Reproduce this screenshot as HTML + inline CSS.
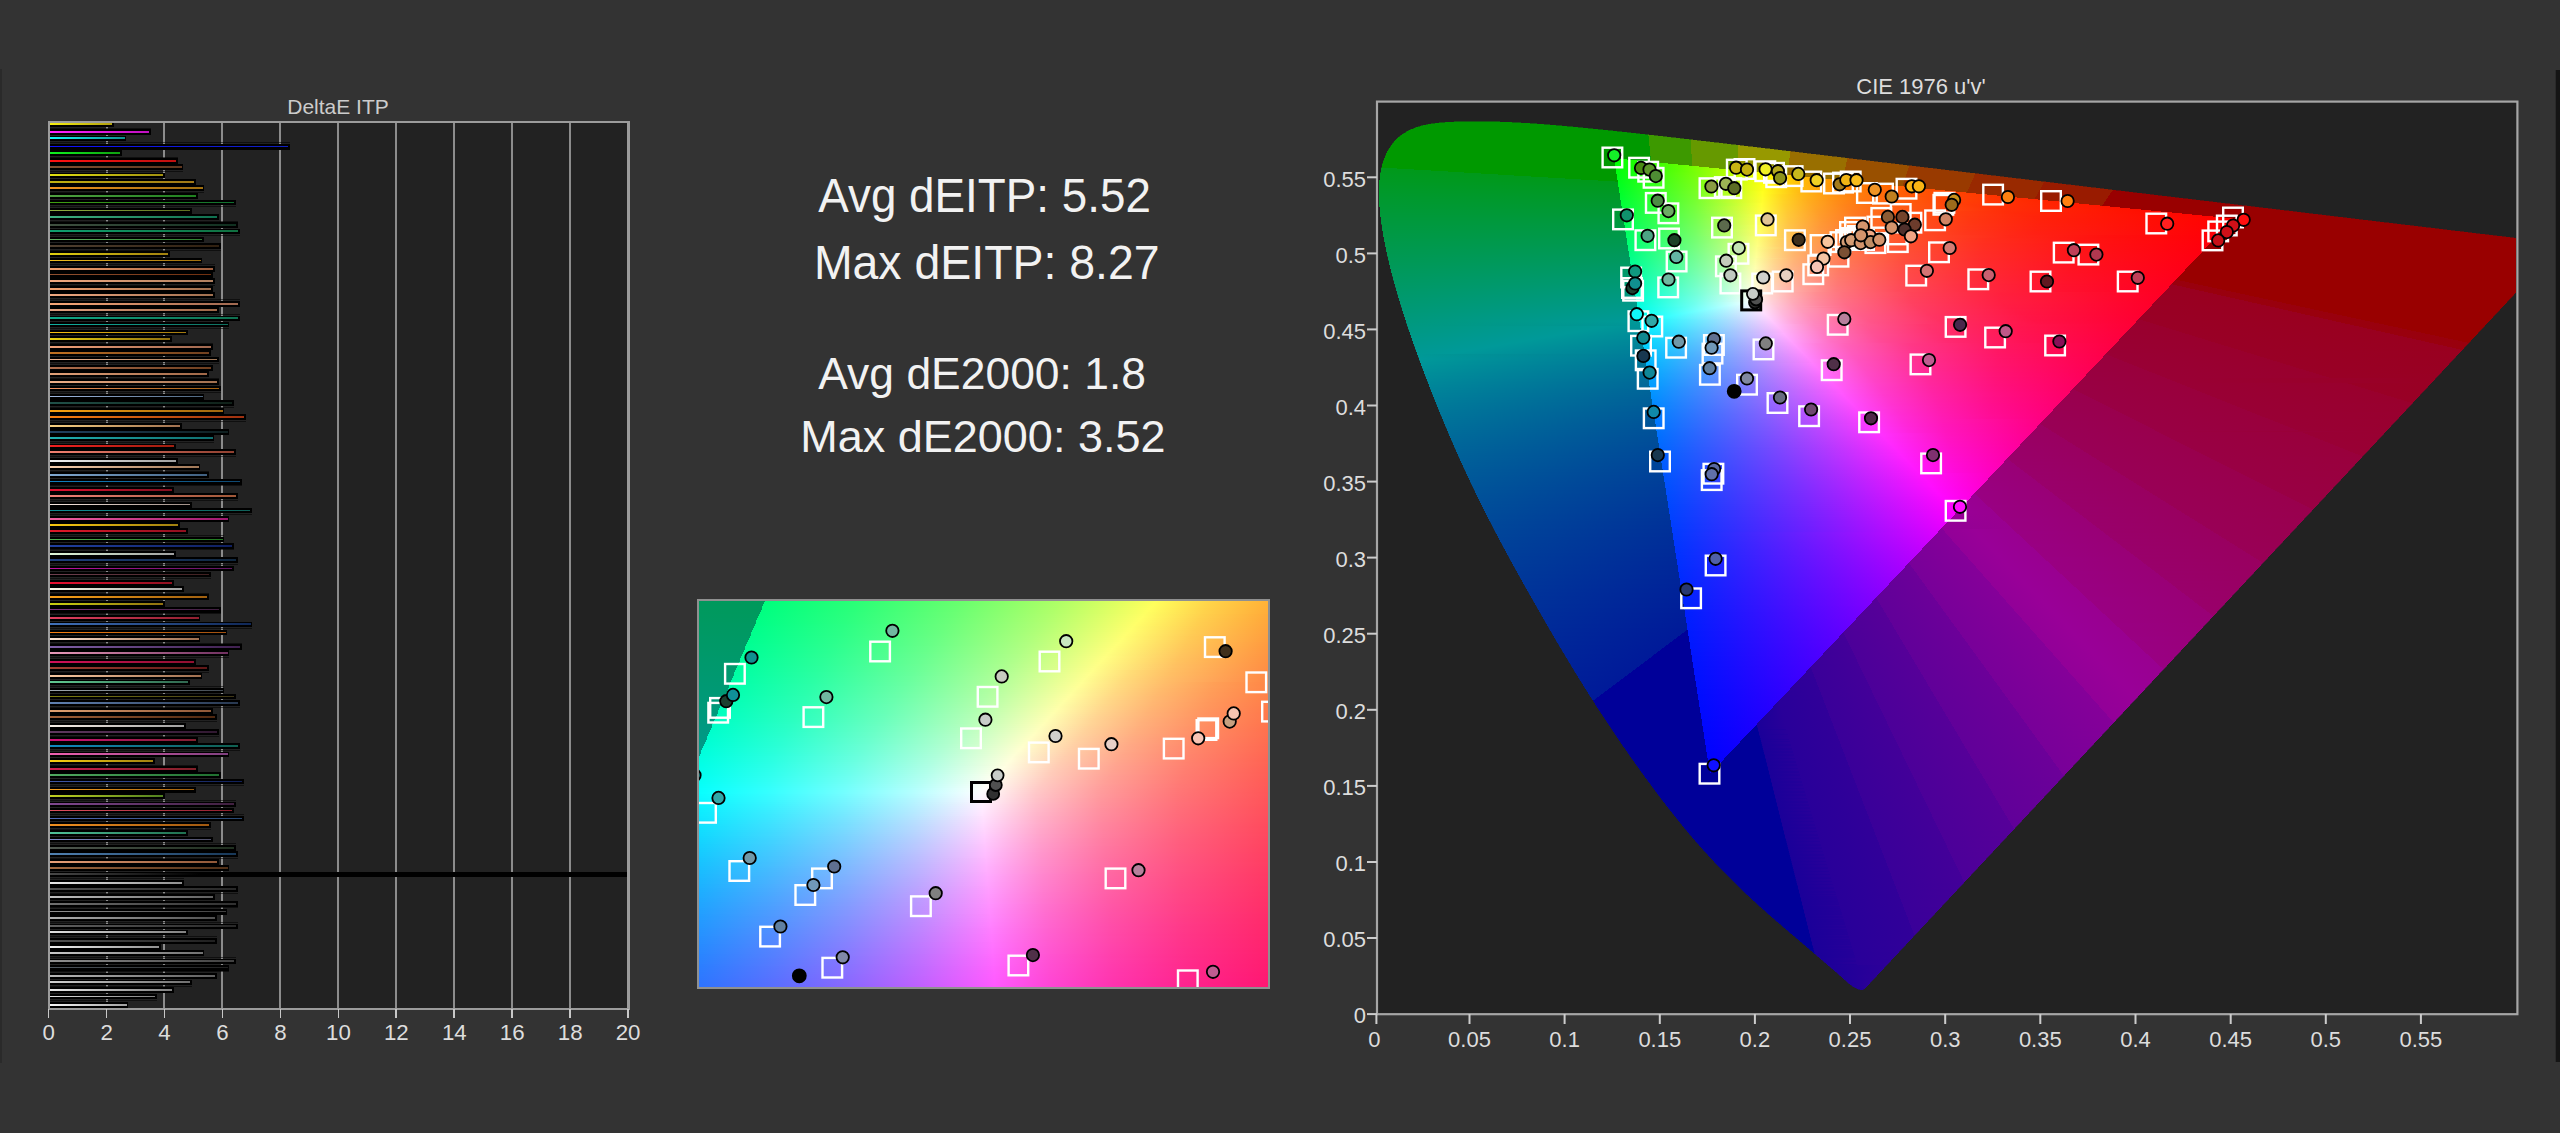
<!DOCTYPE html><html><head><meta charset="utf-8"><title>ColorChecker dEITP</title><style>
html,body{margin:0;padding:0;background:#333}
body{width:2560px;height:1133px;position:relative;overflow:hidden;font-family:"Liberation Sans",sans-serif;color:#ddd}
.a{position:absolute}
#cie i{display:block;height:1px}#ins i{display:block;height:2px}
.t{position:absolute;font-size:22px;line-height:22px;white-space:nowrap;color:#ddd}
#bars b{position:absolute;left:49px;height:5.8px;background:#000}
#bars u{position:absolute;left:49px;height:1px;background:rgba(0,0,0,.55)}
#bars i{position:absolute;left:50px;height:1.8px}
#bars s{position:absolute;top:122px;width:2px;height:886px;background:#8c8c8c}
</style></head><body>
<div class="a" style="left:0;top:69px;width:2px;height:994px;background:#2a2a2a"></div>
<div class="a" style="left:2555px;top:70px;width:5px;height:992px;background:#151515;border-left:1.5px solid #2a2a2a;box-sizing:border-box"></div>
<div id="bars" class="a" style="left:0;top:0;width:700px;height:1133px">
<div class="a" style="left:49px;top:122px;width:580px;height:886px;background:#222"></div>
<s style="left:105.5px"></s>
<s style="left:163.4px"></s>
<s style="left:221.4px"></s>
<s style="left:279.3px"></s>
<s style="left:337.2px"></s>
<s style="left:395.2px"></s>
<s style="left:453.2px"></s>
<s style="left:511.1px"></s>
<s style="left:569.1px"></s>
<b style="top:121.2px;width:64.6px"></b>
<u style="top:127.5px;width:101.7px"></u>
<b style="top:128.9px;width:101.7px"></b>
<b style="top:135.5px;width:77.3px"></b>
<u style="top:142.1px;width:240.9px"></u>
<b style="top:143.8px;width:240.9px"></b>
<b style="top:149.9px;width:72.8px"></b>
<u style="top:156.5px;width:128.6px"></u>
<b style="top:158.3px;width:128.6px"></b>
<b style="top:164.4px;width:134.2px"></b>
<u style="top:170.9px;width:134.2px"></u>
<b style="top:172.5px;width:115.9px"></b>
<b style="top:178.9px;width:146.9px"></b>
<b style="top:185.0px;width:155.0px"></b>
<u style="top:191.6px;width:155.0px"></u>
<b style="top:193.4px;width:148.9px"></b>
<b style="top:199.7px;width:186.5px"></b>
<u style="top:206.1px;width:186.5px"></u>
<b style="top:207.8px;width:142.8px"></b>
<b style="top:214.0px;width:169.8px"></b>
<u style="top:220.6px;width:188.5px"></u>
<b style="top:222.4px;width:188.5px"></b>
<b style="top:228.5px;width:190.6px"></b>
<u style="top:234.9px;width:190.6px"></u>
<b style="top:236.6px;width:154.5px"></b>
<b style="top:243.2px;width:171.8px"></b>
<u style="top:249.6px;width:171.8px"></u>
<b style="top:251.2px;width:120.5px"></b>
<b style="top:257.7px;width:153.0px"></b>
<u style="top:264.2px;width:165.7px"></u>
<b style="top:265.9px;width:165.7px"></b>
<b style="top:271.8px;width:163.7px"></b>
<b style="top:278.3px;width:165.7px"></b>
<u style="top:284.8px;width:165.7px"></u>
<b style="top:286.4px;width:163.7px"></b>
<b style="top:292.4px;width:165.7px"></b>
<u style="top:299.1px;width:190.6px"></u>
<b style="top:300.9px;width:190.6px"></b>
<b style="top:307.1px;width:169.8px"></b>
<u style="top:313.7px;width:190.6px"></u>
<b style="top:315.5px;width:190.6px"></b>
<b style="top:321.6px;width:180.4px"></b>
<u style="top:328.1px;width:180.4px"></u>
<b style="top:329.7px;width:138.8px"></b>
<b style="top:336.0px;width:122.5px"></b>
<u style="top:342.6px;width:163.7px"></u>
<b style="top:344.4px;width:163.7px"></b>
<b style="top:350.3px;width:161.6px"></b>
<b style="top:356.6px;width:169.8px"></b>
<u style="top:363.1px;width:169.8px"></u>
<b style="top:364.9px;width:163.7px"></b>
<b style="top:371.0px;width:159.6px"></b>
<u style="top:377.6px;width:169.8px"></u>
<b style="top:379.4px;width:169.8px"></b>
<b style="top:385.7px;width:171.8px"></b>
<u style="top:392.1px;width:171.8px"></u>
<b style="top:393.8px;width:155.0px"></b>
<b style="top:400.2px;width:184.5px"></b>
<u style="top:406.6px;width:184.5px"></u>
<b style="top:408.3px;width:175.3px"></b>
<b style="top:414.4px;width:196.7px"></b>
<u style="top:421.1px;width:196.7px"></u>
<b style="top:422.9px;width:132.7px"></b>
<b style="top:429.0px;width:180.4px"></b>
<b style="top:435.4px;width:165.2px"></b>
<u style="top:441.9px;width:165.2px"></u>
<b style="top:443.5px;width:126.6px"></b>
<b style="top:449.4px;width:186.5px"></b>
<u style="top:456.1px;width:186.5px"></u>
<b style="top:458.1px;width:128.6px"></b>
<b style="top:464.2px;width:151.0px"></b>
<u style="top:470.6px;width:159.6px"></u>
<b style="top:472.3px;width:159.6px"></b>
<b style="top:478.8px;width:192.6px"></b>
<u style="top:485.4px;width:192.6px"></u>
<b style="top:487.1px;width:124.6px"></b>
<b style="top:493.2px;width:188.5px"></b>
<u style="top:499.9px;width:188.5px"></u>
<b style="top:501.8px;width:142.8px"></b>
<b style="top:507.6px;width:202.8px"></b>
<u style="top:514.2px;width:202.8px"></u>
<b style="top:516.0px;width:180.4px"></b>
<b style="top:522.2px;width:130.7px"></b>
<b style="top:528.2px;width:138.8px"></b>
<u style="top:534.8px;width:175.3px"></u>
<b style="top:536.6px;width:175.3px"></b>
<b style="top:542.9px;width:184.5px"></b>
<u style="top:549.3px;width:184.5px"></u>
<b style="top:551.0px;width:126.6px"></b>
<b style="top:557.4px;width:188.5px"></b>
<u style="top:563.9px;width:188.5px"></u>
<b style="top:565.6px;width:184.5px"></b>
<b style="top:571.7px;width:161.6px"></b>
<u style="top:578.4px;width:161.6px"></u>
<b style="top:580.2px;width:124.6px"></b>
<b style="top:586.3px;width:134.7px"></b>
<u style="top:592.8px;width:159.6px"></u>
<b style="top:594.4px;width:159.6px"></b>
<b style="top:601.0px;width:115.9px"></b>
<b style="top:606.8px;width:171.8px"></b>
<u style="top:613.4px;width:171.8px"></u>
<b style="top:615.2px;width:151.0px"></b>
<b style="top:621.5px;width:203.3px"></b>
<u style="top:628.0px;width:203.3px"></u>
<b style="top:629.6px;width:178.4px"></b>
<b style="top:635.9px;width:151.0px"></b>
<u style="top:642.5px;width:192.6px"></u>
<b style="top:644.2px;width:192.6px"></b>
<b style="top:650.3px;width:180.4px"></b>
<u style="top:657.0px;width:180.4px"></u>
<b style="top:658.9px;width:146.9px"></b>
<b style="top:665.1px;width:159.6px"></b>
<u style="top:671.5px;width:159.6px"></u>
<b style="top:673.1px;width:153.0px"></b>
<b style="top:679.5px;width:140.8px"></b>
<u style="top:686.0px;width:175.3px"></u>
<b style="top:687.6px;width:175.3px"></b>
<b style="top:693.7px;width:186.5px"></b>
<b style="top:700.1px;width:190.6px"></b>
<u style="top:706.5px;width:190.6px"></u>
<b style="top:708.2px;width:163.7px"></b>
<b style="top:714.3px;width:167.7px"></b>
<u style="top:721.0px;width:167.7px"></u>
<b style="top:722.9px;width:136.7px"></b>
<b style="top:729.0px;width:169.8px"></b>
<u style="top:735.5px;width:169.8px"></u>
<b style="top:737.2px;width:148.9px"></b>
<b style="top:743.4px;width:190.6px"></b>
<u style="top:749.8px;width:190.6px"></u>
<b style="top:751.5px;width:180.4px"></b>
<b style="top:758.0px;width:105.8px"></b>
<u style="top:764.5px;width:148.9px"></u>
<b style="top:766.2px;width:148.9px"></b>
<b style="top:772.3px;width:171.8px"></b>
<b style="top:778.7px;width:194.6px"></b>
<u style="top:785.2px;width:194.6px"></u>
<b style="top:786.8px;width:146.9px"></b>
<b style="top:792.9px;width:115.9px"></b>
<u style="top:799.6px;width:186.5px"></u>
<b style="top:801.5px;width:186.5px"></b>
<b style="top:807.6px;width:184.5px"></b>
<u style="top:814.0px;width:194.6px"></u>
<b style="top:815.7px;width:194.6px"></b>
<b style="top:822.1px;width:161.6px"></b>
<u style="top:828.5px;width:161.6px"></u>
<b style="top:830.2px;width:138.8px"></b>
<b style="top:836.6px;width:163.7px"></b>
<u style="top:843.2px;width:186.5px"></u>
<b style="top:845.0px;width:186.5px"></b>
<b style="top:850.9px;width:188.5px"></b>
<u style="top:857.5px;width:188.5px"></u>
<b style="top:859.3px;width:169.8px"></b>
<b style="top:865.4px;width:180.4px"></b>
<b style="top:871.5px;width:580.0px"></b>
<u style="top:878.1px;width:134.7px"></u>
<b style="top:880.0px;width:134.7px"></b>
<b style="top:886.2px;width:188.5px"></b>
<u style="top:892.7px;width:188.5px"></u>
<b style="top:894.3px;width:165.7px"></b>
<b style="top:901.0px;width:188.5px"></b>
<u style="top:907.3px;width:188.5px"></u>
<b style="top:908.8px;width:178.4px"></b>
<b style="top:914.9px;width:167.7px"></b>
<u style="top:921.6px;width:188.5px"></u>
<b style="top:923.5px;width:188.5px"></b>
<b style="top:929.5px;width:138.8px"></b>
<u style="top:936.1px;width:167.7px"></u>
<b style="top:938.0px;width:167.7px"></b>
<b style="top:944.1px;width:111.9px"></b>
<b style="top:950.2px;width:155.0px"></b>
<u style="top:956.8px;width:186.5px"></u>
<b style="top:958.5px;width:186.5px"></b>
<b style="top:964.8px;width:180.4px"></b>
<u style="top:971.2px;width:180.4px"></u>
<b style="top:972.9px;width:167.7px"></b>
<b style="top:979.5px;width:142.8px"></b>
<u style="top:985.8px;width:142.8px"></u>
<b style="top:987.4px;width:124.6px"></b>
<b style="top:993.7px;width:107.8px"></b>
<u style="top:1000.4px;width:107.8px"></u>
<b style="top:1002.3px;width:79.2px"></b>
<i style="top:123.1px;width:62.1px;background:linear-gradient(90deg,#f8f010,#b0a010)"></i>
<i style="top:130.8px;width:99.2px;background:linear-gradient(90deg,#ff20ff,#c010c0)"></i>
<i style="top:137.4px;width:74.8px;background:linear-gradient(90deg,#10f8f8,#109090)"></i>
<i style="top:145.7px;width:238.4px;background:linear-gradient(90deg,#1010ff,#1020c0)"></i>
<i style="top:151.8px;width:70.3px;background:linear-gradient(90deg,#10f020,#10a010)"></i>
<i style="top:160.2px;width:126.1px;background:linear-gradient(90deg,#ff1010,#c01010)"></i>
<i style="top:166.3px;width:131.7px;background:linear-gradient(90deg,#805030,#603820)"></i>
<i style="top:174.4px;width:113.4px;background:linear-gradient(90deg,#e0e010,#a09010)"></i>
<i style="top:180.8px;width:144.4px;background:linear-gradient(90deg,#c0b010,#a07818)"></i>
<i style="top:186.9px;width:152.5px;background:linear-gradient(90deg,#f09020,#a07010)"></i>
<i style="top:195.3px;width:146.4px;background:linear-gradient(90deg,#50a040,#208020)"></i>
<i style="top:201.6px;width:184.0px;background:linear-gradient(90deg,#40a010,#107030)"></i>
<i style="top:209.7px;width:140.3px;background:linear-gradient(90deg,#90b040,#607020)"></i>
<i style="top:215.9px;width:167.3px;background:linear-gradient(90deg,#40b080,#107050)"></i>
<i style="top:224.3px;width:186.0px;background:linear-gradient(90deg,#405040,#103020)"></i>
<i style="top:230.4px;width:188.1px;background:linear-gradient(90deg,#10a070,#107040)"></i>
<i style="top:238.5px;width:152.0px;background:linear-gradient(90deg,#60b060,#308030)"></i>
<i style="top:245.1px;width:169.3px;background:linear-gradient(90deg,#504030,#302010)"></i>
<i style="top:253.1px;width:118.0px;background:linear-gradient(90deg,#e0d010,#a08010)"></i>
<i style="top:259.6px;width:150.5px;background:linear-gradient(90deg,#f0c020,#a07010)"></i>
<i style="top:267.8px;width:163.2px;background:linear-gradient(90deg,#f0a070,#a06040)"></i>
<i style="top:273.7px;width:161.2px;background:linear-gradient(90deg,#905030,#703010)"></i>
<i style="top:280.2px;width:163.2px;background:linear-gradient(90deg,#f0a880,#b08060)"></i>
<i style="top:288.3px;width:161.2px;background:linear-gradient(90deg,#f0a070,#a07050)"></i>
<i style="top:294.3px;width:163.2px;background:linear-gradient(90deg,#f0a880,#a07050)"></i>
<i style="top:302.8px;width:188.1px;background:linear-gradient(90deg,#f8a878,#a06850)"></i>
<i style="top:309.0px;width:167.3px;background:linear-gradient(90deg,#e0a080,#a06848)"></i>
<i style="top:317.4px;width:188.1px;background:linear-gradient(90deg,#10a888,#107050)"></i>
<i style="top:323.5px;width:177.9px;background:linear-gradient(90deg,#10b0a0,#107060)"></i>
<i style="top:331.6px;width:136.3px;background:linear-gradient(90deg,#f8c010,#a07810)"></i>
<i style="top:337.9px;width:120.0px;background:linear-gradient(90deg,#e8d010,#907010)"></i>
<i style="top:346.3px;width:161.2px;background:linear-gradient(90deg,#f0a078,#a06850)"></i>
<i style="top:352.2px;width:159.1px;background:linear-gradient(90deg,#c07020,#704020)"></i>
<i style="top:358.5px;width:167.3px;background:linear-gradient(90deg,#e8b090,#a07858)"></i>
<i style="top:366.8px;width:161.2px;background:linear-gradient(90deg,#b07050,#704020)"></i>
<i style="top:372.9px;width:157.1px;background:linear-gradient(90deg,#e0a078,#a06848)"></i>
<i style="top:381.3px;width:167.3px;background:linear-gradient(90deg,#f0b088,#a07050)"></i>
<i style="top:387.6px;width:169.3px;background:linear-gradient(90deg,#f09060,#a06010)"></i>
<i style="top:395.7px;width:152.5px;background:linear-gradient(90deg,#a0b8e0,#506880)"></i>
<i style="top:402.1px;width:182.0px;background:linear-gradient(90deg,#205048,#102018)"></i>
<i style="top:410.2px;width:172.8px;background:linear-gradient(90deg,#f8a010,#a06810)"></i>
<i style="top:416.3px;width:194.2px;background:linear-gradient(90deg,#f88010,#a03010)"></i>
<i style="top:424.8px;width:130.2px;background:linear-gradient(90deg,#f8d080,#a07050)"></i>
<i style="top:430.9px;width:177.9px;background:linear-gradient(90deg,#204060,#102020)"></i>
<i style="top:437.3px;width:162.7px;background:linear-gradient(90deg,#20b0b0,#107070)"></i>
<i style="top:445.4px;width:124.1px;background:linear-gradient(90deg,#f02020,#a02010)"></i>
<i style="top:451.3px;width:184.0px;background:linear-gradient(90deg,#f08070,#904030)"></i>
<i style="top:460.0px;width:126.1px;background:linear-gradient(90deg,#f0f0f0,#a0a0a0)"></i>
<i style="top:466.1px;width:148.5px;background:linear-gradient(90deg,#f8d0b0,#a07858)"></i>
<i style="top:474.2px;width:157.1px;background:linear-gradient(90deg,#80a8d0,#406080)"></i>
<i style="top:480.7px;width:190.1px;background:linear-gradient(90deg,#1080c0,#104870)"></i>
<i style="top:489.0px;width:122.1px;background:linear-gradient(90deg,#e01030,#801020)"></i>
<i style="top:495.1px;width:186.0px;background:linear-gradient(90deg,#f08078,#a05838)"></i>
<i style="top:503.7px;width:140.3px;background:linear-gradient(90deg,#f8e8e0,#a09088)"></i>
<i style="top:509.5px;width:200.3px;background:linear-gradient(90deg,#109098,#106058)"></i>
<i style="top:517.9px;width:177.9px;background:linear-gradient(90deg,#f060a0,#a01870)"></i>
<i style="top:524.1px;width:128.2px;background:linear-gradient(90deg,#f8c810,#a08010)"></i>
<i style="top:530.1px;width:136.3px;background:linear-gradient(90deg,#e01828,#901020)"></i>
<i style="top:538.5px;width:172.8px;background:linear-gradient(90deg,#50b050,#207820)"></i>
<i style="top:544.8px;width:182.0px;background:linear-gradient(90deg,#2040a0,#102060)"></i>
<i style="top:552.9px;width:124.1px;background:linear-gradient(90deg,#e0f8d8,#a0a0a0)"></i>
<i style="top:559.3px;width:186.0px;background:linear-gradient(90deg,#204080,#102840)"></i>
<i style="top:567.5px;width:182.0px;background:linear-gradient(90deg,#c010a0,#601860)"></i>
<i style="top:573.6px;width:159.1px;background:linear-gradient(90deg,#704050,#402020)"></i>
<i style="top:582.1px;width:122.1px;background:linear-gradient(90deg,#e81030,#901020)"></i>
<i style="top:588.2px;width:132.2px;background:linear-gradient(90deg,#f8f8e8,#a0a0a0)"></i>
<i style="top:596.3px;width:157.1px;background:linear-gradient(90deg,#f8a018,#a06010)"></i>
<i style="top:602.9px;width:113.4px;background:linear-gradient(90deg,#c8d010,#907010)"></i>
<i style="top:608.7px;width:169.3px;background:linear-gradient(90deg,#803880,#402040)"></i>
<i style="top:617.1px;width:148.5px;background:linear-gradient(90deg,#e04060,#902030)"></i>
<i style="top:623.4px;width:200.8px;background:linear-gradient(90deg,#4070b8,#102858)"></i>
<i style="top:631.5px;width:175.9px;background:linear-gradient(90deg,#f88010,#a05010)"></i>
<i style="top:637.8px;width:148.5px;background:linear-gradient(90deg,#f8e0d0,#a07050)"></i>
<i style="top:646.1px;width:190.1px;background:linear-gradient(90deg,#8060a8,#402050)"></i>
<i style="top:652.2px;width:177.9px;background:linear-gradient(90deg,#e898b8,#703060)"></i>
<i style="top:660.8px;width:144.4px;background:linear-gradient(90deg,#d01058,#901030)"></i>
<i style="top:667.0px;width:157.1px;background:linear-gradient(90deg,#a04030,#601818)"></i>
<i style="top:675.0px;width:150.5px;background:linear-gradient(90deg,#f8c8a0,#a07050)"></i>
<i style="top:681.4px;width:138.3px;background:linear-gradient(90deg,#60c890,#306850)"></i>
<i style="top:689.5px;width:172.8px;background:linear-gradient(90deg,#a0a8b0,#404850)"></i>
<i style="top:695.6px;width:184.0px;background:linear-gradient(90deg,#808010,#403818)"></i>
<i style="top:702.0px;width:188.1px;background:linear-gradient(90deg,#6080b0,#283850)"></i>
<i style="top:710.1px;width:161.2px;background:linear-gradient(90deg,#e0a070,#905838)"></i>
<i style="top:716.2px;width:165.2px;background:linear-gradient(90deg,#a06038,#502810)"></i>
<i style="top:724.8px;width:134.2px;background:linear-gradient(90deg,#f8f0e8,#a0a0a0)"></i>
<i style="top:730.9px;width:167.3px;background:linear-gradient(90deg,#603860,#301830)"></i>
<i style="top:739.1px;width:146.4px;background:linear-gradient(90deg,#d01078,#802030)"></i>
<i style="top:745.3px;width:188.1px;background:linear-gradient(90deg,#1088c0,#106050)"></i>
<i style="top:753.4px;width:177.9px;background:linear-gradient(90deg,#f060b0,#804080)"></i>
<i style="top:759.9px;width:103.3px;background:linear-gradient(90deg,#f8d010,#a08010)"></i>
<i style="top:768.1px;width:146.4px;background:linear-gradient(90deg,#d02050,#802028)"></i>
<i style="top:774.2px;width:169.3px;background:linear-gradient(90deg,#50a860,#207030)"></i>
<i style="top:780.6px;width:192.1px;background:linear-gradient(90deg,#4058a8,#102058)"></i>
<i style="top:788.7px;width:144.4px;background:linear-gradient(90deg,#f8a020,#a06010)"></i>
<i style="top:794.8px;width:113.4px;background:linear-gradient(90deg,#c0d020,#508020)"></i>
<i style="top:803.4px;width:184.0px;background:linear-gradient(90deg,#804890,#402040)"></i>
<i style="top:809.5px;width:182.0px;background:linear-gradient(90deg,#e05060,#902030)"></i>
<i style="top:817.6px;width:192.1px;background:linear-gradient(90deg,#5068b8,#284870)"></i>
<i style="top:824.0px;width:159.1px;background:linear-gradient(90deg,#f09020,#a05810)"></i>
<i style="top:832.1px;width:136.3px;background:linear-gradient(90deg,#50c098,#207050)"></i>
<i style="top:838.5px;width:161.2px;background:linear-gradient(90deg,#8088c8,#505068)"></i>
<i style="top:846.9px;width:184.0px;background:linear-gradient(90deg,#505850,#203020)"></i>
<i style="top:852.8px;width:186.0px;background:linear-gradient(90deg,#5080b0,#183858)"></i>
<i style="top:861.2px;width:167.3px;background:linear-gradient(90deg,#e8a078,#905838)"></i>
<i style="top:867.3px;width:177.9px;background:linear-gradient(90deg,#a06840,#503018)"></i>
<i style="top:873.4px;width:150.0px;background:linear-gradient(90deg,#484848,#000000)"></i>
<i style="top:881.9px;width:132.2px;background:linear-gradient(90deg,#e8e8e8,#909090)"></i>
<i style="top:888.1px;width:186.0px;background:linear-gradient(90deg,#505050,#282828)"></i>
<i style="top:896.2px;width:163.2px;background:linear-gradient(90deg,#c0c0c0,#606060)"></i>
<i style="top:902.9px;width:186.0px;background:linear-gradient(90deg,#707070,#303030)"></i>
<i style="top:910.7px;width:175.9px;background:linear-gradient(90deg,#909090,#404040)"></i>
<i style="top:916.8px;width:165.2px;background:linear-gradient(90deg,#b0b0b0,#505050)"></i>
<i style="top:925.4px;width:186.0px;background:linear-gradient(90deg,#606060,#282828)"></i>
<i style="top:931.4px;width:136.3px;background:linear-gradient(90deg,#e0e0e0,#808080)"></i>
<i style="top:939.9px;width:165.2px;background:linear-gradient(90deg,#505050,#202020)"></i>
<i style="top:946.0px;width:109.4px;background:linear-gradient(90deg,#f0f0f0,#909090)"></i>
<i style="top:952.1px;width:152.5px;background:linear-gradient(90deg,#c8c8c8,#707070)"></i>
<i style="top:960.4px;width:184.0px;background:linear-gradient(90deg,#909090,#404040)"></i>
<i style="top:966.7px;width:177.9px;background:linear-gradient(90deg,#505860,#202020)"></i>
<i style="top:974.8px;width:165.2px;background:linear-gradient(90deg,#b8b8b8,#606060)"></i>
<i style="top:981.4px;width:140.3px;background:linear-gradient(90deg,#d0d0d0,#707070)"></i>
<i style="top:989.3px;width:122.1px;background:linear-gradient(90deg,#e8e8e8,#808080)"></i>
<i style="top:995.6px;width:105.3px;background:linear-gradient(90deg,#e0e0e0,#808080)"></i>
<i style="top:1004.2px;width:76.7px;background:linear-gradient(90deg,#f8f8f8,#a0a0a0)"></i>
<div class="a" style="left:47.6px;top:121px;width:577.3px;height:884.6px;border:2px solid #9c9c9c;border-right-width:3.2px;box-sizing:content-box"></div>
<div class="a" style="left:47.7px;top:1009px;width:1.8px;height:9px;background:#c8c8c8"></div>
<div class="a" style="left:105.7px;top:1009px;width:1.8px;height:9px;background:#c8c8c8"></div>
<div class="a" style="left:163.6px;top:1009px;width:1.8px;height:9px;background:#c8c8c8"></div>
<div class="a" style="left:221.6px;top:1009px;width:1.8px;height:9px;background:#c8c8c8"></div>
<div class="a" style="left:279.5px;top:1009px;width:1.8px;height:9px;background:#c8c8c8"></div>
<div class="a" style="left:337.5px;top:1009px;width:1.8px;height:9px;background:#c8c8c8"></div>
<div class="a" style="left:395.4px;top:1009px;width:1.8px;height:9px;background:#c8c8c8"></div>
<div class="a" style="left:453.4px;top:1009px;width:1.8px;height:9px;background:#c8c8c8"></div>
<div class="a" style="left:511.3px;top:1009px;width:1.8px;height:9px;background:#c8c8c8"></div>
<div class="a" style="left:569.3px;top:1009px;width:1.8px;height:9px;background:#c8c8c8"></div>
<div class="a" style="left:627.2px;top:1009px;width:1.8px;height:9px;background:#c8c8c8"></div>
</div>
<div class="t" style="left:18.6px;top:1021.5px;width:60px;text-align:center;font-size:22.3px">0</div>
<div class="t" style="left:76.6px;top:1021.5px;width:60px;text-align:center;font-size:22.3px">2</div>
<div class="t" style="left:134.5px;top:1021.5px;width:60px;text-align:center;font-size:22.3px">4</div>
<div class="t" style="left:192.5px;top:1021.5px;width:60px;text-align:center;font-size:22.3px">6</div>
<div class="t" style="left:250.4px;top:1021.5px;width:60px;text-align:center;font-size:22.3px">8</div>
<div class="t" style="left:308.4px;top:1021.5px;width:60px;text-align:center;font-size:22.3px">10</div>
<div class="t" style="left:366.3px;top:1021.5px;width:60px;text-align:center;font-size:22.3px">12</div>
<div class="t" style="left:424.3px;top:1021.5px;width:60px;text-align:center;font-size:22.3px">14</div>
<div class="t" style="left:482.2px;top:1021.5px;width:60px;text-align:center;font-size:22.3px">16</div>
<div class="t" style="left:540.2px;top:1021.5px;width:60px;text-align:center;font-size:22.3px">18</div>
<div class="t" style="left:598.1px;top:1021.5px;width:60px;text-align:center;font-size:22.3px">20</div>
<div class="t" style="left:238px;top:95.5px;width:200px;text-align:center;font-size:21px;color:#ccc">DeltaE ITP</div>
<svg class="a" style="left:816px;top:151px" width="340" height="80"><text x="2.3" y="60.8" textLength="332.6" lengthAdjust="spacingAndGlyphs" font-family='Liberation Sans,sans-serif' font-size="47.5" fill="#f2f2f2">Avg dEITP: 5.52</text></svg>
<svg class="a" style="left:811px;top:219px" width="353" height="80"><text x="2.9" y="60.0" textLength="345.7" lengthAdjust="spacingAndGlyphs" font-family='Liberation Sans,sans-serif' font-size="47.5" fill="#f2f2f2">Max dEITP: 8.27</text></svg>
<svg class="a" style="left:816px;top:329px" width="335" height="80"><text x="2.3" y="60.4" textLength="327.7" lengthAdjust="spacingAndGlyphs" font-family='Liberation Sans,sans-serif' font-size="44.8" fill="#f2f2f2">Avg dE2000: 1.8</text></svg>
<svg class="a" style="left:798px;top:392px" width="373" height="80"><text x="2.2" y="60.0" textLength="365.3" lengthAdjust="spacingAndGlyphs" font-family='Liberation Sans,sans-serif' font-size="44.8" fill="#f2f2f2">Max dE2000: 3.52</text></svg>
<div id="ins" class="a" style="left:698px;top:600px;width:571px;height:388px;background:#ccc;overflow:hidden">
<i style="background:linear-gradient(90deg,#00995c 0.5px,#00995a 66.5px,#00ff7c 67.5px,#2bff75 159.5px,#6aff6d 264.5px,#b0ff64 363.5px,#feff5b 458.5px,#ffd547 512.5px,#ffb237 570.5px)"></i>
<i style="background:linear-gradient(90deg,#00995d 0.5px,#00995b 65.5px,#00ff7d 66.5px,#2bff77 157.5px,#69ff6e 262.5px,#afff66 361.5px,#feff5c 456.5px,#ffd448 511.5px,#ffb137 570.5px)"></i>
<i style="background:linear-gradient(90deg,#00995d 0.5px,#00995b 64.5px,#00ff7e 65.5px,#2bff78 156.5px,#69ff6f 261.5px,#b0ff67 360.5px,#ffff5d 455.5px,#ffd449 509.5px,#ffb037 570.5px)"></i>
<i style="background:linear-gradient(90deg,#00995e 0.5px,#00995c 63.5px,#00ff7f 64.5px,#2bff79 155.5px,#6aff71 260.5px,#b0ff68 359.5px,#ffff5f 453.5px,#ffd44a 508.5px,#ffaf38 570.5px)"></i>
<i style="background:linear-gradient(90deg,#00995e 0.5px,#00995c 63.5px,#00ff80 64.5px,#2bff7a 155.5px,#6aff72 259.5px,#b0ff69 357.5px,#ffff60 451.5px,#ffd34a 507.5px,#ffae38 570.5px)"></i>
<i style="background:linear-gradient(90deg,#00995f 0.5px,#00995d 62.5px,#00ff81 63.5px,#2bff7b 154.5px,#69ff73 257.5px,#b0ff6a 355.5px,#ffff61 449.5px,#ffd24b 506.5px,#ffad39 570.5px)"></i>
<i style="background:linear-gradient(90deg,#00995f 0.5px,#00995d 61.5px,#00ff82 62.5px,#2bff7c 152.5px,#6aff74 256.5px,#b0ff6b 354.5px,#feff62 447.5px,#ffd24c 505.5px,#ffac39 570.5px)"></i>
<i style="background:linear-gradient(90deg,#009960 0.5px,#00995e 60.5px,#00ff83 61.5px,#2bff7d 151.5px,#69ff75 254.5px,#b0ff6d 352.5px,#feff64 445.5px,#ffd04c 505.5px,#ffaa39 570.5px)"></i>
<i style="background:linear-gradient(90deg,#009960 0.5px,#00995e 59.5px,#00ff84 60.5px,#2bff7e 150.5px,#69ff76 253.5px,#b0ff6e 351.5px,#ffff65 444.5px,#ffd14e 502.5px,#ffa93a 570.5px)"></i>
<i style="background:linear-gradient(90deg,#009961 0.5px,#00995f 58.5px,#00ff85 59.5px,#2bff7f 149.5px,#6aff77 252.5px,#b0ff6f 349.5px,#ff6 442.5px,#ffd04e 501.5px,#ffa83a 570.5px)"></i>
<i style="background:linear-gradient(90deg,#009961 0.5px,#00995f 57.5px,#00ff86 58.5px,#2bff80 147.5px,#69ff79 250.5px,#b0ff70 347.5px,#ffff68 440.5px,#ffcf4f 501.5px,#ffa73a 570.5px)"></i>
<i style="background:linear-gradient(90deg,#009962 0.5px,#009960 57.5px,#00ff87 58.5px,#2bff81 147.5px,#69ff7a 249.5px,#b0ff72 346.5px,#ffff69 438.5px,#ffce50 500.5px,#ffa63b 570.5px)"></i>
<i style="background:linear-gradient(90deg,#009962 0.5px,#009961 56.5px,#0f8 57.5px,#2bff83 146.5px,#6aff7b 248.5px,#b0ff73 344.5px,#ffff6a 436.5px,#ffce50 499.5px,#ffa53b 570.5px)"></i>
<i style="background:linear-gradient(90deg,#009963 0.5px,#009961 55.5px,#00ff8a 56.5px,#2bff84 145.5px,#69ff7c 246.5px,#afff74 342.5px,#feff6c 434.5px,#ffcd51 498.5px,#ffa43c 570.5px)"></i>
<i style="background:linear-gradient(90deg,#009963 0.5px,#009962 54.5px,#00ff8b 55.5px,#2bff85 143.5px,#69ff7d 245.5px,#b0ff75 341.5px,#ffff6d 433.5px,#ffcd52 496.5px,#ffa33c 570.5px)"></i>
<i style="background:linear-gradient(90deg,#009964 0.5px,#009962 53.5px,#00ff8c 54.5px,#2bff86 142.5px,#6aff7f 244.5px,#b0ff77 340.5px,#ffff6e 431.5px,#ffcc53 495.5px,#ffa23c 570.5px)"></i>
<i style="background:linear-gradient(90deg,#009964 0.5px,#009963 52.5px,#00ff8d 53.5px,#2bff87 141.5px,#69ff80 242.5px,#b0ff78 338.5px,#ffff70 429.5px,#ffcc54 494.5px,#ffa13d 570.5px)"></i>
<i style="background:linear-gradient(90deg,#009965 0.5px,#009963 52.5px,#00ff8e 53.5px,#2bff88 141.5px,#6aff81 242.5px,#b1ff79 337.5px,#ffff71 427.5px,#ffcb55 493.5px,#ffa03d 570.5px)"></i>
<i style="background:linear-gradient(90deg,#096 0.5px,#009964 51.5px,#00ff8f 52.5px,#2cff89 140.5px,#6aff82 240.5px,#b0ff7b 335.5px,#ffff72 425.5px,#ffca55 492.5px,#ff9f3e 570.5px)"></i>
<i style="background:linear-gradient(90deg,#096 0.5px,#009965 50.5px,#00ff90 51.5px,#2bff8b 138.5px,#69ff84 238.5px,#afff7c 332.5px,#ffff74 424.5px,#ffca56 491.5px,#ff9e3e 570.5px)"></i>
<i style="background:linear-gradient(90deg,#009967 0.5px,#009965 49.5px,#00ff91 50.5px,#2bff8c 137.5px,#6aff85 237.5px,#b0ff7d 331.5px,#ffff75 422.5px,#ffc957 490.5px,#ff9d3e 570.5px)"></i>
<i style="background:linear-gradient(90deg,#009967 0.5px,#096 48.5px,#00ff92 49.5px,#2bff8d 136.5px,#6aff86 236.5px,#b0ff7f 330.5px,#ff7 420.5px,#ffc958 488.5px,#ff9b3f 570.5px)"></i>
<i style="background:linear-gradient(90deg,#009968 0.5px,#096 47.5px,#00ff94 48.5px,#2bff8e 134.5px,#69ff87 234.5px,#b0ff80 328.5px,#ffff78 418.5px,#ffc859 487.5px,#ff9a3f 570.5px)"></i>
<i style="background:linear-gradient(90deg,#009968 0.5px,#009967 46.5px,#00ff95 47.5px,#2bff8f 133.5px,#6aff89 233.5px,#b0ff81 327.5px,#ffff79 416.5px,#ffc759 487.5px,#ff993f 570.5px)"></i>
<i style="background:linear-gradient(90deg,#009969 0.5px,#009967 46.5px,#00ff96 47.5px,#2bff91 133.5px,#6aff8a 232.5px,#b0ff83 325.5px,#ffff7b 414.5px,#ffc65a 486.5px,#ff9840 570.5px)"></i>
<i style="background:linear-gradient(90deg,#009969 0.5px,#009968 45.5px,#00ff97 46.5px,#2bff92 132.5px,#69ff8b 230.5px,#b0ff84 323.5px,#feff7c 412.5px,#ffc65b 485.5px,#ff9740 570.5px)"></i>
<i style="background:linear-gradient(90deg,#00996a 0.5px,#009969 44.5px,#00ff98 45.5px,#2bff93 131.5px,#6aff8c 229.5px,#b0ff85 322.5px,#feff7e 410.5px,#ffc55c 484.5px,#ff9641 570.5px)"></i>
<i style="background:linear-gradient(90deg,#00996a 0.5px,#009969 43.5px,#0f9 44.5px,#2bff94 129.5px,#69ff8e 227.5px,#b0ff87 320.5px,#feff7f 408.5px,#ffc45d 483.5px,#ff9541 570.5px)"></i>
<i style="background:linear-gradient(90deg,#00996b 0.5px,#00996a 42.5px,#00ff9a 43.5px,#2bff95 128.5px,#69ff8f 226.5px,#b0ff88 319.5px,#ffff81 407.5px,#ffc45e 481.5px,#ff9441 570.5px)"></i>
<i style="background:linear-gradient(90deg,#00996c 0.5px,#00996a 41.5px,#00ff9c 42.5px,#2bff97 127.5px,#6aff90 225.5px,#b0ff8a 317.5px,#ffff82 405.5px,#ffc35e 480.5px,#ff9342 570.5px)"></i>
<i style="background:linear-gradient(90deg,#00996c 0.5px,#00996b 41.5px,#00ff9d 42.5px,#2cff98 127.5px,#6aff92 224.5px,#b0ff8b 316.5px,#ffff84 403.5px,#ffc35f 479.5px,#ff9242 570.5px)"></i>
<i style="background:linear-gradient(90deg,#00996d 0.5px,#00996c 40.5px,#00ff9e 41.5px,#2bff99 125.5px,#69ff93 222.5px,#b0ff8c 314.5px,#ffff85 401.5px,#ffc260 478.5px,#ff9142 570.5px)"></i>
<i style="background:linear-gradient(90deg,#00996d 0.5px,#00996c 39.5px,#00ff9f 40.5px,#2bff9a 124.5px,#6aff94 221.5px,#b0ff8e 312.5px,#feff87 399.5px,#ffc161 477.5px,#ff9043 570.5px)"></i>
<i style="background:linear-gradient(90deg,#00996e 0.5px,#00996d 38.5px,#00ffa0 39.5px,#2bff9c 123.5px,#69ff96 219.5px,#afff8f 310.5px,#feff88 397.5px,#ffc162 476.5px,#ff8f43 570.5px)"></i>
<i style="background:linear-gradient(90deg,#00996e 0.5px,#00996d 37.5px,#00ffa2 38.5px,#2bff9d 122.5px,#69ff97 218.5px,#b0ff91 309.5px,#feff8a 395.5px,#ffc062 475.5px,#ff8e44 570.5px)"></i>
<i style="background:linear-gradient(90deg,#00996f 0.5px,#00996e 36.5px,#00ffa3 37.5px,#2bff9e 121.5px,#6aff98 217.5px,#b0ff92 308.5px,#ffff8b 394.5px,#ffdd76 432.5px,#ffc064 473.5px,#ff8d44 570.5px)"></i>
<i style="background:linear-gradient(90deg,#009970 0.5px,#00996f 35.5px,#00ffa4 36.5px,#2bffa0 119.5px,#69ff9a 215.5px,#b0ff94 306.5px,#ffff8d 392.5px,#fd7 431.5px,#ffbf64 472.5px,#ff8c44 570.5px)"></i>
<i style="background:linear-gradient(90deg,#009970 0.5px,#00996f 35.5px,#00ffa5 36.5px,#2bffa1 119.5px,#69ff9b 214.5px,#b0ff95 304.5px,#ffff8f 390.5px,#ffdc78 430.5px,#ffbf65 471.5px,#ff8b45 570.5px)"></i>
<i style="background:linear-gradient(90deg,#009971 0.5px,#009970 34.5px,#00ffa7 35.5px,#2bffa2 118.5px,#6aff9d 213.5px,#b0ff97 303.5px,#feff90 388.5px,#ffdc79 428.5px,#ffbe66 470.5px,#ff8a45 570.5px)"></i>
<i style="background:linear-gradient(90deg,#009971 0.5px,#009971 33.5px,#00ffa8 34.5px,#2bffa4 117.5px,#69ff9e 211.5px,#b0ff98 301.5px,#feff92 386.5px,#ffdb7a 427.5px,#ffbd67 469.5px,#ff8945 570.5px)"></i>
<i style="background:linear-gradient(90deg,#009972 0.5px,#009971 32.5px,#00ffa9 33.5px,#2bffa5 115.5px,#6aff9f 210.5px,#b0ff9a 299.5px,#feff93 384.5px,#ffda7b 426.5px,#ffbd68 468.5px,#ff8846 570.5px)"></i>
<i style="background:linear-gradient(90deg,#009973 0.5px,#009972 31.5px,#0fa 32.5px,#2bffa6 114.5px,#6affa1 209.5px,#b0ff9b 298.5px,#ffff95 383.5px,#ffdc7e 422.5px,#ffbd69 466.5px,#ffa056 515.5px,#ff8746 570.5px)"></i>
<i style="background:linear-gradient(90deg,#009973 0.5px,#009972 30.5px,#00ffac 31.5px,#2bffa8 113.5px,#69ffa2 207.5px,#b0ff9d 296.5px,#ffff96 381.5px,#ffdb7f 421.5px,#ffbc6a 465.5px,#ff9f57 515.5px,#ff8646 570.5px)"></i>
<i style="background:linear-gradient(90deg,#009974 0.5px,#009973 30.5px,#00ffad 31.5px,#2cffa9 113.5px,#6affa4 206.5px,#b0ff9e 295.5px,#ffff98 379.5px,#ffdb80 420.5px,#ffbb6b 464.5px,#ff9f58 514.5px,#ff8647 570.5px)"></i>
<i style="background:linear-gradient(90deg,#009974 0.5px,#009974 29.5px,#00ffae 30.5px,#2cffaa 112.5px,#6affa5 205.5px,#b0ffa0 293.5px,#feff9a 377.5px,#ffda81 419.5px,#ffba6b 463.5px,#ff9e58 513.5px,#ff8547 570.5px)"></i>
<i style="background:linear-gradient(90deg,#009975 0.5px,#009974 28.5px,#00ffb0 29.5px,#2bffac 110.5px,#69ffa7 203.5px,#b0ffa1 291.5px,#feff9b 375.5px,#ffd981 418.5px,#ffba6c 462.5px,#ff9d59 513.5px,#ff8447 570.5px)"></i>
<i style="background:linear-gradient(90deg,#009976 0.5px,#009975 27.5px,#00ffb1 28.5px,#2bffad 109.5px,#6affa8 202.5px,#b0ffa3 290.5px,#feff9d 373.5px,#ffd882 417.5px,#ffb96d 461.5px,#ff9c59 512.5px,#ff8348 570.5px)"></i>
<i style="background:linear-gradient(90deg,#009976 0.5px,#009976 26.5px,#00ffb2 27.5px,#2bffae 108.5px,#6affaa 201.5px,#b1ffa4 289.5px,#ffff9f 372.5px,#ffda85 413.5px,#ffb96e 459.5px,#ff9c5a 511.5px,#ff8248 570.5px)"></i>
<i style="background:linear-gradient(90deg,#097 0.5px,#009976 25.5px,#00ffb4 26.5px,#2bffb0 106.5px,#69ffab 199.5px,#b0ffa6 287.5px,#ffffa0 370.5px,#ffd986 412.5px,#ffb86f 458.5px,#ff9b5a 511.5px,#ff8149 570.5px)"></i>
<i style="background:linear-gradient(90deg,#097 0.5px,#097 24.5px,#00ffb5 25.5px,#2bffb1 105.5px,#6affad 198.5px,#b0ffa8 285.5px,#ffffa2 368.5px,#ffd887 411.5px,#ffb870 457.5px,#ff9a5b 510.5px,#ff8049 570.5px)"></i>
<i style="background:linear-gradient(90deg,#009978 0.5px,#009978 24.5px,#00ffb6 25.5px,#2bffb3 105.5px,#6affae 197.5px,#b0ffa9 284.5px,#ffffa4 366.5px,#ffd888 409.5px,#ffb771 456.5px,#ff995c 510.5px,#ff7f49 570.5px)"></i>
<i style="background:linear-gradient(90deg,#009979 0.5px,#009978 23.5px,#00ffb8 24.5px,#2bffb4 104.5px,#69ffb0 195.5px,#b0ffab 282.5px,#feffa6 364.5px,#ffd889 408.5px,#ffb672 455.5px,#ff985c 509.5px,#ff7e4a 570.5px)"></i>
<i style="background:linear-gradient(90deg,#009979 0.5px,#009979 22.5px,#00ffb9 23.5px,#2bffb6 103.5px,#6affb1 194.5px,#b0ffac 280.5px,#feffa7 362.5px,#ffd78a 407.5px,#ffb672 454.5px,#ff985d 508.5px,#ff7d4a 570.5px)"></i>
<i style="background:linear-gradient(90deg,#00997a 0.5px,#00997a 21.5px,#00ffba 22.5px,#2bffb7 101.5px,#69ffb3 192.5px,#afffae 278.5px,#feffa9 360.5px,#ffd68b 406.5px,#ffb573 453.5px,#ff975d 508.5px,#ff7c4a 570.5px)"></i>
<i style="background:linear-gradient(90deg,#00997b 0.5px,#00997a 20.5px,#00ffbc 21.5px,#2bffb9 100.5px,#69ffb4 191.5px,#b0ffb0 277.5px,#ffffab 359.5px,#ffd88e 402.5px,#ffb574 451.5px,#ff965e 507.5px,#ff7b4b 570.5px)"></i>
<i style="background:linear-gradient(90deg,#00997b 0.5px,#00997b 19.5px,#00ffbd 20.5px,#2bffba 99.5px,#6affb6 190.5px,#b0ffb1 276.5px,#ffffac 357.5px,#ffd78f 401.5px,#ffb475 450.5px,#ff955f 506.5px,#ff7a4b 570.5px)"></i>
<i style="background:linear-gradient(90deg,#00997c 0.5px,#00997c 19.5px,#00ffbf 20.5px,#2cffbb 99.5px,#6affb7 189.5px,#b0ffb3 274.5px,#ffffae 355.5px,#ffd690 400.5px,#ffb376 449.5px,#ff945f 506.5px,#ff794b 570.5px)"></i>
<i style="background:linear-gradient(90deg,#00997d 0.5px,#00997c 18.5px,#00ffc0 19.5px,#2bffbd 97.5px,#69ffb9 187.5px,#b0ffb5 272.5px,#feffb0 353.5px,#ffd591 399.5px,#ffb377 448.5px,#ff9460 505.5px,#ff784c 570.5px)"></i>
<i style="background:linear-gradient(90deg,#00997d 0.5px,#00997d 17.5px,#00ffc1 18.5px,#2bffbe 96.5px,#6affba 186.5px,#b0ffb6 271.5px,#feffb2 351.5px,#ffd492 398.5px,#ffb278 447.5px,#ff9360 505.5px,#ff784c 570.5px)"></i>
<i style="background:linear-gradient(90deg,#00997e 0.5px,#00997e 16.5px,#00ffc3 17.5px,#2bffc0 95.5px,#69ffbc 184.5px,#b0ffb8 269.5px,#feffb4 349.5px,#ffd493 396.5px,#ffb179 446.5px,#ff9261 504.5px,#ff774c 570.5px)"></i>
<i style="background:linear-gradient(90deg,#00997e 0.5px,#00997e 15.5px,#00ffc4 16.5px,#2bffc1 94.5px,#69ffbe 183.5px,#b1ffba 268.5px,#ffffb5 348.5px,#ffd596 393.5px,#ffb17a 444.5px,#ff9162 503.5px,#ff764d 570.5px)"></i>
<i style="background:linear-gradient(90deg,#00997f 0.5px,#00997f 14.5px,#00ffc6 15.5px,#2bffc3 93.5px,#6affbf 182.5px,#b0ffbb 266.5px,#ffffb7 346.5px,#ffd597 392.5px,#ffb07b 443.5px,#ff9162 502.5px,#ff754d 570.5px)"></i>
<i style="background:linear-gradient(90deg,#009980 0.5px,#009980 13.5px,#00ffc7 14.5px,#2bffc5 91.5px,#69ffc1 180.5px,#b0ffbd 264.5px,#ffffb9 344.5px,#ffd598 390.5px,#ffb07c 442.5px,#ff9063 502.5px,#ff744d 570.5px)"></i>
<i style="background:linear-gradient(90deg,#009981 0.5px,#009980 13.5px,#00ffc9 14.5px,#2bffc6 91.5px,#6affc3 179.5px,#b0ffbf 263.5px,#feffbb 342.5px,#ffd499 389.5px,#ffaf7c 441.5px,#ff8f63 501.5px,#ff734e 570.5px)"></i>
<i style="background:linear-gradient(90deg,#009981 0.5px,#009981 12.5px,#00ffca 13.5px,#2bffc8 90.5px,#6affc4 178.5px,#b0ffc1 261.5px,#feffbd 340.5px,#ffd39a 388.5px,#ffae7d 440.5px,#ff8e64 501.5px,#ff724e 570.5px)"></i>
<i style="background:linear-gradient(90deg,#009982 0.5px,#009982 11.5px,#0fc 12.5px,#2bffc9 88.5px,#69ffc6 176.5px,#b0ffc2 259.5px,#feffbf 338.5px,#ffd29b 387.5px,#ffae7e 439.5px,#ff8d64 500.5px,#ff714e 570.5px)"></i>
<i style="background:linear-gradient(90deg,#009983 0.5px,#009982 10.5px,#00ffcd 11.5px,#2bffcb 87.5px,#6affc8 175.5px,#b0ffc4 258.5px,#ffffc1 337.5px,#ffd39d 384.5px,#ffae7f 437.5px,#ff8d65 499.5px,#ff704f 570.5px)"></i>
<i style="background:linear-gradient(90deg,#009983 0.5px,#009983 9.5px,#00ffcf 10.5px,#2bffcc 86.5px,#6affc9 174.5px,#b1ffc6 257.5px,#ffffc3 335.5px,#ffd39f 382.5px,#ffad80 436.5px,#ff8c66 498.5px,#ff704f 570.5px)"></i>
<i style="background:linear-gradient(90deg,#009984 0.5px,#009984 8.5px,#00ffd0 9.5px,#2bffce 85.5px,#69ffcb 172.5px,#b0ffc8 255.5px,#ffffc4 333.5px,#ffd2a0 381.5px,#ffac81 435.5px,#ff8b66 498.5px,#ff6f4f 570.5px)"></i>
<i style="background:linear-gradient(90deg,#009985 0.5px,#009985 8.5px,#00ffd2 9.5px,#2cffd0 85.5px,#6affcd 171.5px,#b0ffca 253.5px,#ffffc6 331.5px,#ffd1a1 380.5px,#ffab82 434.5px,#ff8a67 497.5px,#ff6e50 570.5px)"></i>
<i style="background:linear-gradient(90deg,#009985 0.5px,#009985 7.5px,#00ffd3 8.5px,#2cffd1 84.5px,#6affce 170.5px,#b0ffcc 251.5px,#feffc8 329.5px,#ffd1a2 379.5px,#ffab83 433.5px,#ff8967 497.5px,#ff6d50 570.5px)"></i>
<i style="background:linear-gradient(90deg,#009986 0.5px,#009986 6.5px,#00ffd5 7.5px,#2bffd3 82.5px,#69ffd0 168.5px,#afffcd 249.5px,#feffca 327.5px,#ffd1a4 377.5px,#ffaa84 432.5px,#ff8968 496.5px,#ff6c50 570.5px)"></i>
<i style="background:linear-gradient(90deg,#009987 0.5px,#009987 5.5px,#00ffd6 6.5px,#2bffd4 81.5px,#6affd2 167.5px,#b0ffcf 248.5px,#feffcc 325.5px,#ffd0a5 376.5px,#ffa985 431.5px,#ff8869 495.5px,#ff6b51 570.5px)"></i>
<i style="background:linear-gradient(90deg,#009987 0.5px,#009987 4.5px,#00ffd8 5.5px,#2bffd6 80.5px,#6affd4 166.5px,#b0ffd1 247.5px,#ffffce 324.5px,#ffd1a7 373.5px,#ffa986 429.5px,#ff8769 494.5px,#ff6a51 570.5px)"></i>
<i style="background:linear-gradient(90deg,#098 0.5px,#098 3.5px,#00ffda 4.5px,#2bffd8 78.5px,#69ffd5 164.5px,#b0ffd3 245.5px,#ffffd0 322.5px,#ffd1a9 371.5px,#ffa987 428.5px,#ff866a 494.5px,#ff6a51 570.5px)"></i>
<i style="background:linear-gradient(90deg,#009989 0.5px,#009989 2.5px,#00ffdb 3.5px,#2bffd9 77.5px,#6affd7 163.5px,#b0ffd5 243.5px,#ffffd2 320.5px,#ffd0aa 370.5px,#ffa888 427.5px,#ff866b 493.5px,#ff6952 570.5px)"></i>
<i style="background:linear-gradient(90deg,#00998a 0.5px,#00998a 2.5px,#0fd 3.5px,#2bffdb 77.5px,#6affd9 162.5px,#b0ffd7 242.5px,#feffd4 318.5px,#ffcfab 369.5px,#ffa788 426.5px,#ff856b 493.5px,#ff6852 570.5px)"></i>
<i style="background:linear-gradient(90deg,#00998a 0.5px,#00998a 1.5px,#00ffde 2.5px,#2bffdd 76.5px,#69ffdb 160.5px,#b0ffd9 240.5px,#feffd6 316.5px,#ffceac 368.5px,#ffa689 425.5px,#ff846c 492.5px,#ff6752 570.5px)"></i>
<i style="background:linear-gradient(90deg,#00998b 0.5px,#00ffe0 1.5px,#2cffdf 75.5px,#6affdd 159.5px,#afffdb 238.5px,#feffd8 314.5px,#ffcdad 367.5px,#ffa68a 424.5px,#ff846c 491.5px,#ff6653 570.5px)"></i>
<i style="background:linear-gradient(90deg,#00ffe2 0.5px,#2cffe0 74.5px,#6affde 158.5px,#b0ffdd 237.5px,#ffffda 313.5px,#ffcfb0 363.5px,#ffa68c 422.5px,#ff836d 490.5px,#ff6553 570.5px)"></i>
<i style="background:linear-gradient(90deg,#01ffe3 0.5px,#2cffe2 74.5px,#6affe0 157.5px,#b1ffdf 236.5px,#ffd 311.5px,#ffceb1 362.5px,#ffa58c 421.5px,#ff826d 490.5px,#ff6453 570.5px)"></i>
<i style="background:linear-gradient(90deg,#01ffe5 0.5px,#2cffe4 73.5px,#6bffe2 156.5px,#b0ffe1 234.5px,#ffffdf 309.5px,#ffcdb2 361.5px,#ffa48d 420.5px,#ff816e 489.5px,#ff6454 570.5px)"></i>
<i style="background:linear-gradient(90deg,#01ffe7 0.5px,#2dffe6 73.5px,#6bffe4 155.5px,#afffe3 231.5px,#fffee0 308.5px,#ffcdb4 359.5px,#ffa48f 418.5px,#ff816f 488.5px,#ff6354 570.5px)"></i>
<i style="background:linear-gradient(90deg,#02ffe8 0.5px,#2effe7 73.5px,#6bffe6 154.5px,#afffe5 230.5px,#ffffe3 306.5px,#ffcdb6 357.5px,#ffa390 417.5px,#ff8070 487.5px,#ff6254 570.5px)"></i>
<i style="background:linear-gradient(90deg,#02ffea 0.5px,#2fffe9 73.5px,#6bffe8 153.5px,#b0ffe7 229.5px,#ffffe5 304.5px,#ffccb7 356.5px,#ffa390 416.5px,#ff7f70 487.5px,#ff6155 570.5px)"></i>
<i style="background:linear-gradient(90deg,#03ffec 0.5px,#2fffeb 73.5px,#6dffea 153.5px,#b2ffe9 229.5px,#ffffe7 302.5px,#ffccb9 354.5px,#ffa291 415.5px,#ff7e71 486.5px,#ff6055 570.5px)"></i>
<i style="background:linear-gradient(90deg,#03ffed 0.5px,#30ffed 73.5px,#6dffec 152.5px,#b2ffeb 228.5px,#ffffe9 300.5px,#ffccba 352.5px,#ffa293 413.5px,#ff7e71 485.5px,#ff5f55 570.5px)"></i>
<i style="background:linear-gradient(90deg,#03ffef 0.5px,#30ffee 72.5px,#6dffee 151.5px,#b2ffed 226.5px,#ffffec 298.5px,#fcb 351.5px,#ffa194 412.5px,#ff7d72 484.5px,#ff5f56 570.5px)"></i>
<i style="background:linear-gradient(90deg,#04fff1 0.5px,#31fff0 72.5px,#6efff0 150.5px,#b2ffef 225.5px,#ffe 296.5px,#ffcbbd 350.5px,#ffa095 411.5px,#ff7c72 484.5px,#ff5e56 570.5px)"></i>
<i style="background:linear-gradient(90deg,#04fff3 0.5px,#32fff2 72.5px,#6efff2 149.5px,#b1fff1 222.5px,#fffef0 295.5px,#ffcbbe 348.5px,#ffa095 410.5px,#ff7c73 483.5px,#ff5d56 570.5px)"></i>
<i style="background:linear-gradient(90deg,#05fff4 0.5px,#32fff4 71.5px,#6efff4 148.5px,#b2fff3 221.5px,#fffff2 293.5px,#ffcbc0 346.5px,#ff9f97 408.5px,#ff7b74 482.5px,#ff5c56 570.5px)"></i>
<i style="background:linear-gradient(90deg,#05fff6 0.5px,#33fff6 71.5px,#6ffff6 148.5px,#b3fff5 221.5px,#fffff4 291.5px,#ffcbc2 344.5px,#ff9f98 407.5px,#ff7a74 482.5px,#ff5b57 570.5px)"></i>
<i style="background:linear-gradient(90deg,#06fff8 0.5px,#33fff8 71.5px,#70fff8 147.5px,#b4fff7 220.5px,#fffff7 289.5px,#ffcac3 343.5px,#ff9e99 406.5px,#ff7975 481.5px,#ff5b57 570.5px)"></i>
<i style="background:linear-gradient(90deg,#06fffa 0.5px,#34fffa 71.5px,#70fffa 146.5px,#b3fff9 218.5px,#fffff9 287.5px,#ffcac5 341.5px,#ff9d9a 405.5px,#ff7976 480.5px,#ff5a57 570.5px)"></i>
<i style="background:linear-gradient(90deg,#07fffc 0.5px,#34fffc 70.5px,#70fffc 145.5px,#b4fffc 217.5px,#fffffc 285.5px,#ffc9c6 340.5px,#ff9d9b 403.5px,#ff7876 479.5px,#ff5958 570.5px)"></i>
<i style="background:linear-gradient(90deg,#07fffe 0.5px,#35fffe 70.5px,#71fffe 144.5px,#b3fffe 214.5px,#fffefd 284.5px,#ffc9c8 338.5px,#ff9c9c 402.5px,#f77 479.5px,#ff5858 570.5px)"></i>
<i style="background:linear-gradient(90deg,#08ffff 0.5px,#35feff 69.5px,#71feff 143.5px,#b3feff 213.5px,#fffdff 283.5px,#ffc8c9 337.5px,#ff9b9c 402.5px,#ff7677 479.5px,#ff5758 570.5px)"></i>
<i style="background:linear-gradient(90deg,#08fdff 0.5px,#36fcff 70.5px,#72fcff 144.5px,#b4fcff 214.5px,#fffbff 283.5px,#ffc6c9 337.5px,#ff9a9d 402.5px,#ff7577 479.5px,#ff5759 570.5px)"></i>
<i style="background:linear-gradient(90deg,#09fbff 0.5px,#37faff 70.5px,#72faff 144.5px,#b5faff 215.5px,#fff9ff 283.5px,#ffc5ca 337.5px,#ff999d 402.5px,#ff7478 479.5px,#ff5659 570.5px)"></i>
<i style="background:linear-gradient(90deg,#09f9ff 0.5px,#37f9ff 70.5px,#72f8ff 144.5px,#b5f7ff 215.5px,#fff7ff 283.5px,#ffc2c9 338.5px,#ff979d 402.5px,#ff7378 479.5px,#ff5559 570.5px)"></i>
<i style="background:linear-gradient(90deg,#09f7ff 0.5px,#38f7ff 70.5px,#73f6ff 144.5px,#b5f5ff 215.5px,#fff5ff 283.5px,#ffc1c9 338.5px,#ff969d 402.5px,#ff7278 479.5px,#ff545a 570.5px)"></i>
<i style="background:linear-gradient(90deg,#0af5ff 0.5px,#38f5ff 70.5px,#73f4ff 144.5px,#b3f3ff 213.5px,#fff2fe 284.5px,#ffbfca 338.5px,#ff949d 403.5px,#ff7179 479.5px,#ff545a 570.5px)"></i>
<i style="background:linear-gradient(90deg,#0af3ff 0.5px,#38f3ff 70.5px,#73f2ff 144.5px,#b4f1ff 214.5px,#ffeffe 284.5px,#ffbdca 338.5px,#ff939d 403.5px,#ff7079 479.5px,#ff535a 570.5px)"></i>
<i style="background:linear-gradient(90deg,#0bf2ff 0.5px,#39f1ff 70.5px,#73f0ff 144.5px,#b4efff 214.5px,#ffedff 284.5px,#ffbcca 338.5px,#ff929e 403.5px,#ff6f79 479.5px,#ff525a 570.5px)"></i>
<i style="background:linear-gradient(90deg,#0bf0ff 0.5px,#3aefff 71.5px,#74eeff 145.5px,#b5edff 215.5px,#ffebff 284.5px,#ffbacb 338.5px,#ff909e 403.5px,#ff6e7a 479.5px,#ff515b 570.5px)"></i>
<i style="background:linear-gradient(90deg,#0ceeff 0.5px,#3aedff 71.5px,#75ecff 145.5px,#b6ebff 216.5px,#ffe9ff 284.5px,#ffb9cb 338.5px,#ff8f9e 403.5px,#ff6d7a 479.5px,#ff505b 570.5px)"></i>
<i style="background:linear-gradient(90deg,#0cecff 0.5px,#3bebff 71.5px,#75eaff 145.5px,#b6e9ff 216.5px,#ffe7ff 284.5px,#ffb6ca 339.5px,#ff8e9f 403.5px,#ff6c7a 479.5px,#ff505b 570.5px)"></i>
<i style="background:linear-gradient(90deg,#0debff 0.5px,#3be9ff 71.5px,#75e8ff 145.5px,#b7e7ff 216.5px,#ffe5ff 284.5px,#ffb5ca 339.5px,#ff8d9f 403.5px,#ff6b7a 479.5px,#ff4f5c 570.5px)"></i>
<i style="background:linear-gradient(90deg,#0de9ff 0.5px,#3be8ff 71.5px,#75e6ff 144.5px,#b5e5ff 214.5px,#ffe2fe 285.5px,#ffb2ca 340.5px,#ff8b9f 404.5px,#ff6a7a 480.5px,#ff4e5c 570.5px)"></i>
<i style="background:linear-gradient(90deg,#0de7ff 0.5px,#3ce6ff 71.5px,#76e4ff 145.5px,#b6e3ff 215.5px,#ffe0fe 285.5px,#ffb1ca 340.5px,#ff8a9f 404.5px,#ff697b 480.5px,#ff4d5c 570.5px)"></i>
<i style="background:linear-gradient(90deg,#0ee5ff 0.5px,#3ce4ff 71.5px,#76e2ff 145.5px,#b6e0ff 215.5px,#ffdeff 285.5px,#ffafca 340.5px,#ff899f 404.5px,#ff687b 480.5px,#ff4d5d 570.5px)"></i>
<i style="background:linear-gradient(90deg,#0ee4ff 0.5px,#3de2ff 71.5px,#76e0ff 145.5px,#b7deff 216.5px,#ffdcff 285.5px,#ffaecb 340.5px,#ff87a0 404.5px,#ff677b 480.5px,#ff4c5d 570.5px)"></i>
<i style="background:linear-gradient(90deg,#0fe2ff 0.5px,#3ee0ff 72.5px,#77deff 146.5px,#b8dcff 217.5px,#ffdaff 285.5px,#ffaccb 340.5px,#ff86a0 404.5px,#ff667c 480.5px,#ff4b5d 570.5px)"></i>
<i style="background:linear-gradient(90deg,#0fe0ff 0.5px,#3edfff 72.5px,#78ddff 146.5px,#b8daff 217.5px,#ffd8ff 285.5px,#ffabcb 340.5px,#ff85a0 404.5px,#ff657c 480.5px,#ff4a5d 570.5px)"></i>
<i style="background:linear-gradient(90deg,#10dfff 0.5px,#3eddff 72.5px,#78dbff 146.5px,#b8d9ff 217.5px,#ffd6ff 285.5px,#ffa9cb 340.5px,#ff84a0 404.5px,#ff647c 480.5px,#ff4a5e 570.5px)"></i>
<i style="background:linear-gradient(90deg,#10ddff 0.5px,#3edbff 71.5px,#77d9ff 145.5px,#b6d7ff 215.5px,#ffd4fe 286.5px,#ffa7cb 341.5px,#ff82a0 405.5px,#ff637c 481.5px,#ff495e 570.5px)"></i>
<i style="background:linear-gradient(90deg,#11dbff 0.5px,#3fd9ff 72.5px,#78d7ff 145.5px,#b6d5ff 215.5px,#ffd2fe 286.5px,#ffa6cb 341.5px,#ff81a1 405.5px,#ff627c 481.5px,#ff485e 570.5px)"></i>
<i style="background:linear-gradient(90deg,#11daff 0.5px,#40d8ff 72.5px,#79d5ff 146.5px,#b7d3ff 216.5px,#ffd0ff 286.5px,#ffa4cb 341.5px,#ff80a1 405.5px,#ff617d 481.5px,#ff485f 570.5px)"></i>
<i style="background:linear-gradient(90deg,#11d8ff 0.5px,#40d6ff 72.5px,#79d3ff 146.5px,#b8d1ff 217.5px,#ffceff 286.5px,#ffa3cc 341.5px,#ff7fa1 405.5px,#ff607d 481.5px,#ff475f 570.5px)"></i>
<i style="background:linear-gradient(90deg,#12d6ff 0.5px,#40d4ff 72.5px,#79d2ff 146.5px,#b8cfff 217.5px,#fcf 286.5px,#ffa1cc 341.5px,#ff7da1 405.5px,#ff5f7d 481.5px,#ff465f 570.5px)"></i>
<i style="background:linear-gradient(90deg,#12d5ff 0.5px,#41d2ff 73.5px,#7ad0ff 147.5px,#b9cdff 218.5px,#ffcaff 286.5px,#ffa0cc 341.5px,#ff7ca2 405.5px,#ff5e7e 481.5px,#ff4560 570.5px)"></i>
<i style="background:linear-gradient(90deg,#13d3ff 0.5px,#42d1ff 73.5px,#7aceff 147.5px,#b9cbff 218.5px,#ffc8ff 286.5px,#ff9ecc 341.5px,#ff7ba2 405.5px,#ff5d7e 481.5px,#ff4560 570.5px)"></i>
<i style="background:linear-gradient(90deg,#13d1ff 0.5px,#41cfff 72.5px,#7accff 146.5px,#b8c9ff 216.5px,#ffc6fe 287.5px,#ff9ccc 342.5px,#ff7aa2 406.5px,#ff5c7e 481.5px,#ff4460 570.5px)"></i>
<i style="background:linear-gradient(90deg,#14d0ff 0.5px,#42cdff 72.5px,#7acbff 146.5px,#b8c8ff 216.5px,#ffc4fe 287.5px,#ff9bcc 342.5px,#ff78a2 406.5px,#ff5c7e 481.5px,#ff4360 570.5px)"></i>
<i style="background:linear-gradient(90deg,#14ceff 0.5px,#42ccff 72.5px,#7ac9ff 146.5px,#b9c6ff 217.5px,#ffc2ff 287.5px,#f9c 342.5px,#ff77a2 406.5px,#ff5b7f 481.5px,#ff4261 570.5px)"></i>
<i style="background:linear-gradient(90deg,#14cdff 0.5px,#43caff 73.5px,#7bc7ff 147.5px,#bac4ff 218.5px,#ffc0ff 287.5px,#ff98cd 342.5px,#ff76a3 406.5px,#ff5a7f 481.5px,#ff4261 570.5px)"></i>
<i style="background:linear-gradient(90deg,#15cbff 0.5px,#44c8ff 73.5px,#7cc5ff 147.5px,#bac2ff 218.5px,#ffbeff 287.5px,#ff96cd 342.5px,#ff75a3 406.5px,#ff597f 481.5px,#ff4161 570.5px)"></i>
<i style="background:linear-gradient(90deg,#15caff 0.5px,#44c7ff 73.5px,#7cc4ff 147.5px,#bbc0ff 219.5px,#ffbdff 287.5px,#ff95cd 342.5px,#ff74a3 406.5px,#ff5880 481.5px,#ff4062 570.5px)"></i>
<i style="background:linear-gradient(90deg,#16c8ff 0.5px,#44c5ff 73.5px,#7cc2ff 147.5px,#bbbeff 219.5px,#fbf 287.5px,#ff94cd 342.5px,#ff73a3 406.5px,#ff5780 481.5px,#ff4062 570.5px)"></i>
<i style="background:linear-gradient(90deg,#16c6ff 0.5px,#44c4ff 72.5px,#7bc0ff 146.5px,#b8bdff 216.5px,#ffb8fe 288.5px,#ff92cd 343.5px,#ff71a3 407.5px,#ff5680 482.5px,#ff3f62 570.5px)"></i>
<i style="background:linear-gradient(90deg,#16c5ff 0.5px,#45c2ff 73.5px,#7cbeff 147.5px,#b9bbff 217.5px,#ffb7ff 288.5px,#ff90cd 343.5px,#ff70a3 407.5px,#ff5580 482.5px,#ff3e62 570.5px)"></i>
<i style="background:linear-gradient(90deg,#17c3ff 0.5px,#45c0ff 73.5px,#7dbdff 147.5px,#bab9ff 218.5px,#ffb5ff 288.5px,#ff8fcd 343.5px,#ff6fa4 407.5px,#ff5480 482.5px,#ff3e63 570.5px)"></i>
<i style="background:linear-gradient(90deg,#17c2ff 0.5px,#46bfff 73.5px,#7dbbff 147.5px,#bab7ff 218.5px,#ffb3ff 288.5px,#ff8ecd 343.5px,#ff6ea4 407.5px,#ff5381 482.5px,#ff3d63 570.5px)"></i>
<i style="background:linear-gradient(90deg,#18c0ff 0.5px,#47bdff 74.5px,#7eb9ff 148.5px,#bbb6ff 219.5px,#ffb1ff 288.5px,#ff8cce 343.5px,#ff6da4 407.5px,#ff5281 482.5px,#ff3c63 570.5px)"></i>
<i style="background:linear-gradient(90deg,#18bfff 0.5px,#47bbff 74.5px,#7eb8ff 148.5px,#bcb4ff 220.5px,#ffb0ff 288.5px,#ff8bce 343.5px,#ff6ca4 407.5px,#ff5281 482.5px,#ff3b64 570.5px)"></i>
<i style="background:linear-gradient(90deg,#18bdff 0.5px,#47baff 74.5px,#7eb6ff 148.5px,#bcb2ff 220.5px,#ffaeff 288.5px,#ff8ace 343.5px,#ff6ba5 407.5px,#ff5182 482.5px,#ff3b64 570.5px)"></i>
<i style="background:linear-gradient(90deg,#19bcff 0.5px,#47b8ff 73.5px,#7eb5ff 147.5px,#b9b1ff 217.5px,#ffacfe 289.5px,#ff88ce 344.5px,#ff69a4 408.5px,#ff5081 483.5px,#ff3a64 570.5px)"></i>
<i style="background:linear-gradient(90deg,#19baff 0.5px,#47b7ff 73.5px,#7eb3ff 147.5px,#baafff 218.5px,#faf 289.5px,#ff86ce 344.5px,#ff68a5 408.5px,#ff4f82 483.5px,#ff3964 570.5px)"></i>
<i style="background:linear-gradient(90deg,#1ab9ff 0.5px,#48b5ff 74.5px,#7fb1ff 148.5px,#bbadff 219.5px,#ffa8ff 289.5px,#ff85ce 344.5px,#ff67a5 408.5px,#ff4e82 483.5px,#ff3965 570.5px)"></i>
<i style="background:linear-gradient(90deg,#1ab7ff 0.5px,#49b4ff 74.5px,#7fb0ff 148.5px,#bbabff 219.5px,#ffa7ff 289.5px,#ff84ce 344.5px,#ff66a5 408.5px,#ff4d82 483.5px,#ff3865 570.5px)"></i>
<i style="background:linear-gradient(90deg,#1ab6ff 0.5px,#49b2ff 74.5px,#7faeff 148.5px,#bcaaff 220.5px,#ffa5ff 289.5px,#ff82cf 344.5px,#ff65a6 408.5px,#ff4c83 483.5px,#ff3765 570.5px)"></i>
<i style="background:linear-gradient(90deg,#1bb5ff 0.5px,#49b1ff 74.5px,#80adff 148.5px,#bca8ff 220.5px,#ffa3ff 289.5px,#ff81cf 344.5px,#ff64a6 408.5px,#ff4b83 483.5px,#ff3765 570.5px)"></i>
<i style="background:linear-gradient(90deg,#1bb3ff 0.5px,#4aafff 74.5px,#80abff 148.5px,#bca7ff 220.5px,#ffa2ff 289.5px,#ff80cf 344.5px,#ff63a6 408.5px,#ff4b83 483.5px,#ff3666 570.5px)"></i>
<i style="background:linear-gradient(90deg,#1cb2ff 0.5px,#4aaeff 74.5px,#80a9ff 148.5px,#bba5ff 218.5px,#ffa0fe 290.5px,#ff7ecf 345.5px,#ff62a6 409.5px,#ff4a83 483.5px,#ff3566 570.5px)"></i>
<i style="background:linear-gradient(90deg,#1cb0ff 0.5px,#4aacff 74.5px,#80a8ff 148.5px,#bca3ff 219.5px,#ff9eff 290.5px,#ff7dcf 345.5px,#ff61a6 409.5px,#ff4984 483.5px,#ff3566 570.5px)"></i>
<i style="background:linear-gradient(90deg,#1cafff 0.5px,#4babff 74.5px,#80a6ff 148.5px,#bca2ff 219.5px,#ff9cff 290.5px,#ff7ccf 345.5px,#ff60a6 409.5px,#ff4884 483.5px,#ff3467 570.5px)"></i>
<i style="background:linear-gradient(90deg,#1dadff 0.5px,#4ba9ff 74.5px,#81a5ff 149.5px,#bda0ff 220.5px,#ff9bff 290.5px,#ff7acf 345.5px,#ff5fa7 409.5px,#ff4784 483.5px,#ff3367 570.5px)"></i>
<i style="background:linear-gradient(90deg,#1dacff 0.5px,#4ba8ff 74.5px,#82a3ff 149.5px,#be9eff 221.5px,#f9f 290.5px,#ff79cf 345.5px,#ff5ea7 409.5px,#ff4685 483.5px,#ff3367 570.5px)"></i>
<i style="background:linear-gradient(90deg,#1eabff 0.5px,#4ca6ff 74.5px,#82a2ff 149.5px,#be9dff 221.5px,#ff98ff 290.5px,#ff78d0 345.5px,#ff5da7 409.5px,#ff4685 483.5px,#ff3267 570.5px)"></i>
<i style="background:linear-gradient(90deg,#1ea9ff 0.5px,#4ca5ff 74.5px,#82a0ff 149.5px,#be9bff 221.5px,#ff96ff 290.5px,#ff76cf 346.5px,#ff5ca7 409.5px,#ff4585 483.5px,#ff3168 570.5px)"></i>
<i style="background:linear-gradient(90deg,#1ea8ff 0.5px,#4ca4ff 74.5px,#819fff 148.5px,#bb9aff 218.5px,#ff94fe 291.5px,#ff75cf 346.5px,#ff5aa7 410.5px,#ff4485 484.5px,#ff3168 570.5px)"></i>
<i style="background:linear-gradient(90deg,#1fa6ff 0.5px,#4ca2ff 74.5px,#829dff 149.5px,#bc98ff 219.5px,#ff93ff 291.5px,#ff74d0 346.5px,#ff59a7 410.5px,#ff4385 484.5px,#ff3068 570.5px)"></i>
<i style="background:linear-gradient(90deg,#1fa5ff 0.5px,#4da1ff 74.5px,#839cff 149.5px,#bd97ff 220.5px,#ff91ff 291.5px,#ff72d0 346.5px,#ff58a8 410.5px,#ff4285 484.5px,#ff3068 570.5px)"></i>
<i style="background:linear-gradient(90deg,#20a4ff 0.5px,#4d9fff 74.5px,#839aff 149.5px,#be95ff 221.5px,#ff90ff 291.5px,#ff71d0 346.5px,#ff57a8 410.5px,#ff4186 484.5px,#ff2f69 570.5px)"></i>
<i style="background:linear-gradient(90deg,#20a2ff 0.5px,#4e9eff 75.5px,#8499ff 150.5px,#bf94ff 222.5px,#ff8eff 291.5px,#ff70d0 346.5px,#ff56a8 410.5px,#ff4186 484.5px,#ff2e69 570.5px)"></i>
<i style="background:linear-gradient(90deg,#20a1ff 0.5px,#4e9cff 75.5px,#8497ff 150.5px,#bf92ff 222.5px,#ff8cff 291.5px,#ff6fd0 346.5px,#ff55a8 410.5px,#ff4086 484.5px,#ff2e69 570.5px)"></i>
<i style="background:linear-gradient(90deg,#21a0ff 0.5px,#4f9bff 75.5px,#8496ff 150.5px,#bf91ff 222.5px,#ff8bff 291.5px,#ff6dd0 347.5px,#ff54a9 410.5px,#ff3f87 484.5px,#ff2d6a 570.5px)"></i>
<i style="background:linear-gradient(90deg,#219eff 0.5px,#4f9aff 75.5px,#8495ff 149.5px,#bc8fff 219.5px,#ff89fe 292.5px,#ff6cd0 347.5px,#ff53a8 411.5px,#ff3e86 485.5px,#ff2c6a 570.5px)"></i>
<i style="background:linear-gradient(90deg,#219dff 0.5px,#4f98ff 75.5px,#8493ff 149.5px,#bd8eff 220.5px,#f8f 292.5px,#ff6bd0 347.5px,#ff52a9 411.5px,#ff3d87 485.5px,#ff2c6a 570.5px)"></i>
<i style="background:linear-gradient(90deg,#229cff 0.5px,#5097ff 75.5px,#8492ff 149.5px,#be8cff 221.5px,#ff86ff 292.5px,#ff6ad1 347.5px,#ff51a9 411.5px,#ff3c87 485.5px,#ff2b6a 570.5px)"></i>
<i style="background:linear-gradient(90deg,#229aff 0.5px,#5096ff 75.5px,#8590ff 150.5px,#bf8bff 222.5px,#ff85ff 292.5px,#ff68d1 347.5px,#ff50a9 411.5px,#ff3c87 485.5px,#ff2a6b 570.5px)"></i>
<i style="background:linear-gradient(90deg,#2399ff 0.5px,#5094ff 75.5px,#858fff 150.5px,#bf89ff 222.5px,#ff83ff 292.5px,#ff67d1 347.5px,#ff4fa9 411.5px,#ff3b88 485.5px,#ff2a6b 570.5px)"></i>
<i style="background:linear-gradient(90deg,#2398ff 0.5px,#5093ff 75.5px,#858eff 150.5px,#bf88ff 222.5px,#ff82ff 292.5px,#ff66d1 347.5px,#ff4eaa 411.5px,#ff3a88 485.5px,#ff296b 570.5px)"></i>
<i style="background:linear-gradient(90deg,#2397ff 0.5px,#5192ff 75.5px,#858cff 150.5px,#bf86ff 222.5px,#ff80ff 292.5px,#ff65d1 348.5px,#ff4daa 411.5px,#ff3988 485.5px,#ff296b 570.5px)"></i>
<i style="background:linear-gradient(90deg,#2495ff 0.5px,#5190ff 75.5px,#858bff 149.5px,#be85ff 220.5px,#ff7efe 293.5px,#ff63d1 348.5px,#ff4daa 411.5px,#ff3988 485.5px,#ff286c 570.5px)"></i>
<i style="background:linear-gradient(90deg,#2494ff 0.5px,#518fff 75.5px,#8689ff 150.5px,#be84ff 221.5px,#ff7dff 293.5px,#ff62d1 348.5px,#ff4baa 412.5px,#ff3889 485.5px,#ff276c 570.5px)"></i>
<i style="background:linear-gradient(90deg,#2493ff 0.5px,#528eff 75.5px,#8688ff 150.5px,#bf82ff 222.5px,#ff7cff 293.5px,#ff61d1 348.5px,#ff4aaa 412.5px,#ff3789 485.5px,#ff276c 570.5px)"></i>
<i style="background:linear-gradient(90deg,#2592ff 0.5px,#528cff 75.5px,#8687ff 150.5px,#bf81ff 222.5px,#ff7aff 293.5px,#ff60d2 348.5px,#ff49aa 412.5px,#ff3689 485.5px,#ff266c 570.5px)"></i>
<i style="background:linear-gradient(90deg,#2590ff 0.5px,#538bff 76.5px,#8785ff 151.5px,#c07fff 223.5px,#ff79ff 293.5px,#ff5fd2 348.5px,#ff49ab 412.5px,#ff3689 485.5px,#ff266d 570.5px)"></i>
<i style="background:linear-gradient(90deg,#258fff 0.5px,#538aff 76.5px,#8784ff 151.5px,#c07eff 223.5px,#ff78ff 293.5px,#ff5ed2 348.5px,#ff48ab 412.5px,#ff358a 485.5px,#ff256d 570.5px)"></i>
<i style="background:linear-gradient(90deg,#268eff 0.5px,#5388ff 76.5px,#8783ff 151.5px,#c07dff 223.5px,#ff76ff 293.5px,#ff5cd1 349.5px,#ff47ab 412.5px,#ff348a 485.5px,#ff246d 570.5px)"></i>
<i style="background:linear-gradient(90deg,#268dff 0.5px,#5387ff 75.5px,#8781ff 150.5px,#bf7bff 221.5px,#ff74fe 294.5px,#ff5bd2 349.5px,#ff46ab 412.5px,#ff338a 485.5px,#ff246d 570.5px)"></i>
<i style="background:linear-gradient(90deg,#268bff 0.5px,#5386ff 75.5px,#8780ff 150.5px,#bf7aff 221.5px,#ff73ff 294.5px,#ff5ad2 349.5px,#ff45ac 412.5px,#ff338a 485.5px,#ff236e 570.5px)"></i>
<i style="background:linear-gradient(90deg,#278aff 0.5px,#5485ff 76.5px,#887fff 151.5px,#c079ff 223.5px,#ff72ff 294.5px,#ff59d2 349.5px,#ff44ac 412.5px,#ff328b 485.5px,#ff236e 570.5px)"></i>
<i style="background:linear-gradient(90deg,#2789ff 0.5px,#5583ff 76.5px,#887dff 151.5px,#c077ff 223.5px,#ff70ff 294.5px,#ff58d2 349.5px,#ff43ac 412.5px,#ff318b 485.5px,#ff226e 570.5px)"></i>
<i style="background:linear-gradient(90deg,#2888ff 0.5px,#5582ff 76.5px,#887cff 151.5px,#c176ff 224.5px,#ff6fff 294.5px,#ff57d2 349.5px,#ff42ac 413.5px,#ff308b 486.5px,#ff216e 570.5px)"></i>
<i style="background:linear-gradient(90deg,#2887ff 0.5px,#5581ff 76.5px,#897bff 151.5px,#c175ff 224.5px,#ff6eff 294.5px,#ff56d2 350.5px,#ff41ac 413.5px,#ff308b 486.5px,#ff216f 570.5px)"></i>
<i style="background:linear-gradient(90deg,#2885ff 0.5px,#5580ff 76.5px,#897aff 151.5px,#c173ff 224.5px,#ff6cff 294.5px,#ff54d2 350.5px,#ff40ac 413.5px,#ff2f8b 486.5px,#ff206f 570.5px)"></i>
<i style="background:linear-gradient(90deg,#2984ff 0.5px,#557fff 75.5px,#8878ff 150.5px,#bf72ff 221.5px,#ff6bfe 295.5px,#ff53d2 350.5px,#ff3fac 413.5px,#ff2e8b 486.5px,#ff206f 570.5px)"></i>
<i style="background:linear-gradient(90deg,#2983ff 0.5px,#567dff 76.5px,#8977ff 151.5px,#c071ff 222.5px,#ff69ff 295.5px,#ff52d3 350.5px,#ff3fad 413.5px,#ff2e8c 486.5px,#ff1f6f 570.5px)"></i>
<i style="background:linear-gradient(90deg,#2982ff 0.5px,#567cff 76.5px,#8976ff 151.5px,#c16fff 223.5px,#ff68ff 295.5px,#ff51d3 350.5px,#ff3ead 413.5px,#ff2d8c 486.5px,#ff1e70 570.5px)"></i>
<i style="background:linear-gradient(90deg,#2a81ff 0.5px,#567bff 76.5px,#8975ff 151.5px,#c26eff 224.5px,#ff67ff 295.5px,#ff50d3 350.5px,#ff3dad 413.5px,#ff2c8c 486.5px,#ff1e70 570.5px)"></i>
<i style="background:linear-gradient(90deg,#2a7fff 0.5px,#577aff 76.5px,#8a73ff 152.5px,#c26dff 225.5px,#f6f 295.5px,#ff4fd3 350.5px,#ff3cad 413.5px,#ff2b8c 486.5px,#ff1d70 570.5px)"></i>
<i style="background:linear-gradient(90deg,#2a7eff 0.5px,#5778ff 76.5px,#8a72ff 152.5px,#c26bff 225.5px,#ff64ff 295.5px,#ff4ed3 351.5px,#ff3bad 414.5px,#ff2b8c 487.5px,#ff1d70 570.5px)"></i>
<i style="background:linear-gradient(90deg,#2b7dff 0.5px,#5777ff 76.5px,#8b71ff 152.5px,#c26aff 225.5px,#ff63ff 295.5px,#ff4dd3 351.5px,#ff3aad 414.5px,#ff2a8d 487.5px,#ff1c71 570.5px)"></i>
<i style="background:linear-gradient(90deg,#2b7cff 0.5px,#5876ff 76.5px,#8a70ff 151.5px,#c069ff 222.5px,#ff61fe 296.5px,#ff4cd3 351.5px,#ff39ae 414.5px,#ff298d 487.5px,#ff1c71 570.5px)"></i>
<i style="background:linear-gradient(90deg,#2b7bff 0.5px,#5875ff 76.5px,#8a6fff 151.5px,#c168ff 223.5px,#ff60ff 296.5px,#ff4bd3 351.5px,#ff38ae 414.5px,#ff288d 487.5px,#ff1b71 570.5px)"></i>
<i style="background:linear-gradient(90deg,#2c7aff 0.5px,#5874ff 76.5px,#8b6dff 152.5px,#c267ff 224.5px,#ff5fff 296.5px,#ff4ad3 351.5px,#ff38ae 414.5px,#ff288d 487.5px,#ff1a71 570.5px)"></i>
<i style="background:linear-gradient(90deg,#2c79ff 0.5px,#5873ff 76.5px,#8b6cff 152.5px,#c365ff 225.5px,#ff5eff 296.5px,#ff49d4 351.5px,#ff37ae 414.5px,#ff278e 487.5px,#ff1a72 570.5px)"></i>
<i style="background:linear-gradient(90deg,#2c78ff 0.5px,#5971ff 76.5px,#8b6bff 152.5px,#c364ff 225.5px,#ff5dff 296.5px,#ff48d4 351.5px,#ff36ae 414.5px,#ff268e 487.5px,#ff1972 570.5px)"></i>
<i style="background:linear-gradient(90deg,#2d76ff 0.5px,#5970ff 76.5px,#8c6aff 152.5px,#c363ff 225.5px,#ff5bff 296.5px,#ff47d3 352.5px,#ff35ae 415.5px,#ff268e 487.5px,#ff1972 570.5px)"></i>
<i style="background:linear-gradient(90deg,#2d75ff 0.5px,#596fff 76.5px,#8c69ff 152.5px,#c362ff 225.5px,#ff5aff 296.5px,#ff46d4 352.5px,#ff34ae 415.5px,#ff258e 487.5px,#ff1872 570.5px)"></i>
<i style="background:linear-gradient(90deg,#2d74ff 0.5px,#596eff 76.5px,#8c67ff 152.5px,#c360ff 225.5px,#ff59ff 296.5px,#ff45d4 352.5px,#ff33af 415.5px,#ff248f 487.5px,#ff1873 570.5px)"></i>
<i style="background:linear-gradient(90deg,#2e73ff 0.5px,#5a6dff 76.5px,#8c66ff 152.5px,#c25fff 224.5px,#ff57ff 297.5px,#ff44d4 352.5px,#ff32af 415.5px,#ff248f 487.5px,#ff1773 570.5px)"></i>
</div>
<svg class="a" style="left:698px;top:600px" width="571" height="388" viewBox="698 600 571 388">
<g fill="none" stroke="#fff" stroke-width="2.4">
<rect x="725.1" y="664.0" width="19.6" height="19.6"/>
<rect x="710.2" y="698.1" width="19.6" height="19.6"/>
<rect x="708.4" y="702.9" width="19.6" height="19.6"/>
<rect x="870.3" y="641.7" width="19.6" height="19.6"/>
<rect x="803.6" y="707.3" width="19.6" height="19.6"/>
<rect x="1039.7" y="651.7" width="19.6" height="19.6"/>
<rect x="977.8" y="687.0" width="19.6" height="19.6"/>
<rect x="961.2" y="728.5" width="19.6" height="19.6"/>
<rect x="1029.0" y="742.6" width="19.6" height="19.6"/>
<rect x="1079.0" y="748.9" width="19.6" height="19.6"/>
<rect x="1163.9" y="738.8" width="19.6" height="19.6"/>
<rect x="1198.4" y="718.5" width="19.6" height="19.6"/>
<rect x="1196.7" y="720.2" width="19.6" height="19.6"/>
<rect x="1205.0" y="637.3" width="19.6" height="19.6"/>
<rect x="1246.5" y="672.5" width="19.6" height="19.6"/>
<rect x="1262.2" y="701.8" width="19.6" height="19.6"/>
<rect x="696.2" y="803.0" width="19.6" height="19.6"/>
<rect x="729.5" y="861.2" width="19.6" height="19.6"/>
<rect x="812.2" y="868.6" width="19.6" height="19.6"/>
<rect x="795.5" y="885.2" width="19.6" height="19.6"/>
<rect x="911.1" y="896.4" width="19.6" height="19.6"/>
<rect x="1105.7" y="868.6" width="19.6" height="19.6"/>
<rect x="760.3" y="926.8" width="19.6" height="19.6"/>
<rect x="822.5" y="957.9" width="19.6" height="19.6"/>
<rect x="1008.6" y="955.7" width="19.6" height="19.6"/>
<rect x="1178.0" y="970.5" width="19.6" height="19.6"/>
</g>
<rect x="971.5" y="782.5" width="19" height="19" fill="none" stroke="#000" stroke-width="3"/>
<g stroke="#000" stroke-width="1.8">
<circle cx="993.2" cy="793.9" r="6" fill="#303030"/>
<circle cx="995.8" cy="785.0" r="6" fill="#505050"/>
<circle cx="997.6" cy="775.3" r="6" fill="#c8ccc8"/>
<circle cx="751.5" cy="657.5" r="6.2" fill="#109090"/>
<circle cx="726.3" cy="701.2" r="6.2" fill="#1c4030"/>
<circle cx="733.0" cy="694.9" r="6.2" fill="#109098"/>
<circle cx="892.4" cy="630.8" r="6.2" fill="#70b8a0"/>
<circle cx="826.4" cy="697.1" r="6.2" fill="#70b8a0"/>
<circle cx="1066.2" cy="641.2" r="6.2" fill="#c8e8c0"/>
<circle cx="1001.7" cy="676.4" r="6.2" fill="#c8ccc0"/>
<circle cx="985.4" cy="719.7" r="6.2" fill="#c8ccc8"/>
<circle cx="1055.5" cy="736.0" r="6.2" fill="#d0d0cc"/>
<circle cx="1111.4" cy="744.2" r="6.2" fill="#e8d0c8"/>
<circle cx="1198.2" cy="738.3" r="6.2" fill="#f8c4b4"/>
<circle cx="1229.7" cy="721.6" r="6.2" fill="#c8a080"/>
<circle cx="1233.7" cy="713.4" r="6.2" fill="#f8c4b0"/>
<circle cx="1225.6" cy="651.2" r="6.2" fill="#40301c"/>
<circle cx="694.5" cy="775.3" r="6.2" fill="#109090"/>
<circle cx="718.5" cy="797.9" r="6.2" fill="#30a8a8"/>
<circle cx="749.7" cy="858.0" r="6.2" fill="#7098a8"/>
<circle cx="834.2" cy="866.5" r="6.2" fill="#607090"/>
<circle cx="813.4" cy="885.0" r="6.2" fill="#7098b8"/>
<circle cx="935.7" cy="893.2" r="6.2" fill="#808080"/>
<circle cx="1138.5" cy="870.2" r="6.2" fill="#b8809c"/>
<circle cx="780.4" cy="926.5" r="6.2" fill="#6080a0"/>
<circle cx="842.7" cy="957.3" r="6.2" fill="#8088a8"/>
<circle cx="1032.9" cy="955.1" r="6.2" fill="#503048"/>
<circle cx="1213.0" cy="971.8" r="6.2" fill="#c05c90"/>
<circle cx="799.3" cy="975.8" r="6.5" fill="#000"/>
</g></svg>
<div class="a" style="left:697.3px;top:599px;width:568.7px;height:385.8px;border:2px solid #8f9090"></div>
<div id="cie" class="a" style="left:1377px;top:102px;width:1140px;height:912px;background:#222;overflow:hidden">
<i></i>
<i></i>
<i></i>
<i></i>
<i></i>
<i></i>
<i></i>
<i></i>
<i></i>
<i></i>
<i></i>
<i></i>
<i></i>
<i></i>
<i></i>
<i></i>
<i></i>
<i></i>
<i></i>
<i style="background:linear-gradient(90deg,#222 76.5px,#222 76.5px,#115e11 77.5px,#115e11 122.5px,#222 123.5px,#222 123.5px)"></i>
<i style="background:linear-gradient(90deg,#222 61.5px,#222 61.5px,#115e11 62.5px,#115e11 67.5px,#090 68.5px,#090 134.5px,#115e11 135.5px,#115e11 143.5px,#222 144.5px,#222 144.5px)"></i>
<i style="background:linear-gradient(90deg,#222 53.5px,#222 53.5px,#115e11 54.5px,#115e11 57.5px,#090 58.5px,#090 152.5px,#115e11 153.5px,#115e11 159.5px,#222 160.5px,#222 160.5px)"></i>
<i style="background:linear-gradient(90deg,#222 48.5px,#222 48.5px,#115e11 49.5px,#115e11 50.5px,#090 51.5px,#090 166.5px,#115e11 167.5px,#115e11 172.5px,#222 173.5px,#222 173.5px)"></i>
<i style="background:linear-gradient(90deg,#222 43.5px,#222 43.5px,#115e11 44.5px,#115e11 45.5px,#090 46.5px,#090 178.5px,#115e11 179.5px,#115e11 184.5px,#222 185.5px,#222 185.5px)"></i>
<i style="background:linear-gradient(90deg,#222 40.5px,#222 40.5px,#115e11 41.5px,#115e11 42.5px,#090 43.5px,#090 189.5px,#115e11 190.5px,#115e11 195.5px,#222 196.5px,#222 196.5px)"></i>
<i style="background:linear-gradient(90deg,#222 37.5px,#222 37.5px,#090 39.5px,#090 200.5px,#115e11 201.5px,#115e11 205.5px,#222 206.5px,#222 206.5px)"></i>
<i style="background:linear-gradient(90deg,#222 35.5px,#222 35.5px,#090 37.5px,#090 210.5px,#115e11 211.5px,#115e11 215.5px,#222 216.5px,#222 216.5px)"></i>
<i style="background:linear-gradient(90deg,#222 32.5px,#222 32.5px,#090 34.5px,#090 220.5px,#115e11 221.5px,#115e11 225.5px,#222 226.5px,#222 226.5px)"></i>
<i style="background:linear-gradient(90deg,#222 30.5px,#222 30.5px,#090 32.5px,#090 230.5px,#115e11 231.5px,#115e11 235.5px,#222 236.5px,#222 236.5px)"></i>
<i style="background:linear-gradient(90deg,#222 28.5px,#222 28.5px,#090 30.5px,#090 239.5px,#115e11 240.5px,#115e11 244.5px,#222 245.5px,#222 245.5px)"></i>
<i style="background:linear-gradient(90deg,#222 27.5px,#222 27.5px,#090 29.5px,#090 249.5px,#115e11 250.5px,#115e11 253.5px,#222 254.5px,#222 254.5px)"></i>
<i style="background:linear-gradient(90deg,#222 25.5px,#222 25.5px,#090 27.5px,#090 258.5px,#115e11 259.5px,#115e11 262.5px,#222 263.5px,#222 263.5px)"></i>
<i style="background:linear-gradient(90deg,#222 24.5px,#222 24.5px,#090 25.5px,#090 267.5px,#115e11 268.5px,#115e11 270.5px,#305e11 271.5px,#222 272.5px,#222 272.5px)"></i>
<i style="background:linear-gradient(90deg,#222 22.5px,#222 22.5px,#090 24.5px,#090 270.5px,#3d9900 271.5px,#3d9900 276.5px,#305e11 277.5px,#305e11 280.5px,#222 281.5px,#222 281.5px)"></i>
<i style="background:linear-gradient(90deg,#222 21.5px,#222 21.5px,#090 23.5px,#090 271.5px,#3d9900 272.5px,#3d9900 285.5px,#305e11 286.5px,#305e11 289.5px,#222 290.5px,#222 290.5px)"></i>
<i style="background:linear-gradient(90deg,#222 20.5px,#222 20.5px,#090 21.5px,#090 271.5px,#3d9900 272.5px,#3d9900 293.5px,#305e11 294.5px,#305e11 298.5px,#222 299.5px,#222 299.5px)"></i>
<i style="background:linear-gradient(90deg,#222 19.5px,#222 19.5px,#090 20.5px,#090 271.5px,#3d9900 272.5px,#3d9900 302.5px,#305e11 303.5px,#305e11 306.5px,#222 307.5px,#222 307.5px)"></i>
<i style="background:linear-gradient(90deg,#222 18.5px,#222 18.5px,#090 19.5px,#090 271.5px,#3d9900 272.5px,#3d9900 311.5px,#305e11 312.5px,#305e11 313.5px,#445e11 314.5px,#445e11 315.5px,#222 316.5px,#222 316.5px)"></i>
<i style="background:linear-gradient(90deg,#222 17.5px,#222 17.5px,#090 18.5px,#090 271.5px,#3d9900 272.5px,#3d9900 313.5px,#690 314.5px,#690 319.5px,#445e11 320.5px,#445e11 323.5px,#222 324.5px,#222 324.5px)"></i>
<i style="background:linear-gradient(90deg,#222 16.5px,#222 16.5px,#090 17.5px,#090 271.5px,#3d9900 272.5px,#3d9900 313.5px,#690 314.5px,#690 328.5px,#445e11 329.5px,#445e11 332.5px,#222 333.5px,#222 333.5px)"></i>
<i style="background:linear-gradient(90deg,#222 15.5px,#222 15.5px,#090 17.5px,#090 271.5px,#3d9900 272.5px,#3d9900 313.5px,#690 314.5px,#690 336.5px,#445e11 337.5px,#445e11 341.5px,#222 342.5px,#222 342.5px)"></i>
<i style="background:linear-gradient(90deg,#222 14.5px,#222 14.5px,#090 16.5px,#090 271.5px,#3d9900 272.5px,#3d9900 313.5px,#690 314.5px,#690 345.5px,#445e11 346.5px,#445e11 349.5px,#222 350.5px,#222 350.5px)"></i>
<i style="background:linear-gradient(90deg,#222 14.5px,#222 14.5px,#090 15.5px,#090 271.5px,#3d9900 272.5px,#3d9900 313.5px,#690 314.5px,#690 353.5px,#445e11 354.5px,#445e11 358.5px,#222 359.5px,#222 359.5px)"></i>
<i style="background:linear-gradient(90deg,#222 13.5px,#222 13.5px,#090 14.5px,#090 271.5px,#3d9900 272.5px,#3d9900 313.5px,#690 314.5px,#690 360.5px,#979900 361.5px,#979900 362.5px,#5c5e11 363.5px,#5c5e11 366.5px,#222 367.5px,#222 367.5px)"></i>
<i style="background:linear-gradient(90deg,#222 12.5px,#222 12.5px,#090 14.5px,#090 272.5px,#3d9900 273.5px,#3d9900 313.5px,#690 314.5px,#690 360.5px,#979900 361.5px,#979900 370.5px,#5c5e11 371.5px,#5c5e11 375.5px,#222 376.5px,#222 376.5px)"></i>
<i style="background:linear-gradient(90deg,#222 12.5px,#222 12.5px,#090 13.5px,#090 272.5px,#3d9900 273.5px,#3d9900 313.5px,#690 314.5px,#690 360.5px,#979900 361.5px,#979900 379.5px,#5c5e11 380.5px,#5c5e11 383.5px,#222 384.5px,#222 384.5px)"></i>
<i style="background:linear-gradient(90deg,#222 11.5px,#222 11.5px,#090 12.5px,#090 272.5px,#3d9900 273.5px,#3d9900 313.5px,#690 314.5px,#690 360.5px,#979900 361.5px,#979900 387.5px,#5c5e11 388.5px,#5c5e11 392.5px,#222 393.5px,#222 393.5px)"></i>
<i style="background:linear-gradient(90deg,#222 10.5px,#222 10.5px,#090 12.5px,#090 272.5px,#3d9900 273.5px,#3d9900 313.5px,#690 314.5px,#690 360.5px,#979900 361.5px,#979900 396.5px,#5c5e11 397.5px,#5c5e11 400.5px,#222 401.5px,#222 401.5px)"></i>
<i style="background:linear-gradient(90deg,#222 10.5px,#222 10.5px,#090 11.5px,#090 272.5px,#3d9900 273.5px,#3d9900 313.5px,#690 314.5px,#690 360.5px,#979900 361.5px,#979900 404.5px,#5c5e11 405.5px,#5c5e11 408.5px,#222 409.5px,#222 409.5px)"></i>
<i style="background:linear-gradient(90deg,#222 9.5px,#222 9.5px,#090 10.5px,#090 272.5px,#3d9900 273.5px,#3d9900 313.5px,#690 314.5px,#690 360.5px,#979900 361.5px,#979900 412.5px,#996f00 413.5px,#5e4811 414.5px,#5e4811 417.5px,#222 418.5px,#222 418.5px)"></i>
<i style="background:linear-gradient(90deg,#222 9.5px,#222 9.5px,#090 10.5px,#090 272.5px,#3d9900 273.5px,#3d9900 313.5px,#690 314.5px,#690 360.5px,#979900 361.5px,#979900 412.5px,#996f00 413.5px,#996f00 421.5px,#5e4811 422.5px,#5e4811 425.5px,#222 426.5px,#222 426.5px)"></i>
<i style="background:linear-gradient(90deg,#222 8.5px,#222 8.5px,#090 9.5px,#090 272.5px,#3d9900 273.5px,#3d9900 313.5px,#690 314.5px,#690 360.5px,#979900 361.5px,#979900 412.5px,#996f00 413.5px,#996f00 429.5px,#5e4811 430.5px,#5e4811 433.5px,#222 434.5px,#222 434.5px)"></i>
<i style="background:linear-gradient(90deg,#222 8.5px,#222 8.5px,#090 9.5px,#090 272.5px,#3d9900 273.5px,#3d9900 314.5px,#690 315.5px,#690 360.5px,#979900 361.5px,#979900 412.5px,#996f00 413.5px,#996f00 438.5px,#5e4811 439.5px,#5e4811 442.5px,#222 443.5px,#222 443.5px)"></i>
<i style="background:linear-gradient(90deg,#222 7.5px,#222 7.5px,#090 9.5px,#090 272.5px,#3d9900 273.5px,#3d9900 314.5px,#690 315.5px,#690 360.5px,#979900 361.5px,#979900 412.5px,#996f00 413.5px,#996f00 446.5px,#5e4811 447.5px,#5e4811 450.5px,#222 451.5px,#222 451.5px)"></i>
<i style="background:linear-gradient(90deg,#222 7.5px,#222 7.5px,#090 8.5px,#090 273.5px,#3d9900 274.5px,#3d9900 314.5px,#690 315.5px,#690 360.5px,#979900 361.5px,#979900 412.5px,#996f00 413.5px,#996f00 454.5px,#5e4811 455.5px,#5e4811 459.5px,#222 460.5px,#222 460.5px)"></i>
<i style="background:linear-gradient(90deg,#222 7.5px,#222 7.5px,#090 8.5px,#090 273.5px,#3d9900 274.5px,#3d9900 314.5px,#690 315.5px,#690 360.5px,#979900 361.5px,#979900 412.5px,#996f00 413.5px,#996f00 463.5px,#5e4811 464.5px,#5e4811 467.5px,#222 468.5px,#222 468.5px)"></i>
<i style="background:linear-gradient(90deg,#222 6.5px,#222 6.5px,#090 7.5px,#090 236.5px,#01ff00 237.5px,#03ff00 239.5px,#090 240.5px,#090 273.5px,#3d9900 274.5px,#3d9900 314.5px,#690 315.5px,#690 360.5px,#979900 361.5px,#979900 411.5px,#996f00 412.5px,#996f00 469.5px,#995000 470.5px,#995000 471.5px,#5e3911 472.5px,#5e3911 475.5px,#222 476.5px,#222 476.5px)"></i>
<i style="background:linear-gradient(90deg,#222 6.5px,#222 6.5px,#090 7.5px,#090 236.5px,#00ff01 237.5px,#10ff00 249.5px,#090 250.5px,#090 273.5px,#3d9900 274.5px,#3d9900 314.5px,#690 315.5px,#690 360.5px,#979900 361.5px,#979900 411.5px,#996f00 412.5px,#996f00 469.5px,#995000 470.5px,#995000 479.5px,#5e3911 480.5px,#5e3911 484.5px,#222 485.5px,#222 485.5px)"></i>
<i style="background:linear-gradient(90deg,#222 5.5px,#222 5.5px,#090 7.5px,#090 236.5px,#00ff03 237.5px,#1eff00 259.5px,#090 260.5px,#090 273.5px,#3d9900 274.5px,#3d9900 314.5px,#690 315.5px,#690 360.5px,#979900 361.5px,#979900 411.5px,#996f00 412.5px,#996f00 469.5px,#995000 470.5px,#995000 488.5px,#5e3911 489.5px,#5e3911 492.5px,#222 493.5px,#222 493.5px)"></i>
<i style="background:linear-gradient(90deg,#222 5.5px,#222 5.5px,#090 6.5px,#090 237.5px,#01ff04 238.5px,#2cff00 269.5px,#090 270.5px,#090 273.5px,#3d9900 274.5px,#3d9900 314.5px,#690 315.5px,#690 360.5px,#979900 361.5px,#979900 411.5px,#996f00 412.5px,#996f00 469.5px,#995000 470.5px,#995000 496.5px,#5e3911 497.5px,#5e3911 500.5px,#222 501.5px,#222 501.5px)"></i>
<i style="background:linear-gradient(90deg,#222 5.5px,#222 5.5px,#090 6.5px,#090 237.5px,#01ff05 238.5px,#3cff00 280.5px,#3d9900 281.5px,#3d9900 314.5px,#690 315.5px,#690 359.5px,#979900 360.5px,#979900 411.5px,#996f00 412.5px,#996f00 468.5px,#995000 469.5px,#995000 504.5px,#5e3911 505.5px,#5e3911 509.5px,#222 510.5px,#222 510.5px)"></i>
<i style="background:linear-gradient(90deg,#222 4.5px,#222 4.5px,#090 6.5px,#090 237.5px,#01ff06 238.5px,#4bff00 290.5px,#3d9900 291.5px,#3d9900 314.5px,#690 315.5px,#690 359.5px,#979900 360.5px,#979900 411.5px,#996f00 412.5px,#996f00 468.5px,#995000 469.5px,#995000 513.5px,#5e3911 514.5px,#5e3911 517.5px,#222 518.5px,#222 518.5px)"></i>
<i style="background:linear-gradient(90deg,#222 4.5px,#222 4.5px,#090 5.5px,#090 237.5px,#01ff07 238.5px,#5bff00 300.5px,#3d9900 301.5px,#3d9900 314.5px,#690 315.5px,#690 359.5px,#979900 360.5px,#979900 411.5px,#996f00 412.5px,#996f00 468.5px,#995000 469.5px,#995000 521.5px,#5e3911 522.5px,#5e3911 525.5px,#222 526.5px,#222 526.5px)"></i>
<i style="background:linear-gradient(90deg,#222 4.5px,#222 4.5px,#090 5.5px,#090 237.5px,#00ff08 238.5px,#6dff00 311.5px,#3d9900 312.5px,#3d9900 314.5px,#690 315.5px,#690 359.5px,#979900 360.5px,#979900 411.5px,#996f00 412.5px,#996f00 468.5px,#995000 469.5px,#995000 529.5px,#5e3911 530.5px,#5e3911 531.5px,#5e2e11 532.5px,#5e2e11 534.5px,#222 535.5px,#222 535.5px)"></i>
<i style="background:linear-gradient(90deg,#222 4.5px,#222 4.5px,#090 5.5px,#090 237.5px,#00ff0a 238.5px,#3dff05 281.5px,#7eff00 321.5px,#690 322.5px,#690 359.5px,#979900 360.5px,#979900 410.5px,#996f00 411.5px,#996f00 468.5px,#995000 469.5px,#995000 531.5px,#993a00 532.5px,#993a00 538.5px,#5e2e11 539.5px,#5e2e11 542.5px,#222 543.5px,#222 543.5px)"></i>
<i style="background:linear-gradient(90deg,#222 3.5px,#222 3.5px,#090 5.5px,#090 237.5px,#00ff0b 238.5px,#45ff06 286.5px,#8fff00 331.5px,#690 332.5px,#690 359.5px,#979900 360.5px,#979900 410.5px,#996f00 411.5px,#996f00 467.5px,#995000 468.5px,#995000 531.5px,#993a00 532.5px,#993a00 546.5px,#5e2e11 547.5px,#5e2e11 550.5px,#222 551.5px,#222 551.5px)"></i>
<i style="background:linear-gradient(90deg,#222 3.5px,#222 3.5px,#00991b 4.5px,#00991a 19.5px,#090 20.5px,#090 238.5px,#01ff0c 239.5px,#4eff06 292.5px,#a2ff00 341.5px,#690 342.5px,#690 359.5px,#979900 360.5px,#979900 410.5px,#996f00 411.5px,#996f00 467.5px,#995000 468.5px,#995000 530.5px,#993a00 531.5px,#993a00 555.5px,#5e2e11 556.5px,#5e2e11 559.5px,#222 560.5px,#222 560.5px)"></i>
<i style="background:linear-gradient(90deg,#222 3.5px,#222 3.5px,#00991b 4.5px,#00991a 36.5px,#090 37.5px,#090 238.5px,#01ff0d 239.5px,#57ff07 298.5px,#b7ff00 352.5px,#690 353.5px,#690 359.5px,#979900 360.5px,#979900 410.5px,#996f00 411.5px,#996f00 467.5px,#995000 468.5px,#995000 530.5px,#993a00 531.5px,#993a00 563.5px,#5e2e11 564.5px,#5e2e11 567.5px,#222 568.5px,#222 568.5px)"></i>
<i style="background:linear-gradient(90deg,#222 3.5px,#222 3.5px,#00991c 4.5px,#00991a 53.5px,#090 54.5px,#090 238.5px,#01ff0e 239.5px,#61ff08 304.5px,#caff00 362.5px,#979900 363.5px,#979900 410.5px,#996f00 411.5px,#996f00 467.5px,#995000 468.5px,#995000 530.5px,#993a00 531.5px,#993a00 571.5px,#5e2e11 572.5px,#5e2e11 576.5px,#222 577.5px,#222 577.5px)"></i>
<i style="background:linear-gradient(90deg,#222 3.5px,#222 3.5px,#00991d 4.5px,#00991a 70.5px,#090 71.5px,#090 238.5px,#01ff10 239.5px,#69ff08 309.5px,#dfff00 372.5px,#979900 373.5px,#979900 410.5px,#996f00 411.5px,#996f00 466.5px,#995000 467.5px,#995000 529.5px,#993a00 530.5px,#993a00 580.5px,#5e2e11 581.5px,#5e2e11 584.5px,#222 585.5px,#222 585.5px)"></i>
<i style="background:linear-gradient(90deg,#222 2.5px,#222 2.5px,#00991d 4.5px,#00991a 86.5px,#090 87.5px,#090 238.5px,#0f1 239.5px,#73ff09 315.5px,#f5ff00 382.5px,#979900 383.5px,#979900 410.5px,#996f00 411.5px,#996f00 466.5px,#995000 467.5px,#995000 529.5px,#993a00 530.5px,#993a00 588.5px,#5e2e11 589.5px,#5e2e11 592.5px,#222 593.5px,#222 593.5px)"></i>
<i style="background:linear-gradient(90deg,#222 2.5px,#222 2.5px,#00991e 3.5px,#00991a 103.5px,#090 104.5px,#090 238.5px,#00ff12 239.5px,#77ff0a 317.5px,#fffe01 387.5px,#fff100 393.5px,#979900 394.5px,#979900 409.5px,#996f00 410.5px,#996f00 466.5px,#995000 467.5px,#995000 529.5px,#993a00 530.5px,#993a00 597.5px,#5e2611 598.5px,#5e2611 601.5px,#222 602.5px,#222 602.5px)"></i>
<i style="background:linear-gradient(90deg,#222 2.5px,#222 2.5px,#00991f 3.5px,#00991a 120.5px,#090 121.5px,#090 239.5px,#01ff13 240.5px,#77ff0b 317.5px,#fffe02 387.5px,#ffde00 403.5px,#979900 404.5px,#979900 409.5px,#996f00 410.5px,#996f00 466.5px,#995000 467.5px,#995000 528.5px,#993a00 529.5px,#993a00 597.5px,#992900 598.5px,#992900 605.5px,#5e2611 606.5px,#5e2611 609.5px,#222 610.5px,#222 610.5px)"></i>
<i style="background:linear-gradient(90deg,#222 2.5px,#222 2.5px,#009920 3.5px,#00991a 136.5px,#090 137.5px,#090 239.5px,#01ff14 240.5px,#77ff0d 317.5px,#fffe04 387.5px,#ffcd00 413.5px,#996f00 414.5px,#996f00 466.5px,#995000 467.5px,#995000 528.5px,#993a00 529.5px,#993a00 596.5px,#992900 597.5px,#992900 613.5px,#5e2611 614.5px,#5e2611 618.5px,#222 619.5px,#222 619.5px)"></i>
<i style="background:linear-gradient(90deg,#222 2.5px,#222 2.5px,#009920 3.5px,#00991a 153.5px,#090 154.5px,#090 239.5px,#01ff16 240.5px,#77ff0e 317.5px,#fffe06 387.5px,#ffbc00 424.5px,#996f00 425.5px,#996f00 465.5px,#995000 466.5px,#995000 528.5px,#993a00 529.5px,#993a00 596.5px,#992900 597.5px,#992900 622.5px,#5e2611 623.5px,#5e2611 626.5px,#222 627.5px,#222 627.5px)"></i>
<i style="background:linear-gradient(90deg,#222 2.5px,#222 2.5px,#009921 3.5px,#00991a 170.5px,#090 171.5px,#090 239.5px,#01ff17 240.5px,#75ff10 316.5px,#fffd07 387.5px,#ffd303 409.5px,#ffae00 434.5px,#996f00 435.5px,#996f00 465.5px,#995000 466.5px,#995000 527.5px,#993a00 528.5px,#993a00 596.5px,#992900 597.5px,#992900 630.5px,#5e2611 631.5px,#5e2611 634.5px,#222 635.5px,#222 635.5px)"></i>
<i style="background:linear-gradient(90deg,#222 2.5px,#222 2.5px,#009921 3.5px,#00991a 187.5px,#090 188.5px,#090 239.5px,#00ff18 240.5px,#75ff11 316.5px,#fffd09 387.5px,#ffcc04 413.5px,#ffa200 444.5px,#996f00 445.5px,#996f00 465.5px,#995000 466.5px,#995000 527.5px,#993a00 528.5px,#993a00 595.5px,#992900 596.5px,#992900 638.5px,#5e2611 639.5px,#5e2611 643.5px,#222 644.5px,#222 644.5px)"></i>
<i style="background:linear-gradient(90deg,#222 2.5px,#222 2.5px,#092 3.5px,#00991a 203.5px,#090 204.5px,#090 239.5px,#00ff19 240.5px,#75ff13 316.5px,#fffd0a 387.5px,#ffc605 417.5px,#ff9700 454.5px,#996f00 455.5px,#996f00 465.5px,#995000 466.5px,#995000 527.5px,#993a00 528.5px,#993a00 595.5px,#992900 596.5px,#992900 647.5px,#5e2611 648.5px,#5e2611 651.5px,#222 652.5px,#222 652.5px)"></i>
<i style="background:linear-gradient(90deg,#222 1.5px,#222 1.5px,#009923 2.5px,#00991a 220.5px,#090 221.5px,#090 240.5px,#01ff1b 241.5px,#78ff14 318.5px,#b9ff10 353.5px,#ffff0c 386.5px,#ffbf05 421.5px,#ff8c00 465.5px,#995000 466.5px,#995000 526.5px,#993a00 527.5px,#993a00 594.5px,#992900 595.5px,#992900 655.5px,#5e2611 656.5px,#5e2611 659.5px,#222 660.5px,#222 660.5px)"></i>
<i style="background:linear-gradient(90deg,#222 1.5px,#222 1.5px,#009923 2.5px,#00991a 237.5px,#090 238.5px,#090 240.5px,#01ff1c 241.5px,#78ff15 318.5px,#b9ff12 353.5px,#ffff0e 386.5px,#ffdb0a 404.5px,#ffba06 425.5px,#ff8200 475.5px,#995000 476.5px,#995000 526.5px,#993a00 527.5px,#993a00 594.5px,#992900 595.5px,#992900 663.5px,#5e2611 664.5px,#5e1f11 668.5px,#222 669.5px,#222 669.5px)"></i>
<i style="background:linear-gradient(90deg,#222 1.5px,#222 1.5px,#009924 2.5px,#00991b 240.5px,#01ff1d 241.5px,#78ff17 318.5px,#b7ff13 352.5px,#ffff0f 386.5px,#ffd70b 406.5px,#ffb407 429.5px,#ff7a00 485.5px,#995000 486.5px,#995000 526.5px,#993a00 527.5px,#993a00 593.5px,#992900 594.5px,#992900 666.5px,#991b00 667.5px,#991b00 672.5px,#5e1f11 673.5px,#5e1f11 676.5px,#222 677.5px,#222 677.5px)"></i>
<i style="background:linear-gradient(90deg,#222 1.5px,#222 1.5px,#009925 2.5px,#00991c 240.5px,#01ff1e 241.5px,#76ff18 317.5px,#b5ff15 351.5px,#fffe11 386.5px,#ffd30c 408.5px,#ffae07 433.5px,#ff8e03 462.5px,#ff7100 496.5px,#995000 497.5px,#995000 525.5px,#993a00 526.5px,#993a00 593.5px,#992900 594.5px,#992900 665.5px,#991b00 666.5px,#991b00 680.5px,#5e1f11 681.5px,#5e1f11 684.5px,#222 685.5px,#222 685.5px)"></i>
<i style="background:linear-gradient(90deg,#222 1.5px,#222 1.5px,#009925 2.5px,#00991d 240.5px,#00ff20 241.5px,#76ff1a 317.5px,#b6ff16 351.5px,#fffe12 386.5px,#ffd00d 410.5px,#ffa908 437.5px,#ff8704 469.5px,#ff6a00 506.5px,#995000 507.5px,#995000 525.5px,#993a00 526.5px,#993a00 592.5px,#992900 593.5px,#992900 665.5px,#991b00 666.5px,#991b00 688.5px,#5e1f11 689.5px,#5e1f11 693.5px,#222 694.5px,#222 694.5px)"></i>
<i style="background:linear-gradient(90deg,#222 1.5px,#222 1.5px,#009926 2.5px,#00991e 240.5px,#00ff21 241.5px,#76ff1b 317.5px,#fffe14 386.5px,#ffce0e 411.5px,#ffa408 441.5px,#ff8104 476.5px,#ff6300 516.5px,#995000 517.5px,#995000 525.5px,#993a00 526.5px,#993a00 592.5px,#992900 593.5px,#992900 664.5px,#991b00 665.5px,#991b00 697.5px,#5e1f11 698.5px,#5e1f11 701.5px,#222 702.5px,#222 702.5px)"></i>
<i style="background:linear-gradient(90deg,#222 1.5px,#222 1.5px,#009927 2.5px,#00991f 240.5px,#0f2 241.5px,#76ff1c 317.5px,#fffe16 386.5px,#ffca0f 413.5px,#ffa009 444.5px,#ff7b04 482.5px,#ff5d00 526.5px,#993a00 527.5px,#993a00 592.5px,#992900 593.5px,#992900 664.5px,#991b00 665.5px,#991b00 705.5px,#5e1f11 706.5px,#5e1f11 709.5px,#222 710.5px,#222 710.5px)"></i>
<i style="background:linear-gradient(90deg,#222 1.5px,#222 1.5px,#009927 2.5px,#009920 241.5px,#01ff23 242.5px,#76ff1e 317.5px,#fffe17 386.5px,#ffc910 414.5px,#ff9c0a 448.5px,#ff7604 489.5px,#ff5700 537.5px,#993a00 538.5px,#993a00 591.5px,#992900 592.5px,#992900 663.5px,#991b00 664.5px,#991b00 713.5px,#5e1f11 714.5px,#5e1f11 718.5px,#222 719.5px,#222 719.5px)"></i>
<i style="background:linear-gradient(90deg,#222 1.5px,#222 1.5px,#009928 2.5px,#009920 241.5px,#01ff25 242.5px,#76ff1f 317.5px,#fffd19 386.5px,#ffc511 416.5px,#ff970a 452.5px,#ff7105 495.5px,#ff5100 547.5px,#993a00 548.5px,#993a00 591.5px,#992900 592.5px,#992900 663.5px,#991b00 664.5px,#991b00 722.5px,#5e1f11 723.5px,#5e1f11 726.5px,#222 727.5px,#222 727.5px)"></i>
<i style="background:linear-gradient(90deg,#222 1.5px,#222 1.5px,#009929 2.5px,#009921 241.5px,#01ff26 242.5px,#76ff21 317.5px,#fffd1a 386.5px,#ffc312 417.5px,#ff940b 455.5px,#ff6c05 501.5px,#ff4c00 557.5px,#993a00 558.5px,#993a00 590.5px,#992900 591.5px,#992900 662.5px,#991b00 663.5px,#991b00 730.5px,#5e1f11 731.5px,#5e1f11 734.5px,#222 735.5px,#222 735.5px)"></i>
<i style="background:linear-gradient(90deg,#222 1.5px,#222 1.5px,#009929 2.5px,#092 241.5px,#01ff27 242.5px,#74ff22 316.5px,#fffd1c 386.5px,#ffc213 418.5px,#ff900b 458.5px,#ff6805 507.5px,#ff4700 567.5px,#993a00 568.5px,#993a00 590.5px,#992900 591.5px,#992900 661.5px,#991b00 662.5px,#991b00 735.5px,#900 736.5px,#900 738.5px,#5e1111 739.5px,#5e1111 743.5px,#222 744.5px,#222 744.5px)"></i>
<i style="background:linear-gradient(90deg,#222 1.5px,#222 1.5px,#00992a 2.5px,#009923 241.5px,#00ff28 242.5px,#78ff24 318.5px,#baff21 353.5px,#ffff1e 385.5px,#ffc014 419.5px,#ff8d0c 461.5px,#ff6405 513.5px,#ff4200 578.5px,#993a00 579.5px,#993a00 589.5px,#992900 590.5px,#992900 661.5px,#991b00 662.5px,#991b00 734.5px,#900 735.5px,#900 747.5px,#5e1111 748.5px,#5e1111 751.5px,#222 752.5px,#222 752.5px)"></i>
<i style="background:linear-gradient(90deg,#222 1.5px,#222 1.5px,#00992a 2.5px,#009924 241.5px,#00ff2a 242.5px,#78ff25 318.5px,#b8ff22 352.5px,#ffff20 385.5px,#ffbe15 420.5px,#ff8a0c 464.5px,#ff6006 519.5px,#ff3e00 588.5px,#993a00 589.5px,#992900 590.5px,#992900 660.5px,#991b00 661.5px,#991b00 733.5px,#900 734.5px,#900 755.5px,#5e1111 756.5px,#5e1111 759.5px,#222 760.5px,#222 760.5px)"></i>
<i style="background:linear-gradient(90deg,#222 1.5px,#222 1.5px,#00992b 2.5px,#009925 242.5px,#01ff2b 243.5px,#78ff26 318.5px,#b8ff24 352.5px,#ffff21 385.5px,#ffbb16 422.5px,#ff860d 468.5px,#ff5c06 526.5px,#ff3a00 598.5px,#992900 599.5px,#992900 660.5px,#991b00 661.5px,#991b00 732.5px,#900 733.5px,#900 764.5px,#5e1111 765.5px,#5e1111 768.5px,#222 769.5px,#222 769.5px)"></i>
<i style="background:linear-gradient(90deg,#222 1.5px,#222 1.5px,#00992c 2.5px,#009926 242.5px,#01ff2c 243.5px,#77ff28 318.5px,#b6ff26 351.5px,#fffe23 385.5px,#ffda1c 403.5px,#ffb917 423.5px,#ff830d 471.5px,#ff5806 532.5px,#ff3600 609.5px,#992900 610.5px,#992900 659.5px,#991b00 660.5px,#991b00 732.5px,#900 733.5px,#900 772.5px,#5e1111 773.5px,#5e1111 776.5px,#222 777.5px,#222 777.5px)"></i>
<i style="background:linear-gradient(90deg,#222 1.5px,#222 1.5px,#00992c 2.5px,#009927 242.5px,#01ff2e 243.5px,#77ff29 318.5px,#fffe24 385.5px,#ffd91e 403.5px,#ffb818 424.5px,#ff800e 474.5px,#ff5506 538.5px,#f30 619.5px,#992900 620.5px,#992900 659.5px,#991b00 660.5px,#991b00 731.5px,#900 732.5px,#900 780.5px,#5e1111 781.5px,#5e1111 784.5px,#222 785.5px,#222 785.5px)"></i>
<i style="background:linear-gradient(90deg,#222 1.5px,#222 1.5px,#00992d 2.5px,#009928 242.5px,#01ff2f 243.5px,#76ff2b 317.5px,#fffe26 385.5px,#ffd71f 404.5px,#ffb619 425.5px,#ff7d0e 477.5px,#ff5106 544.5px,#ff2f00 629.5px,#992900 630.5px,#992900 658.5px,#991b00 659.5px,#991b00 730.5px,#900 731.5px,#900 789.5px,#5e1111 790.5px,#5e1111 793.5px,#222 794.5px,#222 794.5px)"></i>
<i style="background:linear-gradient(90deg,#222 1.5px,#222 1.5px,#00992e 2.5px,#009928 242.5px,#00ff30 243.5px,#76ff2c 317.5px,#fffe28 385.5px,#ffd720 404.5px,#ffb51a 426.5px,#ff7b0f 480.5px,#ff4f07 549.5px,#ff2c00 639.5px,#992900 640.5px,#992900 657.5px,#991b00 658.5px,#991b00 730.5px,#900 731.5px,#900 797.5px,#5e1111 798.5px,#5e1111 801.5px,#222 802.5px,#222 802.5px)"></i>
<i style="background:linear-gradient(90deg,#222 1.5px,#222 1.5px,#00992e 2.5px,#009929 242.5px,#00ff32 243.5px,#75ff2e 317.5px,#fffe29 385.5px,#ffd522 405.5px,#ffb21b 428.5px,#ff780f 483.5px,#ff4b07 556.5px,#ff2900 650.5px,#992900 651.5px,#992900 657.5px,#991b00 658.5px,#991b00 729.5px,#900 730.5px,#900 805.5px,#5e1111 806.5px,#5e1111 810.5px,#222 811.5px,#222 811.5px)"></i>
<i style="background:linear-gradient(90deg,#222 1.5px,#222 1.5px,#00992f 2.5px,#00992a 242.5px,#0f3 243.5px,#75ff2f 317.5px,#fffd2b 385.5px,#ffd323 406.5px,#ffb01c 429.5px,#ff7510 486.5px,#ff4807 561.5px,#ff2600 660.5px,#991b00 661.5px,#991b00 728.5px,#900 729.5px,#900 814.5px,#5e1111 815.5px,#5e1111 818.5px,#222 819.5px,#222 819.5px)"></i>
<i style="background:linear-gradient(90deg,#222 1.5px,#222 1.5px,#009930 2.5px,#00992b 243.5px,#01ff34 244.5px,#75ff31 317.5px,#fffd2d 385.5px,#ffd324 406.5px,#ffae1d 430.5px,#ff8f16 457.5px,#ff7310 489.5px,#ff4607 567.5px,#ff2300 670.5px,#991b00 671.5px,#991b00 728.5px,#900 729.5px,#900 822.5px,#5e1111 823.5px,#5e1111 826.5px,#222 827.5px,#222 827.5px)"></i>
<i style="background:linear-gradient(90deg,#222 1.5px,#222 1.5px,#009930 2.5px,#00992c 243.5px,#01ff36 244.5px,#75ff32 317.5px,#fffd2e 385.5px,#ffd326 406.5px,#ffad1e 431.5px,#ff8d17 459.5px,#ff7011 492.5px,#ff4307 573.5px,#ff2000 681.5px,#991b00 682.5px,#991b00 727.5px,#900 728.5px,#900 831.5px,#5e1111 832.5px,#5e1111 835.5px,#222 836.5px,#222 836.5px)"></i>
<i style="background:linear-gradient(90deg,#222 1.5px,#222 1.5px,#009931 2.5px,#00992d 243.5px,#01ff37 244.5px,#75ff34 317.5px,#fffd30 385.5px,#ffd127 407.5px,#ffab1f 432.5px,#ff8b18 461.5px,#ff6e11 495.5px,#ff4007 579.5px,#ff1e00 691.5px,#991b00 692.5px,#991b00 726.5px,#900 727.5px,#900 839.5px,#5e1111 840.5px,#5e1111 843.5px,#222 844.5px,#222 844.5px)"></i>
<i style="background:linear-gradient(90deg,#222 1.5px,#222 1.5px,#009931 2.5px,#00992e 243.5px,#01ff38 244.5px,#77ff35 318.5px,#b9ff34 352.5px,#ffff32 384.5px,#ffd228 406.5px,#ffab20 432.5px,#ff8a18 462.5px,#ff6c12 497.5px,#ff3e08 584.5px,#ff1b00 701.5px,#991b00 702.5px,#991b00 726.5px,#900 727.5px,#900 847.5px,#5e1111 848.5px,#5e1111 852.5px,#222 853.5px,#222 853.5px)"></i>
<i style="background:linear-gradient(90deg,#222 1.5px,#222 1.5px,#009932 2.5px,#00992f 243.5px,#00ff3a 244.5px,#77ff37 318.5px,#b7ff36 351.5px,#ffff34 384.5px,#ffd029 407.5px,#ffaa21 433.5px,#ff8719 464.5px,#ff6a12 500.5px,#ff3b08 590.5px,#ff1900 711.5px,#991b00 712.5px,#991b00 725.5px,#900 726.5px,#900 856.5px,#5e1111 857.5px,#5e1111 860.5px,#222 861.5px,#222 861.5px)"></i>
<i style="background:linear-gradient(90deg,#222 1.5px,#222 1.5px,#093 2.5px,#00992f 243.5px,#00ff3b 244.5px,#77ff39 318.5px,#b7ff37 351.5px,#fffe36 384.5px,#ffd02b 407.5px,#ffa822 434.5px,#ff851a 466.5px,#ff6813 503.5px,#ff3908 596.5px,#ff1700 722.5px,#991b00 723.5px,#991b00 724.5px,#900 725.5px,#900 864.5px,#5e1111 865.5px,#5e1111 869.5px,#222 870.5px,#222 870.5px)"></i>
<i style="background:linear-gradient(90deg,#222 1.5px,#222 1.5px,#093 2.5px,#009930 244.5px,#01ff3c 245.5px,#77ff3a 318.5px,#fffe37 384.5px,#ffce2c 408.5px,#ffa723 435.5px,#ff841a 467.5px,#ff6613 505.5px,#ff3708 601.5px,#ff1400 732.5px,#900 733.5px,#900 873.5px,#5e1111 874.5px,#5e1111 877.5px,#222 878.5px,#222 878.5px)"></i>
<i style="background:linear-gradient(90deg,#222 2.5px,#222 2.5px,#009934 3.5px,#009931 244.5px,#01ff3e 245.5px,#77ff3c 318.5px,#fffe39 384.5px,#ffce2d 408.5px,#ffa524 436.5px,#ff821b 469.5px,#ff6414 508.5px,#ff3508 607.5px,#ff1200 742.5px,#900 743.5px,#900 881.5px,#5e1111 882.5px,#5e1111 885.5px,#222 886.5px,#222 886.5px)"></i>
<i style="background:linear-gradient(90deg,#222 2.5px,#222 2.5px,#009934 3.5px,#009932 244.5px,#01ff3f 245.5px,#77ff3d 318.5px,#fffe3b 384.5px,#ffce2f 408.5px,#ffa424 437.5px,#ff801c 471.5px,#ff6214 511.5px,#ff3309 612.5px,#ff1000 752.5px,#900 753.5px,#900 890.5px,#5e1111 891.5px,#5e1111 894.5px,#222 895.5px,#222 895.5px)"></i>
<i style="background:linear-gradient(90deg,#222 2.5px,#222 2.5px,#009935 3.5px,#093 244.5px,#01ff40 245.5px,#75ff3f 317.5px,#fffe3c 384.5px,#ffcc30 409.5px,#ffa225 438.5px,#ff7f1c 472.5px,#ff6015 513.5px,#ff3109 618.5px,#ff0e00 763.5px,#900 764.5px,#900 898.5px,#5e1111 899.5px,#5e1111 902.5px,#222 903.5px,#222 903.5px)"></i>
<i style="background:linear-gradient(90deg,#222 2.5px,#222 2.5px,#009936 3.5px,#009934 244.5px,#00ff42 245.5px,#75ff40 317.5px,#fffd3e 384.5px,#ffcc31 409.5px,#ffa126 439.5px,#ff7d1d 474.5px,#ff5e15 516.5px,#ff2f09 623.5px,#ff0d00 773.5px,#900 774.5px,#900 906.5px,#5e1111 907.5px,#5e1111 911.5px,#222 912.5px,#222 912.5px)"></i>
<i style="background:linear-gradient(90deg,#222 2.5px,#222 2.5px,#009936 3.5px,#009935 244.5px,#00ff43 245.5px,#75ff42 317.5px,#fffd40 384.5px,#ffca32 410.5px,#ff9f27 440.5px,#ff7b1e 476.5px,#ff5d16 518.5px,#ff430f 568.5px,#ff2d09 628.5px,#ff0b00 783.5px,#900 784.5px,#900 915.5px,#5e1111 916.5px,#5e1111 919.5px,#222 920.5px,#222 920.5px)"></i>
<i style="background:linear-gradient(90deg,#222 2.5px,#222 2.5px,#009937 3.5px,#009935 245.5px,#01ff45 246.5px,#75ff43 317.5px,#fffd42 384.5px,#ffc934 410.5px,#ff9e28 441.5px,#ff791e 478.5px,#ff5b16 521.5px,#ff410f 573.5px,#ff2b09 634.5px,#ff0900 794.5px,#900 795.5px,#900 923.5px,#5e1111 924.5px,#5e1111 927.5px,#222 928.5px,#222 928.5px)"></i>
<i style="background:linear-gradient(90deg,#222 2.5px,#222 2.5px,#009938 3.5px,#009936 245.5px,#01ff46 246.5px,#75ff45 317.5px,#fffd43 384.5px,#ffc935 410.5px,#ff9d29 442.5px,#ff781f 479.5px,#ff5916 524.5px,#ff3f0f 577.5px,#ff2909 640.5px,#ff0700 804.5px,#900 805.5px,#900 931.5px,#5e1111 932.5px,#5e1111 935.5px,#222 936.5px,#222 936.5px)"></i>
<i style="background:linear-gradient(90deg,#222 2.5px,#222 2.5px,#009938 3.5px,#009937 245.5px,#01ff47 246.5px,#78ff47 319.5px,#baff46 352.5px,#ffff46 383.5px,#ffc937 410.5px,#ff9c2a 442.5px,#ff7720 480.5px,#ff5817 525.5px,#ff3e10 579.5px,#ff280a 644.5px,#ff0600 814.5px,#900 815.5px,#900 940.5px,#5e1111 941.5px,#5e1111 944.5px,#222 945.5px,#222 945.5px)"></i>
<i style="background:linear-gradient(90deg,#222 2.5px,#222 2.5px,#009939 3.5px,#009938 245.5px,#01ff49 246.5px,#76ff48 318.5px,#b8ff48 351.5px,#ffff47 383.5px,#ffc938 410.5px,#ff9b2b 443.5px,#ff7520 482.5px,#ff5617 528.5px,#ff3c10 584.5px,#ff260a 650.5px,#ff0400 824.5px,#900 825.5px,#900 948.5px,#5e1111 949.5px,#5e1111 952.5px,#222 953.5px,#222 953.5px)"></i>
<i style="background:linear-gradient(90deg,#222 2.5px,#222 2.5px,#009939 3.5px,#009939 245.5px,#01ff4a 246.5px,#76ff4a 318.5px,#b6ff4a 350.5px,#fffe49 383.5px,#ffc939 410.5px,#ff9b2c 443.5px,#ff7421 483.5px,#ff5518 530.5px,#ff3a10 587.5px,#ff240a 655.5px,#ff0300 835.5px,#900 836.5px,#900 956.5px,#5e1111 957.5px,#5e1111 960.5px,#222 961.5px,#222 961.5px)"></i>
<i style="background:linear-gradient(90deg,#222 3.5px,#222 3.5px,#00993a 4.5px,#00993a 245.5px,#00ff4c 246.5px,#76ff4b 318.5px,#b6ff4b 350.5px,#fffe4b 383.5px,#ffc73a 411.5px,#ff992d 444.5px,#ff7322 484.5px,#ff5318 533.5px,#ff3910 591.5px,#ff230a 661.5px,#ff0100 845.5px,#900 846.5px,#900 965.5px,#5e1111 966.5px,#5e1111 969.5px,#222 970.5px,#222 970.5px)"></i>
<i style="background:linear-gradient(90deg,#222 3.5px,#222 3.5px,#00993b 4.5px,#00993b 245.5px,#00ff4d 246.5px,#76ff4d 318.5px,#fffe4d 383.5px,#ffc63c 411.5px,#ff982e 445.5px,#ff7122 486.5px,#ff5219 535.5px,#ff3711 594.5px,#ff210a 666.5px,#f00 855.5px,#900 856.5px,#900 973.5px,#5e1111 974.5px,#5e1111 977.5px,#222 978.5px,#222 978.5px)"></i>
<i style="background:linear-gradient(90deg,#222 3.5px,#222 3.5px,#00993b 4.5px,#00993c 246.5px,#01ff4e 247.5px,#76ff4f 318.5px,#fffe4e 383.5px,#ffc63d 411.5px,#ff982f 445.5px,#ff7123 486.5px,#ff5219 535.5px,#ff3711 594.5px,#ff210b 666.5px,#f00 855.5px,#900 856.5px,#900 981.5px,#5e1111 982.5px,#5e1111 985.5px,#222 986.5px,#222 986.5px)"></i>
<i style="background:linear-gradient(90deg,#222 3.5px,#222 3.5px,#00993c 4.5px,#00993c 246.5px,#01ff50 247.5px,#76ff50 318.5px,#fffe50 383.5px,#ffc63f 411.5px,#ff9830 445.5px,#ff7124 486.5px,#ff511a 535.5px,#ff3712 594.5px,#ff210b 665.5px,#ff0001 854.5px,#900 855.5px,#900 990.5px,#5e1111 991.5px,#5e1111 994.5px,#222 995.5px,#222 995.5px)"></i>
<i style="background:linear-gradient(90deg,#222 3.5px,#222 3.5px,#00993d 4.5px,#00993d 246.5px,#01ff51 247.5px,#76ff52 318.5px,#fffd52 383.5px,#ffc640 411.5px,#ff9731 445.5px,#ff7225 485.5px,#ff521b 534.5px,#ff3713 593.5px,#ff210c 664.5px,#ff0001 853.5px,#900 854.5px,#900 998.5px,#5e1111 999.5px,#5e1111 1002.5px,#222 1003.5px,#222 1003.5px)"></i>
<i style="background:linear-gradient(90deg,#222 3.5px,#222 3.5px,#00993d 4.5px,#00993e 246.5px,#01ff53 247.5px,#74ff53 317.5px,#fffd54 383.5px,#ffc542 411.5px,#ff9733 445.5px,#ff7126 485.5px,#ff511c 534.5px,#ff3713 593.5px,#ff210c 664.5px,#ff0002 852.5px,#900 853.5px,#900 1006.5px,#5e1111 1007.5px,#5e1111 1011.5px,#222 1012.5px,#222 1012.5px)"></i>
<i style="background:linear-gradient(90deg,#222 3.5px,#222 3.5px,#00993e 4.5px,#00993f 246.5px,#00ff54 247.5px,#74ff55 317.5px,#fffd55 383.5px,#ffc543 411.5px,#ff9734 445.5px,#ff7127 485.5px,#ff511d 534.5px,#ff3714 593.5px,#ff210d 663.5px,#ff0002 851.5px,#900 852.5px,#900 1015.5px,#5e1111 1016.5px,#5e1111 1019.5px,#222 1020.5px,#222 1020.5px)"></i>
<i style="background:linear-gradient(90deg,#222 3.5px,#222 3.5px,#00993e 5.5px,#009940 246.5px,#00ff56 247.5px,#74ff57 317.5px,#fffd57 383.5px,#ffc545 411.5px,#ff9835 444.5px,#ff7229 484.5px,#ff521e 533.5px,#ff3715 592.5px,#ff210e 662.5px,#ff0002 850.5px,#900 851.5px,#900 1023.5px,#5e1111 1024.5px,#5e1111 1027.5px,#222 1028.5px,#222 1028.5px)"></i>
<i style="background:linear-gradient(90deg,#222 4.5px,#222 4.5px,#00993f 5.5px,#009941 247.5px,#01ff57 248.5px,#78ff58 319.5px,#b8ff59 351.5px,#ffff5a 382.5px,#ffc647 410.5px,#ff9937 443.5px,#ff722a 483.5px,#ff521f 532.5px,#ff3816 590.5px,#ff220e 661.5px,#ff0003 849.5px,#900 850.5px,#900 1032.5px,#5e1111 1033.5px,#5e1111 1036.5px,#222 1037.5px,#222 1037.5px)"></i>
<i style="background:linear-gradient(90deg,#222 4.5px,#222 4.5px,#009940 5.5px,#009942 247.5px,#01ff58 248.5px,#78ff5a 319.5px,#b8ff5b 351.5px,#ffff5c 382.5px,#ffc648 410.5px,#ff9838 443.5px,#ff722b 483.5px,#ff5220 532.5px,#ff3717 590.5px,#ff210f 661.5px,#ff0003 848.5px,#900 849.5px,#900 1040.5px,#5e1111 1041.5px,#5e1111 1044.5px,#222 1045.5px,#222 1045.5px)"></i>
<i style="background:linear-gradient(90deg,#222 4.5px,#222 4.5px,#009940 5.5px,#009942 247.5px,#01ff5a 248.5px,#78ff5c 319.5px,#b6ff5d 350.5px,#fffe5d 382.5px,#ffc64a 410.5px,#ff9839 443.5px,#ff722c 483.5px,#ff5220 532.5px,#ff3717 590.5px,#ff2110 660.5px,#ff0004 847.5px,#900 848.5px,#900 1048.5px,#5e1111 1049.5px,#5e1111 1053.5px,#222 1054.5px,#222 1054.5px)"></i>
<i style="background:linear-gradient(90deg,#222 4.5px,#222 4.5px,#009941 5.5px,#009943 247.5px,#01ff5b 248.5px,#76ff5d 318.5px,#b6ff5e 350.5px,#fffe5f 382.5px,#ffc64b 410.5px,#ff983b 443.5px,#ff722d 483.5px,#ff5222 531.5px,#ff3818 589.5px,#ff2210 659.5px,#ff0004 846.5px,#900 847.5px,#900 1057.5px,#5e1111 1058.5px,#5e1111 1061.5px,#222 1062.5px,#222 1062.5px)"></i>
<i style="background:linear-gradient(90deg,#222 4.5px,#222 4.5px,#009941 5.5px,#094 247.5px,#01ff5d 248.5px,#76ff5f 318.5px,#fffe61 382.5px,#ffc54c 410.5px,#ff983c 443.5px,#ff712e 483.5px,#ff5222 531.5px,#ff3719 589.5px,#ff2111 659.5px,#ff0005 845.5px,#900 846.5px,#900 1065.5px,#5e1111 1066.5px,#5e1111 1069.5px,#222 1070.5px,#222 1070.5px)"></i>
<i style="background:linear-gradient(90deg,#222 4.5px,#222 4.5px,#009942 5.5px,#009945 247.5px,#00ff5e 248.5px,#76ff61 318.5px,#fffe63 382.5px,#ffc54e 410.5px,#ff973d 443.5px,#ff712f 483.5px,#ff5223 531.5px,#ff3719 589.5px,#ff2111 659.5px,#ff0005 844.5px,#900 845.5px,#900 1073.5px,#5e1111 1074.5px,#5e1111 1077.5px,#222 1078.5px,#222 1078.5px)"></i>
<i style="background:linear-gradient(90deg,#222 5.5px,#222 5.5px,#009943 6.5px,#009946 247.5px,#00ff60 248.5px,#76ff62 318.5px,#fffe65 382.5px,#ffc750 409.5px,#ff983f 442.5px,#ff7230 482.5px,#ff5224 530.5px,#ff371a 588.5px,#ff2112 658.5px,#ff0005 843.5px,#900 844.5px,#900 1082.5px,#5e1111 1083.5px,#5e1111 1086.5px,#222 1087.5px,#222 1087.5px)"></i>
<i style="background:linear-gradient(90deg,#222 5.5px,#222 5.5px,#009943 6.5px,#009947 248.5px,#01ff61 249.5px,#76ff64 318.5px,#fffd66 382.5px,#ffc652 409.5px,#ff9840 442.5px,#ff7231 482.5px,#ff5225 530.5px,#ff371b 588.5px,#ff2113 657.5px,#ff0006 842.5px,#900 843.5px,#900 1090.5px,#5e1111 1091.5px,#5e1111 1094.5px,#222 1095.5px,#222 1095.5px)"></i>
<i style="background:linear-gradient(90deg,#222 5.5px,#222 5.5px,#094 6.5px,#009948 248.5px,#01ff63 249.5px,#76ff66 318.5px,#fffd68 382.5px,#ffc653 409.5px,#ff9841 442.5px,#ff7132 482.5px,#ff5126 530.5px,#ff371c 588.5px,#ff2113 657.5px,#ff0006 841.5px,#900 842.5px,#900 1098.5px,#5e1111 1099.5px,#5e1111 1102.5px,#222 1103.5px,#222 1103.5px)"></i>
<i style="background:linear-gradient(90deg,#222 5.5px,#222 5.5px,#009945 6.5px,#009948 248.5px,#01ff64 249.5px,#76ff67 318.5px,#fffd6a 382.5px,#ffc655 409.5px,#ff9842 442.5px,#ff7133 482.5px,#ff5127 530.5px,#ff371c 588.5px,#ff2114 657.5px,#ff0007 840.5px,#900 841.5px,#900 1107.5px,#5e1111 1108.5px,#5e1111 1111.5px,#222 1112.5px,#222 1112.5px)"></i>
<i style="background:linear-gradient(90deg,#222 5.5px,#222 5.5px,#009945 6.5px,#009949 248.5px,#01ff66 249.5px,#74ff69 317.5px,#fffd6c 382.5px,#ffd45c 401.5px,#ffb14e 422.5px,#ff7737 475.5px,#ff4a25 543.5px,#ff2817 632.5px,#ff120e 725.5px,#ff0007 840.5px,#900 841.5px,#900 1115.5px,#5e1111 1116.5px,#5e1111 1119.5px,#222 1120.5px,#222 1120.5px)"></i>
<i style="background:linear-gradient(90deg,#222 5.5px,#222 5.5px,#009946 6.5px,#00994a 248.5px,#00ff67 249.5px,#77ff6b 319.5px,#b9ff6d 351.5px,#ffff6f 381.5px,#ffd65e 400.5px,#ffb350 421.5px,#ff7738 474.5px,#ff4a26 543.5px,#ff2818 632.5px,#ff120f 724.5px,#ff0008 839.5px,#900 840.5px,#900 1124.5px,#5e1111 1125.5px,#5e1111 1128.5px,#222 1129.5px,#222 1129.5px)"></i>
<i style="background:linear-gradient(90deg,#222 6.5px,#222 6.5px,#009946 7.5px,#00994b 248.5px,#00ff69 249.5px,#77ff6d 319.5px,#b7ff6f 350.5px,#ffff71 381.5px,#ffd560 400.5px,#ffb251 421.5px,#ff7739 474.5px,#ff4a26 543.5px,#ff2718 634.5px,#ff110f 725.5px,#ff0008 838.5px,#900 839.5px,#900 1132.5px,#5e1111 1133.5px,#5e1111 1136.5px,#222 1137.5px,#222 1137.5px)"></i>
<i style="background:linear-gradient(90deg,#222 6.5px,#222 6.5px,#009947 7.5px,#00994c 249.5px,#01ff6a 250.5px,#77ff6e 319.5px,#b7ff70 350.5px,#fdff73 380.5px,#ffb554 419.5px,#ff7d3d 467.5px,#ff512a 529.5px,#ff2f1c 608.5px,#ff1511 708.5px,#ff0008 837.5px,#900 838.5px,#900 1139.5px,#222 1139.5px)"></i>
<i style="background:linear-gradient(90deg,#222 6.5px,#222 6.5px,#009948 7.5px,#00994d 249.5px,#01ff6c 250.5px,#77ff70 319.5px,#b7ff72 350.5px,#fdff75 380.5px,#ffd563 400.5px,#ffb555 419.5px,#ff7d3e 467.5px,#ff512b 529.5px,#ff2f1d 608.5px,#ff1512 708.5px,#ff0009 836.5px,#900 837.5px,#900 1139.5px,#222 1139.5px)"></i>
<i style="background:linear-gradient(90deg,#222 6.5px,#222 6.5px,#009948 7.5px,#00994e 249.5px,#01ff6d 250.5px,#77ff72 319.5px,#b7ff74 350.5px,#feff77 380.5px,#ffd565 400.5px,#ffb557 419.5px,#ff7d3f 467.5px,#ff512c 529.5px,#ff2f1d 608.5px,#ff1412 708.5px,#ff0009 835.5px,#900 836.5px,#900 1139.5px,#222 1139.5px)"></i>
<i style="background:linear-gradient(90deg,#222 6.5px,#222 6.5px,#009949 7.5px,#00994f 249.5px,#01ff6f 250.5px,#77ff73 319.5px,#b7ff76 350.5px,#feff79 380.5px,#ffd667 399.5px,#ffb659 418.5px,#ff7d40 466.5px,#ff512d 528.5px,#ff2f1e 607.5px,#ff1413 707.5px,#ff000a 834.5px,#900 835.5px,#900 1139.5px,#222 1139.5px)"></i>
<i style="background:linear-gradient(90deg,#222 7.5px,#222 7.5px,#00994a 8.5px,#00994f 249.5px,#00ff70 250.5px,#77ff75 319.5px,#b7ff78 350.5px,#feff7b 380.5px,#ffd669 399.5px,#ffb65a 418.5px,#ff7d41 466.5px,#ff512e 528.5px,#ff2f1f 607.5px,#ff1513 706.5px,#ff000a 833.5px,#900 834.5px,#900 1139.5px,#222 1139.5px)"></i>
<i style="background:linear-gradient(90deg,#222 7.5px,#222 7.5px,#00994a 8.5px,#009950 249.5px,#00ff72 250.5px,#7f7 319.5px,#b7ff7a 350.5px,#feff7d 380.5px,#ffd66a 399.5px,#ffb55c 418.5px,#ff7d42 466.5px,#ff512f 528.5px,#ff2e1f 607.5px,#ff1414 706.5px,#ff000b 832.5px,#900 833.5px,#900 1139.5px,#222 1139.5px)"></i>
<i style="background:linear-gradient(90deg,#222 7.5px,#222 7.5px,#00994b 8.5px,#009951 249.5px,#00ff74 250.5px,#77ff79 319.5px,#b8ff7c 350.5px,#feff7f 380.5px,#ffd86d 398.5px,#ffb55d 418.5px,#ff7d44 466.5px,#ff5030 528.5px,#ff2e20 607.5px,#ff1414 705.5px,#ff000b 831.5px,#900 832.5px,#900 1139.5px,#222 1139.5px)"></i>
<i style="background:linear-gradient(90deg,#222 7.5px,#222 7.5px,#00994b 8.5px,#009952 250.5px,#01ff75 251.5px,#79ff7b 320.5px,#baff7e 351.5px,#ffff81 380.5px,#ffd76e 398.5px,#ffb55f 418.5px,#ff7c45 466.5px,#ff5030 528.5px,#ff2e21 607.5px,#ff1415 705.5px,#ff000c 830.5px,#900 831.5px,#900 1139.5px,#222 1139.5px)"></i>
<i style="background:linear-gradient(90deg,#222 7.5px,#222 7.5px,#00994c 8.5px,#009953 250.5px,#01ff77 251.5px,#79ff7c 320.5px,#baff7f 351.5px,#ffff83 380.5px,#ffd971 397.5px,#ffb661 417.5px,#ff7d46 465.5px,#ff5031 527.5px,#ff2e21 607.5px,#ff1415 705.5px,#ff000c 829.5px,#900 830.5px,#900 1139.5px,#222 1139.5px)"></i>
<i style="background:linear-gradient(90deg,#222 8.5px,#222 8.5px,#00994d 9.5px,#009954 250.5px,#01ff78 251.5px,#77ff7e 319.5px,#b8ff81 350.5px,#fdff85 379.5px,#ffb462 418.5px,#ff7c47 466.5px,#ff5032 528.5px,#ff2e22 607.5px,#ff1416 704.5px,#ff000d 828.5px,#900 829.5px,#900 1139.5px,#222 1139.5px)"></i>
<i style="background:linear-gradient(90deg,#222 8.5px,#222 8.5px,#00994d 9.5px,#095 250.5px,#01ff7a 251.5px,#77ff80 319.5px,#b8ff83 350.5px,#fdff87 379.5px,#ffb463 418.5px,#ff7d48 465.5px,#ff5033 527.5px,#ff2e23 606.5px,#ff1417 703.5px,#ff000d 827.5px,#900 828.5px,#900 1139.5px,#222 1139.5px)"></i>
<i style="background:linear-gradient(90deg,#222 8.5px,#222 8.5px,#00994e 9.5px,#009956 250.5px,#00ff7b 251.5px,#77ff82 319.5px,#b8ff85 350.5px,#fdff89 379.5px,#ffd474 399.5px,#ffb464 418.5px,#ff7c4a 465.5px,#ff5034 527.5px,#ff2e24 606.5px,#ff1417 703.5px,#ff000d 826.5px,#900 827.5px,#900 1139.5px,#222 1139.5px)"></i>
<i style="background:linear-gradient(90deg,#222 8.5px,#222 8.5px,#00994f 9.5px,#009956 250.5px,#00ff7d 251.5px,#77ff83 319.5px,#b8ff87 350.5px,#fdff8b 379.5px,#ffd476 399.5px,#ffb466 418.5px,#ff7c4b 465.5px,#ff5035 527.5px,#ff2e24 606.5px,#ff1418 702.5px,#ff000e 825.5px,#900 826.5px,#900 1139.5px,#222 1139.5px)"></i>
<i style="background:linear-gradient(90deg,#222 8.5px,#222 8.5px,#00994f 9.5px,#009957 251.5px,#01ff7f 252.5px,#77ff85 319.5px,#b8ff89 350.5px,#fdff8d 379.5px,#ffd678 398.5px,#ffb568 417.5px,#ff7c4c 465.5px,#ff4f36 527.5px,#ff2d25 606.5px,#ff1418 702.5px,#ff000e 824.5px,#900 825.5px,#900 1139.5px,#222 1139.5px)"></i>
<i style="background:linear-gradient(90deg,#222 9.5px,#222 9.5px,#009950 10.5px,#009958 251.5px,#01ff80 252.5px,#77ff87 319.5px,#b8ff8b 350.5px,#feff8f 379.5px,#ffd67a 398.5px,#ffb56a 417.5px,#ff7c4d 465.5px,#ff4f37 527.5px,#ff2d26 606.5px,#ff1419 702.5px,#ff000f 824.5px,#900 825.5px,#900 1139.5px,#222 1139.5px)"></i>
<i style="background:linear-gradient(90deg,#222 9.5px,#222 9.5px,#009950 10.5px,#009959 251.5px,#01ff82 252.5px,#77ff89 319.5px,#b8ff8d 350.5px,#feff91 379.5px,#ffd57c 398.5px,#ffb46b 417.5px,#ff7c4f 464.5px,#ff5038 526.5px,#ff2d26 605.5px,#ff1419 701.5px,#ff000f 823.5px,#900 824.5px,#900 1139.5px,#222 1139.5px)"></i>
<i style="background:linear-gradient(90deg,#222 9.5px,#222 9.5px,#009951 10.5px,#00995a 251.5px,#01ff83 252.5px,#76ff8b 319.5px,#b8ff8f 350.5px,#feff93 379.5px,#ffd57e 398.5px,#ffb46d 417.5px,#ff7c50 464.5px,#ff4f39 526.5px,#ff2d27 605.5px,#ff141a 701.5px,#ff0010 822.5px,#900 823.5px,#900 1139.5px,#222 1139.5px)"></i>
<i style="background:linear-gradient(90deg,#222 9.5px,#222 9.5px,#009952 10.5px,#00995b 251.5px,#00ff85 252.5px,#78ff8d 320.5px,#b8ff91 350.5px,#feff95 379.5px,#ffd780 397.5px,#ffb56f 416.5px,#ff7c51 464.5px,#ff4f3a 526.5px,#ff2d28 605.5px,#ff141b 700.5px,#ff0010 821.5px,#900 822.5px,#900 1139.5px,#222 1139.5px)"></i>
<i style="background:linear-gradient(90deg,#222 9.5px,#222 9.5px,#009952 11.5px,#00995c 251.5px,#00ff87 252.5px,#78ff8f 320.5px,#b8ff93 350.5px,#ffff97 379.5px,#ffd782 397.5px,#ffb570 416.5px,#ff7c52 464.5px,#ff4f3a 526.5px,#ff2d28 605.5px,#ff141b 700.5px,#f01 820.5px,#900 821.5px,#900 1139.5px,#222 1139.5px)"></i>
<i style="background:linear-gradient(90deg,#222 10.5px,#222 10.5px,#009953 11.5px,#00995d 252.5px,#02ff88 253.5px,#78ff90 320.5px,#b8ff95 350.5px,#ff9 379.5px,#ffd885 396.5px,#ffb572 416.5px,#ff7b53 464.5px,#ff4f3b 526.5px,#ff2d29 605.5px,#ff141c 699.5px,#f01 819.5px,#900 820.5px,#900 1139.5px,#222 1139.5px)"></i>
<i style="background:linear-gradient(90deg,#222 10.5px,#222 10.5px,#009954 11.5px,#00995e 252.5px,#01ff8a 253.5px,#76ff92 319.5px,#b6ff97 349.5px,#fcff9b 378.5px,#ffb373 417.5px,#ff7b54 464.5px,#ff4f3c 526.5px,#ff2c2a 605.5px,#ff141c 699.5px,#ff0012 818.5px,#900 819.5px,#900 1139.5px,#222 1139.5px)"></i>
<i style="background:linear-gradient(90deg,#222 10.5px,#222 10.5px,#009954 11.5px,#00995e 252.5px,#01ff8c 253.5px,#76ff94 319.5px,#b6ff99 349.5px,#fdff9e 378.5px,#ffd486 398.5px,#ffb374 417.5px,#ff7b55 464.5px,#ff4e3d 526.5px,#ff2c2a 605.5px,#ff141d 699.5px,#ff0012 817.5px,#900 818.5px,#900 1139.5px,#222 1139.5px)"></i>
<i style="background:linear-gradient(90deg,#222 10.5px,#222 10.5px,#095 12.5px,#00995f 252.5px,#01ff8d 253.5px,#76ff96 319.5px,#b6ff9b 349.5px,#fdffa0 378.5px,#ffd488 398.5px,#ffb376 417.5px,#ff7b56 464.5px,#ff4f3e 525.5px,#ff2c2b 604.5px,#ff141d 698.5px,#ff0013 816.5px,#900 817.5px,#900 1139.5px,#222 1139.5px)"></i>
<i style="background:linear-gradient(90deg,#222 11.5px,#222 11.5px,#095 12.5px,#009960 252.5px,#01ff8f 253.5px,#76ff98 319.5px,#b7ff9d 349.5px,#fdffa2 378.5px,#ffd58b 397.5px,#ffb478 416.5px,#ff7b58 463.5px,#ff4e3f 525.5px,#ff2c2c 604.5px,#ff141e 697.5px,#ff0013 815.5px,#900 816.5px,#900 1139.5px,#222 1139.5px)"></i>
<i style="background:linear-gradient(90deg,#222 11.5px,#222 11.5px,#009956 12.5px,#009961 252.5px,#00ff91 253.5px,#76ff9a 319.5px,#b7ff9f 349.5px,#fdffa4 378.5px,#ffd58c 397.5px,#ffb479 416.5px,#ff7b59 463.5px,#ff4e40 525.5px,#ff2c2d 604.5px,#ff131f 697.5px,#ff0014 814.5px,#900 815.5px,#900 1139.5px,#222 1139.5px)"></i>
<i style="background:linear-gradient(90deg,#222 11.5px,#222 11.5px,#009957 12.5px,#009962 252.5px,#00ff92 253.5px,#76ff9c 319.5px,#b7ffa1 349.5px,#feffa6 378.5px,#ffd58e 397.5px,#ffb37b 416.5px,#ff7b5a 463.5px,#ff4f41 524.5px,#ff2c2d 604.5px,#ff141f 696.5px,#ff0014 813.5px,#900 814.5px,#900 1139.5px,#222 1139.5px)"></i>
<i style="background:linear-gradient(90deg,#222 11.5px,#222 11.5px,#009957 12.5px,#009963 253.5px,#01ff94 254.5px,#78ff9e 320.5px,#b9ffa3 350.5px,#feffa8 378.5px,#ffd590 397.5px,#ffb37c 416.5px,#ff7b5c 463.5px,#ff4e42 524.5px,#ff2c2e 604.5px,#ff1320 696.5px,#ff0015 812.5px,#900 813.5px,#900 1139.5px,#222 1139.5px)"></i>
<i style="background:linear-gradient(90deg,#222 12.5px,#222 12.5px,#009958 13.5px,#009964 253.5px,#01ff96 254.5px,#78ff9f 320.5px,#b9ffa5 350.5px,#feffab 378.5px,#ffd492 397.5px,#ffb37e 416.5px,#ff7a5d 463.5px,#ff4e43 524.5px,#ff2c2f 603.5px,#ff1320 695.5px,#ff0015 811.5px,#900 812.5px,#900 1139.5px,#222 1139.5px)"></i>
<i style="background:linear-gradient(90deg,#222 12.5px,#222 12.5px,#009959 13.5px,#009965 253.5px,#01ff97 254.5px,#78ffa1 320.5px,#b9ffa7 350.5px,#feffad 378.5px,#ffd694 396.5px,#ffb480 415.5px,#ff7b5e 462.5px,#ff4f44 523.5px,#ff2c2f 603.5px,#ff1321 695.5px,#ff0016 810.5px,#900 811.5px,#900 1139.5px,#222 1139.5px)"></i>
<i style="background:linear-gradient(90deg,#222 12.5px,#222 12.5px,#009959 13.5px,#096 253.5px,#01ff99 254.5px,#78ffa3 320.5px,#b9ffa9 350.5px,#ffffaf 378.5px,#ffd696 396.5px,#ffb482 415.5px,#ff7b60 462.5px,#ff4e45 523.5px,#ff2c30 603.5px,#ff1322 694.5px,#ff0016 809.5px,#900 810.5px,#900 1139.5px,#222 1139.5px)"></i>
<i style="background:linear-gradient(90deg,#222 12.5px,#222 12.5px,#00995a 13.5px,#009967 253.5px,#00ff9b 254.5px,#78ffa5 320.5px,#b9ffab 350.5px,#ffffb1 378.5px,#ffd899 395.5px,#ffb484 415.5px,#ff7b61 462.5px,#ff4e46 523.5px,#ff2b31 603.5px,#ff1322 694.5px,#ff0017 808.5px,#900 809.5px,#900 1139.5px,#222 1139.5px)"></i>
<i style="background:linear-gradient(90deg,#222 13.5px,#222 13.5px,#00995b 14.5px,#009967 253.5px,#00ff9c 254.5px,#76ffa7 319.5px,#b7ffad 349.5px,#fcffb3 377.5px,#ffd197 398.5px,#ffb284 416.5px,#ff7a62 462.5px,#ff4e47 523.5px,#ff2b31 603.5px,#ff1323 693.5px,#ff0017 807.5px,#900 808.5px,#900 1139.5px,#222 1139.5px)"></i>
<i style="background:linear-gradient(90deg,#222 13.5px,#222 13.5px,#00995b 14.5px,#009968 254.5px,#02ff9e 255.5px,#78ffa9 320.5px,#b7ffaf 349.5px,#fdffb5 377.5px,#ffd39a 397.5px,#ffb387 415.5px,#ff7a63 462.5px,#ff4e48 523.5px,#ff2b32 603.5px,#ff1323 693.5px,#ff0017 807.5px,#900 808.5px,#900 1139.5px,#222 1139.5px)"></i>
<i style="background:linear-gradient(90deg,#222 13.5px,#222 13.5px,#00995c 14.5px,#009969 254.5px,#01ffa0 255.5px,#78ffab 320.5px,#b7ffb1 349.5px,#fdffb8 377.5px,#ffd39c 397.5px,#ffb388 415.5px,#ff7a64 462.5px,#ff4e49 523.5px,#ff2b33 603.5px,#ff1324 693.5px,#ff0018 806.5px,#900 807.5px,#900 1139.5px,#222 1139.5px)"></i>
<i style="background:linear-gradient(90deg,#222 13.5px,#222 13.5px,#00995c 14.5px,#00996a 254.5px,#01ffa2 255.5px,#78ffad 320.5px,#b7ffb3 349.5px,#fdffba 377.5px,#ffd59f 396.5px,#ffb38a 415.5px,#ff7a66 462.5px,#ff4d49 523.5px,#ff2b34 602.5px,#ff1324 692.5px,#ff0018 805.5px,#900 806.5px,#900 1139.5px,#222 1139.5px)"></i>
<i style="background:linear-gradient(90deg,#222 14.5px,#222 14.5px,#00995d 15.5px,#00996b 254.5px,#01ffa3 255.5px,#78ffaf 320.5px,#b7ffb5 349.5px,#fdffbc 377.5px,#ffd4a1 396.5px,#ffb28b 415.5px,#ff7967 462.5px,#ff4d4a 523.5px,#ff2b34 602.5px,#ff1325 691.5px,#ff0019 804.5px,#900 805.5px,#900 1139.5px,#222 1139.5px)"></i>
<i style="background:linear-gradient(90deg,#222 14.5px,#222 14.5px,#00995e 15.5px,#00996c 254.5px,#01ffa5 255.5px,#77ffb1 320.5px,#b7ffb7 349.5px,#feffbe 377.5px,#ffd4a3 396.5px,#ffb48e 414.5px,#ff7a68 461.5px,#ff4d4c 522.5px,#ff2b35 602.5px,#ff1326 691.5px,#ff0019 803.5px,#900 804.5px,#900 1139.5px,#222 1139.5px)"></i>
<i style="background:linear-gradient(90deg,#222 14.5px,#222 14.5px,#00995e 15.5px,#00996d 254.5px,#00ffa7 255.5px,#77ffb3 320.5px,#b8ffba 349.5px,#feffc1 377.5px,#ffd6a6 395.5px,#ffb48f 414.5px,#ff7a6a 461.5px,#ff4d4c 522.5px,#ff2a36 602.5px,#ff1326 691.5px,#ff001a 802.5px,#900 803.5px,#900 1139.5px,#222 1139.5px)"></i>
<i style="background:linear-gradient(90deg,#222 14.5px,#222 14.5px,#00995f 16.5px,#00996e 254.5px,#00ffa9 255.5px,#77ffb5 320.5px,#b8ffbc 349.5px,#feffc3 377.5px,#ffd6a8 395.5px,#ffb391 414.5px,#ff7a6b 461.5px,#ff4d4d 522.5px,#ff2a36 602.5px,#ff1327 690.5px,#ff001a 801.5px,#900 802.5px,#900 1139.5px,#222 1139.5px)"></i>
<i style="background:linear-gradient(90deg,#222 15.5px,#222 15.5px,#009960 16.5px,#00996f 255.5px,#01ffab 256.5px,#77ffb7 320.5px,#b8ffbe 349.5px,#feffc5 377.5px,#ffd5a9 395.5px,#ffb393 414.5px,#ff796c 461.5px,#ff4d4e 522.5px,#ff2a37 601.5px,#ff1328 689.5px,#ff001b 800.5px,#900 801.5px,#900 1139.5px,#222 1139.5px)"></i>
<i style="background:linear-gradient(90deg,#222 15.5px,#222 15.5px,#009960 16.5px,#009970 255.5px,#01ffac 256.5px,#77ffb9 320.5px,#b8ffc0 349.5px,#ffffc8 377.5px,#ffd5ab 395.5px,#ffb394 414.5px,#ff796d 461.5px,#ff4d4f 522.5px,#ff2a38 601.5px,#ff1328 689.5px,#ff001c 799.5px,#900 800.5px,#900 1139.5px,#222 1139.5px)"></i>
<i style="background:linear-gradient(90deg,#222 15.5px,#222 15.5px,#009961 16.5px,#009971 255.5px,#01ffae 256.5px,#7fb 320.5px,#b8ffc2 349.5px,#ffffca 377.5px,#ffd7af 394.5px,#ffb497 413.5px,#ff7a6f 460.5px,#ff4d50 521.5px,#ff2a39 601.5px,#ff1329 688.5px,#ff001c 798.5px,#900 799.5px,#900 1139.5px,#222 1139.5px)"></i>
<i style="background:linear-gradient(90deg,#222 15.5px,#222 15.5px,#009962 17.5px,#009972 255.5px,#01ffb0 256.5px,#77ffbd 320.5px,#b8ffc4 349.5px,#fcffcc 376.5px,#ffd3ae 396.5px,#ffb297 414.5px,#ff7970 461.5px,#ff4c51 522.5px,#ff2a39 601.5px,#ff1329 688.5px,#ff001d 797.5px,#99000d 798.5px,#99000d 802.5px,#900 803.5px,#900 1139.5px,#222 1139.5px)"></i>
<i style="background:linear-gradient(90deg,#222 16.5px,#222 16.5px,#009962 17.5px,#009972 255.5px,#00ffb2 256.5px,#77ffbf 320.5px,#b8ffc6 349.5px,#fdffce 376.5px,#ffd2af 396.5px,#ffb299 414.5px,#ff7871 461.5px,#ff4c52 522.5px,#ff2a3a 601.5px,#ff132a 688.5px,#ff001d 796.5px,#99000d 797.5px,#99000d 807.5px,#900 808.5px,#900 1139.5px,#222 1139.5px)"></i>
<i style="background:linear-gradient(90deg,#222 16.5px,#222 16.5px,#009963 17.5px,#009973 255.5px,#00ffb3 256.5px,#77ffc1 320.5px,#b8ffc9 349.5px,#fdffd1 376.5px,#ffd2b1 396.5px,#ffb29b 414.5px,#ff7872 461.5px,#ff4c53 522.5px,#ff2a3b 601.5px,#ff132b 687.5px,#ff001e 795.5px,#99000e 796.5px,#99000d 811.5px,#900 812.5px,#900 1139.5px,#222 1139.5px)"></i>
<i style="background:linear-gradient(90deg,#222 16.5px,#222 16.5px,#009964 17.5px,#009974 256.5px,#02ffb5 257.5px,#77ffc3 320.5px,#b8ffcb 349.5px,#fdffd3 376.5px,#ffd4b4 395.5px,#ffb19c 414.5px,#ff7974 460.5px,#ff4c54 521.5px,#ff2a3c 600.5px,#ff132b 686.5px,#ff001e 794.5px,#99000e 795.5px,#99000d 816.5px,#900 817.5px,#900 1139.5px,#222 1139.5px)"></i>
<i style="background:linear-gradient(90deg,#222 17.5px,#222 17.5px,#009964 18.5px,#009975 256.5px,#01ffb7 257.5px,#77ffc5 320.5px,#b8ffcd 349.5px,#fdffd5 376.5px,#ffd3b6 395.5px,#ffb39f 413.5px,#ff7975 460.5px,#ff4c55 521.5px,#ff293c 600.5px,#ff122c 686.5px,#ff001f 793.5px,#99001f 794.5px,#99001f 795.5px,#99000e 796.5px,#99000d 820.5px,#900 821.5px,#900 1139.5px,#222 1139.5px)"></i>
<i style="background:linear-gradient(90deg,#222 17.5px,#222 17.5px,#009965 18.5px,#009976 256.5px,#01ffb9 257.5px,#77ffc7 320.5px,#b8ffcf 349.5px,#feffd8 376.5px,#ffd3b8 395.5px,#ffb3a0 413.5px,#ff7876 460.5px,#ff4c56 521.5px,#ff293d 600.5px,#ff132d 685.5px,#ff001f 792.5px,#990020 793.5px,#99001f 799.5px,#99000e 800.5px,#99000d 825.5px,#900 826.5px,#900 1139.5px,#222 1139.5px)"></i>
<i style="background:linear-gradient(90deg,#222 17.5px,#222 17.5px,#096 18.5px,#097 256.5px,#01ffbb 257.5px,#77ffc9 320.5px,#b8ffd2 349.5px,#feffda 376.5px,#ffd5bc 394.5px,#ffb2a2 413.5px,#ff7878 460.5px,#ff4b57 521.5px,#ff293e 600.5px,#ff122d 685.5px,#ff0020 791.5px,#990020 792.5px,#99001f 804.5px,#99000e 805.5px,#99000d 830.5px,#900 831.5px,#900 1139.5px,#222 1139.5px)"></i>
<i style="background:linear-gradient(90deg,#222 17.5px,#222 17.5px,#096 19.5px,#009978 256.5px,#01ffbd 257.5px,#77ffcb 320.5px,#b9ffd4 349.5px,#feffdd 376.5px,#ffd5bd 394.5px,#ffb2a4 413.5px,#ff7879 460.5px,#ff4b58 521.5px,#ff293e 600.5px,#ff122e 685.5px,#ff0020 791.5px,#990020 792.5px,#99001f 808.5px,#99000e 809.5px,#99000d 834.5px,#900 835.5px,#900 1139.5px,#222 1139.5px)"></i>
<i style="background:linear-gradient(90deg,#222 18.5px,#222 18.5px,#009967 19.5px,#009979 256.5px,#00ffbe 257.5px,#77ffce 320.5px,#b9ffd6 349.5px,#feffdf 376.5px,#ffd7c1 393.5px,#ffb3a7 412.5px,#ff797b 459.5px,#ff4c59 520.5px,#ff293f 600.5px,#ff122e 685.5px,#ff0021 790.5px,#990020 791.5px,#99001f 812.5px,#99000e 813.5px,#99000d 839.5px,#900 840.5px,#900 1139.5px,#222 1139.5px)"></i>
<i style="background:linear-gradient(90deg,#222 18.5px,#222 18.5px,#009968 19.5px,#00997a 257.5px,#02ffc0 258.5px,#79ffd0 321.5px,#b9ffd8 349.5px,#ffffe1 376.5px,#ffd6c3 393.5px,#ffb3a8 412.5px,#ff787c 459.5px,#ff4b5a 520.5px,#ff2940 599.5px,#ff122f 684.5px,#ff0021 789.5px,#990020 790.5px,#99001f 817.5px,#99000e 818.5px,#99000d 844.5px,#900 845.5px,#900 1139.5px,#222 1139.5px)"></i>
<i style="background:linear-gradient(90deg,#222 18.5px,#222 18.5px,#009968 19.5px,#00997b 257.5px,#01ffc2 258.5px,#79ffd2 321.5px,#b9ffdb 349.5px,#ffffe4 376.5px,#ffd6c5 393.5px,#ffb3aa 412.5px,#ff787d 459.5px,#ff4b5b 520.5px,#ff2941 599.5px,#ff1230 683.5px,#f02 788.5px,#990021 789.5px,#99001f 821.5px,#99000e 822.5px,#99000d 848.5px,#900 849.5px,#900 1139.5px,#222 1139.5px)"></i>
<i style="background:linear-gradient(90deg,#222 19.5px,#222 19.5px,#009969 20.5px,#00997c 257.5px,#01ffc4 258.5px,#79ffd4 321.5px,#b9ffdd 349.5px,#ffffe6 376.5px,#ffd6c7 393.5px,#ffb3ab 412.5px,#ff787e 459.5px,#ff4b5c 520.5px,#ff2941 599.5px,#ff1230 683.5px,#f02 787.5px,#990021 788.5px,#99001f 826.5px,#99000e 827.5px,#99000d 853.5px,#900 854.5px,#900 1139.5px,#222 1139.5px)"></i>
<i style="background:linear-gradient(90deg,#222 19.5px,#222 19.5px,#00996a 20.5px,#00997d 257.5px,#01ffc6 258.5px,#76ffd6 320.5px,#b7ffdf 348.5px,#ffffe8 376.5px,#ffd3c7 394.5px,#ffada9 415.5px,#ff8d90 439.5px,#ff717b 466.5px,#ff4357 534.5px,#ff213c 624.5px,#ff0023 786.5px,#990021 787.5px,#99001f 830.5px,#99000e 831.5px,#99000d 858.5px,#900 859.5px,#900 1138.5px,#222 1139.5px,#222 1139.5px)"></i>
<i style="background:linear-gradient(90deg,#222 19.5px,#222 19.5px,#00996a 20.5px,#00997e 257.5px,#01ffc8 258.5px,#76ffd8 320.5px,#b7ffe1 348.5px,#fffeeb 376.5px,#ffd3c9 394.5px,#ffadab 415.5px,#ff8d91 439.5px,#ff717c 466.5px,#ff4358 534.5px,#ff203d 624.5px,#ff0023 785.5px,#990021 786.5px,#99001f 835.5px,#99000e 836.5px,#99000d 862.5px,#900 863.5px,#900 1137.5px,#222 1138.5px,#222 1138.5px)"></i>
<i style="background:linear-gradient(90deg,#222 19.5px,#222 19.5px,#00996b 21.5px,#00997f 257.5px,#00ffca 258.5px,#76ffda 320.5px,#b7ffe3 348.5px,#fffeed 376.5px,#ffd3cb 394.5px,#ffadad 415.5px,#ff8c93 439.5px,#ff717d 466.5px,#ff4359 534.5px,#ff203d 624.5px,#ff0024 784.5px,#990021 785.5px,#99001f 839.5px,#99000e 840.5px,#99000d 867.5px,#900 868.5px,#900 1136.5px,#222 1137.5px,#222 1137.5px)"></i>
<i style="background:linear-gradient(90deg,#222 20.5px,#222 20.5px,#00996c 21.5px,#009980 257.5px,#00ffcb 258.5px,#76ffdc 320.5px,#fffeef 376.5px,#ffd3cd 394.5px,#ffadae 415.5px,#ff8c94 439.5px,#ff707e 466.5px,#ff435a 534.5px,#ff203e 624.5px,#ff0025 783.5px,#902 784.5px,#99001f 843.5px,#99000e 844.5px,#99000d 871.5px,#900 872.5px,#900 1135.5px,#222 1137.5px,#222 1137.5px)"></i>
<i style="background:linear-gradient(90deg,#222 20.5px,#222 20.5px,#00996c 21.5px,#009981 258.5px,#02ffce 259.5px,#76ffdf 320.5px,#fffef1 376.5px,#ffd2cf 394.5px,#ffacb0 415.5px,#ff8c96 439.5px,#ff707f 466.5px,#ff425a 534.5px,#ff203f 623.5px,#ff0025 782.5px,#902 783.5px,#99001f 848.5px,#99000e 849.5px,#99000d 876.5px,#900 877.5px,#900 1134.5px,#222 1136.5px,#222 1136.5px)"></i>
<i style="background:linear-gradient(90deg,#222 20.5px,#222 20.5px,#00996d 21.5px,#009982 258.5px,#01ffd0 259.5px,#76ffe1 320.5px,#fffdf4 376.5px,#ffd2d0 394.5px,#ffaeb3 414.5px,#ff8d98 438.5px,#ff7181 465.5px,#ff435c 533.5px,#ff2040 623.5px,#ff0026 781.5px,#902 782.5px,#99001f 852.5px,#99000e 853.5px,#99000d 881.5px,#900 882.5px,#900 1133.5px,#222 1135.5px,#222 1135.5px)"></i>
<i style="background:linear-gradient(90deg,#222 21.5px,#222 21.5px,#00996e 22.5px,#009983 258.5px,#01ffd1 259.5px,#76ffe3 320.5px,#fffdf6 376.5px,#ffd2d2 394.5px,#ffadb4 414.5px,#ff8c99 438.5px,#ff7082 465.5px,#ff425d 533.5px,#ff2040 623.5px,#ff0026 780.5px,#902 781.5px,#99001f 857.5px,#99000e 858.5px,#99000d 885.5px,#900 886.5px,#900 1132.5px,#222 1134.5px,#222 1134.5px)"></i>
<i style="background:linear-gradient(90deg,#222 21.5px,#222 21.5px,#00996e 22.5px,#009984 258.5px,#01ffd3 259.5px,#74ffe5 319.5px,#fffdf8 376.5px,#ffd2d4 394.5px,#ffadb6 414.5px,#ff8c9b 438.5px,#ff7084 465.5px,#ff425e 533.5px,#ff2041 623.5px,#ff0027 779.5px,#902 780.5px,#99001f 861.5px,#99000e 862.5px,#99000d 890.5px,#900 891.5px,#900 1131.5px,#222 1133.5px,#222 1133.5px)"></i>
<i style="background:linear-gradient(90deg,#222 21.5px,#222 21.5px,#00996f 22.5px,#009984 258.5px,#00ffd5 259.5px,#74ffe7 319.5px,#fffdfb 376.5px,#ffd1d6 394.5px,#ffadb8 414.5px,#ff8c9c 438.5px,#ff7085 465.5px,#ff425f 532.5px,#ff2042 622.5px,#ff0027 778.5px,#990023 779.5px,#99001f 866.5px,#99000e 867.5px,#99000d 895.5px,#900 896.5px,#900 1130.5px,#222 1132.5px,#222 1132.5px)"></i>
<i style="background:linear-gradient(90deg,#222 22.5px,#222 22.5px,#009970 23.5px,#009985 258.5px,#00ffd7 259.5px,#74ffe9 319.5px,#fffcfd 376.5px,#ffd1d8 394.5px,#ffadb9 414.5px,#ff8c9e 438.5px,#ff7086 465.5px,#ff4260 532.5px,#ff2042 622.5px,#ff0028 777.5px,#990023 778.5px,#99001f 870.5px,#99000e 871.5px,#99000d 899.5px,#900 900.5px,#900 1129.5px,#222 1131.5px,#222 1131.5px)"></i>
<i style="background:linear-gradient(90deg,#222 22.5px,#222 22.5px,#009970 23.5px,#009986 259.5px,#02ffd9 260.5px,#6fffeb 317.5px,#eff 369.5px,#fff9fd 377.5px,#ffcfd8 395.5px,#ffa9b8 416.5px,#ff899d 440.5px,#ff6e86 467.5px,#ff405f 535.5px,#ff1f43 624.5px,#ff0029 776.5px,#990023 777.5px,#99001f 874.5px,#99000e 875.5px,#99000d 904.5px,#900 905.5px,#900 1129.5px,#222 1130.5px,#222 1130.5px)"></i>
<i style="background:linear-gradient(90deg,#222 22.5px,#222 22.5px,#009971 23.5px,#009987 259.5px,#01ffdb 260.5px,#6fffed 317.5px,#deffff 363.5px,#fff9ff 377.5px,#ffceda 395.5px,#ffa9ba 416.5px,#ff899e 440.5px,#ff6d87 467.5px,#ff4060 535.5px,#ff1f43 624.5px,#ff0029 775.5px,#990023 776.5px,#99001f 879.5px,#99000e 880.5px,#99000d 908.5px,#900 909.5px,#900 1128.5px,#222 1129.5px,#222 1129.5px)"></i>
<i style="background:linear-gradient(90deg,#222 22.5px,#222 22.5px,#009972 24.5px,#098 259.5px,#01ffdd 260.5px,#6bffee 315.5px,#d1ffff 358.5px,#fff6ff 378.5px,#ffccda 396.5px,#ffa7ba 417.5px,#ff879f 441.5px,#ff6c87 468.5px,#ff4061 536.5px,#ff1e43 626.5px,#ff002a 774.5px,#990023 775.5px,#99001f 883.5px,#99000e 884.5px,#99000d 913.5px,#900 914.5px,#900 1127.5px,#222 1128.5px,#222 1128.5px)"></i>
<i style="background:linear-gradient(90deg,#222 23.5px,#222 23.5px,#009972 24.5px,#009989 259.5px,#01ffdf 260.5px,#67fff0 313.5px,#c2ffff 352.5px,#fff3ff 379.5px,#ffcadb 397.5px,#ffa5bb 418.5px,#ff869f 442.5px,#ff6b88 469.5px,#ff3f61 537.5px,#ff1d44 627.5px,#ff002a 774.5px,#990024 775.5px,#99001f 888.5px,#99000e 889.5px,#99000d 918.5px,#900 919.5px,#900 1126.5px,#222 1127.5px,#222 1127.5px)"></i>
<i style="background:linear-gradient(90deg,#222 23.5px,#222 23.5px,#009973 24.5px,#00998a 259.5px,#01ffe1 260.5px,#60fff1 310.5px,#b3ffff 346.5px,#fff0ff 380.5px,#ffc8db 398.5px,#ffa4bb 419.5px,#ff6a88 470.5px,#ff3e62 538.5px,#ff1d44 629.5px,#ff002b 773.5px,#990024 774.5px,#99001f 892.5px,#99000e 893.5px,#99000d 922.5px,#900 923.5px,#900 1125.5px,#222 1126.5px,#222 1126.5px)"></i>
<i style="background:linear-gradient(90deg,#222 23.5px,#222 23.5px,#009974 25.5px,#00998b 259.5px,#00ffe3 260.5px,#4ffff0 302.5px,#a4ffff 340.5px,#fef 381.5px,#ffc5db 399.5px,#ffa2bb 420.5px,#ff83a0 444.5px,#ff6888 472.5px,#ff3d62 540.5px,#ff1c44 631.5px,#ff002b 772.5px,#990024 773.5px,#99001f 897.5px,#99000e 898.5px,#99000d 927.5px,#900 928.5px,#900 1124.5px,#222 1125.5px,#222 1125.5px)"></i>
<i style="background:linear-gradient(90deg,#222 24.5px,#222 24.5px,#009974 25.5px,#00998c 259.5px,#00ffe5 260.5px,#49fff2 299.5px,#98ffff 335.5px,#ffebff 382.5px,#ffc3db 400.5px,#ffa0bc 421.5px,#ff6788 473.5px,#ff3c62 542.5px,#ff1b44 633.5px,#ff002c 771.5px,#990024 772.5px,#99001f 901.5px,#99000e 902.5px,#99000d 932.5px,#900 933.5px,#900 1123.5px,#222 1124.5px,#222 1124.5px)"></i>
<i style="background:linear-gradient(90deg,#222 24.5px,#222 24.5px,#009975 25.5px,#00998d 260.5px,#02ffe7 261.5px,#43fff3 296.5px,#8affff 329.5px,#ffe8ff 383.5px,#ffbfd9 402.5px,#ff9dbb 423.5px,#ff6588 475.5px,#ff3b62 544.5px,#ff1b45 635.5px,#ff002c 770.5px,#990024 771.5px,#99001f 905.5px,#99000e 906.5px,#99000d 936.5px,#900 937.5px,#900 1122.5px,#222 1123.5px,#222 1123.5px)"></i>
<i style="background:linear-gradient(90deg,#222 24.5px,#222 24.5px,#009976 25.5px,#00998e 260.5px,#01ffe9 261.5px,#7cffff 323.5px,#ffe5fe 384.5px,#ffbdda 403.5px,#ff9bbb 424.5px,#ff6488 476.5px,#ff3a62 545.5px,#ff1a45 637.5px,#ff002d 769.5px,#990025 770.5px,#99001f 910.5px,#99000e 911.5px,#99000d 941.5px,#900 942.5px,#900 1121.5px,#222 1123.5px,#222 1123.5px)"></i>
<i style="background:linear-gradient(90deg,#222 25.5px,#222 25.5px,#009976 26.5px,#00998f 260.5px,#01ffeb 261.5px,#6fffff 317.5px,#ffe2fe 385.5px,#ffbbda 404.5px,#ff9abb 425.5px,#ff6288 478.5px,#ff3962 547.5px,#ff1945 639.5px,#ff002e 768.5px,#990025 769.5px,#99001f 914.5px,#99000e 915.5px,#99000d 945.5px,#900 946.5px,#900 1120.5px,#222 1122.5px,#222 1122.5px)"></i>
<i style="background:linear-gradient(90deg,#222 25.5px,#222 25.5px,#097 26.5px,#009990 260.5px,#01ffed 261.5px,#64ffff 312.5px,#ffe0fe 386.5px,#ffb9da 405.5px,#ff98bb 426.5px,#ff6189 479.5px,#ff3862 549.5px,#ff1845 641.5px,#ff002e 767.5px,#990025 768.5px,#99001f 919.5px,#99000e 920.5px,#99000d 950.5px,#900 951.5px,#900 1119.5px,#222 1121.5px,#222 1121.5px)"></i>
<i style="background:linear-gradient(90deg,#222 25.5px,#222 25.5px,#009978 26.5px,#009991 260.5px,#00ffef 261.5px,#57ffff 306.5px,#ffddfe 387.5px,#ffb7da 406.5px,#ff96bc 427.5px,#ff6089 480.5px,#ff3762 550.5px,#ff1845 642.5px,#ff002f 766.5px,#990025 767.5px,#99001f 923.5px,#99000e 924.5px,#99000d 955.5px,#900 956.5px,#900 1118.5px,#222 1120.5px,#222 1120.5px)"></i>
<i style="background:linear-gradient(90deg,#222 26.5px,#222 26.5px,#009979 27.5px,#009992 260.5px,#00fff1 261.5px,#4affff 300.5px,#ffdbfe 388.5px,#ffb5da 407.5px,#ff93bb 429.5px,#ff5e89 482.5px,#ff3662 552.5px,#ff1745 644.5px,#ff002f 765.5px,#990025 766.5px,#99001f 927.5px,#99000e 928.5px,#99000d 959.5px,#900 960.5px,#900 1117.5px,#222 1119.5px,#222 1119.5px)"></i>
<i style="background:linear-gradient(90deg,#222 26.5px,#222 26.5px,#009979 27.5px,#009993 261.5px,#02fff4 262.5px,#3effff 294.5px,#ffd8fe 389.5px,#ffb3da 408.5px,#ff92bb 430.5px,#ff5d89 483.5px,#ff3563 553.5px,#ff1746 646.5px,#ff0030 764.5px,#990026 765.5px,#99001f 932.5px,#99000e 933.5px,#99000d 964.5px,#900 965.5px,#900 1116.5px,#222 1118.5px,#222 1118.5px)"></i>
<i style="background:linear-gradient(90deg,#222 26.5px,#222 26.5px,#00997a 27.5px,#009994 261.5px,#01fff6 262.5px,#34ffff 289.5px,#ffd6fe 390.5px,#ffb1db 409.5px,#ff90bb 431.5px,#ff5c8a 484.5px,#ff3463 555.5px,#ff1646 648.5px,#ff0031 763.5px,#990026 764.5px,#99001f 936.5px,#99000e 937.5px,#99000d 969.5px,#900 970.5px,#900 1115.5px,#222 1117.5px,#222 1117.5px)"></i>
<i style="background:linear-gradient(90deg,#222 27.5px,#222 27.5px,#00997b 28.5px,#009995 261.5px,#01fff8 262.5px,#28ffff 283.5px,#ffd3fe 391.5px,#ffafdb 410.5px,#ff8fbc 432.5px,#ff5b89 486.5px,#ff3363 557.5px,#ff1546 650.5px,#ff0031 762.5px,#990026 763.5px,#99001f 941.5px,#99000e 942.5px,#99000d 973.5px,#900 974.5px,#900 1115.5px,#222 1116.5px,#222 1116.5px)"></i>
<i style="background:linear-gradient(90deg,#222 27.5px,#222 27.5px,#00997b 28.5px,#009996 261.5px,#01fffa 262.5px,#1cffff 277.5px,#ffd1fe 392.5px,#ffaddb 411.5px,#ff8dbc 433.5px,#ff5a8a 487.5px,#ff3363 558.5px,#ff1546 652.5px,#ff0032 761.5px,#990026 762.5px,#99001f 945.5px,#99000e 946.5px,#99000d 978.5px,#900 979.5px,#900 1114.5px,#222 1115.5px,#222 1115.5px)"></i>
<i style="background:linear-gradient(90deg,#222 27.5px,#222 27.5px,#00997c 28.5px,#009997 261.5px,#01fffc 262.5px,#76ebff 325.5px,#ffcefe 393.5px,#ffabdb 412.5px,#ff8cbc 434.5px,#ff5889 489.5px,#ff3263 560.5px,#ff1446 654.5px,#f03 760.5px,#99002d 761.5px,#990026 763.5px,#99001f 950.5px,#99000e 951.5px,#99000d 983.5px,#900 984.5px,#900 1113.5px,#222 1114.5px,#222 1114.5px)"></i>
<i style="background:linear-gradient(90deg,#222 28.5px,#222 28.5px,#00997d 29.5px,#009998 261.5px,#00fffe 262.5px,#77e8ff 326.5px,#ffccfe 394.5px,#ffa9db 413.5px,#ff8abc 435.5px,#ff578a 490.5px,#ff3163 562.5px,#ff1346 656.5px,#f03 759.5px,#99002e 760.5px,#99002d 765.5px,#990026 766.5px,#99001f 954.5px,#99000e 955.5px,#99000d 987.5px,#900 988.5px,#900 1112.5px,#222 1113.5px,#222 1113.5px)"></i>
<i style="background:linear-gradient(90deg,#222 28.5px,#222 28.5px,#00997d 29.5px,#099 261.5px,#00feff 262.5px,#76e6ff 326.5px,#ffc9fe 395.5px,#ffa5da 415.5px,#ff87bc 437.5px,#ff568a 491.5px,#ff3064 563.5px,#ff1346 658.5px,#ff0034 758.5px,#99002e 759.5px,#99002d 768.5px,#990026 769.5px,#99001f 958.5px,#99000e 959.5px,#99000d 992.5px,#900 993.5px,#900 1111.5px,#222 1112.5px,#222 1112.5px)"></i>
<i style="background:linear-gradient(90deg,#222 28.5px,#222 28.5px,#00997e 29.5px,#009899 262.5px,#02fcff 263.5px,#77e4ff 327.5px,#ffc7fe 396.5px,#ffa4da 416.5px,#ff86bc 438.5px,#ff548a 493.5px,#ff2f64 565.5px,#ff1247 660.5px,#ff0034 758.5px,#99002e 759.5px,#99002d 772.5px,#990026 773.5px,#99001f 963.5px,#99000e 964.5px,#99000d 996.5px,#900 997.5px,#900 1110.5px,#222 1111.5px,#222 1111.5px)"></i>
<i style="background:linear-gradient(90deg,#222 28.5px,#222 28.5px,#00997f 30.5px,#009799 262.5px,#01faff 263.5px,#76e2ff 327.5px,#ffc5fe 397.5px,#ffa2da 417.5px,#ff84bc 439.5px,#ff548a 494.5px,#ff2e64 567.5px,#ff1247 662.5px,#ff0035 757.5px,#99002e 758.5px,#99002d 775.5px,#990026 776.5px,#99001f 967.5px,#99000e 968.5px,#99000d 1001.5px,#900 1002.5px,#900 1109.5px,#222 1110.5px,#222 1110.5px)"></i>
<i style="background:linear-gradient(90deg,#222 29.5px,#222 29.5px,#009980 30.5px,#009699 262.5px,#01f8ff 263.5px,#75e0ff 327.5px,#ffc2fe 398.5px,#ff88c1 436.5px,#ff5a92 485.5px,#ff366d 547.5px,#ff1a50 627.5px,#ff0036 756.5px,#99002e 757.5px,#99002d 778.5px,#990026 779.5px,#99001f 972.5px,#99000e 973.5px,#99000d 1006.5px,#900 1007.5px,#900 1108.5px,#222 1109.5px,#222 1109.5px)"></i>
<i style="background:linear-gradient(90deg,#222 29.5px,#222 29.5px,#009980 30.5px,#009599 262.5px,#01f6ff 263.5px,#76deff 328.5px,#ffc0fe 399.5px,#ff86c1 437.5px,#ff5992 486.5px,#ff356e 548.5px,#ff1a51 628.5px,#ff0036 755.5px,#99002f 756.5px,#99002d 781.5px,#990026 782.5px,#99001f 976.5px,#99000e 977.5px,#99000d 1010.5px,#900 1011.5px,#900 1107.5px,#222 1108.5px,#222 1108.5px)"></i>
<i style="background:linear-gradient(90deg,#222 29.5px,#222 29.5px,#009981 31.5px,#099 230.5px,#009499 262.5px,#00f4ff 263.5px,#75dcff 328.5px,#ffbefd 400.5px,#ff85c2 438.5px,#ff5893 487.5px,#ff356e 549.5px,#ff1951 629.5px,#ff0037 754.5px,#99002f 755.5px,#99002d 785.5px,#990026 786.5px,#99001f 981.5px,#99000e 982.5px,#99000d 1015.5px,#900 1016.5px,#900 1106.5px,#222 1108.5px,#222 1108.5px)"></i>
<i style="background:linear-gradient(90deg,#222 30.5px,#222 30.5px,#009982 31.5px,#099 224.5px,#009399 262.5px,#00f2ff 263.5px,#74daff 328.5px,#ffbcfd 401.5px,#ff83c2 439.5px,#ff5793 488.5px,#ff346e 551.5px,#ff1851 631.5px,#ff0037 753.5px,#99002f 754.5px,#99002d 788.5px,#990026 789.5px,#99001f 985.5px,#99000e 986.5px,#99000d 1020.5px,#900 1021.5px,#900 1105.5px,#222 1107.5px,#222 1107.5px)"></i>
<i style="background:linear-gradient(90deg,#222 30.5px,#222 30.5px,#009982 31.5px,#099 218.5px,#009299 263.5px,#02f0ff 264.5px,#74d8ff 329.5px,#ffbafd 402.5px,#ff82c2 440.5px,#ff5693 489.5px,#ff336e 552.5px,#ff1852 632.5px,#ff0038 752.5px,#99002f 753.5px,#99002d 791.5px,#990026 792.5px,#99001f 989.5px,#99000e 990.5px,#99000d 1024.5px,#900 1025.5px,#900 1104.5px,#222 1106.5px,#222 1106.5px)"></i>
<i style="background:linear-gradient(90deg,#222 30.5px,#222 30.5px,#009983 32.5px,#099 213.5px,#009199 263.5px,#01eeff 264.5px,#73d6ff 329.5px,#ffb7fd 403.5px,#ff7fc1 442.5px,#ff5493 491.5px,#ff326f 553.5px,#ff1852 633.5px,#ff0039 751.5px,#99002f 752.5px,#99002d 794.5px,#990026 795.5px,#99001f 994.5px,#99000e 995.5px,#99000d 1029.5px,#900 1030.5px,#900 1103.5px,#222 1105.5px,#222 1105.5px)"></i>
<i style="background:linear-gradient(90deg,#222 31.5px,#222 31.5px,#009984 32.5px,#099 207.5px,#009099 263.5px,#01ecff 264.5px,#74d4ff 330.5px,#ffb5fd 404.5px,#ff7ec1 443.5px,#ff5393 492.5px,#ff316f 555.5px,#ff1752 635.5px,#ff0039 750.5px,#990030 751.5px,#99002d 798.5px,#990026 799.5px,#99001f 998.5px,#99000e 999.5px,#99000d 1033.5px,#900 1034.5px,#900 1102.5px,#222 1104.5px,#222 1104.5px)"></i>
<i style="background:linear-gradient(90deg,#222 31.5px,#222 31.5px,#009984 32.5px,#099 201.5px,#008f99 263.5px,#01eaff 264.5px,#73d2ff 330.5px,#ffb3fd 405.5px,#ff7dc2 444.5px,#ff5294 493.5px,#ff316f 556.5px,#ff1652 636.5px,#ff003a 749.5px,#990030 750.5px,#99002d 801.5px,#990026 802.5px,#99001f 1003.5px,#99000e 1004.5px,#99000d 1038.5px,#900 1039.5px,#900 1101.5px,#222 1103.5px,#222 1103.5px)"></i>
<i style="background:linear-gradient(90deg,#222 32.5px,#222 32.5px,#009985 33.5px,#099 195.5px,#008e99 263.5px,#00e8ff 264.5px,#72d0ff 330.5px,#ffb1fd 406.5px,#ff7bc2 445.5px,#ff5194 494.5px,#ff306f 557.5px,#ff1652 638.5px,#ff003b 748.5px,#990030 749.5px,#99002d 804.5px,#990026 805.5px,#99001f 1007.5px,#99000e 1008.5px,#99000d 1043.5px,#900 1044.5px,#900 1100.5px,#222 1102.5px,#222 1102.5px)"></i>
<i style="background:linear-gradient(90deg,#222 32.5px,#222 32.5px,#009986 33.5px,#099 190.5px,#008d99 263.5px,#00e6ff 264.5px,#7cccff 336.5px,#ffb1ff 406.5px,#ff7bc3 445.5px,#ff5195 494.5px,#ff3070 557.5px,#ff1653 638.5px,#ff003b 747.5px,#990030 748.5px,#99002d 807.5px,#990026 808.5px,#99001f 1012.5px,#99000e 1013.5px,#99000d 1047.5px,#900 1048.5px,#900 1100.5px,#222 1101.5px,#222 1101.5px)"></i>
<i style="background:linear-gradient(90deg,#222 32.5px,#222 32.5px,#009987 33.5px,#099 184.5px,#008c99 264.5px,#02e4ff 265.5px,#7dcaff 337.5px,#ffafff 407.5px,#ff7ac4 446.5px,#ff5095 496.5px,#ff2f70 559.5px,#ff1553 639.5px,#ff003c 746.5px,#990030 747.5px,#99002d 811.5px,#990026 812.5px,#99001f 1016.5px,#99000e 1017.5px,#99000d 1052.5px,#900 1053.5px,#900 1099.5px,#222 1100.5px,#222 1100.5px)"></i>
<i style="background:linear-gradient(90deg,#222 33.5px,#222 33.5px,#009987 34.5px,#099 178.5px,#008b99 264.5px,#01e2ff 265.5px,#7ec8ff 338.5px,#ffadff 408.5px,#ff78c4 447.5px,#ff4f95 497.5px,#ff2e71 560.5px,#ff1554 640.5px,#ff003d 745.5px,#990031 746.5px,#99002d 814.5px,#990026 815.5px,#99001f 1020.5px,#99000e 1021.5px,#99000d 1057.5px,#900 1058.5px,#900 1098.5px,#222 1099.5px,#222 1099.5px)"></i>
<i style="background:linear-gradient(90deg,#222 33.5px,#222 33.5px,#098 34.5px,#099 172.5px,#008a99 264.5px,#01e1ff 265.5px,#7dc7ff 338.5px,#ffabff 409.5px,#ff77c4 448.5px,#ff4e95 498.5px,#ff2e71 561.5px,#ff1454 642.5px,#ff003d 744.5px,#990031 745.5px,#99002d 817.5px,#990026 818.5px,#99001f 1025.5px,#99000e 1026.5px,#99000d 1061.5px,#900 1062.5px,#900 1097.5px,#222 1098.5px,#222 1098.5px)"></i>
<i style="background:linear-gradient(90deg,#222 33.5px,#222 33.5px,#009989 34.5px,#099 167.5px,#008a99 264.5px,#01dfff 265.5px,#7cc5ff 338.5px,#ffa9ff 410.5px,#ff76c4 449.5px,#ff4d96 499.5px,#ff2d71 562.5px,#ff1454 643.5px,#ff003e 743.5px,#990031 744.5px,#99002d 820.5px,#990026 821.5px,#99001f 1029.5px,#99000e 1030.5px,#99000d 1066.5px,#900 1067.5px,#900 1096.5px,#222 1097.5px,#222 1097.5px)"></i>
<i style="background:linear-gradient(90deg,#222 34.5px,#222 34.5px,#00998a 35.5px,#099 161.5px,#008999 264.5px,#01ddff 265.5px,#7cc3ff 339.5px,#ffa7ff 411.5px,#ff74c4 450.5px,#ff4c96 500.5px,#ff2c72 563.5px,#ff1355 644.5px,#ff003f 742.5px,#990031 743.5px,#99002d 824.5px,#990026 825.5px,#99001f 1034.5px,#99000e 1035.5px,#99000d 1070.5px,#900 1071.5px,#900 1095.5px,#222 1096.5px,#222 1096.5px)"></i>
<i style="background:linear-gradient(90deg,#222 34.5px,#222 34.5px,#00998a 35.5px,#099 155.5px,#089 264.5px,#00dcff 265.5px,#7bc1ff 339.5px,#ffa5ff 412.5px,#ff72c3 452.5px,#ff4a96 502.5px,#ff2b71 566.5px,#ff1355 646.5px,#ff003f 741.5px,#990032 742.5px,#99002d 827.5px,#990026 828.5px,#99001f 1038.5px,#99000e 1039.5px,#99000d 1075.5px,#900 1076.5px,#900 1094.5px,#222 1095.5px,#222 1095.5px)"></i>
<i style="background:linear-gradient(90deg,#222 34.5px,#222 34.5px,#00998b 35.5px,#099 149.5px,#008799 264.5px,#00daff 265.5px,#7ac0ff 339.5px,#ffa3ff 413.5px,#ff71c4 453.5px,#ff4a96 503.5px,#ff2a71 567.5px,#ff1255 647.5px,#ff0040 741.5px,#990032 742.5px,#99002d 830.5px,#990026 831.5px,#99001f 1043.5px,#99000e 1044.5px,#99000d 1080.5px,#900 1081.5px,#900 1093.5px,#222 1094.5px,#222 1094.5px)"></i>
<i style="background:linear-gradient(90deg,#222 35.5px,#222 35.5px,#00998c 36.5px,#099 144.5px,#008699 265.5px,#01d8ff 266.5px,#7bbeff 340.5px,#ffa1ff 414.5px,#ff6fc4 454.5px,#ff4996 504.5px,#ff2a72 568.5px,#f15 649.5px,#ff0041 740.5px,#990032 741.5px,#99002d 833.5px,#990026 834.5px,#99001f 1047.5px,#99000e 1048.5px,#99000d 1084.5px,#900 1085.5px,#900 1092.5px,#222 1094.5px,#222 1094.5px)"></i>
<i style="background:linear-gradient(90deg,#222 35.5px,#222 35.5px,#00998d 36.5px,#099 138.5px,#008599 265.5px,#01d6ff 266.5px,#7abcff 340.5px,#ff9ffe 415.5px,#ff6ec4 455.5px,#ff4897 505.5px,#ff2972 569.5px,#f15 650.5px,#ff0041 739.5px,#990032 740.5px,#99002d 837.5px,#990026 838.5px,#99001f 1051.5px,#99000e 1052.5px,#99000d 1089.5px,#900 1090.5px,#900 1091.5px,#222 1093.5px,#222 1093.5px)"></i>
<i style="background:linear-gradient(90deg,#222 35.5px,#222 35.5px,#00998d 36.5px,#099 132.5px,#008599 265.5px,#01d5ff 266.5px,#79bbff 340.5px,#ff9dfe 416.5px,#ff7fda 439.5px,#ff64b9 466.5px,#ff3986 532.5px,#ff195f 620.5px,#ff0042 738.5px,#990032 739.5px,#99002d 840.5px,#990026 841.5px,#99001f 1056.5px,#99000e 1057.5px,#99000d 1090.5px,#222 1092.5px,#222 1092.5px)"></i>
<i style="background:linear-gradient(90deg,#222 36.5px,#222 36.5px,#00998e 37.5px,#099 126.5px,#008499 265.5px,#01d3ff 266.5px,#7ab9ff 341.5px,#ff9cfe 417.5px,#ff7dda 440.5px,#ff63ba 467.5px,#ff3886 533.5px,#ff1860 621.5px,#ff0043 737.5px,#903 738.5px,#99002d 843.5px,#990026 844.5px,#99001f 1060.5px,#99000e 1061.5px,#99000d 1089.5px,#222 1091.5px,#222 1091.5px)"></i>
<i style="background:linear-gradient(90deg,#222 36.5px,#222 36.5px,#00998f 37.5px,#099 120.5px,#008399 265.5px,#00d2ff 266.5px,#79b7ff 341.5px,#ff9afe 418.5px,#ff7cda 441.5px,#ff62bb 467.5px,#ff3887 533.5px,#ff1861 620.5px,#ff0043 736.5px,#903 737.5px,#99002d 846.5px,#990026 847.5px,#99001f 1065.5px,#99000e 1066.5px,#99000d 1088.5px,#222 1090.5px,#222 1090.5px)"></i>
<i style="background:linear-gradient(90deg,#222 36.5px,#222 36.5px,#009990 38.5px,#099 115.5px,#008299 265.5px,#00d0ff 266.5px,#78b6ff 341.5px,#ff98fe 419.5px,#ff7bda 442.5px,#ff61bb 468.5px,#ff3788 534.5px,#ff1861 621.5px,#f04 735.5px,#903 736.5px,#99002d 850.5px,#990026 851.5px,#99001f 1069.5px,#99000e 1070.5px,#99000e 1087.5px,#222 1089.5px,#222 1089.5px)"></i>
<i style="background:linear-gradient(90deg,#222 37.5px,#222 37.5px,#009990 38.5px,#099 109.5px,#008199 266.5px,#01ceff 267.5px,#79b4ff 342.5px,#ff96fe 420.5px,#ff79da 443.5px,#ff60bb 469.5px,#ff3789 534.5px,#ff1862 620.5px,#ff0045 734.5px,#903 735.5px,#99002d 853.5px,#990026 854.5px,#99001f 1074.5px,#99000e 1075.5px,#99000e 1086.5px,#222 1088.5px,#222 1088.5px)"></i>
<i style="background:linear-gradient(90deg,#222 37.5px,#222 37.5px,#009991 38.5px,#099 103.5px,#008199 266.5px,#01cdff 267.5px,#78b3ff 342.5px,#ff95fe 421.5px,#ff78da 444.5px,#ff5fbc 470.5px,#ff3689 535.5px,#ff1863 620.5px,#ff0045 733.5px,#903 734.5px,#99002d 856.5px,#990026 857.5px,#99001f 1078.5px,#99000e 1079.5px,#99000e 1086.5px,#222 1087.5px,#222 1087.5px)"></i>
<i style="background:linear-gradient(90deg,#222 37.5px,#222 37.5px,#009992 39.5px,#099 97.5px,#008099 266.5px,#01cbff 267.5px,#79b1ff 343.5px,#ff93fe 422.5px,#ff76db 445.5px,#ff5ebc 471.5px,#ff3689 536.5px,#ff1763 621.5px,#ff0046 732.5px,#990034 733.5px,#99002d 860.5px,#990026 861.5px,#99001f 1082.5px,#99000e 1083.5px,#99000e 1085.5px,#222 1086.5px,#222 1086.5px)"></i>
<i style="background:linear-gradient(90deg,#222 38.5px,#222 38.5px,#009993 39.5px,#099 92.5px,#007f99 266.5px,#01caff 267.5px,#78b0ff 343.5px,#ff91fe 423.5px,#ff75db 446.5px,#ff5dbc 472.5px,#ff358a 536.5px,#ff1764 620.5px,#ff0047 731.5px,#990034 732.5px,#99002d 863.5px,#990026 864.5px,#99001f 1084.5px,#222 1085.5px,#222 1085.5px)"></i>
<i style="background:linear-gradient(90deg,#222 38.5px,#222 38.5px,#009993 39.5px,#099 86.5px,#007e99 266.5px,#01c8ff 267.5px,#77aeff 343.5px,#ff8ffe 424.5px,#ff74db 447.5px,#ff5cbc 473.5px,#ff358b 537.5px,#ff1764 621.5px,#ff0048 730.5px,#990034 731.5px,#99002d 866.5px,#990026 867.5px,#990020 1083.5px,#222 1084.5px,#222 1084.5px)"></i>
<i style="background:linear-gradient(90deg,#222 39.5px,#222 39.5px,#009994 40.5px,#099 80.5px,#007e99 266.5px,#00c7ff 267.5px,#78acff 344.5px,#ff8efe 425.5px,#ff72db 448.5px,#ff5bbd 474.5px,#ff348b 537.5px,#ff1765 620.5px,#ff0048 729.5px,#990034 730.5px,#99002d 869.5px,#990026 870.5px,#990020 1082.5px,#222 1083.5px,#222 1083.5px)"></i>
<i style="background:linear-gradient(90deg,#222 39.5px,#222 39.5px,#009995 40.5px,#099 74.5px,#007d99 266.5px,#00c5ff 267.5px,#77abff 344.5px,#ff8cfe 426.5px,#ff71db 449.5px,#ff5abd 475.5px,#ff348c 538.5px,#ff1766 620.5px,#ff0049 728.5px,#990035 729.5px,#99002d 873.5px,#990026 874.5px,#990020 1081.5px,#222 1082.5px,#222 1082.5px)"></i>
<i style="background:linear-gradient(90deg,#222 39.5px,#222 39.5px,#009995 40.5px,#007c99 267.5px,#01c4ff 268.5px,#77a9ff 345.5px,#ff8afe 427.5px,#ff71dc 449.5px,#ff5abe 475.5px,#ff348d 538.5px,#ff1667 620.5px,#ff004a 727.5px,#99003c 728.5px,#990035 730.5px,#99002d 876.5px,#990026 877.5px,#990020 1080.5px,#222 1081.5px,#222 1081.5px)"></i>
<i style="background:linear-gradient(90deg,#222 40.5px,#222 40.5px,#009996 41.5px,#007b99 267.5px,#01c2ff 268.5px,#77a8ff 345.5px,#ff89fe 428.5px,#ff70dd 450.5px,#ff58be 476.5px,#ff338d 539.5px,#ff1668 620.5px,#ff004a 726.5px,#99003d 727.5px,#99003c 731.5px,#990035 732.5px,#99002d 879.5px,#990026 880.5px,#990020 1079.5px,#222 1080.5px,#222 1080.5px)"></i>
<i style="background:linear-gradient(90deg,#222 40.5px,#222 40.5px,#009997 41.5px,#007b99 267.5px,#01c1ff 268.5px,#76a7ff 345.5px,#ff87fe 429.5px,#ff6edd 451.5px,#ff57bf 477.5px,#ff338e 539.5px,#ff1668 620.5px,#ff004b 725.5px,#99003d 726.5px,#99003c 734.5px,#990035 735.5px,#99002d 882.5px,#990026 883.5px,#990020 1078.5px,#222 1079.5px,#222 1079.5px)"></i>
<i style="background:linear-gradient(90deg,#222 40.5px,#222 40.5px,#009998 42.5px,#007a99 267.5px,#01bfff 268.5px,#76a5ff 346.5px,#ff86fe 430.5px,#ff6ddd 452.5px,#ff56bf 478.5px,#ff328e 540.5px,#ff1669 621.5px,#ff004c 725.5px,#99003d 726.5px,#99003c 736.5px,#990035 737.5px,#99002d 886.5px,#990026 887.5px,#990020 1077.5px,#222 1079.5px,#222 1079.5px)"></i>
<i style="background:linear-gradient(90deg,#222 41.5px,#222 41.5px,#099 42.5px,#007999 267.5px,#00beff 268.5px,#76a4ff 346.5px,#ff84fe 431.5px,#ff6cdd 453.5px,#ff55bf 479.5px,#ff318f 541.5px,#ff1569 621.5px,#ff004c 724.5px,#99003d 725.5px,#99003c 739.5px,#990035 740.5px,#99002d 889.5px,#990026 890.5px,#990021 1076.5px,#222 1078.5px,#222 1078.5px)"></i>
<i style="background:linear-gradient(90deg,#222 41.5px,#222 41.5px,#099 42.5px,#007899 267.5px,#00bdff 268.5px,#75a3ff 346.5px,#ff83fe 432.5px,#ff54bf 480.5px,#ff318f 541.5px,#ff166a 620.5px,#ff004d 723.5px,#99003e 724.5px,#99003c 741.5px,#990035 742.5px,#99002d 892.5px,#990026 893.5px,#990021 1075.5px,#222 1077.5px,#222 1077.5px)"></i>
<i style="background:linear-gradient(90deg,#222 41.5px,#222 41.5px,#009899 43.5px,#007899 268.5px,#01bbff 269.5px,#75a1ff 347.5px,#ff81fe 433.5px,#ff53bf 481.5px,#ff3090 542.5px,#ff156b 621.5px,#ff004e 722.5px,#99003e 723.5px,#99003c 744.5px,#990035 745.5px,#99002d 895.5px,#990026 896.5px,#990021 1074.5px,#222 1076.5px,#222 1076.5px)"></i>
<i style="background:linear-gradient(90deg,#222 42.5px,#222 42.5px,#009799 43.5px,#079 268.5px,#01baff 269.5px,#75a0ff 347.5px,#ff80fd 434.5px,#ff53c1 481.5px,#ff3091 542.5px,#ff156c 620.5px,#ff004f 721.5px,#99003e 722.5px,#99003c 746.5px,#990035 747.5px,#99002d 899.5px,#990026 900.5px,#990021 1073.5px,#222 1075.5px,#222 1075.5px)"></i>
<i style="background:linear-gradient(90deg,#222 42.5px,#222 42.5px,#009699 43.5px,#007699 268.5px,#01b8ff 269.5px,#759eff 348.5px,#ff7efd 435.5px,#ff52c1 482.5px,#ff3091 543.5px,#ff156c 621.5px,#ff004f 720.5px,#99003e 721.5px,#99003c 749.5px,#990035 750.5px,#99002d 902.5px,#990026 903.5px,#990021 1072.5px,#222 1074.5px,#222 1074.5px)"></i>
<i style="background:linear-gradient(90deg,#222 43.5px,#222 43.5px,#009699 44.5px,#007699 268.5px,#01b7ff 269.5px,#7e9bff 354.5px,#ff7eff 435.5px,#ff52c2 482.5px,#ff3093 542.5px,#ff156d 620.5px,#ff0050 719.5px,#99003e 720.5px,#99003c 751.5px,#990035 752.5px,#99002d 905.5px,#990026 906.5px,#990021 1071.5px,#222 1073.5px,#222 1073.5px)"></i>
<i style="background:linear-gradient(90deg,#222 43.5px,#222 43.5px,#009599 44.5px,#007599 268.5px,#00b6ff 269.5px,#7d9aff 354.5px,#ff7cff 436.5px,#ff51c2 483.5px,#ff2f93 543.5px,#ff156e 620.5px,#ff0051 718.5px,#99003f 719.5px,#99003c 754.5px,#990035 755.5px,#99002d 908.5px,#990026 909.5px,#990021 1071.5px,#222 1072.5px,#222 1072.5px)"></i>
<i style="background:linear-gradient(90deg,#222 43.5px,#222 43.5px,#009499 44.5px,#007499 268.5px,#00b5ff 269.5px,#7c99ff 354.5px,#ff7bff 437.5px,#ff50c2 484.5px,#ff2f94 543.5px,#ff156f 619.5px,#ff0052 717.5px,#99003f 718.5px,#99003c 756.5px,#990035 757.5px,#99002d 912.5px,#990026 913.5px,#990021 1070.5px,#222 1071.5px,#222 1071.5px)"></i>
<i style="background:linear-gradient(90deg,#222 44.5px,#222 44.5px,#009399 45.5px,#007399 269.5px,#01b3ff 270.5px,#7c97ff 355.5px,#ff79ff 438.5px,#ff4fc3 485.5px,#ff2e94 544.5px,#ff146f 620.5px,#ff0053 716.5px,#99003f 717.5px,#99003c 759.5px,#990035 760.5px,#99002d 915.5px,#990026 916.5px,#902 1069.5px,#222 1070.5px,#222 1070.5px)"></i>
<i style="background:linear-gradient(90deg,#222 44.5px,#222 44.5px,#009399 45.5px,#007399 269.5px,#01b2ff 270.5px,#7d96ff 356.5px,#ff78ff 439.5px,#ff4fc4 485.5px,#ff2e95 544.5px,#ff1470 619.5px,#ff0053 715.5px,#99003f 716.5px,#99003c 761.5px,#990035 762.5px,#99002d 918.5px,#990026 919.5px,#902 1068.5px,#222 1069.5px,#222 1069.5px)"></i>
<i style="background:linear-gradient(90deg,#222 44.5px,#222 44.5px,#009299 46.5px,#007299 269.5px,#01b1ff 270.5px,#7c94ff 356.5px,#ff76ff 440.5px,#ff4ec4 486.5px,#ff2d95 545.5px,#ff1471 619.5px,#ff0054 714.5px,#990040 715.5px,#99003c 764.5px,#990035 765.5px,#99002d 921.5px,#990026 922.5px,#902 1067.5px,#222 1068.5px,#222 1068.5px)"></i>
<i style="background:linear-gradient(90deg,#222 45.5px,#222 45.5px,#009199 46.5px,#007299 269.5px,#01afff 270.5px,#7b93ff 356.5px,#ff75ff 441.5px,#ff4dc4 487.5px,#ff2d96 545.5px,#ff1472 619.5px,#f05 713.5px,#990040 714.5px,#99003c 766.5px,#990035 767.5px,#99002d 925.5px,#990026 926.5px,#902 1066.5px,#222 1067.5px,#222 1067.5px)"></i>
<i style="background:linear-gradient(90deg,#222 45.5px,#222 45.5px,#009199 46.5px,#007199 269.5px,#01aeff 270.5px,#7b92ff 356.5px,#ff74ff 442.5px,#ff4cc4 488.5px,#ff2c96 546.5px,#ff1472 619.5px,#ff0056 712.5px,#990040 713.5px,#99003c 769.5px,#990035 770.5px,#99002d 928.5px,#990026 929.5px,#902 1065.5px,#222 1066.5px,#222 1066.5px)"></i>
<i style="background:linear-gradient(90deg,#222 46.5px,#222 46.5px,#009099 47.5px,#007099 269.5px,#00adff 270.5px,#7b91ff 357.5px,#ff72ff 443.5px,#ff4bc5 489.5px,#ff2c97 546.5px,#ff1473 619.5px,#ff0056 711.5px,#990040 712.5px,#99003c 771.5px,#990035 772.5px,#99002d 931.5px,#990026 932.5px,#902 1064.5px,#222 1065.5px,#222 1065.5px)"></i>
<i style="background:linear-gradient(90deg,#222 46.5px,#222 46.5px,#008f99 47.5px,#007099 269.5px,#00acff 270.5px,#7a90ff 357.5px,#ff71ff 444.5px,#ff4ac5 490.5px,#ff2c98 547.5px,#ff1374 619.5px,#ff0057 710.5px,#990041 711.5px,#99003c 774.5px,#990035 775.5px,#99002d 935.5px,#990026 936.5px,#902 1063.5px,#222 1065.5px,#222 1065.5px)"></i>
<i style="background:linear-gradient(90deg,#222 46.5px,#222 46.5px,#008e99 47.5px,#006f99 270.5px,#01aaff 271.5px,#7b8eff 358.5px,#ff6fff 445.5px,#ff4ac6 490.5px,#ff2b99 547.5px,#ff1375 619.5px,#ff0058 709.5px,#990041 710.5px,#99003c 777.5px,#990035 778.5px,#99002d 938.5px,#990026 939.5px,#902 1062.5px,#222 1064.5px,#222 1064.5px)"></i>
<i style="background:linear-gradient(90deg,#222 47.5px,#222 47.5px,#008e99 48.5px,#006e99 270.5px,#01a9ff 271.5px,#7a8dff 358.5px,#ff6efe 446.5px,#ff49c6 491.5px,#ff2b99 548.5px,#ff1375 619.5px,#ff0059 708.5px,#990041 709.5px,#99003c 779.5px,#990035 780.5px,#99002d 941.5px,#990026 942.5px,#990023 1061.5px,#222 1063.5px,#222 1063.5px)"></i>
<i style="background:linear-gradient(90deg,#222 47.5px,#222 47.5px,#008d99 48.5px,#006e99 270.5px,#01a8ff 271.5px,#798cff 358.5px,#ff6dfe 447.5px,#ff48c6 492.5px,#ff2a9a 548.5px,#ff1376 619.5px,#ff0059 708.5px,#990041 709.5px,#99003c 782.5px,#990035 783.5px,#99002d 944.5px,#990026 945.5px,#990023 1060.5px,#222 1062.5px,#222 1062.5px)"></i>
<i style="background:linear-gradient(90deg,#222 47.5px,#222 47.5px,#008c99 49.5px,#006d99 270.5px,#01a7ff 271.5px,#7a8bff 359.5px,#ff6bfe 448.5px,#ff47c6 493.5px,#ff2a9a 549.5px,#ff1377 619.5px,#ff005a 707.5px,#990041 708.5px,#99003c 784.5px,#990035 785.5px,#99002d 948.5px,#990026 949.5px,#990023 1059.5px,#222 1061.5px,#222 1061.5px)"></i>
<i style="background:linear-gradient(90deg,#222 48.5px,#222 48.5px,#008c99 49.5px,#006d99 270.5px,#00a6ff 271.5px,#798aff 359.5px,#ff6afe 449.5px,#ff47c8 493.5px,#ff2a9b 549.5px,#ff1277 619.5px,#ff005b 706.5px,#990042 707.5px,#99003c 787.5px,#990035 788.5px,#99002d 951.5px,#990026 952.5px,#990023 1058.5px,#222 1060.5px,#222 1060.5px)"></i>
<i style="background:linear-gradient(90deg,#222 48.5px,#222 48.5px,#008b99 49.5px,#006c99 270.5px,#00a5ff 271.5px,#7889ff 359.5px,#ff69fe 450.5px,#ff46c8 494.5px,#ff299b 550.5px,#ff1278 619.5px,#ff005c 705.5px,#990042 706.5px,#99003c 789.5px,#990035 790.5px,#990023 1057.5px,#222 1059.5px,#222 1059.5px)"></i>
<i style="background:linear-gradient(90deg,#222 49.5px,#222 49.5px,#008a99 50.5px,#006b99 271.5px,#01a3ff 272.5px,#7987ff 360.5px,#ff68fe 451.5px,#ff45c8 495.5px,#ff299c 550.5px,#ff1279 619.5px,#ff005d 704.5px,#990042 705.5px,#99003c 792.5px,#990035 793.5px,#990023 1057.5px,#222 1058.5px,#222 1058.5px)"></i>
<i style="background:linear-gradient(90deg,#222 49.5px,#222 49.5px,#008a99 50.5px,#006b99 271.5px,#01a2ff 272.5px,#7886ff 360.5px,#ff66fe 452.5px,#ff44c8 496.5px,#ff289c 551.5px,#ff1279 619.5px,#ff005e 703.5px,#990042 704.5px,#99003c 794.5px,#990035 795.5px,#990023 1056.5px,#222 1057.5px,#222 1057.5px)"></i>
<i style="background:linear-gradient(90deg,#222 49.5px,#222 49.5px,#008999 51.5px,#006a99 271.5px,#01a1ff 272.5px,#7985ff 361.5px,#ff65fe 453.5px,#ff43c8 497.5px,#ff289d 551.5px,#ff127b 618.5px,#ff005e 702.5px,#990043 703.5px,#99003c 797.5px,#990035 798.5px,#990023 1055.5px,#222 1056.5px,#222 1056.5px)"></i>
<i style="background:linear-gradient(90deg,#222 50.5px,#222 50.5px,#089 51.5px,#006999 271.5px,#01a0ff 272.5px,#7884ff 361.5px,#ff64fe 454.5px,#ff43c9 497.5px,#ff289e 551.5px,#ff127b 618.5px,#ff005f 701.5px,#990043 702.5px,#99003c 799.5px,#990035 800.5px,#990024 1054.5px,#222 1055.5px,#222 1055.5px)"></i>
<i style="background:linear-gradient(90deg,#222 50.5px,#222 50.5px,#089 51.5px,#006999 271.5px,#009fff 272.5px,#7783ff 361.5px,#ff63fe 455.5px,#ff42ca 498.5px,#ff279e 552.5px,#ff127c 618.5px,#ff0060 700.5px,#990043 701.5px,#99003c 802.5px,#990035 803.5px,#99002d 970.5px,#990026 971.5px,#990024 1053.5px,#222 1054.5px,#222 1054.5px)"></i>
<i style="background:linear-gradient(90deg,#222 51.5px,#222 51.5px,#008799 52.5px,#006899 271.5px,#009eff 272.5px,#7882ff 362.5px,#ff61fe 456.5px,#ff41ca 499.5px,#ff279f 552.5px,#ff117d 618.5px,#ff0061 699.5px,#990043 700.5px,#99003c 804.5px,#990035 805.5px,#99002d 974.5px,#990026 975.5px,#990024 1052.5px,#222 1053.5px,#222 1053.5px)"></i>
<i style="background:linear-gradient(90deg,#222 51.5px,#222 51.5px,#008699 52.5px,#006899 271.5px,#009dff 272.5px,#7781ff 362.5px,#ff60fe 457.5px,#ff40ca 500.5px,#ff26a0 553.5px,#ff117d 618.5px,#ff0062 698.5px,#904 699.5px,#99003c 807.5px,#990035 808.5px,#99002d 977.5px,#990026 978.5px,#990024 1051.5px,#222 1052.5px,#222 1052.5px)"></i>
<i style="background:linear-gradient(90deg,#222 51.5px,#222 51.5px,#008699 52.5px,#006799 272.5px,#019bff 273.5px,#787fff 363.5px,#ff5ffe 458.5px,#ff3fca 501.5px,#ff26a1 553.5px,#ff117e 618.5px,#ff0063 697.5px,#904 698.5px,#99003c 809.5px,#990035 810.5px,#99002d 980.5px,#990026 981.5px,#990024 1050.5px,#222 1051.5px,#222 1051.5px)"></i>
<i style="background:linear-gradient(90deg,#222 52.5px,#222 52.5px,#008599 53.5px,#006799 272.5px,#019aff 273.5px,#777eff 363.5px,#ff5efe 459.5px,#ff3eca 502.5px,#ff25a1 554.5px,#ff117f 618.5px,#ff0063 696.5px,#904 697.5px,#99003c 812.5px,#990035 813.5px,#99002d 983.5px,#990026 984.5px,#990024 1049.5px,#222 1051.5px,#222 1051.5px)"></i>
<i style="background:linear-gradient(90deg,#222 52.5px,#222 52.5px,#008499 53.5px,#069 272.5px,#0199ff 273.5px,#767dff 363.5px,#ff5dfe 460.5px,#ff3ecb 502.5px,#ff25a2 554.5px,#ff1180 617.5px,#ff0064 695.5px,#904 696.5px,#99003c 814.5px,#990035 815.5px,#99002d 987.5px,#990026 988.5px,#990024 1048.5px,#222 1050.5px,#222 1050.5px)"></i>
<i style="background:linear-gradient(90deg,#222 52.5px,#222 52.5px,#008499 54.5px,#006599 272.5px,#0198ff 273.5px,#777cff 364.5px,#ff5bfe 461.5px,#ff3dcb 503.5px,#ff25a3 554.5px,#ff1181 617.5px,#ff0065 694.5px,#99004d 695.5px,#99004d 696.5px,#904 697.5px,#99003c 817.5px,#990035 818.5px,#99002d 990.5px,#990026 991.5px,#990024 1047.5px,#222 1049.5px,#222 1049.5px)"></i>
<i style="background:linear-gradient(90deg,#222 53.5px,#222 53.5px,#008399 54.5px,#006599 272.5px,#0097ff 273.5px,#767bff 364.5px,#ff5afe 462.5px,#ff3ccc 504.5px,#ff24a3 555.5px,#ff1081 617.5px,#f06 693.5px,#99004d 694.5px,#99004d 698.5px,#904 699.5px,#99003c 819.5px,#990035 820.5px,#99002d 993.5px,#990026 994.5px,#990025 1046.5px,#222 1048.5px,#222 1048.5px)"></i>
<i style="background:linear-gradient(90deg,#222 53.5px,#222 53.5px,#008399 54.5px,#006499 272.5px,#0096ff 273.5px,#757aff 364.5px,#ff59fe 463.5px,#ff3ccd 504.5px,#ff24a4 555.5px,#ff1082 617.5px,#ff0067 692.5px,#99004e 693.5px,#99004d 700.5px,#904 701.5px,#99003c 822.5px,#990035 823.5px,#99002d 996.5px,#990026 997.5px,#990025 1045.5px,#222 1047.5px,#222 1047.5px)"></i>
<i style="background:linear-gradient(90deg,#222 54.5px,#222 54.5px,#008299 55.5px,#006499 273.5px,#0195ff 274.5px,#7679ff 365.5px,#ff58fe 464.5px,#ff3bcd 505.5px,#ff23a4 556.5px,#ff1083 617.5px,#ff0068 692.5px,#99004e 693.5px,#99004d 702.5px,#904 703.5px,#99003c 824.5px,#990035 825.5px,#99002d 1000.5px,#990026 1001.5px,#990025 1044.5px,#222 1046.5px,#222 1046.5px)"></i>
<i style="background:linear-gradient(90deg,#222 54.5px,#222 54.5px,#008199 55.5px,#006399 273.5px,#0194ff 274.5px,#7d76ff 371.5px,#ff58ff 464.5px,#ff3bcd 506.5px,#ff23a5 556.5px,#ff1084 617.5px,#ff0068 691.5px,#99004e 692.5px,#99004d 704.5px,#904 705.5px,#99003c 827.5px,#990035 828.5px,#99002d 1003.5px,#990026 1004.5px,#990025 1043.5px,#222 1045.5px,#222 1045.5px)"></i>
<i style="background:linear-gradient(90deg,#222 54.5px,#222 54.5px,#008199 56.5px,#006399 273.5px,#0193ff 274.5px,#7d76ff 371.5px,#ff56ff 465.5px,#ff3ace 506.5px,#ff23a6 556.5px,#ff1084 617.5px,#ff0069 690.5px,#99004e 691.5px,#99004d 706.5px,#904 707.5px,#99003c 829.5px,#990035 830.5px,#99002d 1006.5px,#990026 1007.5px,#990025 1042.5px,#222 1044.5px,#222 1044.5px)"></i>
<i style="background:linear-gradient(90deg,#222 55.5px,#222 55.5px,#008099 56.5px,#006299 273.5px,#0192ff 274.5px,#7d74ff 372.5px,#f5f 466.5px,#ff39ce 507.5px,#ff23a7 556.5px,#ff1086 616.5px,#ff006a 689.5px,#99004f 690.5px,#99004d 708.5px,#904 709.5px,#99003c 832.5px,#990035 833.5px,#99002d 1009.5px,#990026 1010.5px,#990025 1042.5px,#222 1043.5px,#222 1043.5px)"></i>
<i style="background:linear-gradient(90deg,#222 55.5px,#222 55.5px,#008099 56.5px,#006299 273.5px,#0091ff 274.5px,#7c73ff 372.5px,#ff54ff 467.5px,#ff39ce 508.5px,#ff22a7 557.5px,#ff1086 616.5px,#ff006b 688.5px,#99004f 689.5px,#99004d 710.5px,#904 711.5px,#99003c 834.5px,#990035 835.5px,#99002d 1013.5px,#990026 1014.5px,#990025 1041.5px,#222 1042.5px,#222 1042.5px)"></i>
<i style="background:linear-gradient(90deg,#222 56.5px,#222 56.5px,#007f99 57.5px,#006199 273.5px,#0090ff 274.5px,#7c73ff 372.5px,#ff53ff 468.5px,#ff38d0 508.5px,#ff22a8 557.5px,#ff0f87 616.5px,#ff006c 687.5px,#99004f 688.5px,#99004d 712.5px,#904 713.5px,#99003c 837.5px,#990035 838.5px,#99002d 1016.5px,#990026 1017.5px,#990026 1040.5px,#222 1041.5px,#222 1041.5px)"></i>
<i style="background:linear-gradient(90deg,#222 56.5px,#222 56.5px,#007e99 57.5px,#006199 273.5px,#008fff 274.5px,#7c71ff 373.5px,#ff52ff 469.5px,#ff38d0 509.5px,#ff22a9 557.5px,#ff0f88 615.5px,#ff006d 686.5px,#99004f 687.5px,#99004d 714.5px,#904 715.5px,#99003c 839.5px,#990035 840.5px,#99002d 1019.5px,#990026 1020.5px,#990026 1039.5px,#222 1040.5px,#222 1040.5px)"></i>
<i style="background:linear-gradient(90deg,#222 56.5px,#222 56.5px,#007e99 58.5px,#006099 274.5px,#018eff 275.5px,#7b71ff 373.5px,#ff51ff 470.5px,#ff37d0 510.5px,#ff21a9 558.5px,#ff0f88 616.5px,#ff006e 685.5px,#990050 686.5px,#99004d 716.5px,#904 717.5px,#99003c 842.5px,#990035 843.5px,#99002d 1023.5px,#990026 1024.5px,#990026 1038.5px,#222 1039.5px,#222 1039.5px)"></i>
<i style="background:linear-gradient(90deg,#222 57.5px,#222 57.5px,#007d99 58.5px,#005f99 274.5px,#018dff 275.5px,#7c6fff 374.5px,#ff50ff 471.5px,#ff36d0 511.5px,#ff21aa 558.5px,#ff0f8a 615.5px,#ff006f 684.5px,#990050 685.5px,#99004d 718.5px,#904 719.5px,#99003c 844.5px,#990035 845.5px,#99002d 1026.5px,#990026 1027.5px,#990026 1037.5px,#222 1038.5px,#222 1038.5px)"></i>
<i style="background:linear-gradient(90deg,#222 57.5px,#222 57.5px,#007d99 58.5px,#005f99 274.5px,#018cff 275.5px,#7b6fff 374.5px,#ff4fff 472.5px,#ff35d0 512.5px,#ff20aa 559.5px,#ff0f8a 615.5px,#ff0070 683.5px,#990050 684.5px,#99004d 720.5px,#904 721.5px,#99003c 847.5px,#990035 848.5px,#99002d 1029.5px,#990026 1030.5px,#990026 1036.5px,#222 1037.5px,#222 1037.5px)"></i>
<i style="background:linear-gradient(90deg,#222 58.5px,#222 58.5px,#007c99 59.5px,#005e99 274.5px,#008bff 275.5px,#7b6eff 374.5px,#ff4eff 473.5px,#ff35d1 512.5px,#ff20ab 559.5px,#ff0f8b 615.5px,#ff0071 682.5px,#990050 683.5px,#99004d 722.5px,#904 723.5px,#99003c 849.5px,#990035 850.5px,#99002d 1032.5px,#990026 1033.5px,#990026 1035.5px,#222 1036.5px,#222 1036.5px)"></i>
<i style="background:linear-gradient(90deg,#222 58.5px,#222 58.5px,#007b99 59.5px,#005e99 274.5px,#008aff 275.5px,#7b6dff 375.5px,#ff4dff 474.5px,#ff34d1 513.5px,#ff20ac 559.5px,#ff0e8c 615.5px,#ff0072 681.5px,#990051 682.5px,#99004d 724.5px,#904 725.5px,#99003c 852.5px,#990035 853.5px,#99002d 1034.5px,#222 1036.5px,#222 1036.5px)"></i>
<i style="background:linear-gradient(90deg,#222 58.5px,#222 58.5px,#007b99 60.5px,#005e99 274.5px,#008aff 275.5px,#7a6cff 375.5px,#ff4cff 475.5px,#ff33d1 514.5px,#ff1fac 560.5px,#ff0e8d 615.5px,#ff0072 680.5px,#990051 681.5px,#99004d 726.5px,#904 727.5px,#99003c 854.5px,#990035 855.5px,#99002e 1033.5px,#222 1035.5px,#222 1035.5px)"></i>
<i style="background:linear-gradient(90deg,#222 59.5px,#222 59.5px,#007a99 60.5px,#005d99 275.5px,#0188ff 276.5px,#7b6bff 376.5px,#ff4bfe 476.5px,#ff33d2 514.5px,#ff1fad 560.5px,#ff0e8e 614.5px,#ff0073 679.5px,#990051 680.5px,#99004d 728.5px,#904 729.5px,#99003c 857.5px,#990035 858.5px,#99002e 1032.5px,#222 1034.5px,#222 1034.5px)"></i>
<i style="background:linear-gradient(90deg,#222 59.5px,#222 59.5px,#007a99 60.5px,#005c99 275.5px,#0187ff 276.5px,#7a6aff 376.5px,#ff4afe 477.5px,#ff32d3 515.5px,#ff1fae 560.5px,#ff0e8f 614.5px,#ff0074 678.5px,#990051 679.5px,#99004d 730.5px,#904 731.5px,#99003c 859.5px,#990035 860.5px,#99002e 1031.5px,#222 1033.5px,#222 1033.5px)"></i>
<i style="background:linear-gradient(90deg,#222 60.5px,#222 60.5px,#007999 61.5px,#005c99 275.5px,#0187ff 276.5px,#7a69ff 376.5px,#ff49fe 478.5px,#ff32d3 516.5px,#ff1eae 561.5px,#ff0e8f 614.5px,#ff0075 677.5px,#990052 678.5px,#99004d 732.5px,#904 733.5px,#99003c 862.5px,#990035 863.5px,#99002e 1030.5px,#222 1032.5px,#222 1032.5px)"></i>
<i style="background:linear-gradient(90deg,#222 60.5px,#222 60.5px,#007999 61.5px,#005b99 275.5px,#0186ff 276.5px,#7a68ff 377.5px,#ff48fe 479.5px,#ff31d3 517.5px,#ff1eaf 561.5px,#ff0e90 614.5px,#ff0076 676.5px,#990052 677.5px,#99004d 734.5px,#904 735.5px,#99003c 864.5px,#990035 865.5px,#99002e 1029.5px,#222 1031.5px,#222 1031.5px)"></i>
<i style="background:linear-gradient(90deg,#222 60.5px,#222 60.5px,#007899 62.5px,#005b99 275.5px,#0085ff 276.5px,#7967ff 377.5px,#ff47fe 480.5px,#ff30d4 517.5px,#ff1eb0 561.5px,#ff0e91 613.5px,#f07 675.5px,#990052 676.5px,#99004d 736.5px,#904 737.5px,#99003c 867.5px,#990035 868.5px,#99002e 1028.5px,#222 1030.5px,#222 1030.5px)"></i>
<i style="background:linear-gradient(90deg,#222 61.5px,#222 61.5px,#079 62.5px,#005b99 275.5px,#0084ff 276.5px,#7967ff 377.5px,#ff46fe 481.5px,#ff30d4 518.5px,#ff1db0 562.5px,#ff0d92 614.5px,#ff0078 675.5px,#990052 676.5px,#99004d 738.5px,#904 739.5px,#99003c 869.5px,#990035 870.5px,#99002e 1028.5px,#222 1029.5px,#222 1029.5px)"></i>
<i style="background:linear-gradient(90deg,#222 61.5px,#222 61.5px,#079 62.5px,#005a99 276.5px,#0183ff 277.5px,#7966ff 378.5px,#ff45fe 482.5px,#ff2fd4 519.5px,#ff1db1 562.5px,#ff0d93 613.5px,#ff0079 674.5px,#990053 675.5px,#99004d 740.5px,#904 741.5px,#99003c 872.5px,#990035 873.5px,#99002e 1027.5px,#222 1028.5px,#222 1028.5px)"></i>
<i style="background:linear-gradient(90deg,#222 62.5px,#222 62.5px,#007699 63.5px,#005999 276.5px,#0182ff 277.5px,#7965ff 378.5px,#ff44fe 483.5px,#ff2ed4 520.5px,#ff1cb1 563.5px,#ff0d93 614.5px,#ff007a 673.5px,#990053 674.5px,#99004d 742.5px,#904 743.5px,#99003c 874.5px,#990035 875.5px,#99002f 1026.5px,#222 1027.5px,#222 1027.5px)"></i>
<i style="background:linear-gradient(90deg,#222 62.5px,#222 62.5px,#007699 63.5px,#005999 276.5px,#0181ff 277.5px,#7964ff 379.5px,#ff43fe 484.5px,#ff2ed5 520.5px,#ff1cb2 563.5px,#ff0d94 613.5px,#ff007b 672.5px,#990053 673.5px,#99004d 744.5px,#904 745.5px,#99003c 877.5px,#990035 878.5px,#99002f 1025.5px,#222 1026.5px,#222 1026.5px)"></i>
<i style="background:linear-gradient(90deg,#222 62.5px,#222 62.5px,#007599 64.5px,#005999 276.5px,#0180ff 277.5px,#7863ff 379.5px,#ff42fe 485.5px,#ff2dd5 521.5px,#ff1cb3 563.5px,#ff0d95 613.5px,#ff007c 671.5px,#990054 672.5px,#99004d 746.5px,#904 747.5px,#99003c 879.5px,#990035 880.5px,#99002f 1024.5px,#222 1025.5px,#222 1025.5px)"></i>
<i style="background:linear-gradient(90deg,#222 63.5px,#222 63.5px,#007599 64.5px,#005899 276.5px,#0080ff 277.5px,#7862ff 379.5px,#ff41fe 486.5px,#ff2cd6 522.5px,#ff1bb3 564.5px,#ff0d96 613.5px,#ff007d 670.5px,#990054 671.5px,#99004d 748.5px,#904 749.5px,#99003c 882.5px,#990035 883.5px,#99002f 1023.5px,#222 1024.5px,#222 1024.5px)"></i>
<i style="background:linear-gradient(90deg,#222 63.5px,#222 63.5px,#007499 65.5px,#005899 276.5px,#007fff 277.5px,#7762ff 379.5px,#ff40fe 487.5px,#ff2cd6 523.5px,#ff1bb4 564.5px,#ff0d97 612.5px,#ff007e 669.5px,#990054 670.5px,#99004d 750.5px,#904 751.5px,#99003c 884.5px,#990035 885.5px,#99002f 1022.5px,#222 1023.5px,#222 1023.5px)"></i>
<i style="background:linear-gradient(90deg,#222 64.5px,#222 64.5px,#007499 65.5px,#005799 276.5px,#007eff 277.5px,#7861ff 380.5px,#ff3ffe 488.5px,#ff2cd7 523.5px,#ff1bb5 564.5px,#ff0c98 612.5px,#ff007f 668.5px,#990054 669.5px,#99004d 752.5px,#904 753.5px,#99003c 887.5px,#990035 888.5px,#99002f 1021.5px,#222 1022.5px,#222 1022.5px)"></i>
<i style="background:linear-gradient(90deg,#222 64.5px,#222 64.5px,#007399 65.5px,#005799 277.5px,#017dff 278.5px,#7860ff 381.5px,#ff3efe 489.5px,#ff2bd7 524.5px,#ff1ab5 565.5px,#ff0c99 612.5px,#ff0080 667.5px,#905 668.5px,#99004d 754.5px,#904 755.5px,#99003c 890.5px,#990035 891.5px,#99002f 1020.5px,#222 1022.5px,#222 1022.5px)"></i>
<i style="background:linear-gradient(90deg,#222 65.5px,#222 65.5px,#007399 66.5px,#005699 277.5px,#017cff 278.5px,#785fff 381.5px,#ff3dfe 490.5px,#ff2ad7 525.5px,#ff1ab6 565.5px,#ff0081 666.5px,#905 667.5px,#99004d 756.5px,#904 757.5px,#99003c 892.5px,#990035 893.5px,#990030 1019.5px,#222 1021.5px,#222 1021.5px)"></i>
<i style="background:linear-gradient(90deg,#222 65.5px,#222 65.5px,#007299 66.5px,#005699 277.5px,#017bff 278.5px,#775eff 381.5px,#ff3cfe 491.5px,#ff2ad8 525.5px,#ff1ab7 565.5px,#ff0082 665.5px,#905 666.5px,#99004d 758.5px,#904 759.5px,#99003c 895.5px,#990035 896.5px,#990030 1018.5px,#222 1020.5px,#222 1020.5px)"></i>
<i style="background:linear-gradient(90deg,#222 65.5px,#222 65.5px,#007299 67.5px,#059 277.5px,#007bff 278.5px,#765eff 381.5px,#ff3bfe 492.5px,#ff29d8 526.5px,#ff1ab8 565.5px,#ff0083 664.5px,#990056 665.5px,#99004d 760.5px,#904 761.5px,#99003c 897.5px,#990035 898.5px,#990030 1017.5px,#222 1019.5px,#222 1019.5px)"></i>
<i style="background:linear-gradient(90deg,#222 66.5px,#222 66.5px,#007199 67.5px,#059 277.5px,#007aff 278.5px,#775dff 382.5px,#ff3afe 493.5px,#ff28d8 527.5px,#ff19b8 566.5px,#ff0084 663.5px,#990056 664.5px,#99004d 762.5px,#904 763.5px,#99003c 900.5px,#990035 901.5px,#990030 1016.5px,#222 1018.5px,#222 1018.5px)"></i>
<i style="background:linear-gradient(90deg,#222 66.5px,#222 66.5px,#007199 67.5px,#005499 277.5px,#0079ff 278.5px,#765cff 382.5px,#ff39fe 494.5px,#ff28d9 527.5px,#ff19b9 566.5px,#ff0085 662.5px,#990056 663.5px,#99004d 764.5px,#904 765.5px,#99003c 902.5px,#990035 903.5px,#990030 1015.5px,#222 1017.5px,#222 1017.5px)"></i>
<i style="background:linear-gradient(90deg,#222 67.5px,#222 67.5px,#007099 68.5px,#005499 278.5px,#0178ff 279.5px,#7e59ff 389.5px,#ff39ff 494.5px,#ff28da 527.5px,#ff18ba 566.5px,#ff0086 661.5px,#990060 662.5px,#990060 663.5px,#990056 664.5px,#99004d 766.5px,#904 767.5px,#99003c 905.5px,#990035 906.5px,#990030 1014.5px,#222 1016.5px,#222 1016.5px)"></i>
<i style="background:linear-gradient(90deg,#222 67.5px,#222 67.5px,#007099 68.5px,#005399 278.5px,#0177ff 279.5px,#7d59ff 389.5px,#ff38ff 495.5px,#ff27da 528.5px,#ff18bb 566.5px,#ff0087 660.5px,#990060 661.5px,#990060 665.5px,#990056 666.5px,#99004d 768.5px,#904 769.5px,#99003c 907.5px,#990035 908.5px,#990030 1013.5px,#222 1015.5px,#222 1015.5px)"></i>
<i style="background:linear-gradient(90deg,#222 67.5px,#222 67.5px,#006f99 69.5px,#005399 278.5px,#0177ff 279.5px,#7c58ff 389.5px,#ff37ff 496.5px,#ff26da 529.5px,#ff18bb 566.5px,#f08 659.5px,#990061 660.5px,#990060 666.5px,#990056 667.5px,#99004d 770.5px,#904 771.5px,#99003c 910.5px,#990035 911.5px,#990030 1013.5px,#222 1014.5px,#222 1014.5px)"></i>
<i style="background:linear-gradient(90deg,#222 68.5px,#222 68.5px,#006f99 69.5px,#005399 278.5px,#0176ff 279.5px,#7d57ff 390.5px,#ff37ff 497.5px,#ff26db 530.5px,#ff17bc 567.5px,#ff0089 659.5px,#990061 660.5px,#990060 668.5px,#990056 669.5px,#99004d 772.5px,#904 773.5px,#99003c 912.5px,#990035 913.5px,#990031 1012.5px,#222 1013.5px,#222 1013.5px)"></i>
<i style="background:linear-gradient(90deg,#222 68.5px,#222 68.5px,#006e99 70.5px,#005299 278.5px,#0075ff 279.5px,#7c56ff 390.5px,#ff36ff 498.5px,#ff26dc 530.5px,#ff17bd 567.5px,#ff008a 658.5px,#990061 659.5px,#990060 670.5px,#990056 671.5px,#99004d 774.5px,#904 775.5px,#99003c 915.5px,#990035 916.5px,#990031 1011.5px,#222 1012.5px,#222 1012.5px)"></i>
<i style="background:linear-gradient(90deg,#222 69.5px,#222 69.5px,#006e99 70.5px,#005299 278.5px,#0074ff 279.5px,#7c56ff 390.5px,#ff35ff 499.5px,#ff25dc 531.5px,#ff17bd 567.5px,#ff008b 657.5px,#990062 658.5px,#990060 671.5px,#990056 672.5px,#99004d 776.5px,#904 777.5px,#99003c 917.5px,#990035 918.5px,#990031 1010.5px,#222 1011.5px,#222 1011.5px)"></i>
<i style="background:linear-gradient(90deg,#222 69.5px,#222 69.5px,#006d99 70.5px,#005199 278.5px,#0074ff 279.5px,#7c55ff 391.5px,#ff34ff 500.5px,#ff24dc 532.5px,#ff16be 568.5px,#ff008c 656.5px,#990062 657.5px,#990060 673.5px,#990056 674.5px,#99004d 777.5px,#904 778.5px,#99003c 920.5px,#990035 921.5px,#990031 1009.5px,#222 1010.5px,#222 1010.5px)"></i>
<i style="background:linear-gradient(90deg,#222 70.5px,#222 70.5px,#006d99 71.5px,#005199 279.5px,#0173ff 280.5px,#7b54ff 391.5px,#f3f 501.5px,#ff24dd 532.5px,#ff16be 568.5px,#ff008d 655.5px,#990062 656.5px,#990060 674.5px,#990056 675.5px,#99004d 779.5px,#904 780.5px,#990031 1008.5px,#222 1009.5px,#222 1009.5px)"></i>
<i style="background:linear-gradient(90deg,#222 70.5px,#222 70.5px,#006c99 71.5px,#005099 279.5px,#0172ff 280.5px,#7c53ff 392.5px,#ff32ff 502.5px,#ff23dd 533.5px,#ff16bf 568.5px,#ff008e 654.5px,#990062 655.5px,#990060 676.5px,#990056 677.5px,#99004d 781.5px,#904 782.5px,#99003c 925.5px,#990035 926.5px,#990031 1007.5px,#222 1008.5px,#222 1008.5px)"></i>
<i style="background:linear-gradient(90deg,#222 70.5px,#222 70.5px,#006c99 72.5px,#005099 279.5px,#0171ff 280.5px,#7b53ff 392.5px,#ff31ff 503.5px,#ff16c0 568.5px,#ff008f 653.5px,#990063 654.5px,#990060 678.5px,#990056 679.5px,#99004d 783.5px,#904 784.5px,#99003c 927.5px,#990035 928.5px,#990031 1006.5px,#222 1007.5px,#222 1007.5px)"></i>
<i style="background:linear-gradient(90deg,#222 71.5px,#222 71.5px,#006b99 72.5px,#005099 279.5px,#0071ff 280.5px,#7b52ff 392.5px,#ff31ff 504.5px,#ff15c0 569.5px,#ff0091 652.5px,#990063 653.5px,#990060 679.5px,#990056 680.5px,#99004d 785.5px,#904 786.5px,#99003c 930.5px,#990035 931.5px,#990032 1005.5px,#222 1007.5px,#222 1007.5px)"></i>
<i style="background:linear-gradient(90deg,#222 71.5px,#222 71.5px,#006b99 72.5px,#004f99 279.5px,#0070ff 280.5px,#7b51ff 393.5px,#ff30ff 505.5px,#ff15c1 569.5px,#ff0092 651.5px,#990063 652.5px,#990060 681.5px,#990056 682.5px,#99004d 787.5px,#904 788.5px,#99003c 932.5px,#990035 933.5px,#990032 1004.5px,#222 1006.5px,#222 1006.5px)"></i>
<i style="background:linear-gradient(90deg,#222 72.5px,#222 72.5px,#006a99 73.5px,#004f99 279.5px,#006fff 280.5px,#7a50ff 393.5px,#ff2fff 506.5px,#ff15c2 569.5px,#ff0093 650.5px,#990064 651.5px,#990060 682.5px,#990056 683.5px,#99004d 789.5px,#904 790.5px,#99003c 935.5px,#990035 936.5px,#990032 1003.5px,#222 1005.5px,#222 1005.5px)"></i>
<i style="background:linear-gradient(90deg,#222 72.5px,#222 72.5px,#006a99 73.5px,#004e99 280.5px,#016eff 281.5px,#7b50ff 394.5px,#ff2efe 507.5px,#ff15c3 569.5px,#ff0094 649.5px,#990064 650.5px,#990060 684.5px,#990056 685.5px,#99004d 791.5px,#904 792.5px,#99003c 937.5px,#990035 938.5px,#990032 1002.5px,#222 1004.5px,#222 1004.5px)"></i>
<i style="background:linear-gradient(90deg,#222 73.5px,#222 73.5px,#006999 74.5px,#004e99 280.5px,#016eff 281.5px,#7a4fff 394.5px,#ff2dfe 508.5px,#ff14c3 570.5px,#ff0095 648.5px,#990064 649.5px,#990060 686.5px,#990056 687.5px,#99004d 793.5px,#904 794.5px,#99003c 940.5px,#990035 941.5px,#990032 1001.5px,#222 1003.5px,#222 1003.5px)"></i>
<i style="background:linear-gradient(90deg,#222 73.5px,#222 73.5px,#006999 74.5px,#004e99 280.5px,#016dff 281.5px,#7a4eff 394.5px,#ff2dfe 509.5px,#ff14c4 570.5px,#ff0096 647.5px,#990065 648.5px,#990060 687.5px,#990056 688.5px,#99004d 795.5px,#904 796.5px,#99003c 942.5px,#990035 943.5px,#990032 1000.5px,#222 1002.5px,#222 1002.5px)"></i>
<i style="background:linear-gradient(90deg,#222 73.5px,#222 73.5px,#006899 75.5px,#004d99 280.5px,#006cff 281.5px,#794eff 394.5px,#ff2cfe 510.5px,#ff14c5 570.5px,#ff0097 646.5px,#990065 647.5px,#990060 689.5px,#990056 690.5px,#99004d 797.5px,#904 798.5px,#99003c 945.5px,#990035 946.5px,#990032 999.5px,#222 1001.5px,#222 1001.5px)"></i>
<i style="background:linear-gradient(90deg,#222 74.5px,#222 74.5px,#006899 75.5px,#004d99 280.5px,#006cff 281.5px,#7a4dff 395.5px,#ff2bfe 511.5px,#ff13c6 570.5px,#f09 645.5px,#990065 646.5px,#990060 690.5px,#990056 691.5px,#99004d 799.5px,#904 800.5px,#99003c 947.5px,#990035 948.5px,#903 999.5px,#222 1000.5px,#222 1000.5px)"></i>
<i style="background:linear-gradient(90deg,#222 74.5px,#222 74.5px,#006799 76.5px,#004c99 280.5px,#006bff 281.5px,#794cff 395.5px,#ff2afe 512.5px,#ff13c6 571.5px,#ff009a 644.5px,#990065 645.5px,#990060 692.5px,#990056 693.5px,#99004d 801.5px,#904 802.5px,#99003c 950.5px,#990035 951.5px,#903 998.5px,#222 999.5px,#222 999.5px)"></i>
<i style="background:linear-gradient(90deg,#222 75.5px,#222 75.5px,#006799 76.5px,#004c99 281.5px,#016aff 282.5px,#794cff 396.5px,#ff2afe 513.5px,#ff13c7 571.5px,#ff009b 643.5px,#906 644.5px,#990060 694.5px,#990056 695.5px,#99004d 803.5px,#904 804.5px,#99003c 952.5px,#990035 953.5px,#903 997.5px,#222 998.5px,#222 998.5px)"></i>
<i style="background:linear-gradient(90deg,#222 75.5px,#222 75.5px,#069 76.5px,#004c99 281.5px,#0169ff 282.5px,#794bff 396.5px,#ff29fe 514.5px,#ff12c8 571.5px,#ff009c 642.5px,#906 643.5px,#990060 695.5px,#990056 696.5px,#99004d 805.5px,#904 806.5px,#99003c 955.5px,#990035 956.5px,#903 996.5px,#222 997.5px,#222 997.5px)"></i>
<i style="background:linear-gradient(90deg,#222 76.5px,#222 76.5px,#069 77.5px,#004b99 281.5px,#0169ff 282.5px,#784aff 396.5px,#ff28fe 515.5px,#ff12c8 572.5px,#ff009d 642.5px,#906 643.5px,#990060 697.5px,#990056 698.5px,#99004d 807.5px,#904 808.5px,#99003c 957.5px,#990035 958.5px,#903 995.5px,#222 996.5px,#222 996.5px)"></i>
<i style="background:linear-gradient(90deg,#222 76.5px,#222 76.5px,#006599 77.5px,#004b99 281.5px,#0168ff 282.5px,#794aff 397.5px,#ff27fe 516.5px,#ff12c9 572.5px,#ff009e 641.5px,#990067 642.5px,#990060 698.5px,#990056 699.5px,#99004d 809.5px,#904 810.5px,#99003c 960.5px,#990035 961.5px,#903 994.5px,#222 995.5px,#222 995.5px)"></i>
<i style="background:linear-gradient(90deg,#222 76.5px,#222 76.5px,#006599 78.5px,#004a99 281.5px,#0067ff 282.5px,#7849ff 397.5px,#ff27fe 517.5px,#ff11ca 572.5px,#ff009f 640.5px,#990067 641.5px,#990060 700.5px,#990056 701.5px,#99004d 811.5px,#904 812.5px,#99003c 962.5px,#990035 963.5px,#903 993.5px,#222 994.5px,#222 994.5px)"></i>
<i style="background:linear-gradient(90deg,#222 77.5px,#222 77.5px,#006599 78.5px,#004a99 281.5px,#0067ff 282.5px,#7748ff 397.5px,#ff26fe 518.5px,#ff11cb 572.5px,#ff00a0 639.5px,#990067 640.5px,#990060 702.5px,#990056 703.5px,#99004d 813.5px,#904 814.5px,#99003c 965.5px,#990035 966.5px,#990034 992.5px,#222 993.5px,#222 993.5px)"></i>
<i style="background:linear-gradient(90deg,#222 77.5px,#222 77.5px,#006499 79.5px,#004a99 281.5px,#06f 282.5px,#7848ff 398.5px,#ff25fe 519.5px,#f1c 572.5px,#ff00a2 638.5px,#990068 639.5px,#990060 703.5px,#990056 704.5px,#99004d 815.5px,#904 816.5px,#99003c 967.5px,#990035 968.5px,#990034 991.5px,#222 993.5px,#222 993.5px)"></i>
<i style="background:linear-gradient(90deg,#222 78.5px,#222 78.5px,#006499 79.5px,#004999 282.5px,#0165ff 283.5px,#7747ff 398.5px,#ff24fe 520.5px,#ff10cc 573.5px,#ff00a3 637.5px,#990068 638.5px,#990060 705.5px,#990056 706.5px,#99004d 817.5px,#904 818.5px,#99003c 970.5px,#990035 971.5px,#990034 990.5px,#222 992.5px,#222 992.5px)"></i>
<i style="background:linear-gradient(90deg,#222 78.5px,#222 78.5px,#006399 79.5px,#004999 282.5px,#0165ff 283.5px,#7846ff 399.5px,#ff24fe 521.5px,#ff10cd 573.5px,#ff00a4 636.5px,#990068 637.5px,#990060 706.5px,#990056 707.5px,#99004d 819.5px,#904 820.5px,#99003c 972.5px,#990035 973.5px,#990034 989.5px,#222 991.5px,#222 991.5px)"></i>
<i style="background:linear-gradient(90deg,#222 79.5px,#222 79.5px,#006399 80.5px,#004899 282.5px,#0164ff 283.5px,#7746ff 399.5px,#ff23fe 522.5px,#ff10cd 573.5px,#ff00a5 635.5px,#990069 636.5px,#990060 708.5px,#990056 709.5px,#99004d 821.5px,#904 822.5px,#99003c 975.5px,#990035 976.5px,#990034 988.5px,#222 990.5px,#222 990.5px)"></i>
<i style="background:linear-gradient(90deg,#222 79.5px,#222 79.5px,#006299 80.5px,#004899 282.5px,#0063ff 283.5px,#7745ff 399.5px,#ff22fe 523.5px,#ff10ce 573.5px,#ff00a7 634.5px,#990069 635.5px,#990060 710.5px,#990056 711.5px,#99004d 823.5px,#904 824.5px,#99003c 977.5px,#990035 978.5px,#990034 987.5px,#222 989.5px,#222 989.5px)"></i>
<i style="background:linear-gradient(90deg,#222 80.5px,#222 80.5px,#006299 81.5px,#004899 282.5px,#0063ff 283.5px,#7e43ff 406.5px,#f2f 523.5px,#ff0fcf 573.5px,#ff00a8 633.5px,#990069 634.5px,#990060 711.5px,#990056 712.5px,#99004d 825.5px,#904 826.5px,#99003c 980.5px,#990035 981.5px,#990034 986.5px,#222 988.5px,#222 988.5px)"></i>
<i style="background:linear-gradient(90deg,#222 80.5px,#222 80.5px,#006199 81.5px,#004799 282.5px,#0062ff 283.5px,#7d42ff 406.5px,#ff21ff 524.5px,#ff0fd0 573.5px,#ff00a9 632.5px,#990069 633.5px,#990060 713.5px,#990056 714.5px,#99004d 827.5px,#904 828.5px,#99003c 982.5px,#990035 983.5px,#990035 985.5px,#222 987.5px,#222 987.5px)"></i>
<i style="background:linear-gradient(90deg,#222 80.5px,#222 80.5px,#006199 82.5px,#004799 283.5px,#0161ff 284.5px,#7d42ff 407.5px,#ff20ff 525.5px,#ff0fd1 573.5px,#ff00ab 631.5px,#99006a 632.5px,#990060 714.5px,#990056 715.5px,#99004d 829.5px,#904 830.5px,#99003c 984.5px,#222 986.5px,#222 986.5px)"></i>
<i style="background:linear-gradient(90deg,#222 81.5px,#222 81.5px,#006199 82.5px,#004799 283.5px,#0161ff 284.5px,#7d41ff 407.5px,#ff20ff 526.5px,#ff0fd2 573.5px,#ff00ac 630.5px,#99006a 631.5px,#990060 716.5px,#990056 717.5px,#99004d 831.5px,#904 832.5px,#99003d 984.5px,#222 985.5px,#222 985.5px)"></i>
<i style="background:linear-gradient(90deg,#222 81.5px,#222 81.5px,#006099 83.5px,#004699 283.5px,#0160ff 284.5px,#7c41ff 407.5px,#ff1fff 527.5px,#ff0ed2 574.5px,#ff00ad 629.5px,#99006a 630.5px,#990060 718.5px,#990056 719.5px,#99004d 833.5px,#904 834.5px,#99003d 983.5px,#222 984.5px,#222 984.5px)"></i>
<i style="background:linear-gradient(90deg,#222 82.5px,#222 82.5px,#006099 83.5px,#004699 283.5px,#0060ff 284.5px,#7d40ff 408.5px,#ff1eff 528.5px,#ff0ed3 574.5px,#ff00ae 628.5px,#990076 629.5px,#990076 630.5px,#99006b 631.5px,#990060 719.5px,#990056 720.5px,#99004d 835.5px,#904 836.5px,#99003d 982.5px,#222 983.5px,#222 983.5px)"></i>
<i style="background:linear-gradient(90deg,#222 82.5px,#222 82.5px,#005f99 83.5px,#004699 283.5px,#005fff 284.5px,#7c3fff 408.5px,#ff1eff 529.5px,#ff0ed4 574.5px,#ff00b0 627.5px,#907 628.5px,#990076 632.5px,#99006a 633.5px,#990060 721.5px,#990056 722.5px,#99004d 837.5px,#904 838.5px,#99003d 981.5px,#222 982.5px,#222 982.5px)"></i>
<i style="background:linear-gradient(90deg,#222 83.5px,#222 83.5px,#005f99 84.5px,#004599 283.5px,#005eff 284.5px,#7b3fff 408.5px,#ff1dff 530.5px,#ff0dd5 574.5px,#ff00b1 626.5px,#907 627.5px,#990076 633.5px,#99006a 634.5px,#990060 722.5px,#990056 723.5px,#99004d 839.5px,#904 840.5px,#99003d 980.5px,#222 981.5px,#222 981.5px)"></i>
<i style="background:linear-gradient(90deg,#222 83.5px,#222 83.5px,#005e99 84.5px,#004599 283.5px,#005eff 284.5px,#7b3eff 408.5px,#ff1cff 531.5px,#ff0dd5 575.5px,#ff00b2 626.5px,#907 627.5px,#990076 634.5px,#99006b 635.5px,#990060 724.5px,#990056 725.5px,#99004d 841.5px,#904 842.5px,#99003d 979.5px,#222 980.5px,#222 980.5px)"></i>
<i style="background:linear-gradient(90deg,#222 84.5px,#222 84.5px,#005e99 85.5px,#049 284.5px,#015dff 285.5px,#7b3eff 409.5px,#ff1cff 532.5px,#ff0dd6 575.5px,#ff00b3 625.5px,#907 626.5px,#990076 636.5px,#99006a 637.5px,#990060 726.5px,#990056 727.5px,#99004d 843.5px,#904 844.5px,#99003d 978.5px,#222 979.5px,#222 979.5px)"></i>
<i style="background:linear-gradient(90deg,#222 84.5px,#222 84.5px,#005e99 85.5px,#049 284.5px,#015cff 285.5px,#7c3dff 410.5px,#ff1bff 533.5px,#ff0cd7 575.5px,#ff00b4 624.5px,#990078 625.5px,#990076 637.5px,#99006a 638.5px,#990060 727.5px,#990056 728.5px,#99004d 845.5px,#904 846.5px,#99003e 977.5px,#222 978.5px,#222 978.5px)"></i>
<i style="background:linear-gradient(90deg,#222 85.5px,#222 85.5px,#005d99 86.5px,#049 284.5px,#015cff 285.5px,#7b3cff 410.5px,#ff1aff 534.5px,#ff0cd8 575.5px,#ff00b6 623.5px,#990078 624.5px,#990076 638.5px,#99006b 639.5px,#990060 729.5px,#990056 730.5px,#99004d 847.5px,#904 848.5px,#99003e 976.5px,#222 978.5px,#222 978.5px)"></i>
<i style="background:linear-gradient(90deg,#222 85.5px,#222 85.5px,#005d99 86.5px,#004399 284.5px,#005bff 285.5px,#7b3cff 410.5px,#ff1aff 535.5px,#ff0cd8 575.5px,#ff00b7 622.5px,#990079 623.5px,#990076 639.5px,#99006b 640.5px,#990060 731.5px,#990056 732.5px,#99004d 849.5px,#904 850.5px,#99003e 975.5px,#222 977.5px,#222 977.5px)"></i>
<i style="background:linear-gradient(90deg,#222 85.5px,#222 85.5px,#005c99 87.5px,#004399 284.5px,#005bff 285.5px,#7a3bff 410.5px,#ff19ff 536.5px,#ff0cd9 575.5px,#ff00b9 621.5px,#990079 622.5px,#990076 641.5px,#99006a 642.5px,#990060 732.5px,#990056 733.5px,#99004d 851.5px,#904 852.5px,#99003e 974.5px,#222 976.5px,#222 976.5px)"></i>
<i style="background:linear-gradient(90deg,#222 86.5px,#222 86.5px,#005c99 87.5px,#004399 284.5px,#005aff 285.5px,#7a3bff 411.5px,#ff18ff 537.5px,#ff0bd9 576.5px,#ff00ba 620.5px,#990079 621.5px,#990076 642.5px,#99006b 643.5px,#990060 734.5px,#990056 735.5px,#99004d 853.5px,#904 854.5px,#99003e 973.5px,#222 975.5px,#222 975.5px)"></i>
<i style="background:linear-gradient(90deg,#222 86.5px,#222 86.5px,#005b99 88.5px,#004299 285.5px,#0159ff 286.5px,#7b3aff 412.5px,#ff18fe 538.5px,#ff0bda 576.5px,#f0b 619.5px,#99007a 620.5px,#990076 643.5px,#99006b 644.5px,#990060 735.5px,#990056 736.5px,#99004d 855.5px,#904 856.5px,#99003e 972.5px,#222 974.5px,#222 974.5px)"></i>
<i style="background:linear-gradient(90deg,#222 87.5px,#222 87.5px,#005b99 88.5px,#004299 285.5px,#0159ff 286.5px,#7a39ff 412.5px,#ff17fe 539.5px,#ff0bdb 576.5px,#ff00bd 618.5px,#99007a 619.5px,#990076 645.5px,#99006a 646.5px,#990060 737.5px,#990056 738.5px,#99004d 857.5px,#904 858.5px,#99003e 971.5px,#222 973.5px,#222 973.5px)"></i>
<i style="background:linear-gradient(90deg,#222 87.5px,#222 87.5px,#005b99 89.5px,#004299 285.5px,#0158ff 286.5px,#7a39ff 412.5px,#ff16fe 540.5px,#ff0bdc 576.5px,#ff00be 617.5px,#99007a 618.5px,#990076 646.5px,#99006a 647.5px,#990060 739.5px,#990056 740.5px,#99004d 859.5px,#904 860.5px,#99003f 970.5px,#222 972.5px,#222 972.5px)"></i>
<i style="background:linear-gradient(90deg,#222 88.5px,#222 88.5px,#005a99 89.5px,#004199 285.5px,#0058ff 286.5px,#7939ff 412.5px,#ff16fe 541.5px,#ff0add 576.5px,#ff00c0 616.5px,#99007b 617.5px,#990076 647.5px,#99006b 648.5px,#990060 740.5px,#990056 741.5px,#99004d 861.5px,#904 862.5px,#99003f 970.5px,#222 971.5px,#222 971.5px)"></i>
<i style="background:linear-gradient(90deg,#222 88.5px,#222 88.5px,#005a99 89.5px,#004199 285.5px,#0057ff 286.5px,#7a38ff 413.5px,#ff15fe 542.5px,#ff00c1 615.5px,#99007b 616.5px,#990076 649.5px,#99006a 650.5px,#990060 742.5px,#990056 743.5px,#99004d 863.5px,#904 864.5px,#99003f 969.5px,#222 970.5px,#222 970.5px)"></i>
<i style="background:linear-gradient(90deg,#222 89.5px,#222 89.5px,#005a99 90.5px,#004199 285.5px,#0057ff 286.5px,#7937ff 413.5px,#ff15fe 543.5px,#ff00c2 614.5px,#99007b 615.5px,#990076 650.5px,#99006a 651.5px,#990060 743.5px,#990056 744.5px,#99004d 865.5px,#904 866.5px,#99003f 968.5px,#222 969.5px,#222 969.5px)"></i>
<i style="background:linear-gradient(90deg,#222 89.5px,#222 89.5px,#005999 90.5px,#004099 285.5px,#0056ff 286.5px,#7937ff 413.5px,#ff14fe 544.5px,#ff00c4 613.5px,#99007c 614.5px,#990076 651.5px,#99006b 652.5px,#990060 745.5px,#990056 746.5px,#99004d 867.5px,#904 868.5px,#99003f 967.5px,#222 968.5px,#222 968.5px)"></i>
<i style="background:linear-gradient(90deg,#222 90.5px,#222 90.5px,#005999 91.5px,#004099 286.5px,#0155ff 287.5px,#7936ff 414.5px,#ff13fe 545.5px,#ff00c5 612.5px,#99007c 613.5px,#990076 653.5px,#99006a 654.5px,#990060 747.5px,#990056 748.5px,#99004d 869.5px,#904 870.5px,#99003f 966.5px,#222 967.5px,#222 967.5px)"></i>
<i style="background:linear-gradient(90deg,#222 90.5px,#222 90.5px,#005899 91.5px,#004099 286.5px,#0155ff 287.5px,#7836ff 414.5px,#ff13fe 546.5px,#ff00c7 611.5px,#99007c 612.5px,#990076 654.5px,#99006a 655.5px,#990060 748.5px,#990056 749.5px,#99004d 871.5px,#904 872.5px,#990040 965.5px,#222 966.5px,#222 966.5px)"></i>
<i style="background:linear-gradient(90deg,#222 91.5px,#222 91.5px,#005899 92.5px,#003f99 286.5px,#0054ff 287.5px,#7935ff 415.5px,#ff12fe 547.5px,#ff00c8 610.5px,#99007d 611.5px,#990076 655.5px,#99006b 656.5px,#990060 750.5px,#990056 751.5px,#99004d 873.5px,#904 874.5px,#990040 964.5px,#222 965.5px,#222 965.5px)"></i>
<i style="background:linear-gradient(90deg,#222 91.5px,#222 91.5px,#005899 92.5px,#003f99 286.5px,#0054ff 287.5px,#7835ff 415.5px,#ff11fe 548.5px,#ff00c9 610.5px,#99007d 611.5px,#990076 657.5px,#99006a 658.5px,#990060 751.5px,#990056 752.5px,#99004d 875.5px,#904 876.5px,#990040 963.5px,#222 964.5px,#222 964.5px)"></i>
<i style="background:linear-gradient(90deg,#222 92.5px,#222 92.5px,#005799 93.5px,#003f99 286.5px,#0053ff 287.5px,#7834ff 415.5px,#ff11fe 549.5px,#ff00cb 609.5px,#99007d 610.5px,#990076 658.5px,#99006a 659.5px,#990060 753.5px,#990056 754.5px,#99004d 877.5px,#904 878.5px,#990040 962.5px,#222 964.5px,#222 964.5px)"></i>
<i style="background:linear-gradient(90deg,#222 92.5px,#222 92.5px,#005799 93.5px,#003e99 286.5px,#0053ff 287.5px,#7834ff 416.5px,#ff10fe 550.5px,#f0c 608.5px,#99007e 609.5px,#990076 659.5px,#99006b 660.5px,#990060 755.5px,#990056 756.5px,#99004d 879.5px,#904 880.5px,#990040 961.5px,#222 963.5px,#222 963.5px)"></i>
<i style="background:linear-gradient(90deg,#222 92.5px,#222 92.5px,#005699 94.5px,#003e99 287.5px,#0152ff 288.5px,#7833ff 416.5px,#ff10fe 551.5px,#ff00ce 607.5px,#99007e 608.5px,#990076 660.5px,#99006b 661.5px,#990060 756.5px,#990056 757.5px,#99004d 881.5px,#904 882.5px,#990040 960.5px,#222 962.5px,#222 962.5px)"></i>
<i style="background:linear-gradient(90deg,#222 93.5px,#222 93.5px,#005699 94.5px,#003e99 287.5px,#0152ff 288.5px,#7833ff 417.5px,#ff0ffe 552.5px,#ff00cf 606.5px,#99007f 607.5px,#990076 662.5px,#99006a 663.5px,#990060 758.5px,#990056 759.5px,#99004d 883.5px,#904 884.5px,#990040 959.5px,#222 961.5px,#222 961.5px)"></i>
<i style="background:linear-gradient(90deg,#222 93.5px,#222 93.5px,#005699 95.5px,#003d99 287.5px,#0151ff 288.5px,#7d31ff 423.5px,#ff0fff 552.5px,#ff00d1 605.5px,#99007f 606.5px,#990076 663.5px,#99006b 664.5px,#990060 759.5px,#990056 760.5px,#99004d 885.5px,#904 886.5px,#990041 958.5px,#222 960.5px,#222 960.5px)"></i>
<i style="background:linear-gradient(90deg,#222 94.5px,#222 94.5px,#059 95.5px,#003d99 287.5px,#0051ff 288.5px,#7d30ff 423.5px,#ff0eff 553.5px,#ff00d2 604.5px,#99007f 605.5px,#990076 664.5px,#99006b 665.5px,#990060 761.5px,#990056 762.5px,#99004d 887.5px,#904 888.5px,#990041 957.5px,#222 959.5px,#222 959.5px)"></i>
<i style="background:linear-gradient(90deg,#222 94.5px,#222 94.5px,#059 96.5px,#003d99 287.5px,#0050ff 288.5px,#7d30ff 424.5px,#ff0eff 554.5px,#ff00d4 603.5px,#990080 604.5px,#990076 666.5px,#99006a 667.5px,#990060 763.5px,#990056 764.5px,#99004d 889.5px,#904 890.5px,#990041 956.5px,#222 958.5px,#222 958.5px)"></i>
<i style="background:linear-gradient(90deg,#222 95.5px,#222 95.5px,#005499 96.5px,#003c99 287.5px,#0050ff 288.5px,#7d2fff 424.5px,#ff0dff 555.5px,#ff00d5 602.5px,#990080 603.5px,#990076 667.5px,#99006a 668.5px,#990060 764.5px,#990056 765.5px,#99004d 891.5px,#904 892.5px,#990041 955.5px,#222 957.5px,#222 957.5px)"></i>
<i style="background:linear-gradient(90deg,#222 95.5px,#222 95.5px,#005499 97.5px,#003c99 288.5px,#014fff 289.5px,#7d2fff 425.5px,#ff0cff 556.5px,#ff00d7 601.5px,#990081 602.5px,#990076 668.5px,#99006b 669.5px,#990060 766.5px,#990056 767.5px,#99004d 893.5px,#904 894.5px,#990041 955.5px,#222 956.5px,#222 956.5px)"></i>
<i style="background:linear-gradient(90deg,#222 96.5px,#222 96.5px,#005499 97.5px,#003c99 288.5px,#014fff 289.5px,#7d2eff 425.5px,#ff0cff 557.5px,#ff00d9 600.5px,#990081 601.5px,#990076 670.5px,#99006a 671.5px,#990060 767.5px,#990056 768.5px,#99004d 895.5px,#904 896.5px,#990041 954.5px,#222 955.5px,#222 955.5px)"></i>
<i style="background:linear-gradient(90deg,#222 96.5px,#222 96.5px,#005399 98.5px,#003b99 288.5px,#014eff 289.5px,#7c2eff 425.5px,#ff0bff 558.5px,#ff00da 599.5px,#990081 600.5px,#990076 671.5px,#99006a 672.5px,#990060 769.5px,#990056 770.5px,#99004d 897.5px,#904 898.5px,#990041 953.5px,#222 954.5px,#222 954.5px)"></i>
<i style="background:linear-gradient(90deg,#222 97.5px,#222 97.5px,#005399 98.5px,#003b99 288.5px,#004eff 289.5px,#7b2dff 425.5px,#ff0bff 559.5px,#ff00dc 598.5px,#990082 599.5px,#990076 672.5px,#99006b 673.5px,#990060 771.5px,#990056 772.5px,#99004d 899.5px,#904 900.5px,#990042 952.5px,#222 953.5px,#222 953.5px)"></i>
<i style="background:linear-gradient(90deg,#222 97.5px,#222 97.5px,#005399 98.5px,#003b99 288.5px,#004dff 289.5px,#7c2dff 426.5px,#ff0aff 560.5px,#ff00de 597.5px,#990082 598.5px,#990076 674.5px,#99006a 675.5px,#990060 772.5px,#990056 773.5px,#99004d 901.5px,#904 902.5px,#990042 951.5px,#222 952.5px,#222 952.5px)"></i>
<i style="background:linear-gradient(90deg,#222 98.5px,#222 98.5px,#005299 99.5px,#003b99 288.5px,#004dff 289.5px,#7b2cff 426.5px,#ff0aff 561.5px,#ff00df 596.5px,#990083 597.5px,#990076 675.5px,#99006a 676.5px,#990060 774.5px,#990056 775.5px,#99004d 903.5px,#904 904.5px,#990042 950.5px,#222 951.5px,#222 951.5px)"></i>
<i style="background:linear-gradient(90deg,#222 98.5px,#222 98.5px,#005299 99.5px,#003a99 288.5px,#004cff 289.5px,#7b2cff 426.5px,#ff09ff 562.5px,#ff00e1 595.5px,#990091 596.5px,#990090 598.5px,#990082 599.5px,#990076 676.5px,#99006b 677.5px,#990060 775.5px,#990056 776.5px,#99004d 905.5px,#904 906.5px,#990042 949.5px,#222 950.5px,#222 950.5px)"></i>
<i style="background:linear-gradient(90deg,#222 99.5px,#222 99.5px,#005199 100.5px,#003a99 289.5px,#014bff 290.5px,#7b2bff 427.5px,#ff09ff 563.5px,#ff00e3 594.5px,#990091 595.5px,#990090 599.5px,#990082 600.5px,#990076 677.5px,#99006b 678.5px,#990060 777.5px,#990056 778.5px,#99004d 907.5px,#904 908.5px,#990042 948.5px,#222 949.5px,#222 949.5px)"></i>
<i style="background:linear-gradient(90deg,#222 99.5px,#222 99.5px,#005199 100.5px,#003a99 289.5px,#014bff 290.5px,#7b2bff 427.5px,#ff08ff 564.5px,#ff00e4 593.5px,#990092 594.5px,#990090 600.5px,#990082 601.5px,#990076 679.5px,#99006a 680.5px,#990060 779.5px,#990056 780.5px,#99004d 909.5px,#904 910.5px,#990042 947.5px,#222 949.5px,#222 949.5px)"></i>
<i style="background:linear-gradient(90deg,#222 100.5px,#222 100.5px,#005199 101.5px,#003999 289.5px,#004bff 290.5px,#7b2aff 428.5px,#ff07ff 565.5px,#ff00e5 593.5px,#990092 594.5px,#990090 601.5px,#990082 602.5px,#990076 680.5px,#99006b 681.5px,#990060 780.5px,#990056 781.5px,#99004d 911.5px,#904 912.5px,#990043 946.5px,#222 948.5px,#222 948.5px)"></i>
<i style="background:linear-gradient(90deg,#222 100.5px,#222 100.5px,#005099 101.5px,#003999 289.5px,#004aff 290.5px,#7b2aff 428.5px,#ff07ff 566.5px,#ff00e7 592.5px,#990092 593.5px,#990090 602.5px,#990082 603.5px,#990076 681.5px,#99006b 682.5px,#990060 782.5px,#990056 783.5px,#99004d 913.5px,#904 914.5px,#990043 945.5px,#222 947.5px,#222 947.5px)"></i>
<i style="background:linear-gradient(90deg,#222 101.5px,#222 101.5px,#005099 102.5px,#003999 289.5px,#004aff 290.5px,#7a2aff 428.5px,#ff06ff 567.5px,#ff00e8 591.5px,#990093 592.5px,#990090 603.5px,#990082 604.5px,#990076 683.5px,#99006a 684.5px,#990060 783.5px,#990056 784.5px,#99004d 915.5px,#904 916.5px,#990043 944.5px,#222 946.5px,#222 946.5px)"></i>
<i style="background:linear-gradient(90deg,#222 101.5px,#222 101.5px,#005099 102.5px,#003999 289.5px,#0049ff 290.5px,#7a29ff 429.5px,#ff06fe 568.5px,#ff00ea 590.5px,#990093 591.5px,#990090 604.5px,#990082 605.5px,#990076 684.5px,#99006a 685.5px,#990060 785.5px,#990056 786.5px,#99004d 917.5px,#904 918.5px,#990043 943.5px,#222 945.5px,#222 945.5px)"></i>
<i style="background:linear-gradient(90deg,#222 102.5px,#222 102.5px,#004f99 103.5px,#003899 290.5px,#0149ff 291.5px,#7a29ff 429.5px,#ff05fe 569.5px,#ff00ec 589.5px,#990093 590.5px,#990090 605.5px,#990082 606.5px,#990076 685.5px,#99006b 686.5px,#990060 787.5px,#990056 788.5px,#99004d 919.5px,#904 920.5px,#990043 942.5px,#222 944.5px,#222 944.5px)"></i>
<i style="background:linear-gradient(90deg,#222 102.5px,#222 102.5px,#004f99 103.5px,#003899 290.5px,#0148ff 291.5px,#7a28ff 430.5px,#ff05fe 570.5px,#f0e 588.5px,#990094 589.5px,#990090 606.5px,#990082 607.5px,#990076 687.5px,#99006a 688.5px,#990060 788.5px,#990056 789.5px,#99004d 921.5px,#904 922.5px,#990043 941.5px,#222 943.5px,#222 943.5px)"></i>
<i style="background:linear-gradient(90deg,#222 103.5px,#222 103.5px,#004f99 104.5px,#003899 290.5px,#0148ff 291.5px,#7a28ff 430.5px,#ff04fe 571.5px,#ff00ef 587.5px,#990094 588.5px,#990090 607.5px,#990082 608.5px,#990076 688.5px,#99006a 689.5px,#990060 790.5px,#990056 791.5px,#99004d 923.5px,#904 924.5px,#904 941.5px,#222 942.5px,#222 942.5px)"></i>
<i style="background:linear-gradient(90deg,#222 103.5px,#222 103.5px,#004e99 104.5px,#003799 290.5px,#0047ff 291.5px,#7927ff 430.5px,#ff04fe 572.5px,#ff00f1 586.5px,#990095 587.5px,#990090 608.5px,#990082 609.5px,#990076 689.5px,#99006b 690.5px,#990060 791.5px,#990056 792.5px,#99004d 925.5px,#904 926.5px,#904 940.5px,#222 941.5px,#222 941.5px)"></i>
<i style="background:linear-gradient(90deg,#222 104.5px,#222 104.5px,#004e99 105.5px,#003799 290.5px,#0047ff 291.5px,#7a27ff 431.5px,#ff03fe 573.5px,#ff00f3 585.5px,#990095 586.5px,#990090 609.5px,#990083 610.5px,#990076 691.5px,#99006a 692.5px,#990060 793.5px,#990056 794.5px,#99004d 927.5px,#904 928.5px,#904 939.5px,#222 940.5px,#222 940.5px)"></i>
<i style="background:linear-gradient(90deg,#222 104.5px,#222 104.5px,#004e99 105.5px,#003799 290.5px,#0046ff 291.5px,#7926ff 431.5px,#ff03fe 574.5px,#ff00f5 584.5px,#990096 585.5px,#990090 610.5px,#990083 611.5px,#990076 692.5px,#99006a 693.5px,#990060 795.5px,#990056 796.5px,#99004d 929.5px,#904 930.5px,#904 938.5px,#222 939.5px,#222 939.5px)"></i>
<i style="background:linear-gradient(90deg,#222 105.5px,#222 105.5px,#004d99 106.5px,#003699 290.5px,#0046ff 291.5px,#7926ff 431.5px,#ff02fe 575.5px,#ff00f7 583.5px,#990096 584.5px,#990090 612.5px,#990082 613.5px,#990076 693.5px,#99006b 694.5px,#990060 796.5px,#990056 797.5px,#99004d 931.5px,#904 932.5px,#904 937.5px,#222 938.5px,#222 938.5px)"></i>
<i style="background:linear-gradient(90deg,#222 105.5px,#222 105.5px,#004d99 106.5px,#003699 291.5px,#0145ff 292.5px,#7925ff 432.5px,#ff02fe 576.5px,#ff00f9 582.5px,#990096 583.5px,#990090 613.5px,#990082 614.5px,#990076 694.5px,#99006b 695.5px,#990060 798.5px,#990056 799.5px,#99004d 933.5px,#904 934.5px,#904 936.5px,#222 937.5px,#222 937.5px)"></i>
<i style="background:linear-gradient(90deg,#222 106.5px,#222 106.5px,#004d99 107.5px,#003699 291.5px,#0145ff 292.5px,#7925ff 432.5px,#ff01fe 577.5px,#ff00fa 581.5px,#990097 582.5px,#990090 614.5px,#990082 615.5px,#990076 696.5px,#99006a 697.5px,#990060 799.5px,#990056 800.5px,#99004d 935.5px,#222 936.5px,#222 936.5px)"></i>
<i style="background:linear-gradient(90deg,#222 106.5px,#222 106.5px,#004c99 107.5px,#003699 291.5px,#04f 292.5px,#7924ff 433.5px,#ff01fe 578.5px,#ff00fc 580.5px,#990097 581.5px,#990090 615.5px,#990082 616.5px,#990076 697.5px,#99006b 698.5px,#990060 801.5px,#990056 802.5px,#99004d 934.5px,#222 935.5px,#222 935.5px)"></i>
<i style="background:linear-gradient(90deg,#222 107.5px,#222 107.5px,#004c99 108.5px,#003599 291.5px,#04f 292.5px,#7924ff 433.5px,#ff00fe 579.5px,#990098 580.5px,#990090 616.5px,#990082 617.5px,#990076 698.5px,#99006b 699.5px,#990060 803.5px,#990056 804.5px,#99004d 933.5px,#222 935.5px,#222 935.5px)"></i>
<i style="background:linear-gradient(90deg,#222 107.5px,#222 107.5px,#004c99 108.5px,#003599 291.5px,#04f 292.5px,#7c23ff 438.5px,#fe00ff 578.5px,#990098 579.5px,#990090 617.5px,#990082 618.5px,#990076 700.5px,#99006a 701.5px,#990060 804.5px,#990056 805.5px,#99004e 932.5px,#222 934.5px,#222 934.5px)"></i>
<i style="background:linear-gradient(90deg,#222 108.5px,#222 108.5px,#004b99 109.5px,#003599 291.5px,#0043ff 292.5px,#7b23ff 437.5px,#fc00ff 577.5px,#990098 578.5px,#990090 618.5px,#990082 619.5px,#990076 701.5px,#99006b 702.5px,#990060 806.5px,#990056 807.5px,#99004e 931.5px,#222 933.5px,#222 933.5px)"></i>
<i style="background:linear-gradient(90deg,#222 108.5px,#222 108.5px,#004b99 109.5px,#003499 292.5px,#0143ff 293.5px,#7b22ff 438.5px,#fb00ff 577.5px,#980098 578.5px,#990090 619.5px,#990082 620.5px,#990076 702.5px,#99006b 703.5px,#990060 807.5px,#990056 808.5px,#99004e 930.5px,#222 932.5px,#222 932.5px)"></i>
<i style="background:linear-gradient(90deg,#222 109.5px,#222 109.5px,#004a99 110.5px,#003499 292.5px,#0142ff 293.5px,#7a22ff 437.5px,#f900ff 576.5px,#980098 577.5px,#990090 620.5px,#990082 621.5px,#990076 704.5px,#99006a 705.5px,#990060 809.5px,#990056 810.5px,#99004e 929.5px,#222 931.5px,#222 931.5px)"></i>
<i style="background:linear-gradient(90deg,#222 109.5px,#222 109.5px,#004a99 110.5px,#003499 292.5px,#0142ff 293.5px,#7a22ff 437.5px,#f700ff 575.5px,#970098 576.5px,#990090 621.5px,#990082 622.5px,#990076 705.5px,#99006a 706.5px,#990060 811.5px,#990056 812.5px,#99004e 928.5px,#222 930.5px,#222 930.5px)"></i>
<i style="background:linear-gradient(90deg,#222 110.5px,#222 110.5px,#004a99 111.5px,#003499 292.5px,#0041ff 293.5px,#7821ff 436.5px,#f600ff 574.5px,#970098 575.5px,#990090 622.5px,#990082 623.5px,#990076 706.5px,#99006b 707.5px,#990060 812.5px,#990056 813.5px,#99004e 927.5px,#222 929.5px,#222 929.5px)"></i>
<i style="background:linear-gradient(90deg,#222 110.5px,#222 110.5px,#004a99 111.5px,#039 292.5px,#0041ff 293.5px,#7821ff 436.5px,#f400ff 573.5px,#970098 574.5px,#990090 623.5px,#990083 624.5px,#990076 708.5px,#99006a 709.5px,#990060 814.5px,#990056 815.5px,#99004f 926.5px,#222 928.5px,#222 928.5px)"></i>
<i style="background:linear-gradient(90deg,#222 111.5px,#222 111.5px,#004999 112.5px,#039 292.5px,#0041ff 293.5px,#7621ff 435.5px,#f200ff 572.5px,#960098 573.5px,#990090 624.5px,#990083 625.5px,#990076 709.5px,#99006a 710.5px,#990060 816.5px,#990056 817.5px,#99004f 926.5px,#222 927.5px,#222 927.5px)"></i>
<i style="background:linear-gradient(90deg,#222 111.5px,#222 111.5px,#004999 112.5px,#039 293.5px,#0140ff 294.5px,#7621ff 435.5px,#f000ff 571.5px,#960098 572.5px,#990090 625.5px,#990083 626.5px,#990076 710.5px,#99006b 711.5px,#990060 817.5px,#990056 818.5px,#99004f 925.5px,#222 926.5px,#222 926.5px)"></i>
<i style="background:linear-gradient(90deg,#222 112.5px,#222 112.5px,#004899 113.5px,#003299 293.5px,#0140ff 294.5px,#7520ff 435.5px,#e0f 570.5px,#950098 571.5px,#990090 627.5px,#990082 628.5px,#990076 711.5px,#99006b 712.5px,#990060 819.5px,#990056 820.5px,#99004f 924.5px,#222 925.5px,#222 925.5px)"></i>
<i style="background:linear-gradient(90deg,#222 112.5px,#222 112.5px,#004899 114.5px,#003299 293.5px,#013fff 294.5px,#7420ff 434.5px,#ed00ff 569.5px,#950098 570.5px,#990090 628.5px,#990082 629.5px,#990076 713.5px,#99006a 714.5px,#990060 820.5px,#990056 821.5px,#99004f 923.5px,#222 924.5px,#222 924.5px)"></i>
<i style="background:linear-gradient(90deg,#222 113.5px,#222 113.5px,#004899 114.5px,#003299 293.5px,#003fff 294.5px,#7420ff 434.5px,#eb00ff 568.5px,#940098 569.5px,#990090 629.5px,#990082 630.5px,#990076 714.5px,#99006b 715.5px,#990060 822.5px,#990056 823.5px,#99004f 922.5px,#222 923.5px,#222 923.5px)"></i>
<i style="background:linear-gradient(90deg,#222 113.5px,#222 113.5px,#004799 115.5px,#003299 293.5px,#003eff 294.5px,#7220ff 433.5px,#e900ff 567.5px,#940098 568.5px,#990090 630.5px,#990082 631.5px,#990076 715.5px,#99006b 716.5px,#990060 824.5px,#990056 825.5px,#990050 921.5px,#222 922.5px,#222 922.5px)"></i>
<i style="background:linear-gradient(90deg,#222 114.5px,#222 114.5px,#004799 115.5px,#003199 293.5px,#003eff 294.5px,#7220ff 433.5px,#e700ff 566.5px,#930098 567.5px,#990090 631.5px,#990082 632.5px,#990076 717.5px,#99006a 718.5px,#990060 825.5px,#990056 826.5px,#990050 920.5px,#222 921.5px,#222 921.5px)"></i>
<i style="background:linear-gradient(90deg,#222 114.5px,#222 114.5px,#004799 116.5px,#003199 293.5px,#003eff 294.5px,#711fff 432.5px,#e600ff 565.5px,#930098 566.5px,#990090 632.5px,#990082 633.5px,#990076 718.5px,#99006b 719.5px,#990060 827.5px,#990056 828.5px,#990050 919.5px,#222 920.5px,#222 920.5px)"></i>
<i style="background:linear-gradient(90deg,#222 115.5px,#222 115.5px,#004799 116.5px,#003199 294.5px,#013dff 295.5px,#701fff 432.5px,#e400ff 564.5px,#930098 565.5px,#990090 633.5px,#990082 634.5px,#990076 719.5px,#99006b 720.5px,#990060 828.5px,#990056 829.5px,#990050 918.5px,#222 920.5px,#222 920.5px)"></i>
<i style="background:linear-gradient(90deg,#222 115.5px,#222 115.5px,#004699 117.5px,#003199 294.5px,#013dff 295.5px,#6f1fff 431.5px,#e200ff 563.5px,#850099 564.5px,#920098 565.5px,#990090 634.5px,#990082 635.5px,#990076 721.5px,#99006a 722.5px,#990060 830.5px,#990056 831.5px,#990050 917.5px,#222 919.5px,#222 919.5px)"></i>
<i style="background:linear-gradient(90deg,#222 116.5px,#222 116.5px,#004699 117.5px,#003099 294.5px,#003cff 295.5px,#6e1fff 431.5px,#e000ff 562.5px,#840099 563.5px,#850099 565.5px,#920098 566.5px,#990098 596.5px,#990090 635.5px,#990082 636.5px,#990076 722.5px,#99006a 723.5px,#990060 832.5px,#990056 833.5px,#990050 916.5px,#222 918.5px,#222 918.5px)"></i>
<i style="background:linear-gradient(90deg,#222 116.5px,#222 116.5px,#004599 118.5px,#003099 294.5px,#003cff 295.5px,#6d1fff 430.5px,#df00ff 561.5px,#840099 562.5px,#850099 566.5px,#920098 567.5px,#990098 597.5px,#990090 636.5px,#990082 637.5px,#990076 723.5px,#99006b 724.5px,#990060 833.5px,#990056 834.5px,#990051 915.5px,#222 917.5px,#222 917.5px)"></i>
<i style="background:linear-gradient(90deg,#222 117.5px,#222 117.5px,#004599 118.5px,#003099 294.5px,#003bff 295.5px,#6d1eff 430.5px,#d0f 560.5px,#840099 561.5px,#850099 567.5px,#930098 568.5px,#990098 598.5px,#990090 637.5px,#990083 638.5px,#990076 725.5px,#99006a 726.5px,#990060 835.5px,#990056 836.5px,#990051 914.5px,#222 916.5px,#222 916.5px)"></i>
<i style="background:linear-gradient(90deg,#222 117.5px,#222 117.5px,#004599 119.5px,#003099 294.5px,#003bff 295.5px,#dc00ff 560.5px,#830099 561.5px,#850099 567.5px,#920098 568.5px,#990098 599.5px,#990090 638.5px,#990083 639.5px,#990076 726.5px,#99006a 727.5px,#990060 836.5px,#990056 837.5px,#990051 913.5px,#222 915.5px,#222 915.5px)"></i>
<i style="background:linear-gradient(90deg,#222 118.5px,#222 118.5px,#004599 119.5px,#002f99 295.5px,#013bff 296.5px,#db00ff 559.5px,#830099 560.5px,#850099 568.5px,#920098 569.5px,#990098 600.5px,#990090 639.5px,#990083 640.5px,#990076 727.5px,#99006b 728.5px,#990060 838.5px,#990056 839.5px,#990051 912.5px,#222 914.5px,#222 914.5px)"></i>
<i style="background:linear-gradient(90deg,#222 119.5px,#222 119.5px,#049 120.5px,#002f99 295.5px,#013aff 296.5px,#d900ff 558.5px,#830099 559.5px,#850099 569.5px,#920098 570.5px,#990098 601.5px,#990090 641.5px,#990082 642.5px,#990076 728.5px,#99006b 729.5px,#990060 840.5px,#990056 841.5px,#990051 912.5px,#222 913.5px,#222 913.5px)"></i>
<i style="background:linear-gradient(90deg,#222 119.5px,#222 119.5px,#049 120.5px,#002f99 295.5px,#013aff 296.5px,#d700ff 557.5px,#820099 558.5px,#850099 570.5px,#920098 571.5px,#990098 602.5px,#990090 642.5px,#990082 643.5px,#990076 730.5px,#99006a 731.5px,#990060 841.5px,#990056 842.5px,#990051 911.5px,#222 912.5px,#222 912.5px)"></i>
<i style="background:linear-gradient(90deg,#222 120.5px,#222 120.5px,#049 121.5px,#002f99 295.5px,#0039ff 296.5px,#d600ff 556.5px,#820099 557.5px,#850099 571.5px,#920098 572.5px,#990098 603.5px,#990090 643.5px,#990082 644.5px,#990076 731.5px,#99006b 732.5px,#990060 843.5px,#990056 844.5px,#990052 910.5px,#222 911.5px,#222 911.5px)"></i>
<i style="background:linear-gradient(90deg,#222 120.5px,#222 120.5px,#004399 121.5px,#002e99 295.5px,#0039ff 296.5px,#d400ff 555.5px,#810099 556.5px,#850099 572.5px,#920098 573.5px,#990098 603.5px,#990090 644.5px,#990082 645.5px,#990076 732.5px,#99006b 733.5px,#990060 844.5px,#990056 845.5px,#990052 909.5px,#222 910.5px,#222 910.5px)"></i>
<i style="background:linear-gradient(90deg,#222 121.5px,#222 121.5px,#004399 122.5px,#002e99 295.5px,#0039ff 296.5px,#d200ff 554.5px,#810099 555.5px,#850099 573.5px,#920098 574.5px,#990098 604.5px,#990090 645.5px,#990082 646.5px,#990076 734.5px,#99006a 735.5px,#990060 846.5px,#990056 847.5px,#990052 908.5px,#222 909.5px,#222 909.5px)"></i>
<i style="background:linear-gradient(90deg,#222 121.5px,#222 121.5px,#004399 122.5px,#002e99 295.5px,#0038ff 296.5px,#d100ff 553.5px,#810099 554.5px,#850099 574.5px,#920098 575.5px,#990098 605.5px,#990090 646.5px,#990082 647.5px,#990076 735.5px,#99006b 736.5px,#990060 848.5px,#990056 849.5px,#990052 907.5px,#222 908.5px,#222 908.5px)"></i>
<i style="background:linear-gradient(90deg,#222 122.5px,#222 122.5px,#004299 123.5px,#002d99 296.5px,#0138ff 297.5px,#cf00ff 552.5px,#800099 553.5px,#850099 574.5px,#920098 575.5px,#990098 606.5px,#990090 647.5px,#990082 648.5px,#990076 736.5px,#99006b 737.5px,#990060 849.5px,#990056 850.5px,#990052 906.5px,#222 907.5px,#222 907.5px)"></i>
<i style="background:linear-gradient(90deg,#222 122.5px,#222 122.5px,#004299 123.5px,#002d99 296.5px,#0137ff 297.5px,#ce00ff 551.5px,#800099 552.5px,#850099 575.5px,#920098 576.5px,#990098 607.5px,#990090 648.5px,#990082 649.5px,#990076 738.5px,#99006a 739.5px,#990060 851.5px,#990056 852.5px,#990052 905.5px,#222 906.5px,#222 906.5px)"></i>
<i style="background:linear-gradient(90deg,#222 123.5px,#222 123.5px,#004299 124.5px,#002d99 296.5px,#0037ff 297.5px,#c0f 550.5px,#7f0099 551.5px,#850099 576.5px,#920098 577.5px,#990098 608.5px,#990090 649.5px,#990082 650.5px,#990076 739.5px,#99006b 740.5px,#990060 852.5px,#990056 853.5px,#990053 904.5px,#222 906.5px,#222 906.5px)"></i>
<i style="background:linear-gradient(90deg,#222 123.5px,#222 123.5px,#004199 125.5px,#002d99 296.5px,#0037ff 297.5px,#cb00ff 549.5px,#7f0099 550.5px,#850099 577.5px,#920098 578.5px,#990098 609.5px,#990090 650.5px,#990082 651.5px,#990076 740.5px,#99006b 741.5px,#990060 854.5px,#990056 855.5px,#990053 903.5px,#222 905.5px,#222 905.5px)"></i>
<i style="background:linear-gradient(90deg,#222 124.5px,#222 124.5px,#004199 125.5px,#002d99 296.5px,#0036ff 297.5px,#c900ff 548.5px,#7f0099 549.5px,#850099 578.5px,#920098 579.5px,#990098 610.5px,#990090 651.5px,#990083 652.5px,#990076 742.5px,#99006a 743.5px,#990060 856.5px,#990056 857.5px,#990053 902.5px,#222 904.5px,#222 904.5px)"></i>
<i style="background:linear-gradient(90deg,#222 124.5px,#222 124.5px,#004199 126.5px,#002c99 296.5px,#0036ff 297.5px,#c700ff 547.5px,#7e0099 548.5px,#850099 579.5px,#920098 580.5px,#990098 611.5px,#990090 652.5px,#990083 653.5px,#990076 743.5px,#99006a 744.5px,#990060 857.5px,#990056 858.5px,#990053 901.5px,#222 903.5px,#222 903.5px)"></i>
<i style="background:linear-gradient(90deg,#222 125.5px,#222 125.5px,#004199 126.5px,#002c99 297.5px,#0135ff 298.5px,#c600ff 546.5px,#7e0099 547.5px,#850099 580.5px,#920098 581.5px,#990098 612.5px,#990090 653.5px,#990083 654.5px,#990076 744.5px,#99006b 745.5px,#990060 859.5px,#990056 860.5px,#990053 900.5px,#222 902.5px,#222 902.5px)"></i>
<i style="background:linear-gradient(90deg,#222 125.5px,#222 125.5px,#004099 127.5px,#002c99 297.5px,#0135ff 298.5px,#c400ff 545.5px,#7d0099 546.5px,#850099 581.5px,#920098 582.5px,#990098 613.5px,#990090 655.5px,#990082 656.5px,#990076 745.5px,#99006b 746.5px,#990060 860.5px,#990056 861.5px,#990053 899.5px,#222 901.5px,#222 901.5px)"></i>
<i style="background:linear-gradient(90deg,#222 126.5px,#222 126.5px,#004099 127.5px,#002c99 297.5px,#0035ff 298.5px,#c300ff 544.5px,#7d0099 545.5px,#850099 582.5px,#920098 583.5px,#990098 614.5px,#990090 656.5px,#990082 657.5px,#990076 747.5px,#99006a 748.5px,#990060 862.5px,#990056 863.5px,#990054 898.5px,#222 900.5px,#222 900.5px)"></i>
<i style="background:linear-gradient(90deg,#222 127.5px,#222 127.5px,#004099 128.5px,#002b99 297.5px,#0034ff 298.5px,#c200ff 544.5px,#7d0099 545.5px,#850099 582.5px,#920098 583.5px,#990098 615.5px,#990090 657.5px,#990082 658.5px,#990076 748.5px,#99006b 749.5px,#990060 864.5px,#990056 865.5px,#990054 897.5px,#222 899.5px,#222 899.5px)"></i>
<i style="background:linear-gradient(90deg,#222 127.5px,#222 127.5px,#003f99 128.5px,#002b99 297.5px,#0034ff 298.5px,#c100ff 543.5px,#7c0099 544.5px,#850099 583.5px,#920098 584.5px,#990098 616.5px,#990090 658.5px,#990082 659.5px,#990076 749.5px,#99006b 750.5px,#990060 865.5px,#990056 866.5px,#990054 897.5px,#222 898.5px,#222 898.5px)"></i>
<i style="background:linear-gradient(90deg,#222 128.5px,#222 128.5px,#003f99 129.5px,#002b99 297.5px,#0034ff 298.5px,#bf00ff 542.5px,#7c0099 543.5px,#850099 584.5px,#920098 585.5px,#990098 617.5px,#990090 659.5px,#990082 660.5px,#990076 751.5px,#99006a 752.5px,#990060 867.5px,#990056 868.5px,#990054 896.5px,#222 897.5px,#222 897.5px)"></i>
<i style="background:linear-gradient(90deg,#222 128.5px,#222 128.5px,#003f99 129.5px,#002b99 297.5px,#03f 298.5px,#be00ff 541.5px,#7c0099 542.5px,#850099 585.5px,#920098 586.5px,#990098 618.5px,#990090 660.5px,#990082 661.5px,#990076 752.5px,#99006b 753.5px,#990060 868.5px,#990056 869.5px,#990054 895.5px,#222 896.5px,#222 896.5px)"></i>
<i style="background:linear-gradient(90deg,#222 129.5px,#222 129.5px,#003e99 130.5px,#002a99 298.5px,#0133ff 299.5px,#bc00ff 540.5px,#7b0099 541.5px,#850099 586.5px,#920098 587.5px,#990098 619.5px,#990090 661.5px,#990082 662.5px,#990076 753.5px,#99006b 754.5px,#990060 870.5px,#990056 871.5px,#905 894.5px,#222 895.5px,#222 895.5px)"></i>
<i style="background:linear-gradient(90deg,#222 129.5px,#222 129.5px,#003e99 130.5px,#002a99 298.5px,#0133ff 299.5px,#b0f 539.5px,#7b0099 540.5px,#850099 587.5px,#920098 588.5px,#990098 620.5px,#990090 662.5px,#990082 663.5px,#990076 755.5px,#99006a 756.5px,#990060 872.5px,#990056 873.5px,#905 893.5px,#222 894.5px,#222 894.5px)"></i>
<i style="background:linear-gradient(90deg,#222 130.5px,#222 130.5px,#003e99 131.5px,#002a99 298.5px,#0032ff 299.5px,#b900ff 538.5px,#7b0099 539.5px,#850099 588.5px,#920098 589.5px,#990098 621.5px,#990090 663.5px,#990082 664.5px,#990076 756.5px,#99006b 757.5px,#990060 873.5px,#990056 874.5px,#905 892.5px,#222 893.5px,#222 893.5px)"></i>
<i style="background:linear-gradient(90deg,#222 130.5px,#222 130.5px,#003d99 132.5px,#002a99 298.5px,#0032ff 299.5px,#b800ff 537.5px,#7a0099 538.5px,#850099 589.5px,#920098 590.5px,#990098 622.5px,#990090 664.5px,#990082 665.5px,#990076 757.5px,#99006b 758.5px,#990060 875.5px,#990056 876.5px,#905 891.5px,#222 892.5px,#222 892.5px)"></i>
<i style="background:linear-gradient(90deg,#222 131.5px,#222 131.5px,#003d99 132.5px,#002999 298.5px,#0032ff 299.5px,#b700ff 536.5px,#7a0099 537.5px,#850099 590.5px,#920098 591.5px,#990098 623.5px,#990090 665.5px,#990083 666.5px,#990076 759.5px,#99006a 760.5px,#990060 876.5px,#990056 877.5px,#905 890.5px,#222 891.5px,#222 891.5px)"></i>
<i style="background:linear-gradient(90deg,#222 131.5px,#222 131.5px,#003d99 133.5px,#002999 298.5px,#0031ff 299.5px,#b500ff 535.5px,#7a0099 536.5px,#850099 590.5px,#920098 591.5px,#990098 624.5px,#990090 666.5px,#990083 667.5px,#990076 760.5px,#99006a 761.5px,#990060 878.5px,#990056 879.5px,#905 889.5px,#222 891.5px,#222 891.5px)"></i>
<i style="background:linear-gradient(90deg,#222 132.5px,#222 132.5px,#003d99 133.5px,#002999 299.5px,#0131ff 300.5px,#b400ff 534.5px,#790099 535.5px,#850099 591.5px,#920098 592.5px,#990098 625.5px,#990090 667.5px,#990083 668.5px,#990076 761.5px,#99006b 762.5px,#990060 880.5px,#990056 881.5px,#990056 888.5px,#222 890.5px,#222 890.5px)"></i>
<i style="background:linear-gradient(90deg,#222 132.5px,#222 132.5px,#003c99 134.5px,#002999 299.5px,#0130ff 300.5px,#b200ff 533.5px,#790099 534.5px,#850099 592.5px,#920098 593.5px,#990098 626.5px,#990090 668.5px,#990083 669.5px,#990076 763.5px,#99006a 764.5px,#990060 881.5px,#990056 882.5px,#990056 887.5px,#222 889.5px,#222 889.5px)"></i>
<i style="background:linear-gradient(90deg,#222 133.5px,#222 133.5px,#003c99 134.5px,#002899 299.5px,#0030ff 300.5px,#b100ff 532.5px,#780099 533.5px,#850099 593.5px,#920098 594.5px,#990098 627.5px,#990090 670.5px,#990082 671.5px,#990076 764.5px,#99006a 765.5px,#990060 883.5px,#990056 884.5px,#990056 886.5px,#222 888.5px,#222 888.5px)"></i>
<i style="background:linear-gradient(90deg,#222 134.5px,#222 134.5px,#003c99 135.5px,#002899 299.5px,#0030ff 300.5px,#af00ff 531.5px,#780099 532.5px,#850099 594.5px,#920098 595.5px,#990098 627.5px,#990090 671.5px,#990082 672.5px,#990076 765.5px,#99006b 766.5px,#990060 884.5px,#990056 885.5px,#222 887.5px,#222 887.5px)"></i>
<i style="background:linear-gradient(90deg,#222 134.5px,#222 134.5px,#003c99 135.5px,#002899 299.5px,#0030ff 300.5px,#ae00ff 530.5px,#6c0099 531.5px,#780099 532.5px,#850099 595.5px,#920098 596.5px,#990098 628.5px,#990090 672.5px,#990082 673.5px,#990076 766.5px,#99006b 767.5px,#990060 884.5px,#222 886.5px,#222 886.5px)"></i>
<i style="background:linear-gradient(90deg,#222 135.5px,#222 135.5px,#003b99 136.5px,#002899 299.5px,#002fff 300.5px,#ad00ff 529.5px,#6b0099 530.5px,#6c0099 532.5px,#780099 533.5px,#850099 596.5px,#920098 597.5px,#990098 629.5px,#990090 673.5px,#990082 674.5px,#990076 768.5px,#99006a 769.5px,#990060 883.5px,#222 885.5px,#222 885.5px)"></i>
<i style="background:linear-gradient(90deg,#222 135.5px,#222 135.5px,#003b99 136.5px,#002799 300.5px,#012fff 301.5px,#ab00ff 528.5px,#6b0099 529.5px,#6c0099 533.5px,#780099 534.5px,#850099 597.5px,#920098 598.5px,#990098 630.5px,#990090 674.5px,#990082 675.5px,#990076 769.5px,#99006b 770.5px,#990060 883.5px,#222 884.5px,#222 884.5px)"></i>
<i style="background:linear-gradient(90deg,#222 136.5px,#222 136.5px,#003b99 137.5px,#002799 300.5px,#012eff 301.5px,#a0f 527.5px,#6b0099 528.5px,#6c0099 533.5px,#780099 534.5px,#850099 598.5px,#920098 599.5px,#990098 631.5px,#990090 675.5px,#990082 676.5px,#990076 770.5px,#99006b 771.5px,#990061 882.5px,#222 883.5px,#222 883.5px)"></i>
<i style="background:linear-gradient(90deg,#222 136.5px,#222 136.5px,#003a99 138.5px,#002799 300.5px,#002eff 301.5px,#a900ff 527.5px,#6a0099 528.5px,#6c0099 534.5px,#780099 535.5px,#850099 598.5px,#920098 599.5px,#990098 632.5px,#990090 676.5px,#990082 677.5px,#990076 772.5px,#99006a 773.5px,#990061 881.5px,#222 882.5px,#222 882.5px)"></i>
<i style="background:linear-gradient(90deg,#222 137.5px,#222 137.5px,#003a99 138.5px,#002799 300.5px,#002eff 301.5px,#a800ff 526.5px,#6a0099 527.5px,#6c0099 535.5px,#780099 536.5px,#850099 599.5px,#920098 600.5px,#990098 633.5px,#990090 677.5px,#990082 678.5px,#990076 773.5px,#99006b 774.5px,#990061 880.5px,#222 881.5px,#222 881.5px)"></i>
<i style="background:linear-gradient(90deg,#222 137.5px,#222 137.5px,#003a99 139.5px,#002799 300.5px,#002dff 301.5px,#a700ff 525.5px,#6a0099 526.5px,#6c0099 536.5px,#780099 537.5px,#850099 600.5px,#920098 601.5px,#990098 634.5px,#990090 678.5px,#990082 679.5px,#990076 774.5px,#99006b 775.5px,#990061 879.5px,#222 880.5px,#222 880.5px)"></i>
<i style="background:linear-gradient(90deg,#222 138.5px,#222 138.5px,#003a99 139.5px,#002699 300.5px,#002dff 301.5px,#a500ff 524.5px,#690099 525.5px,#6c0099 536.5px,#780099 537.5px,#850099 601.5px,#920098 602.5px,#990098 635.5px,#990090 679.5px,#990082 680.5px,#990076 776.5px,#99006a 777.5px,#990061 878.5px,#222 879.5px,#222 879.5px)"></i>
<i style="background:linear-gradient(90deg,#222 139.5px,#222 139.5px,#003999 140.5px,#002699 300.5px,#002dff 301.5px,#a400ff 523.5px,#690099 524.5px,#6c0099 537.5px,#780099 538.5px,#850099 602.5px,#920098 603.5px,#990098 636.5px,#990090 680.5px,#990083 681.5px,#990076 777.5px,#99006b 778.5px,#990062 877.5px,#222 878.5px,#222 878.5px)"></i>
<i style="background:linear-gradient(90deg,#222 139.5px,#222 139.5px,#003999 140.5px,#002699 301.5px,#012cff 302.5px,#a300ff 522.5px,#690099 523.5px,#6c0099 538.5px,#780099 539.5px,#850099 603.5px,#920098 604.5px,#990098 637.5px,#990090 681.5px,#990083 682.5px,#990076 778.5px,#99006b 779.5px,#990062 876.5px,#222 877.5px,#222 877.5px)"></i>
<i style="background:linear-gradient(90deg,#222 140.5px,#222 140.5px,#003999 141.5px,#002699 301.5px,#012cff 302.5px,#a100ff 521.5px,#680099 522.5px,#6c0099 539.5px,#780099 540.5px,#850099 604.5px,#920098 605.5px,#990098 638.5px,#990090 682.5px,#990083 683.5px,#990076 780.5px,#99006a 781.5px,#990062 875.5px,#222 877.5px,#222 877.5px)"></i>
<i style="background:linear-gradient(90deg,#222 140.5px,#222 140.5px,#003899 141.5px,#002699 301.5px,#002cff 302.5px,#a000ff 520.5px,#680099 521.5px,#6c0099 539.5px,#780099 540.5px,#850099 605.5px,#920098 606.5px,#990098 639.5px,#990090 684.5px,#990082 685.5px,#990076 781.5px,#99006a 782.5px,#990062 874.5px,#222 876.5px,#222 876.5px)"></i>
<i style="background:linear-gradient(90deg,#222 141.5px,#222 141.5px,#003899 142.5px,#002599 301.5px,#002cff 302.5px,#9f00ff 519.5px,#680099 520.5px,#6c0099 540.5px,#780099 541.5px,#850099 605.5px,#920098 606.5px,#990098 640.5px,#990090 685.5px,#990082 686.5px,#990076 782.5px,#99006b 783.5px,#990062 873.5px,#222 875.5px,#222 875.5px)"></i>
<i style="background:linear-gradient(90deg,#222 141.5px,#222 141.5px,#003899 143.5px,#002599 301.5px,#002bff 302.5px,#9e00ff 518.5px,#670099 519.5px,#6c0099 541.5px,#780099 542.5px,#850099 606.5px,#920098 607.5px,#990098 641.5px,#990090 686.5px,#990082 687.5px,#990076 783.5px,#99006b 784.5px,#990063 872.5px,#222 874.5px,#222 874.5px)"></i>
<i style="background:linear-gradient(90deg,#222 142.5px,#222 142.5px,#003899 143.5px,#002599 301.5px,#002bff 302.5px,#9c00ff 517.5px,#670099 518.5px,#6c0099 541.5px,#780099 542.5px,#850099 607.5px,#920098 608.5px,#990098 642.5px,#990090 687.5px,#990082 688.5px,#990076 785.5px,#99006a 786.5px,#990063 871.5px,#222 873.5px,#222 873.5px)"></i>
<i style="background:linear-gradient(90deg,#222 142.5px,#222 142.5px,#003799 144.5px,#002599 302.5px,#012aff 303.5px,#9b00ff 516.5px,#670099 517.5px,#6c0099 542.5px,#780099 543.5px,#850099 608.5px,#920098 609.5px,#990098 643.5px,#990090 688.5px,#990082 689.5px,#990076 786.5px,#99006b 787.5px,#990063 870.5px,#222 872.5px,#222 872.5px)"></i>
<i style="background:linear-gradient(90deg,#222 143.5px,#222 143.5px,#003799 144.5px,#002499 302.5px,#012aff 303.5px,#9a00ff 515.5px,#609 516.5px,#6c0099 543.5px,#780099 544.5px,#850099 609.5px,#920098 610.5px,#990098 644.5px,#990090 689.5px,#990082 690.5px,#990076 787.5px,#99006b 788.5px,#990063 869.5px,#222 871.5px,#222 871.5px)"></i>
<i style="background:linear-gradient(90deg,#222 144.5px,#222 144.5px,#003799 145.5px,#002499 302.5px,#002aff 303.5px,#9800ff 514.5px,#609 515.5px,#6c0099 544.5px,#780099 545.5px,#850099 610.5px,#920098 611.5px,#990098 645.5px,#990090 690.5px,#990082 691.5px,#990076 789.5px,#99006a 790.5px,#990063 868.5px,#222 870.5px,#222 870.5px)"></i>
<i style="background:linear-gradient(90deg,#222 144.5px,#222 144.5px,#003699 145.5px,#002499 302.5px,#002aff 303.5px,#9700ff 513.5px,#609 514.5px,#6c0099 544.5px,#780099 545.5px,#850099 611.5px,#920098 612.5px,#990098 646.5px,#990090 691.5px,#990082 692.5px,#990076 790.5px,#99006b 791.5px,#990064 868.5px,#222 869.5px,#222 869.5px)"></i>
<i style="background:linear-gradient(90deg,#222 145.5px,#222 145.5px,#003699 146.5px,#002499 302.5px,#0029ff 303.5px,#9600ff 512.5px,#650099 513.5px,#6c0099 545.5px,#780099 546.5px,#850099 612.5px,#920098 613.5px,#990098 647.5px,#990090 692.5px,#990082 693.5px,#990076 791.5px,#99006b 792.5px,#990064 867.5px,#222 868.5px,#222 868.5px)"></i>
<i style="background:linear-gradient(90deg,#222 145.5px,#222 145.5px,#003699 146.5px,#002499 302.5px,#0029ff 303.5px,#9500ff 511.5px,#650099 512.5px,#6c0099 546.5px,#780099 547.5px,#850099 613.5px,#920098 614.5px,#990098 647.5px,#990090 693.5px,#990082 694.5px,#990076 793.5px,#99006a 794.5px,#990064 866.5px,#222 867.5px,#222 867.5px)"></i>
<i style="background:linear-gradient(90deg,#222 146.5px,#222 146.5px,#003699 147.5px,#002399 302.5px,#0029ff 303.5px,#9400ff 511.5px,#650099 512.5px,#6c0099 547.5px,#780099 548.5px,#850099 613.5px,#920098 614.5px,#990098 648.5px,#990090 694.5px,#990083 695.5px,#990076 794.5px,#99006b 795.5px,#990064 865.5px,#222 866.5px,#222 866.5px)"></i>
<i style="background:linear-gradient(90deg,#222 146.5px,#222 146.5px,#003599 148.5px,#002399 303.5px,#0128ff 304.5px,#9300ff 510.5px,#640099 511.5px,#6c0099 547.5px,#780099 548.5px,#850099 614.5px,#920098 615.5px,#990098 649.5px,#990090 695.5px,#990083 696.5px,#990076 795.5px,#99006b 796.5px,#990064 864.5px,#222 865.5px,#222 865.5px)"></i>
<i style="background:linear-gradient(90deg,#222 147.5px,#222 147.5px,#003599 148.5px,#002399 303.5px,#0028ff 304.5px,#9200ff 509.5px,#640099 510.5px,#6c0099 548.5px,#780099 549.5px,#850099 615.5px,#920098 616.5px,#990098 650.5px,#990090 696.5px,#990083 697.5px,#990076 797.5px,#99006a 798.5px,#990065 863.5px,#222 864.5px,#222 864.5px)"></i>
<i style="background:linear-gradient(90deg,#222 147.5px,#222 147.5px,#003599 149.5px,#002399 303.5px,#0028ff 304.5px,#9100ff 508.5px,#640099 509.5px,#6c0099 549.5px,#780099 550.5px,#850099 616.5px,#920098 617.5px,#990098 651.5px,#990090 698.5px,#990082 699.5px,#990076 798.5px,#99006a 799.5px,#990065 862.5px,#222 863.5px,#222 863.5px)"></i>
<i style="background:linear-gradient(90deg,#222 148.5px,#222 148.5px,#003599 149.5px,#029 303.5px,#0027ff 304.5px,#8f00ff 507.5px,#640099 508.5px,#6c0099 549.5px,#780099 550.5px,#850099 617.5px,#920098 618.5px,#990098 653.5px,#990090 699.5px,#990082 700.5px,#990076 799.5px,#99006b 800.5px,#990065 861.5px,#222 862.5px,#222 862.5px)"></i>
<i style="background:linear-gradient(90deg,#222 149.5px,#222 149.5px,#003499 150.5px,#029 303.5px,#0027ff 304.5px,#8e00ff 506.5px,#630099 507.5px,#6c0099 550.5px,#780099 551.5px,#850099 618.5px,#920098 619.5px,#990098 654.5px,#990090 700.5px,#990082 701.5px,#990076 800.5px,#99006b 801.5px,#990065 860.5px,#222 862.5px,#222 862.5px)"></i>
<i style="background:linear-gradient(90deg,#222 149.5px,#222 149.5px,#003499 150.5px,#029 303.5px,#0027ff 304.5px,#8d00ff 505.5px,#630099 506.5px,#6c0099 551.5px,#780099 552.5px,#850099 619.5px,#920098 620.5px,#990098 655.5px,#990090 701.5px,#990082 702.5px,#990076 802.5px,#99006a 803.5px,#990065 859.5px,#222 861.5px,#222 861.5px)"></i>
<i style="background:linear-gradient(90deg,#222 150.5px,#222 150.5px,#003499 151.5px,#029 304.5px,#0126ff 305.5px,#8c00ff 504.5px,#630099 505.5px,#6c0099 552.5px,#780099 553.5px,#850099 620.5px,#920098 621.5px,#990098 656.5px,#990090 702.5px,#990082 703.5px,#990076 803.5px,#99006b 804.5px,#906 858.5px,#222 860.5px,#222 860.5px)"></i>
<i style="background:linear-gradient(90deg,#222 150.5px,#222 150.5px,#039 152.5px,#029 304.5px,#0126ff 305.5px,#8b00ff 503.5px,#620099 504.5px,#6c0099 552.5px,#780099 553.5px,#850099 621.5px,#920098 622.5px,#990098 657.5px,#990090 703.5px,#990082 704.5px,#990076 804.5px,#99006b 805.5px,#906 857.5px,#222 859.5px,#222 859.5px)"></i>
<i style="background:linear-gradient(90deg,#222 151.5px,#222 151.5px,#039 152.5px,#002199 304.5px,#0026ff 305.5px,#8900ff 502.5px,#620099 503.5px,#6c0099 553.5px,#780099 554.5px,#850099 621.5px,#920098 622.5px,#990098 658.5px,#990090 704.5px,#990082 705.5px,#990076 806.5px,#99006a 807.5px,#906 856.5px,#222 858.5px,#222 858.5px)"></i>
<i style="background:linear-gradient(90deg,#222 151.5px,#222 151.5px,#039 153.5px,#002199 304.5px,#0026ff 305.5px,#80f 501.5px,#620099 502.5px,#6c0099 554.5px,#780099 555.5px,#850099 622.5px,#920098 623.5px,#990098 659.5px,#990090 705.5px,#990082 706.5px,#990076 807.5px,#99006b 808.5px,#906 855.5px,#222 857.5px,#222 857.5px)"></i>
<i style="background:linear-gradient(90deg,#222 152.5px,#222 152.5px,#039 153.5px,#002199 304.5px,#0025ff 305.5px,#8700ff 500.5px,#610099 501.5px,#6c0099 555.5px,#780099 556.5px,#850099 623.5px,#920098 624.5px,#990098 660.5px,#990090 706.5px,#990082 707.5px,#990076 808.5px,#99006b 809.5px,#906 854.5px,#222 856.5px,#222 856.5px)"></i>
<i style="background:linear-gradient(90deg,#222 153.5px,#222 153.5px,#003299 154.5px,#002199 304.5px,#0025ff 305.5px,#8600ff 499.5px,#610099 500.5px,#6c0099 555.5px,#780099 556.5px,#850099 624.5px,#920098 625.5px,#990098 660.5px,#990090 707.5px,#990082 708.5px,#990076 810.5px,#99006a 811.5px,#906 854.5px,#222 855.5px,#222 855.5px)"></i>
<i style="background:linear-gradient(90deg,#222 153.5px,#222 153.5px,#003299 154.5px,#002199 305.5px,#0125ff 306.5px,#8500ff 498.5px,#610099 499.5px,#6c0099 556.5px,#780099 557.5px,#850099 625.5px,#920098 626.5px,#990098 661.5px,#990090 708.5px,#990083 709.5px,#990076 811.5px,#99006b 812.5px,#990067 853.5px,#222 854.5px,#222 854.5px)"></i>
<i style="background:linear-gradient(90deg,#222 154.5px,#222 154.5px,#003299 155.5px,#002099 305.5px,#0124ff 306.5px,#8400ff 497.5px,#560099 498.5px,#560099 499.5px,#610099 500.5px,#6c0099 557.5px,#780099 558.5px,#850099 626.5px,#920098 627.5px,#990098 662.5px,#990090 709.5px,#990083 710.5px,#990076 812.5px,#99006b 813.5px,#990067 852.5px,#222 853.5px,#222 853.5px)"></i>
<i style="background:linear-gradient(90deg,#222 154.5px,#222 154.5px,#003299 156.5px,#002099 305.5px,#0024ff 306.5px,#8300ff 496.5px,#509 497.5px,#560099 499.5px,#610099 500.5px,#6c0099 557.5px,#780099 558.5px,#850099 627.5px,#920098 628.5px,#990098 663.5px,#990090 710.5px,#990083 711.5px,#990076 814.5px,#99006a 815.5px,#990067 851.5px,#222 852.5px,#222 852.5px)"></i>
<i style="background:linear-gradient(90deg,#222 155.5px,#222 155.5px,#003199 156.5px,#002099 305.5px,#0024ff 306.5px,#8100ff 495.5px,#509 496.5px,#560099 500.5px,#610099 501.5px,#6c0099 558.5px,#780099 559.5px,#850099 628.5px,#920098 629.5px,#990098 664.5px,#990090 711.5px,#990083 712.5px,#990076 815.5px,#99006b 816.5px,#990067 850.5px,#222 851.5px,#222 851.5px)"></i>
<i style="background:linear-gradient(90deg,#222 155.5px,#222 155.5px,#003199 157.5px,#002099 305.5px,#0024ff 306.5px,#8000ff 494.5px,#509 495.5px,#560099 500.5px,#610099 501.5px,#6c0099 559.5px,#780099 560.5px,#850099 628.5px,#920098 629.5px,#990098 665.5px,#990090 713.5px,#990082 714.5px,#990076 816.5px,#99006b 817.5px,#990068 849.5px,#222 850.5px,#222 850.5px)"></i>
<i style="background:linear-gradient(90deg,#222 156.5px,#222 156.5px,#003199 157.5px,#002099 305.5px,#0023ff 306.5px,#8000ff 494.5px,#509 495.5px,#560099 501.5px,#610099 502.5px,#6c0099 560.5px,#780099 561.5px,#850099 629.5px,#920098 630.5px,#990098 666.5px,#990090 714.5px,#990082 715.5px,#990076 817.5px,#99006b 818.5px,#990068 848.5px,#222 849.5px,#222 849.5px)"></i>
<i style="background:linear-gradient(90deg,#222 157.5px,#222 157.5px,#003199 158.5px,#001f99 305.5px,#0023ff 306.5px,#7f00ff 493.5px,#540099 494.5px,#560099 502.5px,#610099 503.5px,#6c0099 560.5px,#780099 561.5px,#850099 630.5px,#920098 631.5px,#990098 667.5px,#990090 715.5px,#990082 716.5px,#990076 819.5px,#99006a 820.5px,#990068 847.5px,#222 848.5px,#222 848.5px)"></i>
<i style="background:linear-gradient(90deg,#222 157.5px,#222 157.5px,#003099 158.5px,#001f99 306.5px,#0123ff 307.5px,#7e00ff 492.5px,#540099 493.5px,#560099 502.5px,#610099 503.5px,#6c0099 561.5px,#780099 562.5px,#850099 631.5px,#920098 632.5px,#990098 668.5px,#990090 716.5px,#990082 717.5px,#990076 820.5px,#99006b 821.5px,#990068 846.5px,#222 848.5px,#222 848.5px)"></i>
<i style="background:linear-gradient(90deg,#222 158.5px,#222 158.5px,#003099 159.5px,#001f99 306.5px,#02f 307.5px,#7d00ff 491.5px,#540099 492.5px,#560099 503.5px,#610099 504.5px,#6c0099 562.5px,#780099 563.5px,#850099 632.5px,#920098 633.5px,#990098 669.5px,#990090 717.5px,#990082 718.5px,#990076 821.5px,#99006b 822.5px,#990068 845.5px,#222 847.5px,#222 847.5px)"></i>
<i style="background:linear-gradient(90deg,#222 158.5px,#222 158.5px,#003099 160.5px,#001f99 306.5px,#02f 307.5px,#7b00ff 490.5px,#540099 491.5px,#560099 503.5px,#610099 504.5px,#6c0099 563.5px,#780099 564.5px,#850099 633.5px,#920098 634.5px,#990098 670.5px,#990090 718.5px,#990082 719.5px,#990076 823.5px,#99006a 824.5px,#990069 844.5px,#222 846.5px,#222 846.5px)"></i>
<i style="background:linear-gradient(90deg,#222 159.5px,#222 159.5px,#003099 160.5px,#001f99 306.5px,#02f 307.5px,#7a00ff 489.5px,#530099 490.5px,#560099 504.5px,#610099 505.5px,#6c0099 563.5px,#780099 564.5px,#850099 634.5px,#920098 635.5px,#990098 671.5px,#990090 719.5px,#990082 720.5px,#990076 824.5px,#99006b 825.5px,#990069 843.5px,#222 845.5px,#222 845.5px)"></i>
<i style="background:linear-gradient(90deg,#222 159.5px,#222 159.5px,#002f99 161.5px,#001e99 306.5px,#02f 307.5px,#7900ff 488.5px,#530099 489.5px,#560099 505.5px,#610099 506.5px,#6c0099 564.5px,#780099 565.5px,#850099 635.5px,#920098 636.5px,#990098 672.5px,#990090 720.5px,#990082 721.5px,#990076 825.5px,#99006b 826.5px,#990069 842.5px,#222 844.5px,#222 844.5px)"></i>
<i style="background:linear-gradient(90deg,#222 160.5px,#222 160.5px,#002f99 161.5px,#001e99 306.5px,#0021ff 307.5px,#7800ff 487.5px,#530099 488.5px,#560099 505.5px,#610099 506.5px,#6c0099 565.5px,#780099 566.5px,#850099 636.5px,#920098 637.5px,#990098 673.5px,#990090 721.5px,#990082 722.5px,#990076 827.5px,#99006a 828.5px,#990069 841.5px,#222 843.5px,#222 843.5px)"></i>
<i style="background:linear-gradient(90deg,#222 161.5px,#222 161.5px,#002f99 162.5px,#001e99 307.5px,#0121ff 308.5px,#70f 486.5px,#520099 487.5px,#560099 506.5px,#610099 507.5px,#6c0099 565.5px,#780099 566.5px,#850099 636.5px,#920098 637.5px,#990098 674.5px,#990090 722.5px,#990083 723.5px,#990076 828.5px,#99006b 829.5px,#990069 840.5px,#222 842.5px,#222 842.5px)"></i>
<i style="background:linear-gradient(90deg,#222 161.5px,#222 161.5px,#002f99 162.5px,#001e99 307.5px,#0121ff 308.5px,#7600ff 485.5px,#520099 486.5px,#560099 506.5px,#610099 507.5px,#6c0099 566.5px,#780099 567.5px,#850099 637.5px,#920098 638.5px,#990098 675.5px,#990090 723.5px,#990083 724.5px,#990076 829.5px,#99006b 830.5px,#99006a 839.5px,#222 841.5px,#222 841.5px)"></i>
<i style="background:linear-gradient(90deg,#222 162.5px,#222 162.5px,#002e99 163.5px,#001e99 307.5px,#0020ff 308.5px,#7500ff 484.5px,#520099 485.5px,#560099 507.5px,#610099 508.5px,#6c0099 567.5px,#780099 568.5px,#850099 638.5px,#920098 639.5px,#990098 676.5px,#990090 724.5px,#990083 725.5px,#990076 831.5px,#99006a 832.5px,#99006a 839.5px,#222 840.5px,#222 840.5px)"></i>
<i style="background:linear-gradient(90deg,#222 162.5px,#222 162.5px,#002e99 164.5px,#001d99 307.5px,#0020ff 308.5px,#7400ff 483.5px,#510099 484.5px,#560099 508.5px,#610099 509.5px,#6c0099 568.5px,#780099 569.5px,#850099 639.5px,#920098 640.5px,#990098 677.5px,#990090 725.5px,#990083 726.5px,#990076 832.5px,#99006b 833.5px,#99006a 838.5px,#222 839.5px,#222 839.5px)"></i>
<i style="background:linear-gradient(90deg,#222 163.5px,#222 163.5px,#002e99 164.5px,#001d99 307.5px,#0020ff 308.5px,#7300ff 482.5px,#510099 483.5px,#560099 508.5px,#610099 509.5px,#6c0099 568.5px,#780099 569.5px,#850099 640.5px,#920098 641.5px,#990098 678.5px,#990090 727.5px,#990082 728.5px,#990076 833.5px,#99006b 834.5px,#99006a 837.5px,#222 838.5px,#222 838.5px)"></i>
<i style="background:linear-gradient(90deg,#222 163.5px,#222 163.5px,#002e99 165.5px,#001d99 307.5px,#0020ff 308.5px,#7200ff 481.5px,#510099 482.5px,#560099 509.5px,#610099 510.5px,#6c0099 569.5px,#780099 570.5px,#850099 641.5px,#920098 642.5px,#990098 679.5px,#990090 728.5px,#990082 729.5px,#990076 834.5px,#99006b 835.5px,#99006a 836.5px,#222 837.5px,#222 837.5px)"></i>
<i style="background:linear-gradient(90deg,#222 164.5px,#222 164.5px,#002d99 165.5px,#001d99 307.5px,#001fff 308.5px,#7100ff 480.5px,#510099 481.5px,#560099 509.5px,#610099 510.5px,#6c0099 570.5px,#780099 571.5px,#850099 642.5px,#920098 643.5px,#990098 680.5px,#990090 729.5px,#990082 730.5px,#990076 835.5px,#222 836.5px,#222 836.5px)"></i>
<i style="background:linear-gradient(90deg,#222 165.5px,#222 165.5px,#002d99 166.5px,#001d99 308.5px,#011fff 309.5px,#7000ff 479.5px,#500099 480.5px,#560099 510.5px,#610099 511.5px,#6c0099 571.5px,#780099 572.5px,#850099 643.5px,#920098 644.5px,#990098 681.5px,#990090 730.5px,#990082 731.5px,#990076 834.5px,#222 835.5px,#222 835.5px)"></i>
<i style="background:linear-gradient(90deg,#222 165.5px,#222 165.5px,#002d99 166.5px,#001c99 308.5px,#001fff 309.5px,#6f00ff 478.5px,#500099 479.5px,#560099 511.5px,#610099 512.5px,#6c0099 571.5px,#780099 572.5px,#850099 644.5px,#920098 645.5px,#990098 682.5px,#990090 731.5px,#990082 732.5px,#907 833.5px,#222 834.5px,#222 834.5px)"></i>
<i style="background:linear-gradient(90deg,#222 166.5px,#222 166.5px,#002d99 167.5px,#001c99 308.5px,#001fff 309.5px,#6e00ff 478.5px,#500099 479.5px,#560099 511.5px,#610099 512.5px,#6c0099 572.5px,#780099 573.5px,#850099 644.5px,#920098 645.5px,#990098 683.5px,#990090 732.5px,#990082 733.5px,#907 832.5px,#222 833.5px,#222 833.5px)"></i>
<i style="background:linear-gradient(90deg,#222 166.5px,#222 166.5px,#002c99 168.5px,#001c99 308.5px,#001eff 309.5px,#6d00ff 477.5px,#500099 478.5px,#560099 512.5px,#610099 513.5px,#6c0099 573.5px,#780099 574.5px,#850099 645.5px,#920098 646.5px,#990098 684.5px,#990090 733.5px,#990082 734.5px,#907 831.5px,#222 833.5px,#222 833.5px)"></i>
<i style="background:linear-gradient(90deg,#222 167.5px,#222 167.5px,#002c99 168.5px,#001c99 308.5px,#001eff 309.5px,#6c00ff 476.5px,#4f0099 477.5px,#560099 512.5px,#610099 513.5px,#6c0099 573.5px,#780099 574.5px,#850099 646.5px,#920098 647.5px,#990098 685.5px,#990090 734.5px,#990082 735.5px,#907 830.5px,#222 832.5px,#222 832.5px)"></i>
<i style="background:linear-gradient(90deg,#222 167.5px,#222 167.5px,#002c99 169.5px,#001c99 308.5px,#001eff 309.5px,#6b00ff 475.5px,#4f0099 476.5px,#560099 513.5px,#610099 514.5px,#6c0099 574.5px,#780099 575.5px,#850099 647.5px,#920098 648.5px,#990098 686.5px,#990090 735.5px,#990082 736.5px,#907 829.5px,#222 831.5px,#222 831.5px)"></i>
<i style="background:linear-gradient(90deg,#222 168.5px,#222 168.5px,#002c99 169.5px,#001b99 309.5px,#011dff 310.5px,#6a00ff 474.5px,#4f0099 475.5px,#560099 514.5px,#610099 515.5px,#6c0099 575.5px,#780099 576.5px,#850099 648.5px,#920098 649.5px,#990098 687.5px,#990090 736.5px,#990083 737.5px,#990078 828.5px,#222 830.5px,#222 830.5px)"></i>
<i style="background:linear-gradient(90deg,#222 169.5px,#222 169.5px,#002b99 170.5px,#001b99 309.5px,#001dff 310.5px,#6900ff 473.5px,#4e0099 474.5px,#560099 514.5px,#610099 515.5px,#6c0099 576.5px,#780099 577.5px,#850099 649.5px,#920098 650.5px,#990098 688.5px,#990090 737.5px,#990083 738.5px,#990078 827.5px,#222 829.5px,#222 829.5px)"></i>
<i style="background:linear-gradient(90deg,#222 169.5px,#222 169.5px,#002b99 170.5px,#001b99 309.5px,#001dff 310.5px,#6800ff 472.5px,#4e0099 473.5px,#560099 515.5px,#610099 516.5px,#6c0099 576.5px,#780099 577.5px,#850099 650.5px,#920098 651.5px,#990098 689.5px,#990090 738.5px,#990083 739.5px,#990078 826.5px,#222 828.5px,#222 828.5px)"></i>
<i style="background:linear-gradient(90deg,#222 170.5px,#222 170.5px,#002b99 171.5px,#001b99 309.5px,#001dff 310.5px,#6700ff 471.5px,#4e0099 472.5px,#560099 515.5px,#610099 516.5px,#6c0099 577.5px,#780099 578.5px,#850099 651.5px,#920098 652.5px,#990098 689.5px,#990090 739.5px,#990083 740.5px,#990078 825.5px,#222 827.5px,#222 827.5px)"></i>
<i style="background:linear-gradient(90deg,#222 170.5px,#222 170.5px,#002b99 172.5px,#001b99 309.5px,#001dff 310.5px,#60f 470.5px,#4e0099 471.5px,#560099 516.5px,#610099 517.5px,#6c0099 578.5px,#780099 579.5px,#850099 652.5px,#920098 653.5px,#990098 690.5px,#990090 741.5px,#990082 742.5px,#990079 825.5px,#222 826.5px,#222 826.5px)"></i>
<i style="background:linear-gradient(90deg,#222 171.5px,#222 171.5px,#002a99 172.5px,#001a99 309.5px,#001cff 310.5px,#6500ff 469.5px,#4d0099 470.5px,#560099 516.5px,#610099 517.5px,#6c0099 579.5px,#780099 580.5px,#850099 652.5px,#920098 653.5px,#990098 691.5px,#990090 742.5px,#990082 743.5px,#990079 824.5px,#222 825.5px,#222 825.5px)"></i>
<i style="background:linear-gradient(90deg,#222 171.5px,#222 171.5px,#002a99 173.5px,#001a99 309.5px,#001cff 310.5px,#6400ff 468.5px,#4d0099 469.5px,#560099 517.5px,#610099 518.5px,#6c0099 579.5px,#780099 580.5px,#850099 653.5px,#920098 654.5px,#990098 692.5px,#990090 743.5px,#990082 744.5px,#990079 823.5px,#222 824.5px,#222 824.5px)"></i>
<i style="background:linear-gradient(90deg,#222 172.5px,#222 172.5px,#002a99 173.5px,#001a99 308.5px,#009 309.5px,#009 310.5px,#011cff 311.5px,#6300ff 467.5px,#4d0099 468.5px,#560099 518.5px,#610099 519.5px,#6c0099 580.5px,#780099 581.5px,#850099 654.5px,#920098 655.5px,#990098 693.5px,#990090 744.5px,#990082 745.5px,#990079 822.5px,#222 823.5px,#222 823.5px)"></i>
<i style="background:linear-gradient(90deg,#222 173.5px,#222 173.5px,#002a99 174.5px,#001a99 307.5px,#009 308.5px,#009 310.5px,#001bff 311.5px,#6200ff 466.5px,#4c0099 467.5px,#560099 518.5px,#610099 519.5px,#6c0099 581.5px,#780099 582.5px,#850099 655.5px,#920098 656.5px,#990098 694.5px,#990090 745.5px,#990082 746.5px,#990079 821.5px,#222 822.5px,#222 822.5px)"></i>
<i style="background:linear-gradient(90deg,#222 173.5px,#222 173.5px,#002999 175.5px,#001a99 306.5px,#009 307.5px,#009 310.5px,#001bff 311.5px,#6100ff 465.5px,#4c0099 466.5px,#560099 519.5px,#610099 520.5px,#6c0099 582.5px,#780099 583.5px,#850099 656.5px,#920098 657.5px,#990098 695.5px,#990090 746.5px,#990082 747.5px,#99007a 820.5px,#222 821.5px,#222 821.5px)"></i>
<i style="background:linear-gradient(90deg,#222 174.5px,#222 174.5px,#002999 175.5px,#001a99 304.5px,#009 305.5px,#009 310.5px,#001bff 311.5px,#6000ff 464.5px,#420099 465.5px,#430099 466.5px,#4c0099 467.5px,#560099 519.5px,#610099 520.5px,#6c0099 582.5px,#780099 583.5px,#850099 657.5px,#920098 658.5px,#990098 696.5px,#990090 747.5px,#990082 748.5px,#99007a 819.5px,#222 820.5px,#222 820.5px)"></i>
<i style="background:linear-gradient(90deg,#222 174.5px,#222 174.5px,#002999 176.5px,#001a99 303.5px,#009 304.5px,#009 310.5px,#001bff 311.5px,#5f00ff 463.5px,#420099 464.5px,#430099 466.5px,#4c0099 467.5px,#560099 520.5px,#610099 521.5px,#6c0099 583.5px,#780099 584.5px,#850099 658.5px,#920098 659.5px,#990098 697.5px,#990090 748.5px,#990082 749.5px,#99007a 818.5px,#222 819.5px,#222 819.5px)"></i>
<i style="background:linear-gradient(90deg,#222 175.5px,#222 175.5px,#002999 176.5px,#001a99 302.5px,#009 303.5px,#009 310.5px,#001bff 311.5px,#5e00ff 462.5px,#420099 463.5px,#430099 467.5px,#4c0099 468.5px,#560099 521.5px,#610099 522.5px,#6c0099 584.5px,#780099 585.5px,#850099 659.5px,#920098 660.5px,#990098 698.5px,#990090 749.5px,#990082 750.5px,#99007a 817.5px,#222 819.5px,#222 819.5px)"></i>
<i style="background:linear-gradient(90deg,#222 176.5px,#222 176.5px,#002899 177.5px,#001a99 300.5px,#009 301.5px,#009 311.5px,#011aff 312.5px,#5e00ff 461.5px,#420099 462.5px,#430099 467.5px,#4c0099 468.5px,#560099 521.5px,#610099 522.5px,#6c0099 584.5px,#780099 585.5px,#850099 659.5px,#920098 660.5px,#990098 699.5px,#990090 750.5px,#990082 751.5px,#99007b 816.5px,#222 818.5px,#222 818.5px)"></i>
<i style="background:linear-gradient(90deg,#222 176.5px,#222 176.5px,#002899 177.5px,#001a99 299.5px,#009 300.5px,#009 311.5px,#001aff 312.5px,#5d00ff 461.5px,#420099 462.5px,#430099 468.5px,#4c0099 469.5px,#560099 522.5px,#610099 523.5px,#6c0099 585.5px,#780099 586.5px,#850099 660.5px,#920098 661.5px,#990098 700.5px,#990090 751.5px,#990083 752.5px,#99007b 815.5px,#222 817.5px,#222 817.5px)"></i>
<i style="background:linear-gradient(90deg,#222 177.5px,#222 177.5px,#002899 178.5px,#001a99 298.5px,#009 299.5px,#009 311.5px,#001aff 312.5px,#5c00ff 460.5px,#410099 461.5px,#430099 468.5px,#4c0099 469.5px,#560099 522.5px,#610099 523.5px,#6c0099 586.5px,#780099 587.5px,#850099 661.5px,#920098 662.5px,#990098 701.5px,#990090 752.5px,#990083 753.5px,#99007b 814.5px,#222 816.5px,#222 816.5px)"></i>
<i style="background:linear-gradient(90deg,#222 177.5px,#222 177.5px,#002899 179.5px,#001a99 296.5px,#009 297.5px,#009 311.5px,#001aff 312.5px,#5b00ff 459.5px,#410099 460.5px,#430099 469.5px,#4c0099 470.5px,#560099 523.5px,#610099 524.5px,#6c0099 587.5px,#780099 588.5px,#850099 662.5px,#920098 663.5px,#990098 702.5px,#990090 753.5px,#990083 754.5px,#99007b 813.5px,#222 815.5px,#222 815.5px)"></i>
<i style="background:linear-gradient(90deg,#222 178.5px,#222 178.5px,#002899 179.5px,#001a99 295.5px,#009 296.5px,#009 311.5px,#0019ff 312.5px,#5a00ff 458.5px,#410099 459.5px,#430099 469.5px,#4c0099 470.5px,#560099 524.5px,#610099 525.5px,#6c0099 587.5px,#780099 588.5px,#850099 663.5px,#920098 664.5px,#990098 703.5px,#990090 754.5px,#990083 755.5px,#99007c 812.5px,#222 814.5px,#222 814.5px)"></i>
<i style="background:linear-gradient(90deg,#222 178.5px,#222 178.5px,#002799 180.5px,#001a99 294.5px,#009 295.5px,#009 311.5px,#0019ff 312.5px,#5a00ff 457.5px,#400099 458.5px,#430099 470.5px,#4c0099 471.5px,#560099 524.5px,#610099 525.5px,#6c0099 588.5px,#780099 589.5px,#850099 664.5px,#920098 665.5px,#990098 704.5px,#990090 756.5px,#990082 757.5px,#99007c 811.5px,#222 813.5px,#222 813.5px)"></i>
<i style="background:linear-gradient(90deg,#222 179.5px,#222 179.5px,#002799 180.5px,#001a99 292.5px,#009 293.5px,#009 312.5px,#0119ff 313.5px,#5900ff 456.5px,#400099 457.5px,#430099 470.5px,#4c0099 471.5px,#560099 525.5px,#610099 526.5px,#6c0099 589.5px,#780099 590.5px,#850099 665.5px,#920098 666.5px,#990098 705.5px,#990090 757.5px,#990082 758.5px,#99007c 810.5px,#222 812.5px,#222 812.5px)"></i>
<i style="background:linear-gradient(90deg,#222 180.5px,#222 180.5px,#002799 181.5px,#001a99 291.5px,#009 292.5px,#009 312.5px,#0018ff 313.5px,#5800ff 455.5px,#400099 456.5px,#430099 471.5px,#4c0099 472.5px,#560099 525.5px,#610099 526.5px,#6c0099 590.5px,#780099 591.5px,#850099 666.5px,#920098 667.5px,#990098 706.5px,#990090 758.5px,#990082 759.5px,#99007c 810.5px,#222 811.5px,#222 811.5px)"></i>
<i style="background:linear-gradient(90deg,#222 180.5px,#222 180.5px,#002799 182.5px,#001a99 290.5px,#009 291.5px,#009 312.5px,#0018ff 313.5px,#5700ff 454.5px,#400099 455.5px,#430099 471.5px,#4c0099 472.5px,#560099 526.5px,#610099 527.5px,#6c0099 590.5px,#780099 591.5px,#850099 667.5px,#920098 668.5px,#990098 707.5px,#990090 759.5px,#990082 760.5px,#99007c 809.5px,#222 810.5px,#222 810.5px)"></i>
<i style="background:linear-gradient(90deg,#222 181.5px,#222 181.5px,#002699 182.5px,#001a99 288.5px,#009 289.5px,#009 312.5px,#0018ff 313.5px,#5600ff 453.5px,#3f0099 454.5px,#430099 472.5px,#4c0099 473.5px,#560099 527.5px,#610099 528.5px,#6c0099 591.5px,#780099 592.5px,#850099 667.5px,#920098 668.5px,#990098 708.5px,#990090 760.5px,#990082 761.5px,#99007d 808.5px,#222 809.5px,#222 809.5px)"></i>
<i style="background:linear-gradient(90deg,#222 181.5px,#222 181.5px,#002699 183.5px,#001a99 287.5px,#009 288.5px,#009 312.5px,#0018ff 313.5px,#50f 452.5px,#3f0099 453.5px,#430099 472.5px,#4c0099 473.5px,#560099 527.5px,#610099 528.5px,#6c0099 592.5px,#780099 593.5px,#850099 668.5px,#920098 669.5px,#990098 709.5px,#990090 761.5px,#990082 762.5px,#99007d 807.5px,#222 808.5px,#222 808.5px)"></i>
<i style="background:linear-gradient(90deg,#222 182.5px,#222 182.5px,#002699 183.5px,#001a99 286.5px,#009 287.5px,#009 312.5px,#0018ff 313.5px,#5400ff 451.5px,#3f0099 452.5px,#430099 473.5px,#4c0099 474.5px,#560099 528.5px,#610099 529.5px,#6c0099 592.5px,#780099 593.5px,#850099 669.5px,#920098 670.5px,#990098 710.5px,#990090 762.5px,#990082 763.5px,#99007d 806.5px,#222 807.5px,#222 807.5px)"></i>
<i style="background:linear-gradient(90deg,#222 183.5px,#222 183.5px,#002699 184.5px,#001a99 284.5px,#009 285.5px,#009 312.5px,#0017ff 313.5px,#5300ff 450.5px,#3f0099 451.5px,#430099 473.5px,#4c0099 474.5px,#560099 528.5px,#610099 529.5px,#6c0099 593.5px,#780099 594.5px,#850099 670.5px,#920098 671.5px,#990098 711.5px,#990090 763.5px,#990082 764.5px,#99007d 805.5px,#222 806.5px,#222 806.5px)"></i>
<i style="background:linear-gradient(90deg,#222 183.5px,#222 183.5px,#002599 185.5px,#001a99 283.5px,#009 284.5px,#009 313.5px,#0117ff 314.5px,#5200ff 449.5px,#3e0099 450.5px,#430099 474.5px,#4c0099 475.5px,#560099 529.5px,#610099 530.5px,#6c0099 594.5px,#780099 595.5px,#850099 671.5px,#920098 672.5px,#990098 712.5px,#990090 764.5px,#990082 765.5px,#99007e 804.5px,#222 805.5px,#222 805.5px)"></i>
<i style="background:linear-gradient(90deg,#222 184.5px,#222 184.5px,#002599 185.5px,#001a99 282.5px,#009 283.5px,#009 313.5px,#0017ff 314.5px,#5100ff 448.5px,#3e0099 449.5px,#430099 474.5px,#4c0099 475.5px,#560099 530.5px,#610099 531.5px,#6c0099 595.5px,#780099 596.5px,#850099 672.5px,#920098 673.5px,#990098 713.5px,#990090 765.5px,#990083 766.5px,#99007e 803.5px,#222 804.5px,#222 804.5px)"></i>
<i style="background:linear-gradient(90deg,#222 184.5px,#222 184.5px,#002599 186.5px,#001a99 280.5px,#009 281.5px,#009 313.5px,#0017ff 314.5px,#5000ff 447.5px,#3e0099 448.5px,#430099 475.5px,#4c0099 476.5px,#560099 530.5px,#610099 531.5px,#6c0099 595.5px,#780099 596.5px,#850099 673.5px,#920098 674.5px,#990098 714.5px,#990090 766.5px,#990083 767.5px,#99007e 802.5px,#222 804.5px,#222 804.5px)"></i>
<i style="background:linear-gradient(90deg,#222 185.5px,#222 185.5px,#002599 186.5px,#001a99 279.5px,#009 280.5px,#009 313.5px,#0016ff 314.5px,#5000ff 446.5px,#3d0099 447.5px,#430099 475.5px,#4c0099 476.5px,#560099 531.5px,#610099 532.5px,#6c0099 596.5px,#780099 597.5px,#850099 674.5px,#920098 675.5px,#990098 715.5px,#990090 767.5px,#990083 768.5px,#99007e 801.5px,#222 803.5px,#222 803.5px)"></i>
<i style="background:linear-gradient(90deg,#222 186.5px,#222 186.5px,#002599 187.5px,#001a99 278.5px,#009 279.5px,#009 313.5px,#0016ff 314.5px,#4f00ff 445.5px,#3d0099 446.5px,#430099 476.5px,#4c0099 477.5px,#560099 531.5px,#610099 532.5px,#6c0099 597.5px,#780099 598.5px,#850099 675.5px,#920098 676.5px,#990098 716.5px,#990090 768.5px,#990083 769.5px,#99007f 800.5px,#222 802.5px,#222 802.5px)"></i>
<i style="background:linear-gradient(90deg,#222 186.5px,#222 186.5px,#002499 188.5px,#001a99 276.5px,#009 277.5px,#009 313.5px,#0016ff 314.5px,#4e00ff 445.5px,#3d0099 446.5px,#430099 476.5px,#4c0099 477.5px,#560099 532.5px,#610099 533.5px,#6c0099 598.5px,#780099 599.5px,#850099 675.5px,#920098 676.5px,#990098 716.5px,#990090 770.5px,#990082 771.5px,#99007f 799.5px,#222 801.5px,#222 801.5px)"></i>
<i style="background:linear-gradient(90deg,#222 187.5px,#222 187.5px,#002499 188.5px,#001a99 275.5px,#009 276.5px,#009 314.5px,#0116ff 315.5px,#4e00ff 444.5px,#3d0099 445.5px,#430099 477.5px,#4c0099 478.5px,#560099 533.5px,#610099 534.5px,#6c0099 598.5px,#780099 599.5px,#850099 676.5px,#920098 677.5px,#990098 717.5px,#990090 771.5px,#990082 772.5px,#99007f 798.5px,#222 800.5px,#222 800.5px)"></i>
<i style="background:linear-gradient(90deg,#222 187.5px,#222 187.5px,#002499 189.5px,#001a99 274.5px,#009 275.5px,#009 314.5px,#0015ff 315.5px,#4d00ff 443.5px,#3d0099 444.5px,#430099 477.5px,#4c0099 478.5px,#560099 533.5px,#610099 534.5px,#6c0099 599.5px,#780099 600.5px,#850099 677.5px,#920098 678.5px,#990098 718.5px,#990090 772.5px,#990082 773.5px,#99007f 797.5px,#222 799.5px,#222 799.5px)"></i>
<i style="background:linear-gradient(90deg,#222 188.5px,#222 188.5px,#002499 189.5px,#001a99 273.5px,#009 274.5px,#009 314.5px,#0015ff 315.5px,#4c00ff 442.5px,#3c0099 443.5px,#430099 478.5px,#4c0099 479.5px,#560099 534.5px,#610099 535.5px,#6c0099 600.5px,#780099 601.5px,#850099 678.5px,#920098 679.5px,#990098 719.5px,#990090 773.5px,#990082 774.5px,#990080 796.5px,#222 798.5px,#222 798.5px)"></i>
<i style="background:linear-gradient(90deg,#222 189.5px,#222 189.5px,#002399 190.5px,#001a99 271.5px,#009 272.5px,#009 314.5px,#0015ff 315.5px,#4b00ff 441.5px,#3c0099 442.5px,#430099 478.5px,#4c0099 479.5px,#560099 534.5px,#610099 535.5px,#6c0099 600.5px,#780099 601.5px,#850099 679.5px,#920098 680.5px,#990098 720.5px,#990090 774.5px,#990082 775.5px,#990080 796.5px,#222 797.5px,#222 797.5px)"></i>
<i style="background:linear-gradient(90deg,#222 189.5px,#222 189.5px,#002399 191.5px,#001a99 270.5px,#009 271.5px,#009 314.5px,#0015ff 315.5px,#4a00ff 440.5px,#3c0099 441.5px,#430099 479.5px,#4c0099 480.5px,#560099 535.5px,#610099 536.5px,#6c0099 601.5px,#780099 602.5px,#850099 680.5px,#920098 681.5px,#990098 721.5px,#990090 775.5px,#990082 776.5px,#990080 795.5px,#222 796.5px,#222 796.5px)"></i>
<i style="background:linear-gradient(90deg,#222 190.5px,#222 190.5px,#002399 191.5px,#001a99 269.5px,#009 270.5px,#009 314.5px,#0015ff 315.5px,#4900ff 439.5px,#3c0099 440.5px,#430099 479.5px,#4c0099 480.5px,#560099 536.5px,#610099 537.5px,#6c0099 602.5px,#780099 603.5px,#850099 681.5px,#920098 682.5px,#990098 722.5px,#990090 776.5px,#990082 777.5px,#990080 794.5px,#222 795.5px,#222 795.5px)"></i>
<i style="background:linear-gradient(90deg,#222 190.5px,#222 190.5px,#002399 192.5px,#001a99 267.5px,#009 268.5px,#009 314.5px,#0014ff 315.5px,#4800ff 438.5px,#3b0099 439.5px,#430099 479.5px,#4c0099 480.5px,#560099 536.5px,#610099 537.5px,#6c0099 603.5px,#780099 604.5px,#850099 682.5px,#920098 683.5px,#990098 723.5px,#990090 777.5px,#990082 778.5px,#990081 793.5px,#222 794.5px,#222 794.5px)"></i>
<i style="background:linear-gradient(90deg,#222 191.5px,#222 191.5px,#002399 192.5px,#001a99 266.5px,#009 267.5px,#009 315.5px,#0014ff 316.5px,#4800ff 437.5px,#3b0099 438.5px,#430099 480.5px,#4c0099 481.5px,#560099 537.5px,#610099 538.5px,#6c0099 603.5px,#780099 604.5px,#850099 683.5px,#920098 684.5px,#990098 724.5px,#990090 778.5px,#990082 779.5px,#990081 792.5px,#222 793.5px,#222 793.5px)"></i>
<i style="background:linear-gradient(90deg,#222 192.5px,#222 192.5px,#029 193.5px,#001a99 265.5px,#009 266.5px,#009 315.5px,#0014ff 316.5px,#4700ff 436.5px,#3b0099 437.5px,#430099 480.5px,#4c0099 481.5px,#560099 537.5px,#610099 538.5px,#6c0099 604.5px,#780099 605.5px,#850099 683.5px,#920098 684.5px,#990098 725.5px,#990090 779.5px,#990083 780.5px,#990081 791.5px,#222 792.5px,#222 792.5px)"></i>
<i style="background:linear-gradient(90deg,#222 192.5px,#222 192.5px,#029 194.5px,#001a99 263.5px,#009 264.5px,#009 315.5px,#0014ff 316.5px,#4600ff 435.5px,#3a0099 436.5px,#430099 481.5px,#4c0099 482.5px,#560099 538.5px,#610099 539.5px,#6c0099 605.5px,#780099 606.5px,#850099 684.5px,#920098 685.5px,#990098 726.5px,#990090 780.5px,#990083 781.5px,#990081 790.5px,#222 791.5px,#222 791.5px)"></i>
<i style="background:linear-gradient(90deg,#222 193.5px,#222 193.5px,#029 194.5px,#001a99 262.5px,#009 263.5px,#009 315.5px,#0014ff 316.5px,#4500ff 434.5px,#3a0099 435.5px,#430099 481.5px,#4c0099 482.5px,#560099 539.5px,#610099 540.5px,#6c0099 606.5px,#780099 607.5px,#850099 685.5px,#920098 686.5px,#990098 727.5px,#990090 781.5px,#990083 782.5px,#990082 789.5px,#222 790.5px,#222 790.5px)"></i>
<i style="background:linear-gradient(90deg,#222 193.5px,#222 193.5px,#029 195.5px,#001a99 261.5px,#009 262.5px,#009 315.5px,#0013ff 316.5px,#40f 433.5px,#3a0099 434.5px,#430099 482.5px,#4c0099 483.5px,#560099 539.5px,#610099 540.5px,#6c0099 606.5px,#780099 607.5px,#850099 686.5px,#920098 687.5px,#990098 728.5px,#990090 782.5px,#990083 783.5px,#990082 788.5px,#222 790.5px,#222 790.5px)"></i>
<i style="background:linear-gradient(90deg,#222 194.5px,#222 194.5px,#002199 195.5px,#001a99 259.5px,#009 260.5px,#009 315.5px,#0013ff 316.5px,#4300ff 432.5px,#310099 433.5px,#3a0099 434.5px,#430099 482.5px,#4c0099 483.5px,#560099 540.5px,#610099 541.5px,#6c0099 607.5px,#780099 608.5px,#850099 687.5px,#920098 688.5px,#990098 729.5px,#990090 784.5px,#990082 785.5px,#990082 787.5px,#222 789.5px,#222 789.5px)"></i>
<i style="background:linear-gradient(90deg,#222 195.5px,#222 195.5px,#002199 196.5px,#001a99 258.5px,#009 259.5px,#009 316.5px,#0113ff 317.5px,#4300ff 431.5px,#310099 432.5px,#310099 433.5px,#3a0099 434.5px,#430099 483.5px,#4c0099 484.5px,#560099 540.5px,#610099 541.5px,#6c0099 608.5px,#780099 609.5px,#850099 688.5px,#920098 689.5px,#990098 730.5px,#990090 785.5px,#990082 786.5px,#222 788.5px,#222 788.5px)"></i>
<i style="background:linear-gradient(90deg,#222 195.5px,#222 195.5px,#002199 197.5px,#001a99 257.5px,#009 258.5px,#009 316.5px,#0013ff 317.5px,#4200ff 430.5px,#310099 431.5px,#310099 434.5px,#3a0099 435.5px,#430099 483.5px,#4c0099 484.5px,#560099 541.5px,#610099 542.5px,#6c0099 608.5px,#780099 609.5px,#850099 689.5px,#920098 690.5px,#990098 731.5px,#990090 785.5px,#222 787.5px,#222 787.5px)"></i>
<i style="background:linear-gradient(90deg,#222 196.5px,#222 196.5px,#002199 197.5px,#001a99 255.5px,#009 256.5px,#009 316.5px,#0012ff 317.5px,#4100ff 429.5px,#300099 430.5px,#310099 434.5px,#3a0099 435.5px,#430099 484.5px,#4c0099 485.5px,#560099 542.5px,#610099 543.5px,#6c0099 609.5px,#780099 610.5px,#850099 690.5px,#920098 691.5px,#990098 732.5px,#990091 784.5px,#222 786.5px,#222 786.5px)"></i>
<i style="background:linear-gradient(90deg,#222 196.5px,#222 196.5px,#002099 198.5px,#001a99 254.5px,#009 255.5px,#009 316.5px,#0012ff 317.5px,#4000ff 428.5px,#300099 429.5px,#310099 434.5px,#3a0099 435.5px,#430099 484.5px,#4c0099 485.5px,#560099 542.5px,#610099 543.5px,#6c0099 610.5px,#780099 611.5px,#850099 690.5px,#920098 691.5px,#990098 733.5px,#990091 783.5px,#222 785.5px,#222 785.5px)"></i>
<i style="background:linear-gradient(90deg,#222 197.5px,#222 197.5px,#002099 198.5px,#001a99 253.5px,#009 254.5px,#009 316.5px,#0012ff 317.5px,#4000ff 428.5px,#300099 429.5px,#310099 435.5px,#3a0099 436.5px,#430099 485.5px,#4c0099 486.5px,#560099 543.5px,#610099 544.5px,#6c0099 611.5px,#780099 612.5px,#850099 691.5px,#920098 692.5px,#990098 734.5px,#990091 782.5px,#222 784.5px,#222 784.5px)"></i>
<i style="background:linear-gradient(90deg,#222 198.5px,#222 198.5px,#002099 199.5px,#001a99 251.5px,#009 252.5px,#009 316.5px,#0012ff 317.5px,#3f00ff 427.5px,#300099 428.5px,#310099 435.5px,#3a0099 436.5px,#430099 485.5px,#4c0099 486.5px,#560099 543.5px,#610099 544.5px,#6c0099 611.5px,#780099 612.5px,#850099 692.5px,#920098 693.5px,#990098 735.5px,#990092 781.5px,#222 783.5px,#222 783.5px)"></i>
<i style="background:linear-gradient(90deg,#222 198.5px,#222 198.5px,#002099 200.5px,#001a99 250.5px,#009 251.5px,#009 316.5px,#0012ff 317.5px,#3e00ff 426.5px,#300099 427.5px,#310099 436.5px,#3a0099 437.5px,#430099 486.5px,#4c0099 487.5px,#560099 544.5px,#610099 545.5px,#6c0099 612.5px,#780099 613.5px,#850099 693.5px,#920098 694.5px,#990098 736.5px,#990092 781.5px,#222 782.5px,#222 782.5px)"></i>
<i style="background:linear-gradient(90deg,#222 199.5px,#222 199.5px,#002099 200.5px,#001a99 249.5px,#009 250.5px,#009 317.5px,#01f 318.5px,#3e00ff 425.5px,#2f0099 426.5px,#310099 436.5px,#3a0099 437.5px,#430099 486.5px,#4c0099 487.5px,#560099 545.5px,#610099 546.5px,#6c0099 613.5px,#780099 614.5px,#850099 694.5px,#920098 695.5px,#990098 737.5px,#990092 780.5px,#222 781.5px,#222 781.5px)"></i>
<i style="background:linear-gradient(90deg,#222 200.5px,#222 200.5px,#001f99 201.5px,#001a99 247.5px,#009 248.5px,#009 317.5px,#01f 318.5px,#3d00ff 424.5px,#2f0099 425.5px,#310099 436.5px,#3a0099 437.5px,#430099 487.5px,#4c0099 488.5px,#560099 545.5px,#610099 546.5px,#6c0099 614.5px,#780099 615.5px,#850099 695.5px,#920098 696.5px,#990098 738.5px,#990092 779.5px,#222 780.5px,#222 780.5px)"></i>
<i style="background:linear-gradient(90deg,#222 200.5px,#222 200.5px,#001f99 201.5px,#001a99 246.5px,#009 247.5px,#009 317.5px,#01f 318.5px,#3c00ff 423.5px,#2f0099 424.5px,#310099 437.5px,#3a0099 438.5px,#430099 487.5px,#4c0099 488.5px,#560099 546.5px,#610099 547.5px,#6c0099 614.5px,#780099 615.5px,#850099 696.5px,#920098 697.5px,#990098 739.5px,#990092 778.5px,#222 779.5px,#222 779.5px)"></i>
<i style="background:linear-gradient(90deg,#222 201.5px,#222 201.5px,#001f99 202.5px,#001a99 245.5px,#009 246.5px,#009 317.5px,#01f 318.5px,#3b00ff 422.5px,#2f0099 423.5px,#310099 437.5px,#3a0099 438.5px,#430099 488.5px,#4c0099 489.5px,#560099 546.5px,#610099 547.5px,#6c0099 615.5px,#780099 616.5px,#850099 697.5px,#920098 698.5px,#990098 740.5px,#990093 777.5px,#222 778.5px,#222 778.5px)"></i>
<i style="background:linear-gradient(90deg,#222 201.5px,#222 201.5px,#001f99 203.5px,#001a99 243.5px,#009 244.5px,#009 317.5px,#01f 318.5px,#3a00ff 421.5px,#2e0099 422.5px,#310099 438.5px,#3a0099 439.5px,#430099 488.5px,#4c0099 489.5px,#560099 547.5px,#610099 548.5px,#6c0099 616.5px,#780099 617.5px,#850099 698.5px,#920098 699.5px,#990098 741.5px,#990093 776.5px,#222 777.5px,#222 777.5px)"></i>
<i style="background:linear-gradient(90deg,#222 202.5px,#222 202.5px,#001f99 203.5px,#001a99 242.5px,#009 243.5px,#009 317.5px,#0010ff 318.5px,#3a00ff 420.5px,#2e0099 421.5px,#310099 438.5px,#3a0099 439.5px,#430099 489.5px,#4c0099 490.5px,#560099 548.5px,#610099 549.5px,#6c0099 616.5px,#780099 617.5px,#850099 698.5px,#920098 699.5px,#990098 742.5px,#990093 775.5px,#222 776.5px,#222 776.5px)"></i>
<i style="background:linear-gradient(90deg,#222 203.5px,#222 203.5px,#001e99 204.5px,#001a99 241.5px,#009 242.5px,#009 318.5px,#0110ff 319.5px,#3900ff 419.5px,#2e0099 420.5px,#310099 438.5px,#3a0099 439.5px,#430099 489.5px,#4c0099 490.5px,#560099 548.5px,#610099 549.5px,#6c0099 617.5px,#780099 618.5px,#850099 699.5px,#920098 700.5px,#990098 743.5px,#990094 774.5px,#222 775.5px,#222 775.5px)"></i>
<i style="background:linear-gradient(90deg,#222 203.5px,#222 203.5px,#001e99 205.5px,#001a99 239.5px,#009 240.5px,#009 318.5px,#0010ff 319.5px,#3800ff 418.5px,#2e0099 419.5px,#310099 439.5px,#3a0099 440.5px,#430099 490.5px,#4c0099 491.5px,#560099 549.5px,#610099 550.5px,#6c0099 618.5px,#780099 619.5px,#850099 700.5px,#920098 701.5px,#990098 744.5px,#990094 773.5px,#222 775.5px,#222 775.5px)"></i>
<i style="background:linear-gradient(90deg,#222 204.5px,#222 204.5px,#001e99 205.5px,#001a99 238.5px,#009 239.5px,#009 318.5px,#0010ff 319.5px,#3700ff 417.5px,#2d0099 418.5px,#310099 439.5px,#3a0099 440.5px,#430099 490.5px,#4c0099 491.5px,#560099 549.5px,#610099 550.5px,#6c0099 619.5px,#780099 620.5px,#850099 701.5px,#920098 702.5px,#990098 744.5px,#990094 772.5px,#222 774.5px,#222 774.5px)"></i>
<i style="background:linear-gradient(90deg,#222 205.5px,#222 205.5px,#001e99 206.5px,#001a99 237.5px,#009 238.5px,#009 318.5px,#0010ff 319.5px,#3700ff 416.5px,#2d0099 417.5px,#310099 439.5px,#3a0099 440.5px,#430099 491.5px,#4c0099 492.5px,#560099 550.5px,#610099 551.5px,#6c0099 619.5px,#780099 620.5px,#850099 702.5px,#920098 703.5px,#990098 745.5px,#990094 771.5px,#222 773.5px,#222 773.5px)"></i>
<i style="background:linear-gradient(90deg,#222 205.5px,#222 205.5px,#001d99 206.5px,#001a99 235.5px,#009 236.5px,#009 318.5px,#000fff 319.5px,#3600ff 415.5px,#2d0099 416.5px,#310099 440.5px,#3a0099 441.5px,#430099 491.5px,#4c0099 492.5px,#560099 550.5px,#610099 551.5px,#6c0099 620.5px,#780099 621.5px,#850099 703.5px,#920098 704.5px,#990098 746.5px,#990095 770.5px,#222 772.5px,#222 772.5px)"></i>
<i style="background:linear-gradient(90deg,#222 206.5px,#222 206.5px,#001d99 207.5px,#001a99 234.5px,#009 235.5px,#009 318.5px,#000fff 319.5px,#3500ff 414.5px,#2d0099 415.5px,#310099 440.5px,#3a0099 441.5px,#430099 492.5px,#4c0099 493.5px,#560099 551.5px,#610099 552.5px,#6c0099 621.5px,#780099 622.5px,#850099 704.5px,#920098 705.5px,#990098 747.5px,#990095 769.5px,#222 771.5px,#222 771.5px)"></i>
<i style="background:linear-gradient(90deg,#222 206.5px,#222 206.5px,#001d99 208.5px,#001a99 233.5px,#009 234.5px,#009 319.5px,#010fff 320.5px,#3400ff 413.5px,#2c0099 414.5px,#310099 441.5px,#3a0099 442.5px,#430099 492.5px,#4c0099 493.5px,#560099 552.5px,#610099 553.5px,#6c0099 622.5px,#780099 623.5px,#850099 705.5px,#920098 706.5px,#990098 748.5px,#990095 768.5px,#222 770.5px,#222 770.5px)"></i>
<i style="background:linear-gradient(90deg,#222 207.5px,#222 207.5px,#001d99 208.5px,#001a99 231.5px,#009 232.5px,#009 319.5px,#000fff 320.5px,#3400ff 412.5px,#2c0099 413.5px,#310099 441.5px,#3a0099 442.5px,#430099 493.5px,#4c0099 494.5px,#560099 552.5px,#610099 553.5px,#6c0099 622.5px,#780099 623.5px,#850099 706.5px,#920098 707.5px,#990098 749.5px,#990096 767.5px,#222 769.5px,#222 769.5px)"></i>
<i style="background:linear-gradient(90deg,#222 208.5px,#222 208.5px,#001d99 209.5px,#001a99 230.5px,#009 231.5px,#009 319.5px,#000eff 320.5px,#30f 412.5px,#2c0099 413.5px,#310099 441.5px,#3a0099 442.5px,#430099 493.5px,#4c0099 494.5px,#560099 553.5px,#610099 554.5px,#6c0099 623.5px,#780099 624.5px,#850099 706.5px,#920098 707.5px,#990098 750.5px,#990096 767.5px,#222 768.5px,#222 768.5px)"></i>
<i style="background:linear-gradient(90deg,#222 208.5px,#222 208.5px,#001c99 210.5px,#001a99 229.5px,#009 230.5px,#009 319.5px,#000eff 320.5px,#30f 411.5px,#2c0099 412.5px,#310099 442.5px,#3a0099 443.5px,#430099 494.5px,#4c0099 495.5px,#560099 553.5px,#610099 554.5px,#6c0099 624.5px,#780099 625.5px,#850099 707.5px,#920098 708.5px,#990098 751.5px,#990096 766.5px,#222 767.5px,#222 767.5px)"></i>
<i style="background:linear-gradient(90deg,#222 209.5px,#222 209.5px,#001c99 210.5px,#001a99 227.5px,#009 228.5px,#009 319.5px,#000eff 320.5px,#3200ff 410.5px,#2b0099 411.5px,#310099 442.5px,#3a0099 443.5px,#430099 494.5px,#4c0099 495.5px,#560099 554.5px,#610099 555.5px,#6c0099 624.5px,#780099 625.5px,#850099 708.5px,#920098 709.5px,#990098 752.5px,#990096 765.5px,#222 766.5px,#222 766.5px)"></i>
<i style="background:linear-gradient(90deg,#222 210.5px,#222 210.5px,#001c99 211.5px,#001a99 226.5px,#009 227.5px,#009 319.5px,#000eff 320.5px,#3100ff 409.5px,#2b0099 410.5px,#310099 443.5px,#3a0099 444.5px,#430099 494.5px,#4c0099 495.5px,#560099 555.5px,#610099 556.5px,#6c0099 625.5px,#780099 626.5px,#850099 709.5px,#920098 710.5px,#990098 753.5px,#990097 764.5px,#222 765.5px,#222 765.5px)"></i>
<i style="background:linear-gradient(90deg,#222 210.5px,#222 210.5px,#001c99 211.5px,#001a99 225.5px,#009 226.5px,#009 319.5px,#000eff 320.5px,#3000ff 408.5px,#2b0099 409.5px,#310099 443.5px,#3a0099 444.5px,#430099 495.5px,#4c0099 496.5px,#560099 555.5px,#610099 556.5px,#6c0099 626.5px,#780099 627.5px,#850099 710.5px,#920098 711.5px,#990098 754.5px,#990097 763.5px,#222 764.5px,#222 764.5px)"></i>
<i style="background:linear-gradient(90deg,#222 211.5px,#222 211.5px,#001b99 212.5px,#001a99 223.5px,#009 224.5px,#009 320.5px,#000dff 321.5px,#3000ff 407.5px,#2b0099 408.5px,#310099 443.5px,#3a0099 444.5px,#430099 495.5px,#4c0099 496.5px,#560099 556.5px,#610099 557.5px,#6c0099 627.5px,#780099 628.5px,#850099 711.5px,#920098 712.5px,#990098 755.5px,#990097 762.5px,#222 763.5px,#222 763.5px)"></i>
<i style="background:linear-gradient(90deg,#222 211.5px,#222 211.5px,#001b99 213.5px,#001a99 222.5px,#009 223.5px,#009 320.5px,#000dff 321.5px,#2f00ff 406.5px,#2a0099 407.5px,#310099 444.5px,#3a0099 445.5px,#430099 496.5px,#4c0099 497.5px,#560099 556.5px,#610099 557.5px,#6c0099 627.5px,#780099 628.5px,#850099 712.5px,#920098 713.5px,#990098 756.5px,#990097 761.5px,#222 762.5px,#222 762.5px)"></i>
<i style="background:linear-gradient(90deg,#222 212.5px,#222 212.5px,#001b99 213.5px,#001a99 221.5px,#009 222.5px,#009 320.5px,#000dff 321.5px,#2e00ff 405.5px,#2a0099 406.5px,#310099 444.5px,#3a0099 445.5px,#430099 496.5px,#4c0099 497.5px,#560099 557.5px,#610099 558.5px,#6c0099 628.5px,#780099 629.5px,#850099 713.5px,#920098 714.5px,#990098 757.5px,#990098 760.5px,#222 761.5px,#222 761.5px)"></i>
<i style="background:linear-gradient(90deg,#222 213.5px,#222 213.5px,#001b99 214.5px,#001a99 219.5px,#009 220.5px,#009 320.5px,#000dff 321.5px,#2d00ff 404.5px,#2a0099 405.5px,#310099 445.5px,#3a0099 446.5px,#430099 497.5px,#4c0099 498.5px,#560099 558.5px,#610099 559.5px,#6c0099 629.5px,#780099 630.5px,#850099 713.5px,#920098 714.5px,#990098 758.5px,#990098 759.5px,#222 761.5px,#222 761.5px)"></i>
<i style="background:linear-gradient(90deg,#222 213.5px,#222 213.5px,#001b99 215.5px,#001a99 218.5px,#009 219.5px,#009 320.5px,#000dff 321.5px,#2d00ff 403.5px,#2a0099 404.5px,#310099 445.5px,#3a0099 446.5px,#430099 497.5px,#4c0099 498.5px,#560099 558.5px,#610099 559.5px,#6c0099 630.5px,#780099 631.5px,#850099 714.5px,#920098 715.5px,#990098 758.5px,#222 760.5px,#222 760.5px)"></i>
<i style="background:linear-gradient(90deg,#222 214.5px,#222 214.5px,#001a99 215.5px,#001a99 217.5px,#009 218.5px,#009 320.5px,#000dff 321.5px,#2c00ff 402.5px,#290099 403.5px,#310099 445.5px,#3a0099 446.5px,#430099 498.5px,#4c0099 499.5px,#560099 559.5px,#610099 560.5px,#6c0099 630.5px,#780099 631.5px,#850099 715.5px,#920098 716.5px,#990098 757.5px,#222 759.5px,#222 759.5px)"></i>
<i style="background:linear-gradient(90deg,#222 215.5px,#222 215.5px,#009 216.5px,#009 321.5px,#010cff 322.5px,#2b00ff 401.5px,#290099 402.5px,#310099 446.5px,#3a0099 447.5px,#430099 498.5px,#4c0099 499.5px,#560099 559.5px,#610099 560.5px,#6c0099 631.5px,#780099 632.5px,#850099 716.5px,#920098 717.5px,#980098 756.5px,#222 758.5px,#222 758.5px)"></i>
<i style="background:linear-gradient(90deg,#222 215.5px,#222 215.5px,#009 217.5px,#009 321.5px,#000cff 322.5px,#2b00ff 400.5px,#290099 401.5px,#310099 446.5px,#3a0099 447.5px,#430099 499.5px,#4c0099 500.5px,#560099 560.5px,#610099 561.5px,#6c0099 632.5px,#780099 633.5px,#850099 717.5px,#920098 718.5px,#980098 755.5px,#222 757.5px,#222 757.5px)"></i>
<i style="background:linear-gradient(90deg,#222 216.5px,#222 216.5px,#009 217.5px,#009 321.5px,#000cff 322.5px,#2a00ff 399.5px,#240099 400.5px,#290099 401.5px,#310099 446.5px,#3a0099 447.5px,#430099 499.5px,#4c0099 500.5px,#560099 561.5px,#610099 562.5px,#6c0099 632.5px,#780099 633.5px,#850099 718.5px,#920098 719.5px,#980098 754.5px,#222 756.5px,#222 756.5px)"></i>
<i style="background:linear-gradient(90deg,#222 217.5px,#222 217.5px,#009 218.5px,#009 321.5px,#000cff 322.5px,#2900ff 398.5px,#240099 399.5px,#290099 402.5px,#310099 447.5px,#3a0099 448.5px,#430099 500.5px,#4c0099 501.5px,#560099 561.5px,#610099 562.5px,#6c0099 633.5px,#780099 634.5px,#850099 719.5px,#920098 720.5px,#970098 753.5px,#222 755.5px,#222 755.5px)"></i>
<i style="background:linear-gradient(90deg,#222 217.5px,#222 217.5px,#009 218.5px,#009 321.5px,#000cff 322.5px,#2800ff 397.5px,#230099 398.5px,#290099 402.5px,#310099 447.5px,#3a0099 448.5px,#430099 500.5px,#4c0099 501.5px,#560099 562.5px,#610099 563.5px,#6c0099 634.5px,#780099 635.5px,#850099 720.5px,#920098 721.5px,#970098 752.5px,#222 754.5px,#222 754.5px)"></i>
<i style="background:linear-gradient(90deg,#222 218.5px,#222 218.5px,#009 219.5px,#009 321.5px,#000bff 322.5px,#2800ff 396.5px,#230099 397.5px,#290099 402.5px,#310099 448.5px,#3a0099 449.5px,#430099 501.5px,#4c0099 502.5px,#560099 562.5px,#610099 563.5px,#6c0099 635.5px,#780099 636.5px,#850099 721.5px,#920098 722.5px,#970098 752.5px,#222 753.5px,#222 753.5px)"></i>
<i style="background:linear-gradient(90deg,#222 218.5px,#222 218.5px,#009 220.5px,#009 321.5px,#000bff 322.5px,#2700ff 395.5px,#209 396.5px,#290099 403.5px,#310099 448.5px,#3a0099 449.5px,#430099 501.5px,#4c0099 502.5px,#560099 563.5px,#610099 564.5px,#6c0099 635.5px,#780099 636.5px,#850099 721.5px,#920098 722.5px,#970098 751.5px,#222 752.5px,#222 752.5px)"></i>
<i style="background:linear-gradient(90deg,#222 219.5px,#222 219.5px,#009 220.5px,#009 322.5px,#000bff 323.5px,#2700ff 395.5px,#209 396.5px,#290099 403.5px,#310099 448.5px,#3a0099 449.5px,#430099 502.5px,#4c0099 503.5px,#560099 564.5px,#610099 565.5px,#6c0099 636.5px,#780099 637.5px,#850099 722.5px,#920098 723.5px,#960098 750.5px,#222 751.5px,#222 751.5px)"></i>
<i style="background:linear-gradient(90deg,#222 220.5px,#222 220.5px,#009 221.5px,#009 322.5px,#000bff 323.5px,#2600ff 394.5px,#209 395.5px,#290099 403.5px,#310099 449.5px,#3a0099 450.5px,#430099 502.5px,#4c0099 503.5px,#560099 564.5px,#610099 565.5px,#6c0099 637.5px,#780099 638.5px,#850099 723.5px,#920098 724.5px,#960098 749.5px,#222 750.5px,#222 750.5px)"></i>
<i style="background:linear-gradient(90deg,#222 220.5px,#222 220.5px,#009 222.5px,#009 322.5px,#000bff 323.5px,#2500ff 393.5px,#210099 394.5px,#290099 403.5px,#310099 449.5px,#3a0099 450.5px,#430099 503.5px,#4c0099 504.5px,#560099 565.5px,#610099 566.5px,#6c0099 638.5px,#780099 639.5px,#850099 724.5px,#920098 725.5px,#960098 748.5px,#222 749.5px,#222 749.5px)"></i>
<i style="background:linear-gradient(90deg,#222 221.5px,#222 221.5px,#009 222.5px,#009 322.5px,#000aff 323.5px,#2500ff 392.5px,#210099 393.5px,#290099 404.5px,#310099 450.5px,#3a0099 451.5px,#430099 503.5px,#4c0099 504.5px,#560099 565.5px,#610099 566.5px,#6c0099 638.5px,#780099 639.5px,#850099 725.5px,#920098 726.5px,#950098 747.5px,#222 748.5px,#222 748.5px)"></i>
<i style="background:linear-gradient(90deg,#222 222.5px,#222 222.5px,#009 223.5px,#009 322.5px,#000aff 323.5px,#2400ff 391.5px,#200099 392.5px,#290099 404.5px,#310099 450.5px,#3a0099 451.5px,#430099 504.5px,#4c0099 505.5px,#560099 566.5px,#610099 567.5px,#6c0099 639.5px,#780099 640.5px,#850099 726.5px,#920098 727.5px,#950098 746.5px,#222 747.5px,#222 747.5px)"></i>
<i style="background:linear-gradient(90deg,#222 222.5px,#222 222.5px,#009 224.5px,#009 322.5px,#000aff 323.5px,#2300ff 390.5px,#200099 391.5px,#290099 404.5px,#310099 450.5px,#3a0099 451.5px,#430099 504.5px,#4c0099 505.5px,#560099 567.5px,#610099 568.5px,#6c0099 640.5px,#780099 641.5px,#850099 727.5px,#920098 728.5px,#950098 745.5px,#222 746.5px,#222 746.5px)"></i>
<i style="background:linear-gradient(90deg,#222 223.5px,#222 223.5px,#009 224.5px,#009 323.5px,#000aff 324.5px,#2300ff 389.5px,#200099 390.5px,#290099 405.5px,#310099 451.5px,#3a0099 452.5px,#430099 505.5px,#4c0099 506.5px,#560099 567.5px,#610099 568.5px,#6c0099 641.5px,#780099 642.5px,#850099 728.5px,#920098 729.5px,#950098 744.5px,#222 746.5px,#222 746.5px)"></i>
<i style="background:linear-gradient(90deg,#222 224.5px,#222 224.5px,#009 225.5px,#009 323.5px,#000aff 324.5px,#20f 388.5px,#1f0099 389.5px,#290099 405.5px,#310099 451.5px,#3a0099 452.5px,#430099 505.5px,#4c0099 506.5px,#560099 568.5px,#610099 569.5px,#6c0099 641.5px,#780099 642.5px,#850099 729.5px,#920098 730.5px,#940098 743.5px,#222 745.5px,#222 745.5px)"></i>
<i style="background:linear-gradient(90deg,#222 224.5px,#222 224.5px,#009 226.5px,#009 323.5px,#000aff 324.5px,#2100ff 387.5px,#1e0099 388.5px,#290099 405.5px,#310099 451.5px,#3a0099 452.5px,#430099 506.5px,#4c0099 507.5px,#560099 568.5px,#610099 569.5px,#6c0099 642.5px,#780099 643.5px,#850099 729.5px,#920098 730.5px,#940098 742.5px,#222 744.5px,#222 744.5px)"></i>
<i style="background:linear-gradient(90deg,#222 225.5px,#222 225.5px,#009 226.5px,#009 323.5px,#0009ff 324.5px,#2100ff 386.5px,#1e0099 387.5px,#290099 406.5px,#310099 452.5px,#3a0099 453.5px,#430099 506.5px,#4c0099 507.5px,#560099 569.5px,#610099 570.5px,#6c0099 643.5px,#780099 644.5px,#850099 730.5px,#920098 731.5px,#940098 741.5px,#222 743.5px,#222 743.5px)"></i>
<i style="background:linear-gradient(90deg,#222 226.5px,#222 226.5px,#009 227.5px,#009 323.5px,#0009ff 324.5px,#2000ff 385.5px,#1e0099 386.5px,#290099 406.5px,#310099 452.5px,#3a0099 453.5px,#430099 507.5px,#4c0099 508.5px,#560099 570.5px,#610099 571.5px,#6c0099 643.5px,#780099 644.5px,#850099 731.5px,#920098 732.5px,#940098 740.5px,#222 742.5px,#222 742.5px)"></i>
<i style="background:linear-gradient(90deg,#222 226.5px,#222 226.5px,#009 228.5px,#009 323.5px,#0009ff 324.5px,#1f00ff 384.5px,#1c0099 385.5px,#290099 406.5px,#310099 453.5px,#3a0099 454.5px,#430099 507.5px,#4c0099 508.5px,#560099 570.5px,#610099 571.5px,#6c0099 644.5px,#780099 645.5px,#850099 732.5px,#920098 733.5px,#930098 739.5px,#222 741.5px,#222 741.5px)"></i>
<i style="background:linear-gradient(90deg,#222 227.5px,#222 227.5px,#009 228.5px,#009 324.5px,#0109ff 325.5px,#1f00ff 383.5px,#1c0099 384.5px,#290099 406.5px,#310099 453.5px,#3a0099 454.5px,#430099 508.5px,#4c0099 509.5px,#560099 571.5px,#610099 572.5px,#6c0099 645.5px,#780099 646.5px,#850099 733.5px,#920098 734.5px,#930098 738.5px,#222 740.5px,#222 740.5px)"></i>
<i style="background:linear-gradient(90deg,#222 228.5px,#222 228.5px,#009 229.5px,#009 324.5px,#0009ff 325.5px,#1e00ff 382.5px,#1c0099 383.5px,#290099 407.5px,#310099 453.5px,#3a0099 454.5px,#430099 508.5px,#4c0099 509.5px,#560099 571.5px,#610099 572.5px,#6c0099 646.5px,#780099 647.5px,#850099 734.5px,#920098 735.5px,#930098 738.5px,#222 739.5px,#222 739.5px)"></i>
<i style="background:linear-gradient(90deg,#222 228.5px,#222 228.5px,#009 230.5px,#009 324.5px,#0008ff 325.5px,#1d00ff 381.5px,#1c0099 382.5px,#290099 407.5px,#310099 454.5px,#3a0099 455.5px,#430099 509.5px,#4c0099 510.5px,#560099 572.5px,#610099 573.5px,#6c0099 646.5px,#780099 647.5px,#850099 735.5px,#920098 736.5px,#930098 737.5px,#222 738.5px,#222 738.5px)"></i>
<i style="background:linear-gradient(90deg,#222 229.5px,#222 229.5px,#009 230.5px,#009 324.5px,#0008ff 325.5px,#1d00ff 380.5px,#1b0099 381.5px,#290099 407.5px,#310099 454.5px,#3a0099 455.5px,#430099 509.5px,#4c0099 510.5px,#560099 573.5px,#610099 574.5px,#6c0099 647.5px,#780099 648.5px,#850099 736.5px,#222 737.5px,#222 737.5px)"></i>
<i style="background:linear-gradient(90deg,#222 230.5px,#222 230.5px,#009 231.5px,#009 324.5px,#0008ff 325.5px,#1c00ff 379.5px,#1b0099 380.5px,#290099 408.5px,#310099 455.5px,#3a0099 456.5px,#430099 509.5px,#4c0099 510.5px,#560099 573.5px,#610099 574.5px,#6c0099 648.5px,#780099 649.5px,#850099 735.5px,#222 736.5px,#222 736.5px)"></i>
<i style="background:linear-gradient(90deg,#222 230.5px,#222 230.5px,#009 232.5px,#009 324.5px,#0008ff 325.5px,#1c00ff 379.5px,#1b0099 380.5px,#290099 408.5px,#310099 455.5px,#3a0099 456.5px,#430099 510.5px,#4c0099 511.5px,#560099 574.5px,#610099 575.5px,#6c0099 649.5px,#780099 650.5px,#840099 734.5px,#222 735.5px,#222 735.5px)"></i>
<i style="background:linear-gradient(90deg,#222 231.5px,#222 231.5px,#009 232.5px,#009 324.5px,#0008ff 325.5px,#1b00ff 378.5px,#009 379.5px,#1b0099 380.5px,#290099 408.5px,#310099 455.5px,#3a0099 456.5px,#430099 510.5px,#4c0099 511.5px,#560099 574.5px,#610099 575.5px,#6c0099 649.5px,#780099 650.5px,#840099 733.5px,#222 734.5px,#222 734.5px)"></i>
<i style="background:linear-gradient(90deg,#222 232.5px,#222 232.5px,#009 233.5px,#009 325.5px,#0008ff 326.5px,#1b00ff 377.5px,#009 378.5px,#009 379.5px,#1b0099 380.5px,#290099 409.5px,#310099 456.5px,#3a0099 457.5px,#430099 511.5px,#4c0099 512.5px,#560099 575.5px,#610099 576.5px,#6c0099 650.5px,#780099 651.5px,#840099 732.5px,#222 733.5px,#222 733.5px)"></i>
<i style="background:linear-gradient(90deg,#222 232.5px,#222 232.5px,#009 234.5px,#009 325.5px,#0007ff 326.5px,#1a00ff 376.5px,#009 377.5px,#009 379.5px,#1b0099 381.5px,#290099 409.5px,#310099 456.5px,#3a0099 457.5px,#430099 511.5px,#4c0099 512.5px,#560099 576.5px,#610099 577.5px,#6c0099 651.5px,#780099 652.5px,#840099 731.5px,#222 732.5px,#222 732.5px)"></i>
<i style="background:linear-gradient(90deg,#222 233.5px,#222 233.5px,#009 234.5px,#009 325.5px,#0007ff 326.5px,#1900ff 375.5px,#009 376.5px,#009 380.5px,#1b0099 381.5px,#290099 409.5px,#310099 456.5px,#3a0099 457.5px,#430099 512.5px,#4c0099 513.5px,#560099 576.5px,#610099 577.5px,#6c0099 651.5px,#780099 652.5px,#830099 730.5px,#222 732.5px,#222 732.5px)"></i>
<i style="background:linear-gradient(90deg,#222 234.5px,#222 234.5px,#009 235.5px,#009 325.5px,#0007ff 326.5px,#1900ff 374.5px,#009 375.5px,#009 380.5px,#1b0099 381.5px,#240099 408.5px,#290099 409.5px,#310099 457.5px,#3a0099 458.5px,#430099 512.5px,#4c0099 513.5px,#560099 577.5px,#610099 578.5px,#6c0099 652.5px,#780099 653.5px,#830099 729.5px,#222 731.5px,#222 731.5px)"></i>
<i style="background:linear-gradient(90deg,#222 234.5px,#222 234.5px,#009 236.5px,#009 325.5px,#0007ff 326.5px,#1800ff 373.5px,#009 374.5px,#009 380.5px,#1b0099 381.5px,#290099 410.5px,#310099 457.5px,#3a0099 458.5px,#430099 513.5px,#4c0099 514.5px,#560099 577.5px,#610099 578.5px,#6c0099 653.5px,#780099 654.5px,#830099 728.5px,#222 730.5px,#222 730.5px)"></i>
<i style="background:linear-gradient(90deg,#222 235.5px,#222 235.5px,#009 236.5px,#009 325.5px,#0007ff 326.5px,#1700ff 372.5px,#009 373.5px,#009 380.5px,#1b0099 382.5px,#290099 410.5px,#310099 458.5px,#3a0099 459.5px,#430099 513.5px,#4c0099 514.5px,#560099 578.5px,#610099 579.5px,#6c0099 654.5px,#780099 655.5px,#820099 727.5px,#222 729.5px,#222 729.5px)"></i>
<i style="background:linear-gradient(90deg,#222 236.5px,#222 236.5px,#009 237.5px,#009 326.5px,#0006ff 327.5px,#1700ff 371.5px,#009 372.5px,#009 381.5px,#1b0099 382.5px,#290099 410.5px,#310099 458.5px,#3a0099 459.5px,#430099 514.5px,#4c0099 515.5px,#560099 579.5px,#610099 580.5px,#6c0099 654.5px,#780099 655.5px,#820099 726.5px,#222 728.5px,#222 728.5px)"></i>
<i style="background:linear-gradient(90deg,#222 236.5px,#222 236.5px,#009 238.5px,#009 326.5px,#0006ff 327.5px,#1600ff 370.5px,#009 371.5px,#009 381.5px,#1b0099 382.5px,#290099 411.5px,#310099 458.5px,#3a0099 459.5px,#430099 514.5px,#4c0099 515.5px,#560099 579.5px,#610099 580.5px,#6c0099 655.5px,#780099 656.5px,#820099 725.5px,#222 727.5px,#222 727.5px)"></i>
<i style="background:linear-gradient(90deg,#222 237.5px,#222 237.5px,#009 238.5px,#009 326.5px,#0006ff 327.5px,#1600ff 369.5px,#009 370.5px,#009 381.5px,#1b0099 382.5px,#250099 410.5px,#290099 411.5px,#310099 459.5px,#3a0099 460.5px,#430099 515.5px,#4c0099 516.5px,#560099 580.5px,#610099 581.5px,#6c0099 656.5px,#780099 657.5px,#820099 724.5px,#222 726.5px,#222 726.5px)"></i>
<i style="background:linear-gradient(90deg,#222 238.5px,#222 238.5px,#009 239.5px,#009 326.5px,#0006ff 327.5px,#1500ff 368.5px,#009 369.5px,#009 381.5px,#1b0099 383.5px,#290099 411.5px,#310099 459.5px,#3a0099 460.5px,#430099 515.5px,#4c0099 516.5px,#560099 580.5px,#610099 581.5px,#6c0099 657.5px,#780099 658.5px,#820099 724.5px,#222 725.5px,#222 725.5px)"></i>
<i style="background:linear-gradient(90deg,#222 238.5px,#222 238.5px,#009 240.5px,#009 326.5px,#0006ff 327.5px,#1400ff 367.5px,#009 368.5px,#009 382.5px,#1b0099 383.5px,#290099 412.5px,#310099 460.5px,#3a0099 461.5px,#430099 516.5px,#4c0099 517.5px,#560099 581.5px,#610099 582.5px,#6c0099 657.5px,#780099 658.5px,#810099 723.5px,#222 724.5px,#222 724.5px)"></i>
<i style="background:linear-gradient(90deg,#222 239.5px,#222 239.5px,#009 240.5px,#009 326.5px,#0006ff 327.5px,#1400ff 366.5px,#009 367.5px,#009 382.5px,#1b0099 383.5px,#290099 412.5px,#310099 460.5px,#3a0099 461.5px,#430099 516.5px,#4c0099 517.5px,#560099 582.5px,#610099 583.5px,#6c0099 658.5px,#780099 659.5px,#810099 722.5px,#222 723.5px,#222 723.5px)"></i>
<i style="background:linear-gradient(90deg,#222 240.5px,#222 240.5px,#009 241.5px,#009 326.5px,#0006ff 327.5px,#1300ff 365.5px,#009 366.5px,#009 382.5px,#1b0099 384.5px,#290099 412.5px,#310099 460.5px,#3a0099 461.5px,#430099 517.5px,#4c0099 518.5px,#560099 582.5px,#610099 583.5px,#6c0099 659.5px,#780099 660.5px,#810099 721.5px,#222 722.5px,#222 722.5px)"></i>
<i style="background:linear-gradient(90deg,#222 240.5px,#222 240.5px,#009 242.5px,#009 327.5px,#0005ff 328.5px,#1200ff 364.5px,#009 365.5px,#009 382.5px,#1b0099 384.5px,#240099 411.5px,#290099 412.5px,#310099 461.5px,#3a0099 462.5px,#430099 517.5px,#4c0099 518.5px,#560099 583.5px,#610099 584.5px,#6c0099 659.5px,#780099 660.5px,#800099 720.5px,#222 721.5px,#222 721.5px)"></i>
<i style="background:linear-gradient(90deg,#222 241.5px,#222 241.5px,#009 242.5px,#009 327.5px,#0005ff 328.5px,#1200ff 363.5px,#009 364.5px,#009 383.5px,#1b0099 384.5px,#290099 413.5px,#310099 461.5px,#3a0099 462.5px,#430099 518.5px,#4c0099 519.5px,#560099 583.5px,#610099 584.5px,#6c0099 660.5px,#780099 661.5px,#800099 719.5px,#222 720.5px,#222 720.5px)"></i>
<i style="background:linear-gradient(90deg,#222 242.5px,#222 242.5px,#009 243.5px,#009 327.5px,#0005ff 328.5px,#10f 362.5px,#009 363.5px,#009 383.5px,#1b0099 384.5px,#240099 412.5px,#290099 413.5px,#310099 462.5px,#3a0099 463.5px,#430099 518.5px,#4c0099 519.5px,#560099 584.5px,#610099 585.5px,#6c0099 661.5px,#780099 662.5px,#800099 718.5px,#222 719.5px,#222 719.5px)"></i>
<i style="background:linear-gradient(90deg,#222 242.5px,#222 242.5px,#009 244.5px,#009 327.5px,#0005ff 328.5px,#10f 362.5px,#009 363.5px,#009 383.5px,#1b0099 385.5px,#290099 413.5px,#310099 462.5px,#3a0099 463.5px,#430099 519.5px,#4c0099 520.5px,#560099 584.5px,#610099 585.5px,#6c0099 662.5px,#780099 663.5px,#800099 717.5px,#222 718.5px,#222 718.5px)"></i>
<i style="background:linear-gradient(90deg,#222 243.5px,#222 243.5px,#009 244.5px,#009 327.5px,#0005ff 328.5px,#10f 361.5px,#009 362.5px,#009 383.5px,#1b0099 385.5px,#290099 414.5px,#310099 462.5px,#3a0099 463.5px,#430099 519.5px,#4c0099 520.5px,#560099 585.5px,#610099 586.5px,#6c0099 662.5px,#780099 663.5px,#7f0099 716.5px,#222 717.5px,#222 717.5px)"></i>
<i style="background:linear-gradient(90deg,#222 244.5px,#222 244.5px,#009 245.5px,#009 327.5px,#0005ff 328.5px,#1000ff 360.5px,#009 361.5px,#009 384.5px,#1b0099 385.5px,#250099 413.5px,#290099 414.5px,#310099 463.5px,#3a0099 464.5px,#430099 520.5px,#4c0099 521.5px,#560099 586.5px,#610099 587.5px,#6c0099 663.5px,#780099 664.5px,#7f0099 715.5px,#222 717.5px,#222 717.5px)"></i>
<i style="background:linear-gradient(90deg,#222 244.5px,#222 244.5px,#009 246.5px,#009 328.5px,#0004ff 329.5px,#0f00ff 359.5px,#009 360.5px,#009 384.5px,#1b0099 385.5px,#240099 413.5px,#290099 414.5px,#310099 463.5px,#3a0099 464.5px,#430099 520.5px,#4c0099 521.5px,#560099 586.5px,#610099 587.5px,#6c0099 664.5px,#780099 665.5px,#7f0099 714.5px,#222 716.5px,#222 716.5px)"></i>
<i style="background:linear-gradient(90deg,#222 245.5px,#222 245.5px,#009 246.5px,#009 328.5px,#0004ff 329.5px,#0f00ff 358.5px,#009 359.5px,#009 384.5px,#1b0099 386.5px,#290099 415.5px,#310099 463.5px,#3a0099 464.5px,#430099 521.5px,#4c0099 522.5px,#560099 587.5px,#610099 588.5px,#6c0099 665.5px,#780099 666.5px,#7f0099 713.5px,#222 715.5px,#222 715.5px)"></i>
<i style="background:linear-gradient(90deg,#222 246.5px,#222 246.5px,#009 247.5px,#009 328.5px,#0004ff 329.5px,#0e00ff 357.5px,#009 358.5px,#009 384.5px,#1b0099 386.5px,#290099 415.5px,#310099 464.5px,#3a0099 465.5px,#430099 521.5px,#4c0099 522.5px,#560099 587.5px,#610099 588.5px,#6c0099 665.5px,#780099 666.5px,#7e0099 712.5px,#222 714.5px,#222 714.5px)"></i>
<i style="background:linear-gradient(90deg,#222 247.5px,#222 247.5px,#009 248.5px,#009 328.5px,#0004ff 329.5px,#0e00ff 356.5px,#009 357.5px,#009 385.5px,#1b0099 386.5px,#240099 414.5px,#290099 415.5px,#310099 464.5px,#3a0099 465.5px,#430099 522.5px,#4c0099 523.5px,#560099 588.5px,#610099 589.5px,#6c0099 666.5px,#780099 667.5px,#7e0099 711.5px,#222 713.5px,#222 713.5px)"></i>
<i style="background:linear-gradient(90deg,#222 247.5px,#222 247.5px,#009 249.5px,#009 328.5px,#0004ff 329.5px,#0d00ff 355.5px,#009 356.5px,#009 385.5px,#1b0099 386.5px,#240099 414.5px,#290099 415.5px,#310099 465.5px,#3a0099 466.5px,#430099 522.5px,#4c0099 523.5px,#560099 589.5px,#610099 590.5px,#6c0099 667.5px,#780099 668.5px,#7e0099 710.5px,#222 712.5px,#222 712.5px)"></i>
<i style="background:linear-gradient(90deg,#222 248.5px,#222 248.5px,#009 249.5px,#009 328.5px,#0004ff 329.5px,#0c00ff 354.5px,#009 355.5px,#009 385.5px,#1b0099 387.5px,#290099 416.5px,#310099 465.5px,#3a0099 466.5px,#430099 523.5px,#4c0099 524.5px,#560099 589.5px,#610099 590.5px,#6c0099 667.5px,#780099 668.5px,#7e0099 709.5px,#222 711.5px,#222 711.5px)"></i>
<i style="background:linear-gradient(90deg,#222 249.5px,#222 249.5px,#009 250.5px,#009 328.5px,#0003ff 329.5px,#0c00ff 353.5px,#009 354.5px,#009 385.5px,#1b0099 387.5px,#240099 415.5px,#290099 416.5px,#310099 465.5px,#3a0099 466.5px,#430099 523.5px,#4c0099 524.5px,#560099 590.5px,#610099 591.5px,#6c0099 668.5px,#780099 669.5px,#7e0099 709.5px,#222 710.5px,#222 710.5px)"></i>
<i style="background:linear-gradient(90deg,#222 249.5px,#222 249.5px,#009 251.5px,#009 329.5px,#0003ff 330.5px,#0b00ff 352.5px,#009 353.5px,#009 386.5px,#1b0099 387.5px,#240099 415.5px,#290099 416.5px,#310099 466.5px,#3a0099 467.5px,#430099 524.5px,#4c0099 525.5px,#560099 590.5px,#610099 591.5px,#6c0099 669.5px,#780099 670.5px,#7d0099 708.5px,#222 709.5px,#222 709.5px)"></i>
<i style="background:linear-gradient(90deg,#222 250.5px,#222 250.5px,#009 251.5px,#009 329.5px,#0003ff 330.5px,#0b00ff 351.5px,#009 352.5px,#009 386.5px,#1b0099 387.5px,#290099 417.5px,#310099 466.5px,#3a0099 467.5px,#430099 524.5px,#4c0099 525.5px,#560099 591.5px,#610099 592.5px,#6c0099 670.5px,#780099 671.5px,#7d0099 707.5px,#222 708.5px,#222 708.5px)"></i>
<i style="background:linear-gradient(90deg,#222 251.5px,#222 251.5px,#009 252.5px,#009 329.5px,#0003ff 330.5px,#0a00ff 350.5px,#009 351.5px,#009 386.5px,#1b0099 388.5px,#250099 416.5px,#290099 417.5px,#310099 467.5px,#3a0099 468.5px,#430099 524.5px,#4c0099 525.5px,#560099 592.5px,#610099 593.5px,#6c0099 670.5px,#780099 671.5px,#7d0099 706.5px,#222 707.5px,#222 707.5px)"></i>
<i style="background:linear-gradient(90deg,#222 251.5px,#222 251.5px,#009 253.5px,#009 329.5px,#0003ff 330.5px,#0900ff 349.5px,#009 350.5px,#009 387.5px,#1b0099 388.5px,#240099 416.5px,#290099 417.5px,#310099 467.5px,#3a0099 468.5px,#430099 525.5px,#4c0099 526.5px,#560099 592.5px,#610099 593.5px,#6c0099 671.5px,#780099 672.5px,#7d0099 705.5px,#222 706.5px,#222 706.5px)"></i>
<i style="background:linear-gradient(90deg,#222 252.5px,#222 252.5px,#009 253.5px,#009 329.5px,#0003ff 330.5px,#0900ff 348.5px,#009 349.5px,#009 387.5px,#1b0099 388.5px,#290099 418.5px,#310099 467.5px,#3a0099 468.5px,#430099 525.5px,#4c0099 526.5px,#560099 593.5px,#610099 594.5px,#6c0099 672.5px,#780099 673.5px,#7c0099 704.5px,#222 705.5px,#222 705.5px)"></i>
<i style="background:linear-gradient(90deg,#222 253.5px,#222 253.5px,#009 254.5px,#009 329.5px,#0002ff 330.5px,#0800ff 347.5px,#009 348.5px,#009 387.5px,#1b0099 388.5px,#290099 418.5px,#310099 468.5px,#3a0099 469.5px,#430099 526.5px,#4c0099 527.5px,#560099 593.5px,#610099 594.5px,#6c0099 673.5px,#780099 674.5px,#7c0099 703.5px,#222 704.5px,#222 704.5px)"></i>
<i style="background:linear-gradient(90deg,#222 253.5px,#222 253.5px,#009 255.5px,#009 330.5px,#0002ff 331.5px,#0800ff 346.5px,#009 347.5px,#009 387.5px,#1b0099 389.5px,#240099 417.5px,#290099 418.5px,#310099 468.5px,#3a0099 469.5px,#430099 526.5px,#4c0099 527.5px,#560099 594.5px,#610099 595.5px,#6c0099 673.5px,#780099 674.5px,#7c0099 702.5px,#222 703.5px,#222 703.5px)"></i>
<i style="background:linear-gradient(90deg,#222 254.5px,#222 254.5px,#009 256.5px,#009 330.5px,#0002ff 331.5px,#0800ff 346.5px,#009 347.5px,#009 388.5px,#1b0099 389.5px,#290099 419.5px,#310099 468.5px,#3a0099 469.5px,#430099 527.5px,#4c0099 528.5px,#560099 595.5px,#610099 596.5px,#6c0099 674.5px,#780099 675.5px,#7c0099 701.5px,#222 703.5px,#222 703.5px)"></i>
<i style="background:linear-gradient(90deg,#222 255.5px,#222 255.5px,#009 256.5px,#009 330.5px,#0002ff 331.5px,#0700ff 345.5px,#009 346.5px,#009 388.5px,#1b0099 389.5px,#290099 419.5px,#310099 469.5px,#3a0099 470.5px,#430099 527.5px,#4c0099 528.5px,#560099 595.5px,#610099 596.5px,#6c0099 675.5px,#780099 676.5px,#7b0099 700.5px,#222 702.5px,#222 702.5px)"></i>
<i style="background:linear-gradient(90deg,#222 256.5px,#222 256.5px,#009 257.5px,#009 330.5px,#0002ff 331.5px,#0600ff 344.5px,#009 345.5px,#009 388.5px,#1b0099 389.5px,#240099 418.5px,#290099 419.5px,#310099 469.5px,#3a0099 470.5px,#430099 528.5px,#4c0099 529.5px,#560099 596.5px,#610099 597.5px,#6c0099 675.5px,#780099 676.5px,#7b0099 699.5px,#222 701.5px,#222 701.5px)"></i>
<i style="background:linear-gradient(90deg,#222 256.5px,#222 256.5px,#009 258.5px,#009 330.5px,#0002ff 331.5px,#0600ff 343.5px,#009 344.5px,#009 388.5px,#1b0099 390.5px,#240099 418.5px,#290099 419.5px,#310099 470.5px,#3a0099 471.5px,#430099 528.5px,#4c0099 529.5px,#560099 596.5px,#610099 597.5px,#6c0099 676.5px,#780099 677.5px,#7b0099 698.5px,#222 700.5px,#222 700.5px)"></i>
<i style="background:linear-gradient(90deg,#222 257.5px,#222 257.5px,#009 258.5px,#009 330.5px,#0002ff 331.5px,#0500ff 342.5px,#009 343.5px,#009 389.5px,#1b0099 390.5px,#290099 420.5px,#310099 470.5px,#3a0099 471.5px,#430099 529.5px,#4c0099 530.5px,#560099 597.5px,#610099 598.5px,#6c0099 677.5px,#780099 678.5px,#7b0099 697.5px,#222 699.5px,#222 699.5px)"></i>
<i style="background:linear-gradient(90deg,#222 258.5px,#222 258.5px,#009 259.5px,#009 331.5px,#0001ff 332.5px,#0500ff 341.5px,#009 342.5px,#009 389.5px,#1b0099 390.5px,#250099 419.5px,#290099 420.5px,#310099 470.5px,#3a0099 471.5px,#430099 529.5px,#4c0099 530.5px,#560099 598.5px,#610099 599.5px,#6c0099 678.5px,#780099 679.5px,#7a0099 696.5px,#222 698.5px,#222 698.5px)"></i>
<i style="background:linear-gradient(90deg,#222 258.5px,#222 258.5px,#009 260.5px,#009 331.5px,#0001ff 332.5px,#0400ff 340.5px,#009 341.5px,#009 389.5px,#1b0099 390.5px,#240099 419.5px,#290099 420.5px,#310099 471.5px,#3a0099 472.5px,#430099 530.5px,#4c0099 531.5px,#560099 598.5px,#610099 599.5px,#6c0099 678.5px,#780099 679.5px,#7a0099 695.5px,#222 697.5px,#222 697.5px)"></i>
<i style="background:linear-gradient(90deg,#222 259.5px,#222 259.5px,#009 261.5px,#009 331.5px,#0001ff 332.5px,#0400ff 339.5px,#009 340.5px,#009 389.5px,#1b0099 391.5px,#290099 421.5px,#310099 471.5px,#3a0099 472.5px,#430099 530.5px,#4c0099 531.5px,#560099 599.5px,#610099 600.5px,#6c0099 679.5px,#780099 680.5px,#7a0099 695.5px,#222 696.5px,#222 696.5px)"></i>
<i style="background:linear-gradient(90deg,#222 260.5px,#222 260.5px,#009 261.5px,#009 331.5px,#0001ff 332.5px,#0300ff 338.5px,#009 339.5px,#009 390.5px,#1b0099 391.5px,#290099 421.5px,#310099 472.5px,#3a0099 473.5px,#430099 531.5px,#4c0099 532.5px,#560099 599.5px,#610099 600.5px,#6c0099 680.5px,#780099 681.5px,#7a0099 694.5px,#222 695.5px,#222 695.5px)"></i>
<i style="background:linear-gradient(90deg,#222 261.5px,#222 261.5px,#009 262.5px,#009 331.5px,#0001ff 332.5px,#0300ff 337.5px,#009 338.5px,#009 390.5px,#1b0099 391.5px,#240099 420.5px,#290099 421.5px,#310099 472.5px,#3a0099 473.5px,#430099 531.5px,#4c0099 532.5px,#560099 600.5px,#610099 601.5px,#6c0099 681.5px,#780099 682.5px,#790099 693.5px,#222 694.5px,#222 694.5px)"></i>
<i style="background:linear-gradient(90deg,#222 261.5px,#222 261.5px,#009 263.5px,#009 331.5px,#0001ff 332.5px,#0200ff 336.5px,#009 337.5px,#009 390.5px,#1b0099 391.5px,#290099 422.5px,#310099 472.5px,#3a0099 473.5px,#430099 532.5px,#4c0099 533.5px,#560099 601.5px,#610099 602.5px,#6c0099 681.5px,#780099 682.5px,#790099 692.5px,#222 693.5px,#222 693.5px)"></i>
<i style="background:linear-gradient(90deg,#222 262.5px,#222 262.5px,#009 263.5px,#009 331.5px,#00f 332.5px,#0100ff 335.5px,#009 336.5px,#009 390.5px,#1b0099 392.5px,#290099 422.5px,#310099 473.5px,#3a0099 474.5px,#430099 532.5px,#4c0099 533.5px,#560099 601.5px,#610099 602.5px,#6c0099 682.5px,#780099 683.5px,#790099 691.5px,#222 692.5px,#222 692.5px)"></i>
<i style="background:linear-gradient(90deg,#222 263.5px,#222 263.5px,#009 264.5px,#009 332.5px,#00f 333.5px,#0100ff 334.5px,#009 335.5px,#009 391.5px,#1b0099 392.5px,#240099 421.5px,#290099 422.5px,#310099 473.5px,#3a0099 474.5px,#430099 533.5px,#4c0099 534.5px,#560099 602.5px,#610099 603.5px,#6c0099 683.5px,#780099 684.5px,#790099 690.5px,#222 691.5px,#222 691.5px)"></i>
<i style="background:linear-gradient(90deg,#222 263.5px,#222 263.5px,#009 265.5px,#009 332.5px,#00f 333.5px,#009 334.5px,#009 391.5px,#1b0099 392.5px,#240099 421.5px,#290099 422.5px,#310099 473.5px,#3a0099 474.5px,#430099 533.5px,#4c0099 534.5px,#560099 602.5px,#610099 603.5px,#6c0099 683.5px,#780099 684.5px,#790099 689.5px,#222 690.5px,#222 690.5px)"></i>
<i style="background:linear-gradient(90deg,#222 264.5px,#222 264.5px,#009 266.5px,#009 391.5px,#1b0099 392.5px,#290099 423.5px,#310099 474.5px,#3a0099 475.5px,#430099 534.5px,#4c0099 535.5px,#560099 603.5px,#610099 604.5px,#6c0099 684.5px,#780099 685.5px,#780099 688.5px,#222 689.5px,#222 689.5px)"></i>
<i style="background:linear-gradient(90deg,#222 265.5px,#222 265.5px,#009 266.5px,#009 391.5px,#1b0099 393.5px,#250099 422.5px,#290099 423.5px,#310099 474.5px,#3a0099 475.5px,#430099 534.5px,#4c0099 535.5px,#560099 604.5px,#610099 605.5px,#6c0099 685.5px,#780099 686.5px,#780099 687.5px,#222 688.5px,#222 688.5px)"></i>
<i style="background:linear-gradient(90deg,#222 266.5px,#222 266.5px,#009 267.5px,#009 392.5px,#1b0099 393.5px,#240099 422.5px,#290099 423.5px,#310099 475.5px,#3a0099 476.5px,#430099 535.5px,#4c0099 536.5px,#560099 604.5px,#610099 605.5px,#6c0099 686.5px,#4d115e 687.5px,#222 688.5px,#222 688.5px)"></i>
<i style="background:linear-gradient(90deg,#222 266.5px,#222 266.5px,#009 268.5px,#009 392.5px,#1b0099 393.5px,#290099 424.5px,#310099 475.5px,#3a0099 476.5px,#430099 535.5px,#4c0099 536.5px,#560099 605.5px,#610099 606.5px,#6c0099 685.5px,#222 687.5px,#222 687.5px)"></i>
<i style="background:linear-gradient(90deg,#222 267.5px,#222 267.5px,#009 268.5px,#009 392.5px,#1b0099 393.5px,#290099 424.5px,#310099 475.5px,#3a0099 476.5px,#430099 536.5px,#4c0099 537.5px,#560099 605.5px,#610099 606.5px,#6b0099 684.5px,#222 686.5px,#222 686.5px)"></i>
<i style="background:linear-gradient(90deg,#222 268.5px,#222 268.5px,#009 269.5px,#009 392.5px,#1b0099 394.5px,#240099 423.5px,#290099 424.5px,#310099 476.5px,#3a0099 477.5px,#430099 536.5px,#4c0099 537.5px,#560099 606.5px,#610099 607.5px,#6b0099 683.5px,#222 685.5px,#222 685.5px)"></i>
<i style="background:linear-gradient(90deg,#222 269.5px,#222 269.5px,#009 270.5px,#009 393.5px,#1b0099 394.5px,#290099 425.5px,#310099 476.5px,#3a0099 477.5px,#430099 537.5px,#4c0099 538.5px,#560099 607.5px,#610099 608.5px,#6b0099 682.5px,#222 684.5px,#222 684.5px)"></i>
<i style="background:linear-gradient(90deg,#222 269.5px,#222 269.5px,#009 271.5px,#009 393.5px,#1b0099 394.5px,#290099 425.5px,#310099 477.5px,#3a0099 478.5px,#430099 537.5px,#4c0099 538.5px,#560099 607.5px,#610099 608.5px,#6b0099 681.5px,#222 683.5px,#222 683.5px)"></i>
<i style="background:linear-gradient(90deg,#222 270.5px,#222 270.5px,#009 271.5px,#009 393.5px,#1b0099 394.5px,#240099 424.5px,#290099 425.5px,#310099 477.5px,#3a0099 478.5px,#430099 538.5px,#4c0099 539.5px,#560099 608.5px,#610099 609.5px,#6a0099 680.5px,#222 682.5px,#222 682.5px)"></i>
<i style="background:linear-gradient(90deg,#222 271.5px,#222 271.5px,#009 272.5px,#009 393.5px,#1b0099 395.5px,#240099 424.5px,#290099 425.5px,#310099 477.5px,#3a0099 478.5px,#430099 538.5px,#4c0099 539.5px,#560099 608.5px,#610099 609.5px,#6a0099 680.5px,#222 681.5px,#222 681.5px)"></i>
<i style="background:linear-gradient(90deg,#222 272.5px,#222 272.5px,#009 273.5px,#009 394.5px,#1b0099 395.5px,#290099 426.5px,#310099 478.5px,#3a0099 479.5px,#430099 539.5px,#4c0099 540.5px,#560099 609.5px,#610099 610.5px,#6a0099 679.5px,#222 680.5px,#222 680.5px)"></i>
<i style="background:linear-gradient(90deg,#222 272.5px,#222 272.5px,#009 274.5px,#009 394.5px,#1b0099 395.5px,#250099 425.5px,#290099 426.5px,#310099 478.5px,#3a0099 479.5px,#430099 539.5px,#4c0099 540.5px,#560099 610.5px,#610099 611.5px,#6a0099 678.5px,#222 679.5px,#222 679.5px)"></i>
<i style="background:linear-gradient(90deg,#222 273.5px,#222 273.5px,#009 274.5px,#009 394.5px,#1b0099 395.5px,#240099 425.5px,#290099 426.5px,#310099 479.5px,#3a0099 480.5px,#430099 539.5px,#4c0099 540.5px,#560099 610.5px,#610099 611.5px,#6a0099 677.5px,#222 678.5px,#222 678.5px)"></i>
<i style="background:linear-gradient(90deg,#222 274.5px,#222 274.5px,#009 275.5px,#009 394.5px,#1b0099 396.5px,#290099 427.5px,#310099 479.5px,#3a0099 480.5px,#430099 540.5px,#4c0099 541.5px,#560099 611.5px,#610099 612.5px,#690099 676.5px,#222 677.5px,#222 677.5px)"></i>
<i style="background:linear-gradient(90deg,#222 274.5px,#222 274.5px,#009 276.5px,#009 395.5px,#1b0099 396.5px,#290099 427.5px,#310099 479.5px,#3a0099 480.5px,#430099 540.5px,#4c0099 541.5px,#560099 611.5px,#610099 612.5px,#690099 675.5px,#222 676.5px,#222 676.5px)"></i>
<i style="background:linear-gradient(90deg,#222 275.5px,#222 275.5px,#009 277.5px,#009 395.5px,#1b0099 396.5px,#240099 426.5px,#290099 427.5px,#310099 480.5px,#3a0099 481.5px,#430099 541.5px,#4c0099 542.5px,#560099 612.5px,#610099 613.5px,#690099 674.5px,#222 675.5px,#222 675.5px)"></i>
<i style="background:linear-gradient(90deg,#222 276.5px,#222 276.5px,#009 277.5px,#009 395.5px,#1b0099 396.5px,#290099 428.5px,#310099 480.5px,#3a0099 481.5px,#430099 541.5px,#4c0099 542.5px,#560099 613.5px,#610099 614.5px,#690099 673.5px,#222 674.5px,#222 674.5px)"></i>
<i style="background:linear-gradient(90deg,#222 277.5px,#222 277.5px,#009 278.5px,#009 395.5px,#1b0099 397.5px,#290099 428.5px,#310099 480.5px,#3a0099 481.5px,#430099 542.5px,#4c0099 543.5px,#560099 613.5px,#610099 614.5px,#680099 672.5px,#222 674.5px,#222 674.5px)"></i>
<i style="background:linear-gradient(90deg,#222 277.5px,#222 277.5px,#009 279.5px,#009 396.5px,#1b0099 397.5px,#240099 427.5px,#290099 428.5px,#310099 481.5px,#3a0099 482.5px,#430099 542.5px,#4c0099 543.5px,#560099 614.5px,#610099 615.5px,#680099 671.5px,#222 673.5px,#222 673.5px)"></i>
<i style="background:linear-gradient(90deg,#222 278.5px,#222 278.5px,#009 280.5px,#009 396.5px,#1b0099 397.5px,#240099 427.5px,#290099 428.5px,#310099 481.5px,#3a0099 482.5px,#430099 543.5px,#4c0099 544.5px,#560099 614.5px,#610099 615.5px,#680099 670.5px,#222 672.5px,#222 672.5px)"></i>
<i style="background:linear-gradient(90deg,#222 279.5px,#222 279.5px,#009 280.5px,#009 396.5px,#1b0099 397.5px,#290099 429.5px,#310099 482.5px,#3a0099 483.5px,#430099 543.5px,#4c0099 544.5px,#560099 615.5px,#610099 616.5px,#680099 669.5px,#222 671.5px,#222 671.5px)"></i>
<i style="background:linear-gradient(90deg,#222 280.5px,#222 280.5px,#009 281.5px,#009 396.5px,#1b0099 398.5px,#250099 428.5px,#290099 429.5px,#310099 482.5px,#3a0099 483.5px,#430099 544.5px,#4c0099 545.5px,#560099 615.5px,#610099 616.5px,#680099 668.5px,#222 670.5px,#222 670.5px)"></i>
<i style="background:linear-gradient(90deg,#222 280.5px,#222 280.5px,#009 282.5px,#009 397.5px,#1b0099 398.5px,#240099 428.5px,#290099 429.5px,#310099 482.5px,#3a0099 483.5px,#430099 544.5px,#4c0099 545.5px,#560099 616.5px,#610099 617.5px,#670099 667.5px,#222 669.5px,#222 669.5px)"></i>
<i style="background:linear-gradient(90deg,#222 281.5px,#222 281.5px,#009 283.5px,#009 397.5px,#1b0099 398.5px,#290099 430.5px,#310099 483.5px,#3a0099 484.5px,#430099 545.5px,#4c0099 546.5px,#560099 617.5px,#610099 618.5px,#670099 666.5px,#222 668.5px,#222 668.5px)"></i>
<i style="background:linear-gradient(90deg,#222 282.5px,#222 282.5px,#009 283.5px,#009 397.5px,#1b0099 398.5px,#290099 430.5px,#310099 483.5px,#3a0099 484.5px,#430099 545.5px,#4c0099 546.5px,#560099 617.5px,#610099 618.5px,#670099 666.5px,#222 667.5px,#222 667.5px)"></i>
<i style="background:linear-gradient(90deg,#222 283.5px,#222 283.5px,#009 284.5px,#009 397.5px,#1b0099 399.5px,#240099 429.5px,#290099 430.5px,#310099 484.5px,#3a0099 485.5px,#430099 546.5px,#4c0099 547.5px,#560099 618.5px,#610099 619.5px,#670099 665.5px,#222 666.5px,#222 666.5px)"></i>
<i style="background:linear-gradient(90deg,#222 283.5px,#222 283.5px,#009 285.5px,#009 398.5px,#1b0099 399.5px,#290099 431.5px,#310099 484.5px,#3a0099 485.5px,#430099 546.5px,#4c0099 547.5px,#560099 618.5px,#610099 619.5px,#670099 664.5px,#222 665.5px,#222 665.5px)"></i>
<i style="background:linear-gradient(90deg,#222 284.5px,#222 284.5px,#009 286.5px,#009 398.5px,#1b0099 399.5px,#290099 431.5px,#310099 484.5px,#3a0099 485.5px,#430099 547.5px,#4c0099 548.5px,#560099 619.5px,#610099 620.5px,#609 663.5px,#222 664.5px,#222 664.5px)"></i>
<i style="background:linear-gradient(90deg,#222 285.5px,#222 285.5px,#009 286.5px,#009 398.5px,#1b0099 399.5px,#240099 430.5px,#290099 431.5px,#310099 485.5px,#3a0099 486.5px,#430099 547.5px,#4c0099 548.5px,#560099 620.5px,#610099 621.5px,#609 662.5px,#222 663.5px,#222 663.5px)"></i>
<i style="background:linear-gradient(90deg,#222 286.5px,#222 286.5px,#009 287.5px,#009 398.5px,#1b0099 400.5px,#240099 430.5px,#290099 431.5px,#310099 485.5px,#3a0099 486.5px,#430099 548.5px,#4c0099 549.5px,#560099 620.5px,#610099 621.5px,#609 661.5px,#222 662.5px,#222 662.5px)"></i>
<i style="background:linear-gradient(90deg,#222 287.5px,#222 287.5px,#009 288.5px,#009 399.5px,#1b0099 400.5px,#290099 432.5px,#310099 485.5px,#3a0099 486.5px,#430099 548.5px,#4c0099 549.5px,#560099 621.5px,#610099 622.5px,#609 660.5px,#222 661.5px,#222 661.5px)"></i>
<i style="background:linear-gradient(90deg,#222 287.5px,#222 287.5px,#009 289.5px,#009 399.5px,#1b0099 400.5px,#250099 431.5px,#290099 432.5px,#310099 486.5px,#3a0099 487.5px,#430099 549.5px,#4c0099 550.5px,#560099 621.5px,#610099 622.5px,#650099 659.5px,#222 660.5px,#222 660.5px)"></i>
<i style="background:linear-gradient(90deg,#222 288.5px,#222 288.5px,#009 289.5px,#009 399.5px,#1b0099 400.5px,#240099 431.5px,#290099 432.5px,#310099 486.5px,#3a0099 487.5px,#430099 549.5px,#4c0099 550.5px,#560099 622.5px,#610099 623.5px,#650099 658.5px,#222 659.5px,#222 659.5px)"></i>
<i style="background:linear-gradient(90deg,#222 289.5px,#222 289.5px,#009 290.5px,#009 399.5px,#1b0099 401.5px,#290099 433.5px,#310099 487.5px,#3a0099 488.5px,#430099 550.5px,#4c0099 551.5px,#560099 623.5px,#610099 624.5px,#650099 657.5px,#222 659.5px,#222 659.5px)"></i>
<i style="background:linear-gradient(90deg,#222 290.5px,#222 290.5px,#009 291.5px,#009 400.5px,#1b0099 401.5px,#250099 432.5px,#290099 433.5px,#310099 487.5px,#3a0099 488.5px,#430099 550.5px,#4c0099 551.5px,#560099 623.5px,#610099 624.5px,#650099 656.5px,#222 658.5px,#222 658.5px)"></i>
<i style="background:linear-gradient(90deg,#222 290.5px,#222 290.5px,#009 292.5px,#009 400.5px,#1b0099 401.5px,#240099 432.5px,#290099 433.5px,#310099 487.5px,#3a0099 488.5px,#430099 551.5px,#4c0099 552.5px,#560099 624.5px,#610099 625.5px,#650099 655.5px,#222 657.5px,#222 657.5px)"></i>
<i style="background:linear-gradient(90deg,#222 291.5px,#222 291.5px,#009 293.5px,#009 400.5px,#1b0099 401.5px,#290099 434.5px,#310099 488.5px,#3a0099 489.5px,#430099 551.5px,#4c0099 552.5px,#560099 624.5px,#610099 625.5px,#640099 654.5px,#222 656.5px,#222 656.5px)"></i>
<i style="background:linear-gradient(90deg,#222 292.5px,#222 292.5px,#009 293.5px,#009 400.5px,#1b0099 402.5px,#290099 434.5px,#310099 488.5px,#3a0099 489.5px,#430099 552.5px,#4c0099 553.5px,#560099 625.5px,#610099 626.5px,#640099 653.5px,#222 655.5px,#222 655.5px)"></i>
<i style="background:linear-gradient(90deg,#222 293.5px,#222 293.5px,#009 294.5px,#009 401.5px,#1b0099 402.5px,#240099 433.5px,#290099 434.5px,#310099 489.5px,#3a0099 490.5px,#430099 552.5px,#4c0099 553.5px,#560099 626.5px,#610099 627.5px,#640099 652.5px,#222 654.5px,#222 654.5px)"></i>
<i style="background:linear-gradient(90deg,#222 294.5px,#222 294.5px,#009 295.5px,#009 401.5px,#1b0099 402.5px,#290099 435.5px,#310099 489.5px,#3a0099 490.5px,#430099 553.5px,#4c0099 554.5px,#560099 626.5px,#610099 627.5px,#640099 651.5px,#222 653.5px,#222 653.5px)"></i>
<i style="background:linear-gradient(90deg,#222 294.5px,#222 294.5px,#009 296.5px,#009 401.5px,#1b0099 402.5px,#290099 435.5px,#310099 489.5px,#3a0099 490.5px,#430099 553.5px,#4c0099 554.5px,#560099 627.5px,#610099 628.5px,#640099 651.5px,#222 652.5px,#222 652.5px)"></i>
<i style="background:linear-gradient(90deg,#222 295.5px,#222 295.5px,#009 297.5px,#009 401.5px,#1b0099 403.5px,#250099 434.5px,#290099 435.5px,#310099 490.5px,#3a0099 491.5px,#430099 554.5px,#4c0099 555.5px,#560099 627.5px,#610099 628.5px,#630099 650.5px,#222 651.5px,#222 651.5px)"></i>
<i style="background:linear-gradient(90deg,#222 296.5px,#222 296.5px,#009 297.5px,#009 402.5px,#1b0099 403.5px,#240099 434.5px,#290099 435.5px,#310099 490.5px,#3a0099 491.5px,#430099 554.5px,#4c0099 555.5px,#560099 628.5px,#610099 629.5px,#630099 649.5px,#222 650.5px,#222 650.5px)"></i>
<i style="background:linear-gradient(90deg,#222 297.5px,#222 297.5px,#009 298.5px,#009 402.5px,#1b0099 403.5px,#290099 436.5px,#310099 491.5px,#3a0099 492.5px,#430099 554.5px,#4c0099 555.5px,#560099 629.5px,#610099 630.5px,#630099 648.5px,#222 649.5px,#222 649.5px)"></i>
<i style="background:linear-gradient(90deg,#222 298.5px,#222 298.5px,#009 299.5px,#009 402.5px,#1b0099 403.5px,#250099 435.5px,#290099 436.5px,#310099 491.5px,#3a0099 492.5px,#430099 555.5px,#4c0099 556.5px,#560099 629.5px,#610099 630.5px,#630099 647.5px,#222 648.5px,#222 648.5px)"></i>
<i style="background:linear-gradient(90deg,#222 298.5px,#222 298.5px,#009 300.5px,#009 402.5px,#1b0099 404.5px,#240099 435.5px,#290099 436.5px,#310099 491.5px,#3a0099 492.5px,#430099 555.5px,#4c0099 556.5px,#560099 630.5px,#610099 631.5px,#630099 646.5px,#222 647.5px,#222 647.5px)"></i>
<i style="background:linear-gradient(90deg,#222 299.5px,#222 299.5px,#009 301.5px,#009 403.5px,#1b0099 404.5px,#290099 437.5px,#310099 492.5px,#3a0099 493.5px,#430099 556.5px,#4c0099 557.5px,#560099 630.5px,#610099 631.5px,#620099 645.5px,#222 646.5px,#222 646.5px)"></i>
<i style="background:linear-gradient(90deg,#222 300.5px,#222 300.5px,#009 301.5px,#009 403.5px,#1b0099 404.5px,#290099 437.5px,#310099 492.5px,#3a0099 493.5px,#430099 556.5px,#4c0099 557.5px,#560099 631.5px,#610099 632.5px,#620099 644.5px,#222 645.5px,#222 645.5px)"></i>
<i style="background:linear-gradient(90deg,#222 301.5px,#222 301.5px,#009 302.5px,#009 403.5px,#1b0099 404.5px,#240099 436.5px,#290099 437.5px,#310099 492.5px,#3a0099 493.5px,#430099 557.5px,#4c0099 558.5px,#560099 632.5px,#610099 633.5px,#620099 643.5px,#222 645.5px,#222 645.5px)"></i>
<i style="background:linear-gradient(90deg,#222 302.5px,#222 302.5px,#009 303.5px,#009 403.5px,#1b0099 405.5px,#290099 438.5px,#310099 493.5px,#3a0099 494.5px,#430099 557.5px,#4c0099 558.5px,#560099 632.5px,#610099 633.5px,#620099 642.5px,#222 644.5px,#222 644.5px)"></i>
<i style="background:linear-gradient(90deg,#222 302.5px,#222 302.5px,#009 304.5px,#009 404.5px,#1b0099 405.5px,#290099 438.5px,#310099 493.5px,#3a0099 494.5px,#430099 558.5px,#4c0099 559.5px,#560099 633.5px,#610099 634.5px,#620099 641.5px,#222 643.5px,#222 643.5px)"></i>
<i style="background:linear-gradient(90deg,#222 303.5px,#222 303.5px,#009 305.5px,#009 404.5px,#1b0099 405.5px,#250099 437.5px,#290099 438.5px,#310099 494.5px,#3a0099 495.5px,#430099 558.5px,#4c0099 559.5px,#560099 633.5px,#610099 634.5px,#610099 640.5px,#222 642.5px,#222 642.5px)"></i>
<i style="background:linear-gradient(90deg,#222 304.5px,#222 304.5px,#009 305.5px,#009 404.5px,#1b0099 405.5px,#240099 437.5px,#290099 438.5px,#310099 494.5px,#3a0099 495.5px,#430099 559.5px,#4c0099 560.5px,#560099 634.5px,#610099 635.5px,#610099 639.5px,#222 641.5px,#222 641.5px)"></i>
<i style="background:linear-gradient(90deg,#222 305.5px,#222 305.5px,#009 306.5px,#009 404.5px,#1b0099 406.5px,#290099 439.5px,#310099 494.5px,#3a0099 495.5px,#430099 559.5px,#4c0099 560.5px,#560099 635.5px,#610099 636.5px,#610099 638.5px,#222 640.5px,#222 640.5px)"></i>
<i style="background:linear-gradient(90deg,#222 306.5px,#222 306.5px,#009 307.5px,#009 405.5px,#1b0099 406.5px,#250099 438.5px,#290099 439.5px,#310099 495.5px,#3a0099 496.5px,#430099 560.5px,#4c0099 561.5px,#560099 635.5px,#610099 636.5px,#610099 637.5px,#222 639.5px,#222 639.5px)"></i>
<i style="background:linear-gradient(90deg,#222 306.5px,#222 306.5px,#009 308.5px,#009 405.5px,#1b0099 406.5px,#240099 438.5px,#290099 439.5px,#310099 495.5px,#3a0099 496.5px,#430099 560.5px,#4c0099 561.5px,#560099 636.5px,#610099 637.5px,#222 638.5px,#222 638.5px)"></i>
<i style="background:linear-gradient(90deg,#222 307.5px,#222 307.5px,#009 309.5px,#009 405.5px,#1b0099 406.5px,#290099 440.5px,#310099 496.5px,#3a0099 497.5px,#430099 561.5px,#4c0099 562.5px,#560099 636.5px,#222 637.5px,#222 637.5px)"></i>
<i style="background:linear-gradient(90deg,#222 308.5px,#222 308.5px,#009 310.5px,#009 405.5px,#1b0099 407.5px,#290099 440.5px,#310099 496.5px,#3a0099 497.5px,#430099 561.5px,#4c0099 562.5px,#560099 635.5px,#222 636.5px,#222 636.5px)"></i>
<i style="background:linear-gradient(90deg,#222 309.5px,#222 309.5px,#009 310.5px,#009 406.5px,#1b0099 407.5px,#240099 439.5px,#290099 440.5px,#310099 496.5px,#3a0099 497.5px,#430099 562.5px,#4c0099 563.5px,#509 634.5px,#222 635.5px,#222 635.5px)"></i>
<i style="background:linear-gradient(90deg,#222 310.5px,#222 310.5px,#009 311.5px,#009 406.5px,#1b0099 407.5px,#290099 441.5px,#310099 497.5px,#3a0099 498.5px,#430099 562.5px,#4c0099 563.5px,#509 633.5px,#222 634.5px,#222 634.5px)"></i>
<i style="background:linear-gradient(90deg,#222 311.5px,#222 311.5px,#009 312.5px,#009 406.5px,#1b0099 407.5px,#290099 441.5px,#310099 497.5px,#3a0099 498.5px,#430099 563.5px,#4c0099 564.5px,#509 632.5px,#222 633.5px,#222 633.5px)"></i>
<i style="background:linear-gradient(90deg,#222 311.5px,#222 311.5px,#009 313.5px,#009 406.5px,#1b0099 408.5px,#250099 440.5px,#290099 441.5px,#310099 497.5px,#3a0099 498.5px,#430099 563.5px,#4c0099 564.5px,#509 631.5px,#222 632.5px,#222 632.5px)"></i>
<i style="background:linear-gradient(90deg,#222 312.5px,#222 312.5px,#009 314.5px,#009 407.5px,#1b0099 408.5px,#240099 440.5px,#290099 441.5px,#310099 498.5px,#3a0099 499.5px,#430099 564.5px,#4c0099 565.5px,#509 630.5px,#222 631.5px,#222 631.5px)"></i>
<i style="background:linear-gradient(90deg,#222 313.5px,#222 313.5px,#009 315.5px,#009 407.5px,#1b0099 408.5px,#290099 442.5px,#310099 498.5px,#3a0099 499.5px,#430099 564.5px,#4c0099 565.5px,#540099 629.5px,#222 630.5px,#222 630.5px)"></i>
<i style="background:linear-gradient(90deg,#222 314.5px,#222 314.5px,#009 315.5px,#009 407.5px,#1b0099 408.5px,#250099 441.5px,#290099 442.5px,#310099 499.5px,#3a0099 500.5px,#430099 565.5px,#4c0099 566.5px,#540099 628.5px,#222 630.5px,#222 630.5px)"></i>
<i style="background:linear-gradient(90deg,#222 315.5px,#222 315.5px,#009 316.5px,#009 407.5px,#1b0099 409.5px,#240099 441.5px,#290099 442.5px,#310099 499.5px,#3a0099 500.5px,#430099 565.5px,#4c0099 566.5px,#540099 627.5px,#222 629.5px,#222 629.5px)"></i>
<i style="background:linear-gradient(90deg,#222 316.5px,#222 316.5px,#009 317.5px,#009 408.5px,#1b0099 409.5px,#290099 443.5px,#310099 499.5px,#3a0099 500.5px,#430099 566.5px,#4c0099 567.5px,#540099 626.5px,#222 628.5px,#222 628.5px)"></i>
<i style="background:linear-gradient(90deg,#222 317.5px,#222 317.5px,#009 318.5px,#009 408.5px,#1b0099 409.5px,#290099 443.5px,#310099 500.5px,#3a0099 501.5px,#430099 566.5px,#4c0099 567.5px,#540099 625.5px,#222 627.5px,#222 627.5px)"></i>
<i style="background:linear-gradient(90deg,#222 317.5px,#222 317.5px,#009 319.5px,#009 408.5px,#1b0099 410.5px,#240099 442.5px,#290099 443.5px,#310099 500.5px,#3a0099 501.5px,#430099 567.5px,#4c0099 568.5px,#530099 624.5px,#222 626.5px,#222 626.5px)"></i>
<i style="background:linear-gradient(90deg,#222 318.5px,#222 318.5px,#009 320.5px,#009 408.5px,#1b0099 410.5px,#290099 444.5px,#310099 501.5px,#3a0099 502.5px,#430099 567.5px,#4c0099 568.5px,#530099 623.5px,#222 625.5px,#222 625.5px)"></i>
<i style="background:linear-gradient(90deg,#222 319.5px,#222 319.5px,#009 321.5px,#009 409.5px,#1b0099 410.5px,#290099 444.5px,#310099 501.5px,#3a0099 502.5px,#430099 568.5px,#4c0099 569.5px,#530099 622.5px,#222 624.5px,#222 624.5px)"></i>
<i style="background:linear-gradient(90deg,#222 320.5px,#222 320.5px,#009 322.5px,#009 409.5px,#1b0099 410.5px,#250099 443.5px,#290099 444.5px,#310099 501.5px,#3a0099 502.5px,#430099 568.5px,#4c0099 569.5px,#530099 622.5px,#222 623.5px,#222 623.5px)"></i>
<i style="background:linear-gradient(90deg,#222 321.5px,#222 321.5px,#009 322.5px,#009 409.5px,#1b0099 411.5px,#240099 443.5px,#290099 444.5px,#310099 502.5px,#3a0099 503.5px,#430099 569.5px,#4c0099 570.5px,#530099 621.5px,#222 622.5px,#222 622.5px)"></i>
<i style="background:linear-gradient(90deg,#222 322.5px,#222 322.5px,#009 323.5px,#009 409.5px,#1b0099 411.5px,#290099 445.5px,#310099 502.5px,#3a0099 503.5px,#430099 569.5px,#4c0099 570.5px,#530099 620.5px,#222 621.5px,#222 621.5px)"></i>
<i style="background:linear-gradient(90deg,#222 323.5px,#222 323.5px,#009 324.5px,#009 410.5px,#1b0099 411.5px,#250099 444.5px,#290099 445.5px,#310099 502.5px,#3a0099 503.5px,#430099 569.5px,#4c0099 570.5px,#520099 619.5px,#222 620.5px,#222 620.5px)"></i>
<i style="background:linear-gradient(90deg,#222 324.5px,#222 324.5px,#009 325.5px,#009 410.5px,#1b0099 411.5px,#240099 444.5px,#290099 445.5px,#310099 503.5px,#3a0099 504.5px,#430099 570.5px,#4c0099 571.5px,#520099 618.5px,#222 619.5px,#222 619.5px)"></i>
<i style="background:linear-gradient(90deg,#222 325.5px,#222 325.5px,#009 326.5px,#009 410.5px,#1b0099 412.5px,#290099 446.5px,#310099 503.5px,#3a0099 504.5px,#430099 570.5px,#4c0099 571.5px,#520099 617.5px,#222 618.5px,#222 618.5px)"></i>
<i style="background:linear-gradient(90deg,#222 325.5px,#222 325.5px,#009 327.5px,#009 410.5px,#1b0099 412.5px,#290099 446.5px,#310099 504.5px,#3a0099 505.5px,#430099 571.5px,#4c0099 572.5px,#520099 616.5px,#222 617.5px,#222 617.5px)"></i>
<i style="background:linear-gradient(90deg,#222 326.5px,#222 326.5px,#009 328.5px,#009 411.5px,#1b0099 412.5px,#240099 445.5px,#290099 446.5px,#310099 504.5px,#3a0099 505.5px,#430099 571.5px,#4c0099 572.5px,#520099 615.5px,#222 616.5px,#222 616.5px)"></i>
<i style="background:linear-gradient(90deg,#222 327.5px,#222 327.5px,#009 329.5px,#009 411.5px,#1b0099 412.5px,#290099 447.5px,#310099 504.5px,#3a0099 505.5px,#430099 572.5px,#4c0099 573.5px,#510099 614.5px,#222 616.5px,#222 616.5px)"></i>
<i style="background:linear-gradient(90deg,#222 328.5px,#222 328.5px,#009 330.5px,#009 411.5px,#1b0099 413.5px,#290099 447.5px,#310099 505.5px,#3a0099 506.5px,#430099 572.5px,#4c0099 573.5px,#510099 613.5px,#222 615.5px,#222 615.5px)"></i>
<i style="background:linear-gradient(90deg,#222 329.5px,#222 329.5px,#009 331.5px,#009 411.5px,#1b0099 413.5px,#240099 446.5px,#290099 447.5px,#310099 505.5px,#3a0099 506.5px,#430099 573.5px,#4c0099 574.5px,#510099 612.5px,#222 614.5px,#222 614.5px)"></i>
<i style="background:linear-gradient(90deg,#222 330.5px,#222 330.5px,#009 331.5px,#009 412.5px,#1b0099 413.5px,#240099 446.5px,#290099 447.5px,#310099 506.5px,#3a0099 507.5px,#430099 573.5px,#4c0099 574.5px,#510099 611.5px,#222 613.5px,#222 613.5px)"></i>
<i style="background:linear-gradient(90deg,#222 331.5px,#222 331.5px,#009 332.5px,#009 412.5px,#1b0099 413.5px,#290099 448.5px,#310099 506.5px,#3a0099 507.5px,#430099 574.5px,#4c0099 575.5px,#510099 610.5px,#222 612.5px,#222 612.5px)"></i>
<i style="background:linear-gradient(90deg,#222 332.5px,#222 332.5px,#009 333.5px,#009 412.5px,#1b0099 414.5px,#250099 447.5px,#290099 448.5px,#310099 506.5px,#3a0099 507.5px,#430099 574.5px,#4c0099 575.5px,#500099 609.5px,#222 611.5px,#222 611.5px)"></i>
<i style="background:linear-gradient(90deg,#222 333.5px,#222 333.5px,#009 334.5px,#009 412.5px,#1b0099 414.5px,#240099 447.5px,#290099 448.5px,#310099 507.5px,#3a0099 508.5px,#430099 575.5px,#4c0099 576.5px,#500099 608.5px,#222 610.5px,#222 610.5px)"></i>
<i style="background:linear-gradient(90deg,#222 334.5px,#222 334.5px,#009 335.5px,#009 413.5px,#1b0099 414.5px,#290099 449.5px,#310099 507.5px,#3a0099 508.5px,#430099 575.5px,#4c0099 576.5px,#500099 608.5px,#222 609.5px,#222 609.5px)"></i>
<i style="background:linear-gradient(90deg,#222 335.5px,#222 335.5px,#009 336.5px,#009 413.5px,#1b0099 414.5px,#290099 449.5px,#310099 508.5px,#3a0099 509.5px,#430099 576.5px,#4c0099 577.5px,#500099 607.5px,#222 608.5px,#222 608.5px)"></i>
<i style="background:linear-gradient(90deg,#222 336.5px,#222 336.5px,#009 337.5px,#009 413.5px,#1b0099 415.5px,#240099 448.5px,#290099 449.5px,#310099 508.5px,#3a0099 509.5px,#430099 576.5px,#4c0099 577.5px,#500099 606.5px,#222 607.5px,#222 607.5px)"></i>
<i style="background:linear-gradient(90deg,#222 336.5px,#222 336.5px,#009 338.5px,#009 413.5px,#1b0099 415.5px,#290099 450.5px,#310099 508.5px,#3a0099 509.5px,#430099 577.5px,#4c0099 578.5px,#500099 605.5px,#222 606.5px,#222 606.5px)"></i>
<i style="background:linear-gradient(90deg,#222 337.5px,#222 337.5px,#009 339.5px,#009 414.5px,#1b0099 415.5px,#290099 450.5px,#310099 509.5px,#3a0099 510.5px,#430099 577.5px,#4c0099 578.5px,#4f0099 604.5px,#222 605.5px,#222 605.5px)"></i>
<i style="background:linear-gradient(90deg,#222 338.5px,#222 338.5px,#009 340.5px,#009 414.5px,#1b0099 415.5px,#240099 449.5px,#290099 450.5px,#310099 509.5px,#3a0099 510.5px,#430099 578.5px,#4c0099 579.5px,#4f0099 603.5px,#222 604.5px,#222 604.5px)"></i>
<i style="background:linear-gradient(90deg,#222 339.5px,#222 339.5px,#009 341.5px,#009 414.5px,#1b0099 416.5px,#290099 451.5px,#310099 509.5px,#3a0099 510.5px,#430099 578.5px,#4c0099 579.5px,#4f0099 602.5px,#222 603.5px,#222 603.5px)"></i>
<i style="background:linear-gradient(90deg,#222 340.5px,#222 340.5px,#009 342.5px,#009 414.5px,#1b0099 416.5px,#290099 451.5px,#310099 510.5px,#3a0099 511.5px,#430099 579.5px,#4c0099 580.5px,#4f0099 601.5px,#222 602.5px,#222 602.5px)"></i>
<i style="background:linear-gradient(90deg,#222 341.5px,#222 341.5px,#009 343.5px,#009 415.5px,#1b0099 416.5px,#250099 450.5px,#290099 451.5px,#310099 510.5px,#3a0099 511.5px,#430099 579.5px,#4c0099 580.5px,#4f0099 600.5px,#222 601.5px,#222 601.5px)"></i>
<i style="background:linear-gradient(90deg,#222 342.5px,#222 342.5px,#009 344.5px,#009 415.5px,#1b0099 416.5px,#240099 450.5px,#290099 451.5px,#310099 511.5px,#3a0099 512.5px,#430099 580.5px,#4c0099 581.5px,#4e0099 599.5px,#222 601.5px,#222 601.5px)"></i>
<i style="background:linear-gradient(90deg,#222 343.5px,#222 343.5px,#009 345.5px,#009 415.5px,#1b0099 417.5px,#290099 452.5px,#310099 511.5px,#3a0099 512.5px,#430099 580.5px,#4c0099 581.5px,#4e0099 598.5px,#222 600.5px,#222 600.5px)"></i>
<i style="background:linear-gradient(90deg,#222 344.5px,#222 344.5px,#009 346.5px,#009 415.5px,#1b0099 417.5px,#290099 452.5px,#310099 511.5px,#3a0099 512.5px,#430099 581.5px,#4c0099 582.5px,#4e0099 597.5px,#222 599.5px,#222 599.5px)"></i>
<i style="background:linear-gradient(90deg,#222 345.5px,#222 345.5px,#009 347.5px,#009 416.5px,#1b0099 417.5px,#240099 451.5px,#290099 452.5px,#310099 512.5px,#3a0099 513.5px,#430099 581.5px,#4c0099 582.5px,#4e0099 596.5px,#222 598.5px,#222 598.5px)"></i>
<i style="background:linear-gradient(90deg,#222 346.5px,#222 346.5px,#009 348.5px,#009 416.5px,#1b0099 417.5px,#290099 453.5px,#310099 512.5px,#3a0099 513.5px,#430099 582.5px,#4c0099 583.5px,#4e0099 595.5px,#222 597.5px,#222 597.5px)"></i>
<i style="background:linear-gradient(90deg,#222 347.5px,#222 347.5px,#009 349.5px,#009 416.5px,#1b0099 418.5px,#290099 453.5px,#310099 513.5px,#3a0099 514.5px,#430099 582.5px,#4c0099 583.5px,#4e0099 594.5px,#222 596.5px,#222 596.5px)"></i>
<i style="background:linear-gradient(90deg,#222 348.5px,#222 348.5px,#009 350.5px,#009 416.5px,#1b0099 418.5px,#240099 452.5px,#290099 453.5px,#310099 513.5px,#3a0099 514.5px,#430099 583.5px,#4c0099 584.5px,#4d0099 593.5px,#222 595.5px,#222 595.5px)"></i>
<i style="background:linear-gradient(90deg,#222 349.5px,#222 349.5px,#009 351.5px,#009 417.5px,#1b0099 418.5px,#290099 454.5px,#310099 513.5px,#3a0099 514.5px,#430099 583.5px,#4c0099 584.5px,#4d0099 593.5px,#222 594.5px,#222 594.5px)"></i>
<i style="background:linear-gradient(90deg,#222 350.5px,#222 350.5px,#009 352.5px,#009 417.5px,#1b0099 418.5px,#290099 454.5px,#310099 514.5px,#3a0099 515.5px,#430099 584.5px,#4c0099 585.5px,#4d0099 592.5px,#222 593.5px,#222 593.5px)"></i>
<i style="background:linear-gradient(90deg,#222 351.5px,#222 351.5px,#009 353.5px,#009 417.5px,#1b0099 419.5px,#250099 453.5px,#290099 454.5px,#310099 514.5px,#3a0099 515.5px,#430099 584.5px,#4c0099 585.5px,#4d0099 591.5px,#222 592.5px,#222 592.5px)"></i>
<i style="background:linear-gradient(90deg,#222 352.5px,#222 352.5px,#009 354.5px,#009 417.5px,#1b0099 419.5px,#240099 453.5px,#290099 454.5px,#310099 514.5px,#3a0099 515.5px,#430099 584.5px,#4c0099 585.5px,#4d0099 590.5px,#222 591.5px,#222 591.5px)"></i>
<i style="background:linear-gradient(90deg,#222 353.5px,#222 353.5px,#009 355.5px,#009 418.5px,#1b0099 419.5px,#290099 455.5px,#310099 515.5px,#3a0099 516.5px,#430099 585.5px,#4c0099 586.5px,#4d0099 589.5px,#222 590.5px,#222 590.5px)"></i>
<i style="background:linear-gradient(90deg,#222 354.5px,#222 354.5px,#009 356.5px,#009 418.5px,#1b0099 419.5px,#290099 455.5px,#310099 515.5px,#3a0099 516.5px,#430099 585.5px,#4c0099 586.5px,#4c0099 588.5px,#222 589.5px,#222 589.5px)"></i>
<i style="background:linear-gradient(90deg,#222 355.5px,#222 355.5px,#009 357.5px,#009 418.5px,#1b0099 420.5px,#240099 454.5px,#290099 455.5px,#310099 516.5px,#3a0099 517.5px,#430099 586.5px,#4c0099 587.5px,#222 588.5px,#222 588.5px)"></i>
<i style="background:linear-gradient(90deg,#222 356.5px,#222 356.5px,#009 358.5px,#009 418.5px,#1b0099 420.5px,#290099 456.5px,#310099 516.5px,#3a0099 517.5px,#430099 586.5px,#222 587.5px,#222 587.5px)"></i>
<i style="background:linear-gradient(90deg,#222 357.5px,#222 357.5px,#009 359.5px,#009 419.5px,#1b0099 420.5px,#290099 456.5px,#310099 516.5px,#3a0099 517.5px,#420099 585.5px,#222 587.5px,#222 587.5px)"></i>
<i style="background:linear-gradient(90deg,#222 358.5px,#222 358.5px,#009 360.5px,#009 419.5px,#1b0099 420.5px,#240099 455.5px,#290099 456.5px,#310099 517.5px,#3a0099 518.5px,#420099 584.5px,#222 586.5px,#222 586.5px)"></i>
<i style="background:linear-gradient(90deg,#222 359.5px,#222 359.5px,#009 361.5px,#009 419.5px,#1b0099 421.5px,#290099 457.5px,#310099 517.5px,#3a0099 518.5px,#420099 583.5px,#222 585.5px,#222 585.5px)"></i>
<i style="background:linear-gradient(90deg,#222 360.5px,#222 360.5px,#009 362.5px,#009 420.5px,#1b0099 421.5px,#290099 457.5px,#310099 518.5px,#3a0099 519.5px,#420099 582.5px,#222 584.5px,#222 584.5px)"></i>
<i style="background:linear-gradient(90deg,#222 361.5px,#222 361.5px,#009 363.5px,#009 420.5px,#1b0099 421.5px,#250099 456.5px,#290099 457.5px,#310099 518.5px,#3a0099 519.5px,#420099 581.5px,#222 583.5px,#222 583.5px)"></i>
<i style="background:linear-gradient(90deg,#222 362.5px,#222 362.5px,#009 364.5px,#009 420.5px,#1b0099 421.5px,#240099 456.5px,#290099 457.5px,#310099 518.5px,#3a0099 519.5px,#420099 580.5px,#222 582.5px,#222 582.5px)"></i>
<i style="background:linear-gradient(90deg,#222 363.5px,#222 363.5px,#009 365.5px,#009 420.5px,#1b0099 422.5px,#290099 458.5px,#310099 519.5px,#3a0099 520.5px,#410099 579.5px,#222 581.5px,#222 581.5px)"></i>
<i style="background:linear-gradient(90deg,#222 364.5px,#222 364.5px,#009 366.5px,#009 421.5px,#1b0099 422.5px,#290099 458.5px,#310099 519.5px,#3a0099 520.5px,#410099 579.5px,#222 580.5px,#222 580.5px)"></i>
<i style="background:linear-gradient(90deg,#222 365.5px,#222 365.5px,#009 367.5px,#009 421.5px,#1b0099 422.5px,#240099 457.5px,#290099 458.5px,#310099 519.5px,#3a0099 520.5px,#410099 578.5px,#222 579.5px,#222 579.5px)"></i>
<i style="background:linear-gradient(90deg,#222 366.5px,#222 366.5px,#009 368.5px,#009 421.5px,#1b0099 422.5px,#250099 458.5px,#290099 459.5px,#310099 520.5px,#3a0099 521.5px,#410099 577.5px,#222 578.5px,#222 578.5px)"></i>
<i style="background:linear-gradient(90deg,#222 367.5px,#222 367.5px,#009 369.5px,#009 421.5px,#1b0099 423.5px,#290099 459.5px,#310099 520.5px,#3a0099 521.5px,#410099 576.5px,#222 577.5px,#222 577.5px)"></i>
<i style="background:linear-gradient(90deg,#222 368.5px,#222 368.5px,#009 370.5px,#009 422.5px,#1b0099 423.5px,#240099 458.5px,#290099 459.5px,#310099 521.5px,#3a0099 522.5px,#410099 575.5px,#222 576.5px,#222 576.5px)"></i>
<i style="background:linear-gradient(90deg,#222 370.5px,#222 370.5px,#009 371.5px,#009 422.5px,#1b0099 423.5px,#290099 460.5px,#310099 521.5px,#3a0099 522.5px,#400099 574.5px,#222 575.5px,#222 575.5px)"></i>
<i style="background:linear-gradient(90deg,#222 371.5px,#222 371.5px,#009 372.5px,#009 422.5px,#1b0099 423.5px,#250099 459.5px,#290099 460.5px,#310099 521.5px,#3a0099 522.5px,#400099 573.5px,#222 574.5px,#222 574.5px)"></i>
<i style="background:linear-gradient(90deg,#222 372.5px,#222 372.5px,#009 373.5px,#009 422.5px,#1b0099 424.5px,#250099 459.5px,#290099 460.5px,#310099 522.5px,#3a0099 523.5px,#400099 572.5px,#222 573.5px,#222 573.5px)"></i>
<i style="background:linear-gradient(90deg,#222 373.5px,#222 373.5px,#009 374.5px,#009 423.5px,#1b0099 424.5px,#240099 459.5px,#290099 460.5px,#310099 522.5px,#3a0099 523.5px,#400099 571.5px,#222 572.5px,#222 572.5px)"></i>
<i style="background:linear-gradient(90deg,#222 374.5px,#222 374.5px,#009 375.5px,#009 423.5px,#1b0099 424.5px,#250099 460.5px,#290099 461.5px,#310099 523.5px,#3a0099 524.5px,#400099 570.5px,#222 572.5px,#222 572.5px)"></i>
<i style="background:linear-gradient(90deg,#222 375.5px,#222 375.5px,#009 376.5px,#009 423.5px,#1b0099 424.5px,#250099 460.5px,#290099 461.5px,#310099 523.5px,#3a0099 524.5px,#3f0099 569.5px,#222 571.5px,#222 571.5px)"></i>
<i style="background:linear-gradient(90deg,#222 376.5px,#222 376.5px,#009 378.5px,#009 423.5px,#1b0099 425.5px,#240099 460.5px,#290099 461.5px,#310099 523.5px,#3a0099 524.5px,#3f0099 568.5px,#222 570.5px,#222 570.5px)"></i>
<i style="background:linear-gradient(90deg,#222 377.5px,#222 377.5px,#009 379.5px,#009 424.5px,#1b0099 425.5px,#250099 461.5px,#290099 462.5px,#310099 524.5px,#3a0099 525.5px,#3f0099 567.5px,#222 569.5px,#222 569.5px)"></i>
<i style="background:linear-gradient(90deg,#222 378.5px,#222 378.5px,#009 380.5px,#009 424.5px,#1b0099 425.5px,#250099 461.5px,#290099 462.5px,#310099 524.5px,#3a0099 525.5px,#3f0099 566.5px,#222 568.5px,#222 568.5px)"></i>
<i style="background:linear-gradient(90deg,#222 379.5px,#222 379.5px,#009 381.5px,#009 424.5px,#1b0099 425.5px,#240099 461.5px,#290099 462.5px,#310099 525.5px,#3a0099 526.5px,#3f0099 565.5px,#222 567.5px,#222 567.5px)"></i>
<i style="background:linear-gradient(90deg,#222 380.5px,#222 380.5px,#009 382.5px,#009 424.5px,#1b0099 426.5px,#290099 463.5px,#310099 525.5px,#3a0099 526.5px,#3f0099 564.5px,#222 566.5px,#222 566.5px)"></i>
<i style="background:linear-gradient(90deg,#222 381.5px,#222 381.5px,#009 383.5px,#009 425.5px,#1b0099 426.5px,#250099 462.5px,#290099 463.5px,#310099 525.5px,#3a0099 526.5px,#3f0099 564.5px,#222 565.5px,#222 565.5px)"></i>
<i style="background:linear-gradient(90deg,#222 383.5px,#222 383.5px,#009 384.5px,#009 425.5px,#1b0099 426.5px,#250099 462.5px,#290099 463.5px,#310099 526.5px,#3a0099 527.5px,#3e0099 563.5px,#222 564.5px,#222 564.5px)"></i>
<i style="background:linear-gradient(90deg,#222 384.5px,#222 384.5px,#009 385.5px,#009 425.5px,#1b0099 426.5px,#240099 462.5px,#290099 463.5px,#310099 526.5px,#3a0099 527.5px,#3e0099 562.5px,#222 563.5px,#222 563.5px)"></i>
<i style="background:linear-gradient(90deg,#222 385.5px,#222 385.5px,#009 386.5px,#009 425.5px,#1b0099 427.5px,#250099 463.5px,#290099 464.5px,#310099 526.5px,#3a0099 527.5px,#3e0099 561.5px,#222 562.5px,#222 562.5px)"></i>
<i style="background:linear-gradient(90deg,#222 386.5px,#222 386.5px,#009 388.5px,#009 426.5px,#1b0099 427.5px,#250099 463.5px,#290099 464.5px,#310099 527.5px,#3a0099 528.5px,#3e0099 560.5px,#222 561.5px,#222 561.5px)"></i>
<i style="background:linear-gradient(90deg,#222 387.5px,#222 387.5px,#009 389.5px,#009 426.5px,#1b0099 427.5px,#240099 463.5px,#290099 464.5px,#310099 527.5px,#3a0099 528.5px,#3e0099 559.5px,#222 560.5px,#222 560.5px)"></i>
<i style="background:linear-gradient(90deg,#222 388.5px,#222 388.5px,#009 390.5px,#009 426.5px,#1b0099 427.5px,#250099 464.5px,#290099 465.5px,#310099 528.5px,#3a0099 529.5px,#3d0099 558.5px,#222 559.5px,#222 559.5px)"></i>
<i style="background:linear-gradient(90deg,#222 389.5px,#222 389.5px,#009 391.5px,#009 426.5px,#1b0099 428.5px,#250099 464.5px,#290099 465.5px,#310099 528.5px,#3a0099 529.5px,#3d0099 557.5px,#222 558.5px,#222 558.5px)"></i>
<i style="background:linear-gradient(90deg,#222 390.5px,#222 390.5px,#009 392.5px,#009 427.5px,#1b0099 428.5px,#240099 464.5px,#290099 465.5px,#310099 528.5px,#3a0099 529.5px,#3d0099 556.5px,#222 558.5px,#222 558.5px)"></i>
<i style="background:linear-gradient(90deg,#222 392.5px,#222 392.5px,#009 393.5px,#009 427.5px,#1b0099 428.5px,#290099 466.5px,#310099 529.5px,#3a0099 530.5px,#3d0099 555.5px,#222 557.5px,#222 557.5px)"></i>
<i style="background:linear-gradient(90deg,#222 393.5px,#222 393.5px,#009 394.5px,#009 427.5px,#1b0099 428.5px,#250099 465.5px,#290099 466.5px,#310099 529.5px,#3a0099 530.5px,#3d0099 554.5px,#222 556.5px,#222 556.5px)"></i>
<i style="background:linear-gradient(90deg,#222 394.5px,#222 394.5px,#009 395.5px,#009 427.5px,#1b0099 429.5px,#250099 465.5px,#290099 466.5px,#310099 530.5px,#3a0099 531.5px,#3d0099 553.5px,#222 555.5px,#222 555.5px)"></i>
<i style="background:linear-gradient(90deg,#222 395.5px,#222 395.5px,#009 397.5px,#009 428.5px,#1b0099 429.5px,#290099 467.5px,#310099 530.5px,#3a0099 531.5px,#3c0099 552.5px,#222 554.5px,#222 554.5px)"></i>
<i style="background:linear-gradient(90deg,#222 396.5px,#222 396.5px,#009 398.5px,#009 428.5px,#1b0099 429.5px,#250099 466.5px,#290099 467.5px,#310099 530.5px,#3a0099 531.5px,#3c0099 551.5px,#222 553.5px,#222 553.5px)"></i>
<i style="background:linear-gradient(90deg,#222 397.5px,#222 397.5px,#009 399.5px,#009 428.5px,#1b0099 429.5px,#250099 466.5px,#290099 467.5px,#310099 531.5px,#3a0099 532.5px,#3c0099 550.5px,#222 552.5px,#222 552.5px)"></i>
<i style="background:linear-gradient(90deg,#222 398.5px,#222 398.5px,#009 400.5px,#009 428.5px,#1b0099 430.5px,#240099 466.5px,#290099 467.5px,#310099 531.5px,#3a0099 532.5px,#3c0099 550.5px,#222 551.5px,#222 551.5px)"></i>
<i style="background:linear-gradient(90deg,#222 400.5px,#222 400.5px,#009 401.5px,#009 429.5px,#1b0099 430.5px,#250099 467.5px,#290099 468.5px,#310099 531.5px,#3a0099 532.5px,#3c0099 549.5px,#222 550.5px,#222 550.5px)"></i>
<i style="background:linear-gradient(90deg,#222 401.5px,#222 401.5px,#009 402.5px,#009 429.5px,#1b0099 430.5px,#250099 467.5px,#290099 468.5px,#310099 532.5px,#3a0099 533.5px,#3c0099 548.5px,#222 549.5px,#222 549.5px)"></i>
<i style="background:linear-gradient(90deg,#222 402.5px,#222 402.5px,#009 404.5px,#009 429.5px,#1b0099 430.5px,#240099 467.5px,#290099 468.5px,#310099 532.5px,#3a0099 533.5px,#3c0099 547.5px,#222 548.5px,#222 548.5px)"></i>
<i style="background:linear-gradient(90deg,#222 403.5px,#222 403.5px,#009 405.5px,#009 429.5px,#1b0099 431.5px,#290099 469.5px,#310099 533.5px,#3a0099 534.5px,#3b0099 546.5px,#222 547.5px,#222 547.5px)"></i>
<i style="background:linear-gradient(90deg,#222 404.5px,#222 404.5px,#009 406.5px,#009 430.5px,#1b0099 431.5px,#250099 468.5px,#290099 469.5px,#310099 533.5px,#3a0099 534.5px,#3b0099 545.5px,#222 546.5px,#222 546.5px)"></i>
<i style="background:linear-gradient(90deg,#222 405.5px,#222 405.5px,#009 407.5px,#009 430.5px,#1b0099 431.5px,#250099 468.5px,#290099 469.5px,#310099 533.5px,#3a0099 534.5px,#3b0099 544.5px,#222 545.5px,#222 545.5px)"></i>
<i style="background:linear-gradient(90deg,#222 407.5px,#222 407.5px,#009 408.5px,#009 430.5px,#1b0099 431.5px,#290099 470.5px,#310099 534.5px,#3a0099 535.5px,#3b0099 543.5px,#222 544.5px,#222 544.5px)"></i>
<i style="background:linear-gradient(90deg,#222 408.5px,#222 408.5px,#009 409.5px,#009 430.5px,#1b0099 432.5px,#250099 469.5px,#290099 470.5px,#310099 534.5px,#3a0099 535.5px,#3b0099 542.5px,#222 543.5px,#222 543.5px)"></i>
<i style="background:linear-gradient(90deg,#222 409.5px,#222 409.5px,#009 411.5px,#009 431.5px,#1b0099 432.5px,#250099 469.5px,#290099 470.5px,#310099 535.5px,#3a0099 536.5px,#3b0099 541.5px,#222 543.5px,#222 543.5px)"></i>
<i style="background:linear-gradient(90deg,#222 410.5px,#222 410.5px,#009 412.5px,#009 431.5px,#1b0099 432.5px,#240099 469.5px,#290099 470.5px,#310099 535.5px,#3a0099 536.5px,#3a0099 540.5px,#222 542.5px,#222 542.5px)"></i>
<i style="background:linear-gradient(90deg,#222 411.5px,#222 411.5px,#009 413.5px,#009 431.5px,#1b0099 432.5px,#250099 470.5px,#290099 471.5px,#310099 535.5px,#3a0099 536.5px,#3a0099 539.5px,#222 541.5px,#222 541.5px)"></i>
<i style="background:linear-gradient(90deg,#222 412.5px,#222 412.5px,#009 414.5px,#009 431.5px,#1b0099 433.5px,#250099 470.5px,#290099 471.5px,#310099 536.5px,#3a0099 537.5px,#3a0099 538.5px,#222 540.5px,#222 540.5px)"></i>
<i style="background:linear-gradient(90deg,#222 414.5px,#222 414.5px,#009 415.5px,#009 432.5px,#1b0099 433.5px,#240099 470.5px,#290099 471.5px,#310099 536.5px,#3a0099 537.5px,#222 539.5px,#222 539.5px)"></i>
<i style="background:linear-gradient(90deg,#222 415.5px,#222 415.5px,#009 416.5px,#009 432.5px,#1b0099 433.5px,#290099 472.5px,#310099 536.5px,#222 538.5px,#222 538.5px)"></i>
<i style="background:linear-gradient(90deg,#222 416.5px,#222 416.5px,#009 418.5px,#009 432.5px,#1b0099 433.5px,#250099 471.5px,#290099 472.5px,#310099 535.5px,#222 537.5px,#222 537.5px)"></i>
<i style="background:linear-gradient(90deg,#222 417.5px,#222 417.5px,#009 419.5px,#009 432.5px,#1b0099 434.5px,#250099 471.5px,#290099 472.5px,#310099 535.5px,#222 536.5px,#222 536.5px)"></i>
<i style="background:linear-gradient(90deg,#222 418.5px,#222 418.5px,#009 420.5px,#009 433.5px,#1b0099 434.5px,#290099 473.5px,#310099 534.5px,#222 535.5px,#222 535.5px)"></i>
<i style="background:linear-gradient(90deg,#222 420.5px,#222 420.5px,#009 421.5px,#009 433.5px,#1b0099 434.5px,#250099 472.5px,#290099 473.5px,#310099 533.5px,#222 534.5px,#222 534.5px)"></i>
<i style="background:linear-gradient(90deg,#222 421.5px,#222 421.5px,#009 422.5px,#009 433.5px,#1b0099 434.5px,#250099 472.5px,#290099 473.5px,#300099 532.5px,#222 533.5px,#222 533.5px)"></i>
<i style="background:linear-gradient(90deg,#222 422.5px,#222 422.5px,#009 423.5px,#009 433.5px,#1b0099 435.5px,#240099 472.5px,#290099 473.5px,#300099 531.5px,#222 532.5px,#222 532.5px)"></i>
<i style="background:linear-gradient(90deg,#222 423.5px,#222 423.5px,#009 425.5px,#009 434.5px,#1b0099 435.5px,#250099 473.5px,#290099 474.5px,#300099 530.5px,#222 531.5px,#222 531.5px)"></i>
<i style="background:linear-gradient(90deg,#222 424.5px,#222 424.5px,#009 426.5px,#009 434.5px,#1b0099 435.5px,#250099 473.5px,#290099 474.5px,#300099 529.5px,#222 530.5px,#222 530.5px)"></i>
<i style="background:linear-gradient(90deg,#222 425.5px,#222 425.5px,#009 427.5px,#009 434.5px,#1b0099 435.5px,#240099 473.5px,#290099 474.5px,#300099 528.5px,#222 529.5px,#222 529.5px)"></i>
<i style="background:linear-gradient(90deg,#222 427.5px,#222 427.5px,#009 428.5px,#009 434.5px,#1b0099 436.5px,#290099 475.5px,#300099 527.5px,#222 529.5px,#222 529.5px)"></i>
<i style="background:linear-gradient(90deg,#222 428.5px,#222 428.5px,#009 429.5px,#009 435.5px,#1b0099 436.5px,#250099 474.5px,#290099 475.5px,#2f0099 526.5px,#222 528.5px,#222 528.5px)"></i>
<i style="background:linear-gradient(90deg,#222 429.5px,#222 429.5px,#009 430.5px,#009 435.5px,#1b0099 436.5px,#250099 474.5px,#290099 475.5px,#2f0099 525.5px,#222 527.5px,#222 527.5px)"></i>
<i style="background:linear-gradient(90deg,#222 430.5px,#222 430.5px,#009 432.5px,#009 435.5px,#1b0099 437.5px,#290099 476.5px,#2f0099 524.5px,#222 526.5px,#222 526.5px)"></i>
<i style="background:linear-gradient(90deg,#222 431.5px,#222 431.5px,#009 433.5px,#009 435.5px,#1b0099 437.5px,#250099 475.5px,#290099 476.5px,#2f0099 523.5px,#222 525.5px,#222 525.5px)"></i>
<i style="background:linear-gradient(90deg,#222 432.5px,#222 432.5px,#009 434.5px,#009 436.5px,#1b0099 437.5px,#250099 475.5px,#290099 476.5px,#2f0099 522.5px,#222 524.5px,#222 524.5px)"></i>
<i style="background:linear-gradient(90deg,#222 434.5px,#222 434.5px,#009 435.5px,#009 436.5px,#1b0099 437.5px,#240099 475.5px,#290099 476.5px,#2f0099 521.5px,#222 523.5px,#222 523.5px)"></i>
<i style="background:linear-gradient(90deg,#222 435.5px,#222 435.5px,#009 436.5px,#1b0099 438.5px,#250099 476.5px,#290099 477.5px,#2e0099 521.5px,#222 522.5px,#222 522.5px)"></i>
<i style="background:linear-gradient(90deg,#222 436.5px,#222 436.5px,#0d0099 437.5px,#1b0099 438.5px,#250099 476.5px,#290099 477.5px,#2e0099 520.5px,#222 521.5px,#222 521.5px)"></i>
<i style="background:linear-gradient(90deg,#222 437.5px,#222 437.5px,#1b0099 439.5px,#240099 476.5px,#290099 477.5px,#2e0099 519.5px,#222 520.5px,#222 520.5px)"></i>
<i style="background:linear-gradient(90deg,#222 438.5px,#222 438.5px,#1b0099 440.5px,#250099 477.5px,#290099 478.5px,#2e0099 518.5px,#222 519.5px,#222 519.5px)"></i>
<i style="background:linear-gradient(90deg,#222 439.5px,#222 439.5px,#1b0099 441.5px,#250099 477.5px,#290099 478.5px,#2e0099 517.5px,#222 518.5px,#222 518.5px)"></i>
<i style="background:linear-gradient(90deg,#222 441.5px,#222 441.5px,#1c0099 442.5px,#250099 477.5px,#290099 478.5px,#2e0099 516.5px,#222 517.5px,#222 517.5px)"></i>
<i style="background:linear-gradient(90deg,#222 442.5px,#222 442.5px,#1c0099 443.5px,#290099 479.5px,#2e0099 515.5px,#222 516.5px,#222 516.5px)"></i>
<i style="background:linear-gradient(90deg,#222 443.5px,#222 443.5px,#1c0099 444.5px,#290099 479.5px,#2d0099 514.5px,#222 515.5px,#222 515.5px)"></i>
<i style="background:linear-gradient(90deg,#222 444.5px,#222 444.5px,#1c0099 446.5px,#250099 478.5px,#290099 479.5px,#2d0099 513.5px,#222 514.5px,#222 514.5px)"></i>
<i style="background:linear-gradient(90deg,#222 445.5px,#222 445.5px,#1c0099 447.5px,#240099 478.5px,#290099 479.5px,#2d0099 512.5px,#222 514.5px,#222 514.5px)"></i>
<i style="background:linear-gradient(90deg,#222 446.5px,#222 446.5px,#1c0099 448.5px,#290099 480.5px,#2d0099 511.5px,#222 513.5px,#222 513.5px)"></i>
<i style="background:linear-gradient(90deg,#222 448.5px,#222 448.5px,#1c0099 449.5px,#290099 480.5px,#2d0099 510.5px,#222 512.5px,#222 512.5px)"></i>
<i style="background:linear-gradient(90deg,#222 449.5px,#222 449.5px,#1c0099 450.5px,#240099 479.5px,#290099 480.5px,#2d0099 509.5px,#222 511.5px,#222 511.5px)"></i>
<i style="background:linear-gradient(90deg,#222 450.5px,#222 450.5px,#1e0099 451.5px,#2c0099 508.5px,#222 510.5px,#222 510.5px)"></i>
<i style="background:linear-gradient(90deg,#222 451.5px,#222 451.5px,#1e0099 453.5px,#2c0099 507.5px,#222 509.5px,#222 509.5px)"></i>
<i style="background:linear-gradient(90deg,#222 452.5px,#222 452.5px,#1e0099 454.5px,#2c0099 506.5px,#222 508.5px,#222 508.5px)"></i>
<i style="background:linear-gradient(90deg,#222 453.5px,#222 453.5px,#1e0099 455.5px,#2c0099 506.5px,#222 507.5px,#222 507.5px)"></i>
<i style="background:linear-gradient(90deg,#222 455.5px,#222 455.5px,#1e0099 456.5px,#2c0099 505.5px,#222 506.5px,#222 506.5px)"></i>
<i style="background:linear-gradient(90deg,#222 456.5px,#222 456.5px,#1e0099 457.5px,#2c0099 504.5px,#222 505.5px,#222 505.5px)"></i>
<i style="background:linear-gradient(90deg,#222 457.5px,#222 457.5px,#1e0099 458.5px,#2c0099 503.5px,#222 504.5px,#222 504.5px)"></i>
<i style="background:linear-gradient(90deg,#222 458.5px,#222 458.5px,#1f0099 460.5px,#2b0099 502.5px,#222 503.5px,#222 503.5px)"></i>
<i style="background:linear-gradient(90deg,#222 459.5px,#222 459.5px,#1f0099 461.5px,#2b0099 501.5px,#222 502.5px,#222 502.5px)"></i>
<i style="background:linear-gradient(90deg,#222 460.5px,#222 460.5px,#1f0099 462.5px,#2b0099 500.5px,#222 501.5px,#222 501.5px)"></i>
<i style="background:linear-gradient(90deg,#222 461.5px,#222 461.5px,#200099 463.5px,#2b0099 499.5px,#222 500.5px,#222 500.5px)"></i>
<i style="background:linear-gradient(90deg,#222 463.5px,#222 463.5px,#200099 464.5px,#2b0099 498.5px,#222 500.5px,#222 500.5px)"></i>
<i style="background:linear-gradient(90deg,#222 464.5px,#222 464.5px,#200099 465.5px,#2b0099 497.5px,#222 499.5px,#222 499.5px)"></i>
<i style="background:linear-gradient(90deg,#222 465.5px,#222 465.5px,#200099 466.5px,#2a0099 496.5px,#222 498.5px,#222 498.5px)"></i>
<i style="background:linear-gradient(90deg,#222 466.5px,#222 466.5px,#200099 467.5px,#2a0099 495.5px,#222 497.5px,#222 497.5px)"></i>
<i style="background:linear-gradient(90deg,#222 467.5px,#222 467.5px,#200099 469.5px,#2a0099 494.5px,#222 496.5px,#222 496.5px)"></i>
<i style="background:linear-gradient(90deg,#222 468.5px,#222 468.5px,#210099 470.5px,#2a0099 493.5px,#222 495.5px,#222 495.5px)"></i>
<i style="background:linear-gradient(90deg,#222 469.5px,#222 469.5px,#210099 471.5px,#2a0099 492.5px,#222 494.5px,#222 494.5px)"></i>
<i style="background:linear-gradient(90deg,#222 470.5px,#222 470.5px,#210099 472.5px,#2a0099 492.5px,#222 493.5px,#222 493.5px)"></i>
<i style="background:linear-gradient(90deg,#222 472.5px,#222 472.5px,#210099 473.5px,#2a0099 491.5px,#222 492.5px,#222 492.5px)"></i>
<i style="background:linear-gradient(90deg,#222 473.5px,#222 473.5px,#209 475.5px,#290099 490.5px,#222 491.5px,#222 491.5px)"></i>
<i style="background:linear-gradient(90deg,#222 474.5px,#222 474.5px,#209 476.5px,#290099 489.5px,#222 490.5px,#222 490.5px)"></i>
<i style="background:linear-gradient(90deg,#222 476.5px,#222 476.5px,#230099 478.5px,#290099 488.5px,#222 489.5px,#222 489.5px)"></i>
<i style="background:linear-gradient(90deg,#222 478.5px,#222 478.5px,#230099 480.5px,#250099 487.5px,#222 488.5px,#222 488.5px)"></i>
<i style="background:linear-gradient(90deg,#222 480.5px,#222 480.5px,#23115e 481.5px,#23115e 482.5px,#240099 483.5px,#240099 485.5px,#222 487.5px,#222 487.5px)"></i>
<i></i>
<i></i>
<i></i>
<i></i>
<i></i>
<i></i>
<i></i>
<i></i>
<i></i>
<i></i>
<i></i>
<i></i>
<i></i>
<i></i>
<i></i>
<i></i>
<i></i>
<i></i>
<i></i>
<i></i>
<i></i>
<i></i>
<i></i>
<i></i>
</div>
<svg class="a" style="left:1377px;top:102px" width="1140" height="912" viewBox="1377 102 1140 912">
<g fill="none" stroke="#fff" stroke-width="2.4">
<rect x="1602.6" y="147.7" width="19.6" height="19.6"/>
<rect x="1629.3" y="157.9" width="19.6" height="19.6"/>
<rect x="1638.4" y="161.9" width="19.6" height="19.6"/>
<rect x="1643.8" y="168.0" width="19.6" height="19.6"/>
<rect x="1646.0" y="193.1" width="19.6" height="19.6"/>
<rect x="1658.6" y="203.5" width="19.6" height="19.6"/>
<rect x="1613.2" y="209.6" width="19.6" height="19.6"/>
<rect x="1635.6" y="230.4" width="19.6" height="19.6"/>
<rect x="1659.2" y="228.7" width="19.6" height="19.6"/>
<rect x="1666.8" y="251.7" width="19.6" height="19.6"/>
<rect x="1699.7" y="178.4" width="19.6" height="19.6"/>
<rect x="1715.0" y="177.3" width="19.6" height="19.6"/>
<rect x="1721.5" y="178.4" width="19.6" height="19.6"/>
<rect x="1727.0" y="159.8" width="19.6" height="19.6"/>
<rect x="1734.7" y="159.2" width="19.6" height="19.6"/>
<rect x="1755.5" y="161.4" width="19.6" height="19.6"/>
<rect x="1764.2" y="163.0" width="19.6" height="19.6"/>
<rect x="1766.4" y="167.4" width="19.6" height="19.6"/>
<rect x="1782.8" y="166.3" width="19.6" height="19.6"/>
<rect x="1801.5" y="171.7" width="19.6" height="19.6"/>
<rect x="1824.2" y="173.7" width="19.6" height="19.6"/>
<rect x="1833.2" y="172.8" width="19.6" height="19.6"/>
<rect x="1840.9" y="171.7" width="19.6" height="19.6"/>
<rect x="1857.1" y="183.2" width="19.6" height="19.6"/>
<rect x="1712.2" y="217.8" width="19.6" height="19.6"/>
<rect x="1756.0" y="215.6" width="19.6" height="19.6"/>
<rect x="1728.7" y="244.0" width="19.6" height="19.6"/>
<rect x="1716.1" y="256.5" width="19.6" height="19.6"/>
<rect x="1785.1" y="230.4" width="19.6" height="19.6"/>
<rect x="1810.8" y="235.2" width="19.6" height="19.6"/>
<rect x="1873.2" y="183.8" width="19.6" height="19.6"/>
<rect x="1896.7" y="178.9" width="19.6" height="19.6"/>
<rect x="1934.6" y="193.0" width="19.6" height="19.6"/>
<rect x="1933.6" y="195.0" width="19.6" height="19.6"/>
<rect x="1925.3" y="210.5" width="19.6" height="19.6"/>
<rect x="1871.5" y="208.1" width="19.6" height="19.6"/>
<rect x="1890.9" y="204.2" width="19.6" height="19.6"/>
<rect x="1901.6" y="212.9" width="19.6" height="19.6"/>
<rect x="1867.6" y="216.8" width="19.6" height="19.6"/>
<rect x="1887.0" y="224.6" width="19.6" height="19.6"/>
<rect x="1888.0" y="232.3" width="19.6" height="19.6"/>
<rect x="1845.2" y="217.8" width="19.6" height="19.6"/>
<rect x="1830.7" y="232.3" width="19.6" height="19.6"/>
<rect x="1836.2" y="230.2" width="19.6" height="19.6"/>
<rect x="1842.2" y="228.2" width="19.6" height="19.6"/>
<rect x="1848.2" y="226.2" width="19.6" height="19.6"/>
<rect x="1854.2" y="230.2" width="19.6" height="19.6"/>
<rect x="1865.6" y="233.3" width="19.6" height="19.6"/>
<rect x="1840.2" y="222.2" width="19.6" height="19.6"/>
<rect x="1828.7" y="246.9" width="19.6" height="19.6"/>
<rect x="1808.4" y="255.6" width="19.6" height="19.6"/>
<rect x="1803.5" y="264.4" width="19.6" height="19.6"/>
<rect x="1929.2" y="242.5" width="19.6" height="19.6"/>
<rect x="1906.4" y="265.8" width="19.6" height="19.6"/>
<rect x="1968.5" y="269.5" width="19.6" height="19.6"/>
<rect x="1772.9" y="271.7" width="19.6" height="19.6"/>
<rect x="1983.3" y="184.8" width="19.6" height="19.6"/>
<rect x="2041.2" y="191.2" width="19.6" height="19.6"/>
<rect x="2146.5" y="213.7" width="19.6" height="19.6"/>
<rect x="2223.2" y="207.7" width="19.6" height="19.6"/>
<rect x="2217.0" y="215.7" width="19.6" height="19.6"/>
<rect x="2208.4" y="221.6" width="19.6" height="19.6"/>
<rect x="2202.7" y="230.6" width="19.6" height="19.6"/>
<rect x="2053.9" y="242.8" width="19.6" height="19.6"/>
<rect x="2078.6" y="244.8" width="19.6" height="19.6"/>
<rect x="2030.7" y="271.7" width="19.6" height="19.6"/>
<rect x="2117.9" y="271.7" width="19.6" height="19.6"/>
<rect x="1621.3" y="267.7" width="19.6" height="19.6"/>
<rect x="1623.3" y="280.9" width="19.6" height="19.6"/>
<rect x="1622.2" y="278.2" width="19.6" height="19.6"/>
<rect x="1658.4" y="277.6" width="19.6" height="19.6"/>
<rect x="1720.6" y="273.7" width="19.6" height="19.6"/>
<rect x="1752.4" y="273.7" width="19.6" height="19.6"/>
<rect x="1628.6" y="311.4" width="19.6" height="19.6"/>
<rect x="1642.5" y="316.7" width="19.6" height="19.6"/>
<rect x="1631.2" y="335.9" width="19.6" height="19.6"/>
<rect x="1666.3" y="337.9" width="19.6" height="19.6"/>
<rect x="1704.1" y="335.2" width="19.6" height="19.6"/>
<rect x="1702.7" y="343.8" width="19.6" height="19.6"/>
<rect x="1753.7" y="339.6" width="19.6" height="19.6"/>
<rect x="1827.9" y="315.0" width="19.6" height="19.6"/>
<rect x="1635.9" y="350.5" width="19.6" height="19.6"/>
<rect x="1637.9" y="369.0" width="19.6" height="19.6"/>
<rect x="1700.1" y="365.0" width="19.6" height="19.6"/>
<rect x="1737.2" y="374.9" width="19.6" height="19.6"/>
<rect x="1821.9" y="360.4" width="19.6" height="19.6"/>
<rect x="1767.7" y="393.2" width="19.6" height="19.6"/>
<rect x="1945.8" y="317.1" width="19.6" height="19.6"/>
<rect x="1985.3" y="327.7" width="19.6" height="19.6"/>
<rect x="2045.3" y="335.7" width="19.6" height="19.6"/>
<rect x="1910.7" y="354.6" width="19.6" height="19.6"/>
<rect x="1643.9" y="408.5" width="19.6" height="19.6"/>
<rect x="1799.3" y="406.4" width="19.6" height="19.6"/>
<rect x="1859.3" y="412.5" width="19.6" height="19.6"/>
<rect x="1650.2" y="451.7" width="19.6" height="19.6"/>
<rect x="1703.6" y="463.9" width="19.6" height="19.6"/>
<rect x="1701.9" y="470.3" width="19.6" height="19.6"/>
<rect x="1921.3" y="453.6" width="19.6" height="19.6"/>
<rect x="1945.8" y="501.0" width="19.6" height="19.6"/>
<rect x="1705.8" y="555.7" width="19.6" height="19.6"/>
<rect x="1681.3" y="588.5" width="19.6" height="19.6"/>
<rect x="1699.7" y="763.9" width="19.6" height="19.6"/>
</g>
<rect x="1741.7" y="290.9" width="19" height="19" fill="none" stroke="#000" stroke-width="3"/>
<g stroke="#000" stroke-width="1.8">
<circle cx="1755.0" cy="302.5" r="6" fill="#303030"/>
<circle cx="1756.2" cy="299.5" r="6" fill="#505050"/>
<circle cx="1752.9" cy="293.8" r="6" fill="#c8ccc8"/>
<circle cx="1614.2" cy="155.3" r="6.2" fill="#14f028"/>
<circle cx="1641.0" cy="167.9" r="6.2" fill="#4a8c14"/>
<circle cx="1649.5" cy="169.6" r="6.2" fill="#5c962a"/>
<circle cx="1655.8" cy="176.1" r="6.2" fill="#4e8c34"/>
<circle cx="1657.7" cy="200.7" r="6.2" fill="#4c8c44"/>
<circle cx="1668.4" cy="211.1" r="6.2" fill="#6cac64"/>
<circle cx="1626.8" cy="215.3" r="6.2" fill="#10926c"/>
<circle cx="1647.6" cy="235.8" r="6.2" fill="#4ca484"/>
<circle cx="1674.4" cy="240.2" r="6.2" fill="#1c4028"/>
<circle cx="1676.3" cy="256.9" r="6.2" fill="#64b4a4"/>
<circle cx="1711.4" cy="186.5" r="6.2" fill="#8a9c44"/>
<circle cx="1725.9" cy="183.8" r="6.2" fill="#9cb454"/>
<circle cx="1734.3" cy="188.2" r="6.2" fill="#5c6c24"/>
<circle cx="1736.1" cy="167.7" r="6.2" fill="#c8b414"/>
<circle cx="1747.0" cy="169.6" r="6.2" fill="#c4b010"/>
<circle cx="1765.6" cy="169.3" r="6.2" fill="#f0f024"/>
<circle cx="1777.9" cy="171.2" r="6.2" fill="#b4a81c"/>
<circle cx="1780.1" cy="178.1" r="6.2" fill="#8c921c"/>
<circle cx="1798.3" cy="173.9" r="6.2" fill="#c8b81c"/>
<circle cx="1816.7" cy="180.2" r="6.2" fill="#f0d024"/>
<circle cx="1839.7" cy="184.3" r="6.2" fill="#a47c1c"/>
<circle cx="1846.3" cy="180.0" r="6.2" fill="#f0b414"/>
<circle cx="1856.5" cy="180.2" r="6.2" fill="#f8bc1c"/>
<circle cx="1874.8" cy="189.8" r="6.2" fill="#f09424"/>
<circle cx="1724.2" cy="225.4" r="6.2" fill="#5c6a4c"/>
<circle cx="1767.5" cy="219.4" r="6.2" fill="#e0c494"/>
<circle cx="1738.8" cy="248.1" r="6.2" fill="#c4e4b4"/>
<circle cx="1726.2" cy="260.7" r="6.2" fill="#c4ccbc"/>
<circle cx="1798.7" cy="239.8" r="6.2" fill="#40301c"/>
<circle cx="1827.7" cy="241.8" r="6.2" fill="#f8c49c"/>
<circle cx="1891.7" cy="196.5" r="6.2" fill="#c08020"/>
<circle cx="1911.8" cy="186.3" r="6.2" fill="#f8b414"/>
<circle cx="1918.9" cy="186.3" r="6.2" fill="#f8b414"/>
<circle cx="1954.1" cy="199.9" r="6.2" fill="#c8901c"/>
<circle cx="1951.7" cy="204.8" r="6.2" fill="#9c6c1c"/>
<circle cx="1945.8" cy="219.3" r="6.2" fill="#d08464"/>
<circle cx="1887.9" cy="216.9" r="6.2" fill="#8c5c34"/>
<circle cx="1902.4" cy="216.9" r="6.2" fill="#74442c"/>
<circle cx="1914.8" cy="224.7" r="6.2" fill="#6c3c2c"/>
<circle cx="1891.7" cy="227.6" r="6.2" fill="#d4946c"/>
<circle cx="1904.6" cy="229.5" r="6.2" fill="#50302c"/>
<circle cx="1910.9" cy="236.3" r="6.2" fill="#f0a484"/>
<circle cx="1862.8" cy="226.6" r="6.2" fill="#d4946c"/>
<circle cx="1846.8" cy="242.1" r="6.2" fill="#d49c74"/>
<circle cx="1851.2" cy="240.2" r="6.2" fill="#d49c74"/>
<circle cx="1860.7" cy="243.1" r="6.2" fill="#d4946c"/>
<circle cx="1869.6" cy="235.8" r="6.2" fill="#f0a884"/>
<circle cx="1870.6" cy="242.1" r="6.2" fill="#c08c64"/>
<circle cx="1879.3" cy="239.7" r="6.2" fill="#d4946c"/>
<circle cx="1860.9" cy="235.3" r="6.2" fill="#d4946c"/>
<circle cx="1844.4" cy="252.3" r="6.2" fill="#7c5034"/>
<circle cx="1823.5" cy="258.6" r="6.2" fill="#f4c4a4"/>
<circle cx="1817.0" cy="266.9" r="6.2" fill="#f8c4b4"/>
<circle cx="1949.7" cy="248.0" r="6.2" fill="#d47c74"/>
<circle cx="1926.9" cy="270.8" r="6.2" fill="#d47474"/>
<circle cx="1988.7" cy="275.1" r="6.2" fill="#c86070"/>
<circle cx="1786.3" cy="275.3" r="6.2" fill="#e8d0c0"/>
<circle cx="2007.9" cy="197.0" r="6.2" fill="#ff8010"/>
<circle cx="2067.6" cy="201.0" r="6.2" fill="#ff8010"/>
<circle cx="2167.2" cy="223.7" r="6.2" fill="#ff2020"/>
<circle cx="2243.7" cy="219.8" r="6.2" fill="#ff1010"/>
<circle cx="2233.1" cy="225.5" r="6.2" fill="#d01018"/>
<circle cx="2226.8" cy="232.1" r="6.2" fill="#d01018"/>
<circle cx="2218.2" cy="240.4" r="6.2" fill="#c81018"/>
<circle cx="2073.9" cy="250.2" r="6.2" fill="#c04058"/>
<circle cx="2096.4" cy="254.6" r="6.2" fill="#b03850"/>
<circle cx="2047.0" cy="281.5" r="6.2" fill="#601820"/>
<circle cx="2137.8" cy="277.8" r="6.2" fill="#c04058"/>
<circle cx="1635.1" cy="271.5" r="6.2" fill="#109880"/>
<circle cx="1632.4" cy="288.1" r="6.2" fill="#1c4030"/>
<circle cx="1635.1" cy="283.5" r="6.2" fill="#109090"/>
<circle cx="1668.5" cy="279.5" r="6.2" fill="#70b8a0"/>
<circle cx="1730.4" cy="275.3" r="6.2" fill="#c0c8c0"/>
<circle cx="1763.2" cy="277.5" r="6.2" fill="#d0d0cc"/>
<circle cx="1636.8" cy="314.2" r="6.2" fill="#10f8f8"/>
<circle cx="1651.6" cy="320.8" r="6.2" fill="#30a8a8"/>
<circle cx="1643.3" cy="337.7" r="6.2" fill="#108890"/>
<circle cx="1678.8" cy="341.7" r="6.2" fill="#7098a8"/>
<circle cx="1713.9" cy="339.1" r="6.2" fill="#607090"/>
<circle cx="1711.6" cy="347.7" r="6.2" fill="#7098b8"/>
<circle cx="1765.8" cy="343.4" r="6.2" fill="#808080"/>
<circle cx="1844.3" cy="318.9" r="6.2" fill="#b8809c"/>
<circle cx="1643.4" cy="355.9" r="6.2" fill="#183850"/>
<circle cx="1649.6" cy="372.6" r="6.2" fill="#108898"/>
<circle cx="1709.6" cy="368.2" r="6.2" fill="#6080a0"/>
<circle cx="1747.0" cy="378.5" r="6.2" fill="#8088a0"/>
<circle cx="1833.7" cy="364.2" r="6.2" fill="#503048"/>
<circle cx="1780.0" cy="397.5" r="6.2" fill="#686c80"/>
<circle cx="1960.1" cy="324.8" r="6.2" fill="#48284c"/>
<circle cx="2005.7" cy="331.2" r="6.2" fill="#c05888"/>
<circle cx="2059.4" cy="341.5" r="6.2" fill="#881058"/>
<circle cx="1929.0" cy="360.1" r="6.2" fill="#c05c90"/>
<circle cx="1653.7" cy="411.9" r="6.2" fill="#1088a8"/>
<circle cx="1811.1" cy="409.5" r="6.2" fill="#704870"/>
<circle cx="1871.0" cy="418.3" r="6.2" fill="#502848"/>
<circle cx="1657.8" cy="455.1" r="6.2" fill="#183850"/>
<circle cx="1714.1" cy="469.0" r="6.2" fill="#5868a0"/>
<circle cx="1711.7" cy="474.2" r="6.2" fill="#6070a8"/>
<circle cx="1933.0" cy="455.1" r="6.2" fill="#803070"/>
<circle cx="1960.0" cy="506.8" r="6.2" fill="#ff10ff"/>
<circle cx="1715.6" cy="558.8" r="6.2" fill="#5060a8"/>
<circle cx="1686.5" cy="589.5" r="6.2" fill="#283870"/>
<circle cx="1713.7" cy="765.3" r="6.2" fill="#1010ff"/>
<circle cx="1734.2" cy="391.3" r="6.5" fill="#000"/>
</g></svg>
<svg class="a" style="left:1340px;top:90px" width="1200" height="950" viewBox="1340 90 1200 950">
<rect x="1377" y="101.6" width="1140.4" height="912.6" fill="none" stroke="#a6a6a6" stroke-width="2.2"/>
<rect x="1375.4" y="1014" width="2" height="10" fill="#ccc"/>
<rect x="1367" y="1013.1" width="10" height="2" fill="#ccc"/>
<rect x="1468.5" y="1014" width="2" height="10" fill="#ccc"/>
<rect x="1367" y="937.0" width="10" height="2" fill="#ccc"/>
<rect x="1563.6" y="1014" width="2" height="10" fill="#ccc"/>
<rect x="1367" y="861.0" width="10" height="2" fill="#ccc"/>
<rect x="1658.8" y="1014" width="2" height="10" fill="#ccc"/>
<rect x="1367" y="784.9" width="10" height="2" fill="#ccc"/>
<rect x="1753.9" y="1014" width="2" height="10" fill="#ccc"/>
<rect x="1367" y="708.8" width="10" height="2" fill="#ccc"/>
<rect x="1849.0" y="1014" width="2" height="10" fill="#ccc"/>
<rect x="1367" y="632.7" width="10" height="2" fill="#ccc"/>
<rect x="1944.2" y="1014" width="2" height="10" fill="#ccc"/>
<rect x="1367" y="556.6" width="10" height="2" fill="#ccc"/>
<rect x="2039.3" y="1014" width="2" height="10" fill="#ccc"/>
<rect x="1367" y="480.6" width="10" height="2" fill="#ccc"/>
<rect x="2134.5" y="1014" width="2" height="10" fill="#ccc"/>
<rect x="1367" y="404.5" width="10" height="2" fill="#ccc"/>
<rect x="2229.7" y="1014" width="2" height="10" fill="#ccc"/>
<rect x="1367" y="328.4" width="10" height="2" fill="#ccc"/>
<rect x="2324.8" y="1014" width="2" height="10" fill="#ccc"/>
<rect x="1367" y="252.4" width="10" height="2" fill="#ccc"/>
<rect x="2419.9" y="1014" width="2" height="10" fill="#ccc"/>
<rect x="1367" y="176.3" width="10" height="2" fill="#ccc"/>
</svg>
<div class="t" style="left:1334.3px;top:1029px;width:80px;text-align:center">0</div>
<div class="t" style="left:1266px;top:1005.4px;width:100px;text-align:right">0</div>
<div class="t" style="left:1429.5px;top:1029px;width:80px;text-align:center">0.05</div>
<div class="t" style="left:1266px;top:929.3px;width:100px;text-align:right">0.05</div>
<div class="t" style="left:1524.6px;top:1029px;width:80px;text-align:center">0.1</div>
<div class="t" style="left:1266px;top:853.2px;width:100px;text-align:right">0.1</div>
<div class="t" style="left:1619.8px;top:1029px;width:80px;text-align:center">0.15</div>
<div class="t" style="left:1266px;top:777.1px;width:100px;text-align:right">0.15</div>
<div class="t" style="left:1714.9px;top:1029px;width:80px;text-align:center">0.2</div>
<div class="t" style="left:1266px;top:701.0px;width:100px;text-align:right">0.2</div>
<div class="t" style="left:1810.0px;top:1029px;width:80px;text-align:center">0.25</div>
<div class="t" style="left:1266px;top:625.0px;width:100px;text-align:right">0.25</div>
<div class="t" style="left:1905.2px;top:1029px;width:80px;text-align:center">0.3</div>
<div class="t" style="left:1266px;top:548.9px;width:100px;text-align:right">0.3</div>
<div class="t" style="left:2000.3px;top:1029px;width:80px;text-align:center">0.35</div>
<div class="t" style="left:1266px;top:472.8px;width:100px;text-align:right">0.35</div>
<div class="t" style="left:2095.5px;top:1029px;width:80px;text-align:center">0.4</div>
<div class="t" style="left:1266px;top:396.8px;width:100px;text-align:right">0.4</div>
<div class="t" style="left:2190.7px;top:1029px;width:80px;text-align:center">0.45</div>
<div class="t" style="left:1266px;top:320.7px;width:100px;text-align:right">0.45</div>
<div class="t" style="left:2285.8px;top:1029px;width:80px;text-align:center">0.5</div>
<div class="t" style="left:1266px;top:244.6px;width:100px;text-align:right">0.5</div>
<div class="t" style="left:2380.9px;top:1029px;width:80px;text-align:center">0.55</div>
<div class="t" style="left:1266px;top:168.5px;width:100px;text-align:right">0.55</div>
<div class="t" style="left:1821px;top:75.6px;width:200px;text-align:center;color:#ddd">CIE 1976 u'v'</div>
</body></html>
